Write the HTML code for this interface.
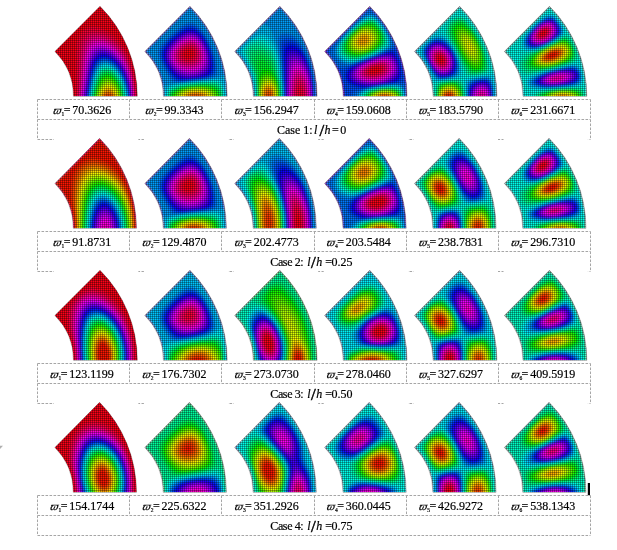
<!DOCTYPE html><html><head><meta charset="utf-8"><title>Mode shapes</title><style>html,body{margin:0;padding:0;background:#fff}svg{display:block}text{font-family:"Liberation Serif","DejaVu Serif",serif;font-size:12px;fill:#000;stroke:#000;stroke-width:0.2px}.w{font-size:11.5px;font-style:italic}.s{font-size:5.5px}.sl{font-size:17px;stroke-width:0.5px}.i{font-style:italic}</style></head><body>
<svg width="617" height="550" viewBox="0 0 617 550">
<defs><filter id="bl" x="-0.05" y="-0.05" width="1.1" height="1.1"><feGaussianBlur stdDeviation="0.9"/></filter><path id="sec" d="M63.5 0H127.3A127.3 127.3 0 0 0 90 -90L44.9 -44.9A63.5 63.5 0 0 1 63.5 0z"/><clipPath id="cl"><use href="#sec"/></clipPath><pattern id="mp" width="2" height="2" patternUnits="userSpaceOnUse"><rect width="2" height="1" fill="#000" fill-opacity="0.31"/><rect width="1" height="2" fill="#000" fill-opacity="0.31"/></pattern></defs>
<rect width="617" height="550" fill="#fff"/>
<path d="M37.5 99.5H590.5M37.5 119.5H590.5M37.5 139.5H590.5M37.5 99.5V139.5M590.5 99.5V139.5M129.5 99.5V119.5M221.5 99.5V119.5M314.5 99.5V119.5M406.5 99.5V119.5M498.5 99.5V119.5M37.5 231.5H590.5M37.5 251.5H590.5M37.5 271.5H590.5M37.5 231.5V271.5M590.5 231.5V271.5M129.5 231.5V251.5M221.5 231.5V251.5M314.5 231.5V251.5M406.5 231.5V251.5M498.5 231.5V251.5M37.5 363.5H590.5M37.5 383.5H590.5M37.5 403.5H590.5M37.5 363.5V403.5M590.5 363.5V403.5M129.5 363.5V383.5M221.5 363.5V383.5M314.5 363.5V383.5M406.5 363.5V383.5M498.5 363.5V383.5M37.5 495.5H590.5M37.5 515.5H590.5M37.5 535.5H590.5M37.5 495.5V535.5M590.5 495.5V535.5M129.5 495.5V515.5M221.5 495.5V515.5M314.5 495.5V515.5M406.5 495.5V515.5M498.5 495.5V515.5" fill="none" stroke="#a6a6a6" stroke-width="1" stroke-dasharray="2.6 1.4"/><path d="M54 5.5h84.4v93h-84.4zM143.9 5.5h84.4v93h-84.4zM233.8 5.5h84.4v93h-84.4zM323.7 5.5h84.4v93h-84.4zM413.6 5.5h84.4v93h-84.4zM503.5 5.5h84.4v93h-84.4zM54 137.5h84.4v93h-84.4zM143.9 137.5h84.4v93h-84.4zM233.8 137.5h84.4v93h-84.4zM323.7 137.5h84.4v93h-84.4zM413.6 137.5h84.4v93h-84.4zM503.5 137.5h84.4v93h-84.4zM54 269.5h84.4v93h-84.4zM143.9 269.5h84.4v93h-84.4zM233.8 269.5h84.4v93h-84.4zM323.7 269.5h84.4v93h-84.4zM413.6 269.5h84.4v93h-84.4zM503.5 269.5h84.4v93h-84.4zM54 401.5h84.4v93h-84.4zM143.9 401.5h84.4v93h-84.4zM233.8 401.5h84.4v93h-84.4zM323.7 401.5h84.4v93h-84.4zM413.6 401.5h84.4v93h-84.4zM503.5 401.5h84.4v93h-84.4z" fill="#fff"/>
<g transform="translate(10.00 96.3)"><g clip-path="url(#cl)"><g filter="url(#bl)"><rect x="40" y="-100" width="100" height="110" fill="#ff0013"/><path fill="#ff0039" d="M65.8 2.1l60.5 1.9 0-7.5-0.5-7.5-1-7.4-2.3-10.1-3.4-9.9-1.2-2.7-2.7-5.3-2.4-3.7-3.6-4.8-2.1-2.2-2.1-2.1-6-4.6-4-2.3-2.9-1.3-4.2-1.3-4-0.6-2.3 0.1-3.1 0.7-3.3 1.8-2.8 2.4-2.4 3-1.6 3.4-1 3.5-0.4 2.5-0.6 8 0 34.1-0.2 7.2z"/><path fill="#ff0060" d="M67.8 2.1l57.3 1.8 0-5.9-0.4-5.9-1.2-8.8-2.3-10-2.4-7-2.4-5.4-1.3-2.6-3.1-5-2.7-3.5-4.1-4.3-6.3-4.8-6.4-3.2-3.5-1-3.2-0.4-2.9 0.2-3.3 0.9-1.6 0.9-2.2 1.8-2.2 3-1.4 2.9-1 3.3-0.6 3-0.8 6.3-0.5 8.8-0.8 25.2z"/><path fill="#ff0086" d="M68.9 2.2l55.5 1.7-0.3-10.3-1.4-10.2-1.3-5.7-2.1-7-3.3-7.8-3-5.3-4-5.4-2-2.2-3.8-3.4-3.4-2.5-1.6-1-4.6-2.2-4.1-1.1-2.4-0.3-2.2 0.1-2.9 0.7-2.5 1.3-2.1 1.9-1.8 2.5-1.3 2.7-1.9 7.3-0.8 6.1-1.9 31.3z"/><path fill="#ff00ac" d="M69.7 2.2l54.2 1.7-0.3-8.8-1.3-10.1-2-8.6-3.5-9.5-4.2-7.7-4.5-5.7-2.9-2.9-3.8-3.1-2.6-1.7-4.2-2.1-3.3-1-3.4-0.4-2.2 0.1-2.8 0.8-1.6 0.9-2.2 1.8-1.2 1.5-1.9 3.6-1.8 6-1.3 8.5-2 25.8z"/><path fill="#ff00d2" d="M70.6 2.2l52.8 1.7-0.3-8.8-1.4-10.1-1.3-5.6-1.7-5.6-2.8-6.7-3.6-6.2-4.6-5.8-3.2-3.1-3.5-2.8-2.4-1.5-3.1-1.5-2.5-0.9-2.4-0.5-2.5-0.1-3.2 0.6-2.2 1-2.2 1.8-1.2 1.4-1.6 2.7-2 5.8-1.1 5.6z"/><path fill="#ff00f9" d="M71.3 2.2l51.7 1.7-0.4-8.8-1.2-8.6-0.9-4.2-1.6-5.6-3.2-8-1.9-3.5-2.6-4-3.7-4.5-3.2-3.1-4.3-3.2-2.9-1.6-2.7-1.1-3-0.7-2.8-0.1-2 0.3-2.6 1.1-2.2 1.7-1.3 1.5-1.7 2.8-1.7 4.6-1.6 7.5-1 7.6-2 19.5z"/><path fill="#df00ff" d="M72.1 2.3l50.4 1.6-0.5-10.2-1.1-7.1-2.2-8.4-2-5.4-3.3-6.4-2.3-3.5-2.8-3.6-4.2-4.1-2.9-2.3-2.1-1.3-4.8-2.1-3.5-0.6-2.1 0.1-1.9 0.4-2.5 1.2-2.1 1.9-1.8 2.5-1 2-1.3 3.6-1 4-0.9 5.1z"/><path fill="#b900ff" d="M72.8 2.3l49.3 1.5-0.4-8.3-1.1-7.5-0.9-4.2-1.2-4.1-0.9-2.7-2.3-5.3-1.3-2.6-3.6-5.5-3.4-4-4.7-4.3-4.8-2.9-3.3-1.2-2-0.3-1.4-0.1-2.9 0.4-1.8 0.7-1.5 1-2.1 2.1-1.7 2.7-1.8 4.6-1.1 4.1-1.8 11z"/><path fill="#9300ff" d="M73.5 2.3l48.2 1.5-0.5-8.6-1.4-8.5-2.4-8.3-2.6-5.9-2.5-4.4-3.3-4.7-4.2-4.4-3-2.5-2.8-1.7-2.6-1.2-2.4-0.7-2.3-0.3-2 0.2-1.8 0.4-2.4 1.4-2.1 2-1.2 1.8-2 4.3-1.6 5.7-1.4 7.7z"/><path fill="#6c00ff" d="M74.1 2.3l47.2 1.5-0.4-7.2-0.8-5.6-1-4.7-1.4-5-2.7-6.7-2-3.8-1.6-2.4-1.6-2.4-2.6-3.1-4.5-4.2-4-2.6-3.3-1.3-2-0.4-2.8 0-0.9 0.2-1.8 0.6-2.3 1.6-1.4 1.4-1.8 2.8-1.9 4.7-1.5 5.7z"/><path fill="#4600ff" d="M74.8 2.4l46.1 1.4-0.2-4.3-1.1-8.5-1.3-5.6-2.3-6.7-3.1-6.4-4.1-6-3.9-4.3-4.9-3.7-1.9-1-3-1-2.2-0.3-2.4 0.2-1.8 0.6-2.4 1.5-2.6 3.2-2.1 4.4-1.7 5.9-1.5 7.7z"/><path fill="#2000ff" d="M75.5 2.4l44.9 1.4-0.3-5.7-0.8-5.7-0.9-4.2-1.6-5.4-2.1-5.3-2.8-5.2-3.1-4.5-4-4.4-2.2-1.9-2.5-1.7-2.5-1.2-2.7-0.8-1.7-0.2-2.9 0.4-3.3 1.8-2.1 2.4-1.1 1.8-2 4.8-1.7 6.4z"/><path fill="#0006ff" d="M76.1 2.4l43.9 1.4-0.4-5.7-1.1-7-1.9-6.9-3.3-7.8-3.7-6.1-2.7-3.4-3.2-3.1-4.1-2.9-3.6-1.4-2.1-0.3-2 0.1-2.9 1.1-1.3 0.9-1.4 1.4-1.3 1.8-2.1 4.4-1.9 6.2-1.7 8.4z"/><path fill="#002dff" d="M76.7 2.4l42.8 1.4-0.4-5.7-1.2-7-1.5-5.4-2-5.3-2.8-5.5-3.8-5.5-3.6-3.8-2.9-2.3-3-1.6-1.8-0.6-2-0.3-2 0.1-1.8 0.4-1.6 0.9-1.6 1.3-1.9 2.4-2.2 4.6-2.2 7.5z"/><path fill="#0053ff" d="M77.3 2.4l41.7 1.3-0.3-4.2-1.1-7-1-4.1-2.4-6.6-3.6-7-2.8-4-4.3-4.5-2.6-1.9-2.4-1.2-2.2-0.7-2.8-0.2-1.3 0.2-2.5 1.1-1.5 1.2-1.4 1.6-2.3 4.1-2.1 6.1-1.4 5.9z"/><path fill="#0079ff" d="M77.9 2.4l40.6 1.3-0.7-7-1.1-5.5-1.2-4-2-5.3-2.4-4.7-2.5-3.9-1.8-2.3-2.7-2.8-2.9-2.2-3.3-1.6-1.8-0.5-2.4-0.1-1.8 0.4-2.4 1.4-1.5 1.4-1.3 1.8-1.2 2.1-1.3 3-2.3 8z"/><path fill="#009fff" d="M78.5 2.5l39.5 1.2-0.9-7.8-0.7-3.3-2-6.7-1.6-3.9-2.6-4.9-2.9-4.1-2.7-3-3.8-2.9-1.2-0.7-2.2-0.8-1.6-0.3-2.4 0.1-1.8 0.6-1.6 1-2.3 2.4-2.3 4.2-2.1 6.2-1.6 6.3z"/><path fill="#00c6ff" d="M79.1 2.5l38.4 1.2-0.6-5.6-0.8-4.1-1.5-5.4-2.6-6.5-2.7-4.9-1.6-2.3-3.9-4.3-2.5-1.9-3.4-1.6-2.1-0.3-1.9 0.1-1.8 0.5-1.6 1-2.2 2.2-1.3 2-1.2 2.5-2.2 6.4-1.8 7.4z"/><path fill="#00ecff" d="M79.7 2.5l37.2 1.2-0.6-5.6-0.8-4-1.1-4.1-2.5-6.5-1.9-3.7-3.2-4.7-2.5-2.7-2.5-2-2.3-1.3-1.8-0.6-1.4-0.3-1.9 0.1-2.6 0.9-1.6 1.2-1.9 2.3-1.5 2.5-1.1 2.7-2.3 7.2z"/><path fill="#00ffec" d="M80.2 2.5l36.2 1.2-0.7-5.5-1.2-5.5-2.2-6.5-2.4-5-2.5-3.9-2.6-3.1-2.3-2-1.3-0.9-2.3-1.1-3.1-0.6-1.9 0.3-1.7 0.7-1.8 1.4-1.2 1.4-2.6 4.6-1.9 5.4-1.6 5.8z"/><path fill="#00ffc6" d="M80.8 2.5l35 1.1-0.5-4.3-1.1-5.2-1.2-4.1-1.4-3.7-2.5-5-1.3-2-2.6-3.3-2.7-2.5-3.2-1.8-2-0.5-2-0.1-1.8 0.5-1.7 0.9-2 2-2.4 4-2.2 5.8-1.5 5.4z"/><path fill="#00ff9f" d="M81.4 2.6l33.8 1-0.7-5.4-0.9-4-2.2-6.6-2.5-5-2.3-3.5-1.9-2.2-2.7-2.4-2.7-1.4-1.7-0.5-2.8 0.1-2.5 1.2-2.3 2.3-1.4 2.1-1.3 2.6-1.6 4.4-2.8 10.4z"/><path fill="#00ff79" d="M82 2.6l32.7 1-1.4-8.1-2.6-7.8-2.2-4.3-1.3-2-1.2-1.7-2.4-2.6-3.5-2.3-3-0.8-1.3 0-1.5 0.4-1.7 0.9-1.5 1.4-1.5 1.9-2 3.8-0.6 1.6-2.4 7.6z"/><path fill="#00ff53" d="M82.6 2.6l31.5 1-0.6-4.1-1.1-4.9-1.4-4.3-3-6.2-1.7-2.5-2.4-2.8-2.3-1.8-2.1-1.1-3-0.5-2.7 0.8-2.4 1.9-1.4 1.9-1.4 2.5-2 4.9-1.3 4.1z"/><path fill="#00ff2d" d="M83.2 2.6l30.3 1-0.6-4.1-0.9-3.9-2.3-6.5-2.6-4.9-3.7-4.5-2.5-1.8-3.1-1-2.8 0.3-1.7 0.9-1.5 1.4-2.1 2.9-2.2 4.8-2.9 9.4z"/><path fill="#00ff06" d="M83.8 2.6l29.1 0.9-0.9-5.3-1.5-5.2-1.2-3.1-1.6-3.2-2.4-3.5-2.1-2.2-2-1.5-3.1-1.1-1.8 0-2.1 0.8-1.4 1-1.7 1.9-0.8 1.3-1.2 2.1-1.9 4.8-2.2 7.3z"/><path fill="#20ff00" d="M84.4 2.7l27.9 0.8-0.7-4.1-1-3.9-1.1-3.2-2.3-4.8-3-4.1-1.6-1.5-2.5-1.5-2.6-0.6-1.8 0.3-2.6 1.5-3 4-2.9 7z"/><path fill="#46ff00" d="M85 2.7l26.7 0.8-1.8-7.9-1.4-3.8-1.9-3.6-1.5-2.2-2.2-2.4-3.2-1.9-1.9-0.4-1.8 0.3-1.8 0.9-1.8 1.6-1.7 2.5-1.1 2.1-1.9 4.7z"/><path fill="#6cff00" d="M85.6 2.7l25.4 0.8-0.7-4-0.7-2.5-1.4-3.9-1.7-3.4-1.8-2.6-2.1-2.2-2.6-1.6-1.9-0.4-1.9 0.2-1.3 0.6-2 1.7-1.6 2.1-2.3 4.6z"/><path fill="#93ff00" d="M86.3 2.7l24.1 0.8-1.6-6.7-0.9-2.4-2.3-4.5-2.1-2.6-2.2-1.9-1-0.5-2-0.5-1.9 0.2-2.5 1.5-2.4 3-1.6 3.1-1.3 3.2z"/><path fill="#b9ff00" d="M87 2.7l22.7 0.7-0.9-3.9-1.2-3.8-1.8-3.7-1.1-1.7-2.1-2.4-2.1-1.3-1.9-0.6-1 0-1.8 0.5-1.7 1.2-1.7 2-2.5 4.6-1.5 3.8z"/><path fill="#dfff00" d="M87.7 2.8l21.3 0.6-1.8-6.4-1.3-2.9-1.2-2-1.9-2.3-1.3-1.1-2.7-1.1-1.9 0.2-1.7 0.8-1.1 0.9-1.4 1.7-1.7 2.8-1.1 2.4z"/><path fill="#fff900" d="M88.4 2.8l19.8 0.6-1.4-5.1-1.8-3.9-2.1-2.8-1-0.9-1-0.7-1.9-0.7-1.9 0.1-0.9 0.3-2.5 2.1-2.6 4.1z"/><path fill="#ffd200" d="M89.2 2.8l18.3 0.6-1.5-4.7-1.9-3.8-2.3-2.6-2.6-1.3-1.9 0.1-0.9 0.3-0.9 0.5-1.7 1.7-2.6 4.3z"/><path fill="#ffac00" d="M90.1 2.8l16.5 0.6-1.2-3.8-2.2-3.9-2-2-1.9-0.9-0.9-0.1-1.9 0.5-2.6 2.2-2 3.1z"/><path fill="#ff8600" d="M91 2.9l14.7 0.4-1.5-3.9-1.9-2.8-1.9-1.5-1.9-0.5-1.9 0.4-1.7 1.3-2.4 3.3z"/><path fill="#ff6000" d="M92 2.9l12.7 0.4-1.4-3.1-1-1.4-1.7-1.6-2-0.7-1.9 0.4-1.8 1.4-1.8 2.5z"/><path fill="#ff3900" d="M93.2 2.9l10.3 0.4-2.1-3.3-1.8-1.2-1-0.2-1.8 0.4-1 0.6-1.1 1.1z"/><path fill="#ff1300" d="M94.8 3l7.1 0.2-1.4-1.6-0.9-0.6-1-0.2-0.9 0-0.9 0.4-1 0.6z"/></g></g></g>
<g transform="translate(99.90 96.3)"><g clip-path="url(#cl)"><g filter="url(#bl)"><rect x="40" y="-100" width="100" height="110" fill="#ff0013"/><path fill="#ff0039" d="M63.5 2l63.7 2 0.1-7.5-0.4-6.1-0.7-7.4-0.7-4.5-2.6-11.8-1.7-5.8-3.1-8.5-3-6.9-2-4-2.9-5.3-4.8-7.7-3.5-4.9-4.7-5.9-4-4.5-3.2-3.2-45.1 45.1 2.6 2.7 2.9 3.5 3.4 4.9 3.3 6 2.1 4.8 1.5 4.2 1.8 7.3 0.8 6zM88.2-37.4l-2.5-0.7-1.8-1.6-0.6-1.8 0.2-1.7 0.9-1.8 2.4-1.9 2.5-0.7 1.4 0.2 1.7 0.9 1.4 2.1 0.3 1.2-0.3 2.3-0.5 1.1-1.4 1.4-1.7 0.8z"/><path fill="#ff0060" d="M63.5 2l63.7 2 0.1-7.5-0.4-6.1-0.7-7.4-0.7-4.5-2.6-11.8-1.7-5.8-3.1-8.5-3-6.9-2-4-2.9-5.3-4.8-7.7-3.5-4.9-4.7-5.9-4-4.5-3.2-3.2-45.1 45.1 2.6 2.7 2.9 3.5 3.4 4.9 3.3 6 2.1 4.8 1.5 4.2 1.8 7.3 0.8 6zM89.4-34.6l-3-0.2-2.5-1-1.3-0.9-1.4-1.7-0.5-1-0.3-1.7 0.1-1.8 0.4-1.2 1.1-1.8 1.3-1.5 3.1-2 2.8-0.8 2.2 0.2 1.3 0.5 1.8 1.3 1.7 2.7 0.6 2.5 0 1.3-0.4 2.1-0.4 0.9-1.4 1.9-0.8 0.7-1.7 0.9z"/><path fill="#ff0086" d="M63.5 2l63.7 2 0.1-7.5-0.4-6.1-0.7-7.4-0.7-4.5-2.6-11.8-1.7-5.8-3.1-8.5-3-6.9-2-4-2.9-5.3-4.8-7.7-3.5-4.9-4.7-5.9-4-4.5-3.2-3.2-45.1 45.1 2.6 2.7 2.9 3.5 3.4 4.9 3.3 6 2.1 4.8 1.5 4.2 1.8 7.3 0.8 6zM90.2-32.4l-3-0.1-2.3-0.5-2.6-1.3-1.8-1.5-1.3-1.7-0.5-0.9-0.5-2.1 0.2-2.5 0.4-1.1 1-1.9 1.9-2.3 1.4-1.2 2.4-1.5 1.8-0.7 1.9-0.4 2.9 0.2 1.5 0.6 2.2 1.7 1.5 2.1 0.5 1.2 0.8 2.5 0.2 2.7-0.7 3.2-0.6 1.2-1.8 2.1-1.9 1.2z"/><path fill="#ff00ac" d="M63.5 2l63.7 2 0.1-7.5-0.4-6.1-0.7-7.4-0.7-4.5-2.6-11.8-1.7-5.8-3.1-8.5-3-6.9-2-4-2.9-5.3-4.8-7.7-3.5-4.9-4.7-5.9-4-4.5-3.2-3.2-45.1 45.1 2.6 2.7 2.9 3.5 3.4 4.9 3.3 6 2.1 4.8 1.5 4.2 1.8 7.3 0.8 6zM91.8-30.7l-2.9 0.3-2-0.2-3.2-0.9-2.6-1.3-1.7-1.4-1.3-1.6-1-1.8-0.6-2-0.1-2.3 0.3-1.3 1.1-2.6 1.2-1.7 2-2.1 2.9-2.2 1.7-0.9 2.7-0.9 2.1-0.2 2.2 0.3 2.6 1.3 1 0.9 2.4 3.2 1.4 3.7 0.4 2.6 0 1.4-0.5 2.9-0.6 1.6-1.2 1.7-2.6 2.2z"/><path fill="#ff00d2" d="M63.5 2l63.7 2 0.1-7.5-0.4-6.1-0.7-7.4-0.7-4.5-2.6-11.8-1.7-5.8-3.1-8.5-3-6.9-2-4-2.9-5.3-4.8-7.7-3.5-4.9-4.7-5.9-4-4.5-3.2-3.2-45.1 45.1 2.6 2.7 2.9 3.5 3.4 4.9 3.3 6 2.1 4.8 1.5 4.2 1.8 7.3 0.8 6zM89.5-28.7l-3-0.2-2.1-0.5-2.8-1.2-2.1-1.4-2.3-2.3-1.6-2.6-0.8-2.9 0-1.2 0.4-2.6 1.3-2.7 1.1-1.6 2-2.2 2.1-1.8 2.3-1.5 3.5-1.5 3-0.4 2 0.2 1.6 0.6 2.4 1.6 1.8 2 1.4 2.3 1.5 3.8 0.5 2.4 0.1 2.8-0.4 2.9-1 2.5-2.1 2.5-3.3 2-3.6 0.9z"/><path fill="#ff00f9" d="M63.5 2l63.7 2 0.1-7.5-0.4-6.1-0.7-7.4-0.7-4.5-2.6-11.8-1.7-5.8-3.1-8.5-3-6.9-2-4-2.9-5.3-4.8-7.7-3.5-4.9-4.7-5.9-4-4.5-3.2-3.2-45.1 45.1 2.6 2.7 2.9 3.5 3.4 4.9 3.3 6 2.1 4.8 1.5 4.2 1.8 7.3 0.8 6zM91.9-27.2l-2.8 0.2-3.7-0.5-3.8-1.4-2.8-1.8-1.2-1-2.3-2.8-1-1.8-0.6-1.8-0.3-2.1 0.1-2.4 1.1-3 1.7-2.7 1.9-2.1 2.9-2.5 3.1-2 2.5-1.1 2.9-0.7 2.2 0.1 2.3 0.6 2.1 1.2 2.3 2.3 2.2 3.4 1 2.4 0.9 2.8 0.4 2.4 0.1 2.8-0.4 2.9-1 2.6-1.6 2.2-2.8 2.2-2.6 1.1z"/><path fill="#df00ff" d="M63.5 2l63.7 2 0.1-7.5-0.4-6.1-0.7-7.4-0.7-4.5-2.6-11.8-1.7-5.8-3.1-8.5-3-6.9-2-4-2.9-5.3-4.8-7.7-3.5-4.9-4.7-5.9-4-4.5-3.2-3.2-45.1 45.1 2.6 2.7 2.9 3.5 3.4 4.9 3.3 6 2.1 4.8 1.5 4.2 1.8 7.3 0.8 6zM90.5-25.4l-3.9-0.3-3.7-1-1.8-0.8-2.9-1.9-2.8-2.7-1.8-2.7-1.4-3.7-0.2-2.1 0.5-3.3 0.9-2.1 1.4-2.2 2.8-3.2 2.1-1.9 3.8-2.6 3.4-1.5 3-0.6 2.3 0.1 2.6 0.9 1.8 1.1 2.9 2.9 2.1 3.4 1.1 2.5 1.1 3.7 0.5 3.8 0 2.5-0.3 2-1 2.9-1.4 2.1-2 1.9-2.7 1.5-3.6 1z"/><path fill="#b900ff" d="M63.5 2l63.7 2 0.1-7.5-0.4-6.1-0.7-7.4-0.7-4.5-2.6-11.8-1.7-5.8-3.1-8.5-3-6.9-2-4-2.9-5.3-4.8-7.7-3.5-4.9-4.7-5.9-4-4.5-3.2-3.2-45.1 45.1 2.6 2.7 2.9 3.5 3.4 4.9 3.3 6 2.1 4.8 1.5 4.2 1.8 7.3 0.8 6zM93.7-24.1l-1.8 0.2-4.9-0.2-4.1-1.1-3.5-1.7-1.7-1.2-2.4-2.2-1.8-2.4-1.8-3.3-0.9-3.4 0.2-3.5 0.7-2.3 2.1-3.6 2.5-2.9 2.8-2.5 4.6-3.1 1.7-0.8 4.2-1.2 2.3 0.1 3.3 1 2.4 1.7 1.9 2 2.3 3.3 1.2 2.4 1.4 3.8 0.9 4 0.2 4.2-0.3 2.4-1 3.1-0.6 1.1-2.3 2.8-2.3 1.5-1.7 0.8z"/><path fill="#9300ff" d="M63.5 2l63.7 2 0.1-7.5-0.4-6.1-0.7-7.4-0.7-4.5-2.6-11.8-1.7-5.8-3.1-8.5-3-6.9-2-4-2.9-5.3-4.8-7.7-3.5-4.9-4.7-5.9-4-4.5-3.2-3.2-45.1 45.1 2.6 2.7 2.9 3.5 3.4 4.9 3.3 6 2.1 4.8 1.5 4.2 1.8 7.3 0.8 6zM91.3-22.3l-4.9-0.4-2-0.5-3.2-1.2-3.7-2.2-3-2.8-2.6-3.6-1.6-3.4-0.7-3.3 0.1-2.9 0.8-2.8 1.5-2.7 2.4-3.1 4.8-4.4 3.9-2.6 1.6-0.9 2.7-1 3-0.5 3 0.4 2.3 1 1.7 1.2 3 3 2.2 3.4 1.8 3.7 1.6 5.2 0.6 4.1-0.2 4.9-0.6 2.3-1.6 3.2-1.4 1.7-2.5 1.9-1.7 0.8-3.6 1.1z"/><path fill="#6c00ff" d="M63.5 2l63.7 2 0.1-7.5-0.4-6.1-0.7-7.4-0.7-4.5-2.6-11.8-1.7-5.8-3.1-8.5-3-6.9-2-4-2.9-5.3-4.8-7.7-3.5-4.9-4.7-5.9-4-4.5-3.2-3.2-45.1 45.1 2.6 2.7 2.9 3.5 3.4 4.9 3.3 6 2.1 4.8 1.5 4.2 1.8 7.3 0.8 6zM89.8-20.9l-3.3-0.3-3.8-1.1-3-1.3-3.9-2.8-1.5-1.5-2.4-3.1-2.2-4-1.1-3.7-0.2-3.1 0.5-2.6 0.6-1.6 2.4-3.9 3.9-4.2 2.8-2.4 4.6-3.1 2.5-1.2 2.9-0.9 3.2-0.1 2.7 0.7 2.8 1.6 2.1 1.9 3.3 4.4 1.9 3.7 1.9 5.1 1.1 5.5 0.1 4.2-0.4 2.9-1 3-0.9 1.7-1.2 1.5-2.1 1.8-2.3 1.2-1.8 0.6-3.6 0.8z"/><path fill="#4600ff" d="M63.5 2l63.7 2 0.1-7.5-0.4-6.1-0.7-7.4-0.7-4.5-2.6-11.8-1.7-5.8-3.1-8.5-3-6.9-2-4-2.9-5.3-4.8-7.7-3.5-4.9-4.7-5.9-4-4.5-3.2-3.2-45.1 45.1 2.6 2.7 2.9 3.5 3.4 4.9 3.3 6 2.1 4.8 1.5 4.2 1.8 7.3 0.8 6zM89.1-19.6l-3.6-0.3-3.7-1.2-2.7-1.3-3-2.1-3.5-3.7-1.7-2.3-1.4-2.4-1.8-4.5-0.5-3.7 0.5-3.4 0.8-2 1.6-2.8 2.4-3 4-3.9 2.9-2.3 3.9-2.5 4.4-1.8 3.2-0.3 1.8 0.2 1.7 0.5 2.2 1.1 2.7 2.2 2.7 3.2 1.5 2.3 1.9 3.7 2.3 6.5 1 5.5 0.1 4.2-0.4 3-1 3-1.5 2.6-2.4 2.3-2.5 1.1-3.6 1-3.7 0.7z"/><path fill="#2000ff" d="M63.5 2l63.7 2 0.1-7.5-0.4-6.1-0.7-7.4-0.7-4.5-2.6-11.8-1.7-5.8-3.1-8.5-3-6.9-2-4-2.9-5.3-4.8-7.7-3.5-4.9-4.7-5.9-4-4.5-3.2-3.2-45.1 45.1 2.6 2.7 2.9 3.5 3.4 4.9 3.3 6 2.1 4.8 1.5 4.2 1.8 7.3 0.8 6zM90.2-18.7l-4.7 0.1-2.9-0.6-4.2-2-2.7-2-1.7-1.6-3.6-4.5-3-5.6-0.9-2.7-0.4-2.6 0-2.4 0.6-2.7 1.6-3.3 2.2-3 3.3-3.6 5-4.2 4.6-3 3.5-1.5 3.4-0.6 3.4 0.5 3.2 1.6 2.2 1.8 2 2.1 3.1 4.5 2.5 5 2.2 6.6 0.8 4.2 0.2 5.6-0.4 3-0.9 2.9-1.5 2.8-1.6 1.4-1.7 1-3.5 1.2-5.4 1.1z"/><path fill="#0006ff" d="M63.5 2l63.7 2 0.1-7.5-0.4-6.1-0.7-7.4-0.7-4.5-2.6-11.8-1.7-5.8-3.1-8.5-3-6.9-2-4-2.9-5.3-4.8-7.7-3.5-4.9-4.7-5.9-4-4.5-3.2-3.2-45.1 45.1 2.6 2.7 2.9 3.5 3.4 4.9 3.3 6 2.1 4.8 1.5 4.2 1.8 7.3 0.8 6zM92.3-18l-4.7 0.4-3.1 0-2.8-0.4-3-1.4-3-2.1-1.6-1.4-3.2-3.7-2.9-4.6-1.9-4-0.8-2.6-0.4-2.6 0.1-3.2 1.2-3.7 1.9-3.1 3.1-3.7 2.6-2.6 3.5-3 4.5-3.2 3.4-1.8 2-0.7 2.8-0.5 2.5 0.2 1.4 0.4 1.5 0.6 2.5 1.6 3.1 3 2.5 3.3 2.8 4.9 2.7 6.5 1.4 5.4 0.7 5.6 0 2.9-0.7 4.4-1.2 3-0.9 1.3-0.8 0.7-3.7 1.8-2.4 0.7z"/><path fill="#002dff" d="M63.5 2l63.7 2 0.1-7.5-0.4-6.1-0.7-7.4-0.7-4.5-2.6-11.8-1.7-5.8-3.1-8.5-3-6.9-2-4-2.9-5.3-4.8-7.7-3.5-4.9-4.7-5.9-4-4.5-3.2-3.2-45.1 45.1 2.6 2.7 2.9 3.5 3.4 4.9 3.3 6 2.1 4.8 1.5 4.2 1.8 7.3 0.8 6zM85.9-16.7l-4.7-0.1-2.1-0.6-3.3-2.2-4.1-4-1.8-2.4-2.5-4-2.3-4.7-1.3-4.3-0.2-4.2 0.6-2.6 0.7-1.7 1.9-3.2 4.3-5 5.5-5 5.2-3.7 4.3-2.2 2.9-0.7 3 0 2 0.6 2.6 1.2 3.4 2.8 3.6 4.3 2.9 4.9 2.8 6.4 1.7 5.4 1.1 5.6 0.2 2.8-0.1 4.3-0.5 3-1.2 3-1.9 1.7-1.7 0.9-3.6 1.2-4.5 1-4.6 0.7z"/><path fill="#0053ff" d="M63.5 2l63.7 2 0.1-7.5-0.4-6.1-0.7-7.4-0.7-4.5-2.6-11.8-1.7-5.8-3.1-8.5-3-6.9-2-4-2.9-5.3-4.8-7.7-3.5-4.9-4.7-5.9-4-4.5-3.2-3.2-45.1 45.1 2.6 2.7 2.9 3.5 3.4 4.9 3.3 6 2.1 4.8 1.5 4.2 1.8 7.3 0.8 6zM87.9-16.1l-3.7 0.3-3.8 0-1.9-0.3-1.8-0.8-3.5-2.9-2-2.2-2.2-3-3.9-6.8-1.4-3.1-1.1-3.4-0.5-3.9 0.6-3.7 0.6-1.6 1.5-2.7 2.9-3.8 5.3-5.3 4.2-3.6 5.3-3.7 4.4-2 2-0.4 2.2-0.1 2.8 0.6 1.3 0.6 3.7 2.5 3.9 4.2 3.8 6 3.1 6.4 2.3 6.7 0.7 2.8 0.9 5.6 0.1 4.3-0.3 3-0.7 2.9-1 1.6-2 1.5-3.5 1.4-5.4 1.2-6.4 1z"/><path fill="#0079ff" d="M63.5 2l63.7 2 0.1-7.5-0.4-6.1-0.7-7.4-0.7-4.5-2.6-11.8-1.7-5.8-3.1-8.5-3-6.9-2-4-2.9-5.3-4.8-7.7-3.5-4.9-4.7-5.9-4-4.5-3.2-3.2-45.1 45.1 2.6 2.7 2.9 3.5 3.4 4.9 3.3 6 2.1 4.8 1.5 4.2 1.8 7.3 0.8 6zM94.5-16.2l-12 1.3-5.7-0.2-2.1-1-4-4-4.4-6.6-3.8-7.6-1.2-3.2-0.8-3.6 0.2-3.8 1.5-4.1 2.2-3.3 4.3-4.9 6.8-6.2 5.2-4 3.1-1.9 2.7-1.2 2-0.5 3.5 0 3.4 1.2 1.3 0.8 2.3 1.8 2.1 2.1 3.5 4.5 4.3 7.5 2.3 5.2 2.6 8.2 1.3 7.1 0.2 4.3-0.2 2.9-0.8 3-1.5 1.7-2.9 1.5-2.6 0.9-7.3 1.4z"/><path fill="#009fff" d="M63.5 2l63.7 2 0.1-7.5-0.4-6.1-0.7-7.4-0.7-4.5-2.6-11.8-1.7-5.8-3.1-8.5-3-6.9-2-4-2.9-5.3-4.8-7.7-3.5-4.9-4.7-5.9-4-4.5-3.2-3.2-45.1 45.1 2.6 2.7 2.9 3.5 3.4 4.9 3.3 6 2.1 4.8 1.5 4.2 1.8 7.3 0.8 6zM82.6-14.2l-3.7 0.3-4.7-0.2-1-0.3-0.9-0.7-2.1-2.2-3.9-5.8-5.6-11.1-1.8-4.7-0.6-2.7 0-3.2 0.6-2.4 0.9-1.9 2.1-3.2 5-5.6 5.4-5.1 5.6-4.8 5.3-3.8 2.5-1.3 2.9-0.9 2.3-0.1 1.3 0.2 2.5 0.9 4.8 3.6 5.5 6.7 4.4 7.5 4 9.3 1.4 4.1 1.1 4.2 1.2 7.2 0.2 2.9-0.2 4.4-0.7 1.5-1.9 1.6-1.7 0.8-4.5 1.4-9.1 1.5z"/><path fill="#00c6ff" d="M63.5 2l63.7 2 0.1-7.5-0.6-9.1-1-7.4-1.1-0.9-4.5 1.1-8 2.4-5.5 1-23.8 3-13 1.2-6.3 1.3-0.8 0.9 0.8 7.5z"/><path fill="#00ecff" d="M65.7 2.1l59.4 1.8 0.1-4.4-0.3-4.4-0.8-4.4-0.9-2.9-1.6-2.8-1.9-1.4-1.9-0.4-1.9 0-7.3 1-11.1 1.1-22 3-2.7 0.6-2.6 1.1-0.9 0.5-1.6 1.6-0.8 1.3-0.6 1.6-0.5 3.2z"/><path fill="#00ffec" d="M66.7 2.1l57.5 1.8 0-5.9-0.3-2.9-1-4.3-1.3-2.9-1-1.3-1.6-1.1-1.9-0.7-4.1-0.1-3.4 0.2-12.9 1.1-7.3 0.9-9.2 1.4-7.2 1.8-1.8 0.8-1.7 1.2-1.5 2-0.7 1.6-0.5 2.4z"/><path fill="#00ffc6" d="M67.5 2.1l55.9 1.8 0.1-4.4-0.5-4.4-0.7-2.9-1.2-2.8-0.8-1.1-1.1-0.9-1.9-1-2.7-0.5-8.6 0-8.3 0.6-9.2 1.1-9.6 1.7-3.1 0.8-2.7 1-2.9 1.9-1.4 1.7-0.8 1.9-0.3 1.5z"/><path fill="#00ff9f" d="M68.2 2.1l54.5 1.8 0.1-4.4-0.3-2.9-1-3.8-1-2.2-2.1-2.1-1.9-1-2.9-0.6-4.7-0.3-4.6 0.1-6.5 0.4-11.9 1.5-6.4 1.3-4.5 1.4-1.8 0.8-1.7 1.2-0.9 0.7-1.2 1.6-0.9 2.5z"/><path fill="#00ff79" d="M69 2.2l53 1.6 0.1-4.3-0.7-4.3-1.1-2.8-0.9-1.4-1.8-1.6-2.9-1.2-3.4-0.6-8.8-0.2-5.6 0.4-11 1.4-6.3 1.4-3.6 1.2-2.6 1.3-2.7 2.2-1.1 1.9-0.5 1.7-0.2 1.6z"/><path fill="#00ff53" d="M69.8 2.2l51.5 1.6 0.1-2.9-0.5-4.3-1-2.8-1.2-1.8-2-1.7-1.9-0.9-3.8-0.9-4.2-0.4-6.1 0-7.4 0.6-6.4 0.9-6.3 1.4-4 1.4-3.6 2.1-1.1 0.9-1.1 1.4-0.6 1.2-0.4 1.7z"/><path fill="#00ff2d" d="M70.7 2.2l49.7 1.6 0.2-2.9-0.3-2.8-0.9-2.8-0.7-1.4-1.1-1.4-1.7-1.3-2.9-1.3-1.9-0.5-3.8-0.5-5.6-0.2-4.6 0.2-10.1 1.3-6.4 1.5-4.1 1.6-3.1 2-1.6 1.8-1.1 2.6z"/><path fill="#00ff06" d="M71.7 2.3l47.8 1.5 0.2-2.9-0.4-2.8-1.1-2.8-1.2-1.7-3-2.2-3.1-1.1-2.6-0.5-4.7-0.4-4.6 0-6.5 0.5-4.5 0.7-6.4 1.5-4.5 1.8-3.2 2.3-1.5 1.8-0.7 1.7z"/><path fill="#20ff00" d="M72.9 2.3l45.5 1.4 0.2-2.8-0.4-2.8-1.3-2.7-1.2-1.4-2.5-1.8-2.9-1.1-2.8-0.6-3.8-0.4-4.6-0.1-4.7 0.3-7.1 1-4.7 1.2-4.5 1.8-2.6 1.8-1.9 2-0.7 1.6-0.2 1.7z"/><path fill="#46ff00" d="M74.2 2.3l43 1.4 0.2-2.8-0.1-1.4-1.1-2.9-0.8-1.2-1.3-1.3-1.8-1.2-3.8-1.4-2.8-0.5-2.9-0.3-5.5 0-6.5 0.6-6.4 1.3-5.4 2.1-3 2.3-1.4 1.8-0.6 1.8z"/><path fill="#6cff00" d="M75.4 1.5l0.2 0.9 37.8 1.2 2.5 0 0.2-1.3-0.2-2.8-0.6-1.8-1-1.6-1.9-1.9-2.3-1.2-2.5-0.8-3.8-0.7-2.8-0.2-5.5 0.1-4.6 0.5-4.6 0.9-3.1 0.9-4.1 2-1.5 1.2-1.6 1.9-0.5 1.2z"/><path fill="#93ff00" d="M77 2.4l37.5 1.2 0.3-2.7-0.7-2.7-0.7-1.2-1.9-2-1.9-1.1-1.9-0.8-2.9-0.7-3.7-0.4-4.6 0-6.5 0.7-3.7 0.8-4.5 1.6-2.7 1.8-1.6 1.9-0.7 1.8z"/><path fill="#b9ff00" d="M78.2 1.5l0.2 1 34.6 1.1 0.3-1.4-0.2-2.7-0.5-1.3-0.9-1.3-1.3-1.3-2-1.2-3.3-1.1-5.8-0.7-6.5 0.3-4.6 0.8-3.6 1.1-2.7 1.3-2.2 1.7-1.2 1.9z"/><path fill="#dfff00" d="M80 2.5l31.5 1 0.3-2.6-0.2-1.4-0.6-1.3-1.3-1.6-1.9-1.3-1.8-0.8-3.9-0.9-5.5-0.3-4.7 0.4-3.6 0.7-3.6 1.2-2.1 1.1-1.6 1.4-0.9 1.3-0.4 1.2 0 1z"/><path fill="#fff900" d="M81.5 2.6l28.4 0.9 0.4-2.6-0.3-1.4-1.2-1.9-1.9-1.5-1.9-0.9-3.7-0.9-1.9-0.2-5.6 0.1-5.5 1-2.7 1-1.8 1-0.9 0.7-1.3 1.8-0.3 0.9z"/><path fill="#ffd200" d="M83.3 2.6l24.9 0.8 0.4-1.3 0-1.3-0.3-1.2-0.8-1.3-1.5-1.3-1.9-1-3.7-0.9-5.6-0.2-2.8 0.3-2.7 0.6-2.1 0.7-2.1 1.1-1.3 1.2-0.9 1.8 0 1z"/><path fill="#ffac00" d="M85.2 2.7l21.1 0.6 0.4-1.2 0.1-1.3-0.4-1.2-1-1.3-1.7-1.2-4.2-1.2-4.7-0.1-4.6 0.7-2.7 1.1-1.5 1-1.2 2.1 0 1z"/><path fill="#ff8600" d="M87.4 2.7l16.7 0.6 0.5-1.3 0-1.2-0.4-1.2-1.3-1.2-1.5-0.8-3.7-0.8-4.7 0.2-3.6 1.1-2 1.5-0.5 1.1 0 1z"/><path fill="#ff6000" d="M89.6 1.8l0.8 1 0.8 0.1 9.9 0.3 0.8-1.2 0-1.2-0.7-1.2-1.6-0.9-1.9-0.5-2.8-0.1-2.4 0.4-2.2 1.1-0.7 1.1z"/></g></g></g>
<g transform="translate(189.80 96.3)"><g clip-path="url(#cl)"><g filter="url(#bl)"><rect x="40" y="-100" width="100" height="110" fill="#ff0013"/><path fill="#ff0039" d="M63.5 2l44.6 1.4 0.1-2.6 0.5-2.5 1-1.5 0.9 0.3 1 2.3 0.1 4.1 15.5 0.5 0.1-7.5-0.4-6.1-0.7-7.4-0.7-4.5-2.6-11.8-1.7-5.8-3.1-8.5-3-6.9-2-4-2.9-5.3-4.8-7.7-3.5-4.9-4.7-5.9-4-4.5-3.2-3.2-45.1 45.1 2.6 2.7 2.9 3.5 3.4 4.9 3.3 6 2.1 4.8 1.5 4.2 1.8 7.3 0.8 6z"/><path fill="#ff0060" d="M63.5 2l41.9 1.3 0.4-6.2 1-5.1 0.6-1.7 0.9-1.2 0.8-0.5 1 0.1 1 0.6 0.8 0.9 1.3 2.6 1.2 5.4 0.1 5.4 12.7 0.4 0.1-7.5-0.4-6.1-0.7-7.4-0.7-4.5-2.6-11.8-1.7-5.8-3.1-8.5-3-6.9-2-4-2.9-5.3-4.8-7.7-3.5-4.9-4.7-5.9-4-4.5-3.2-3.2-45.1 45.1 2.6 2.7 2.9 3.5 3.4 4.9 3.3 6 2.1 4.8 1.5 4.2 1.8 7.3 0.8 6z"/><path fill="#ff0086" d="M63.5 2l40.3 1.3 0.5-7.4 1.1-7 1.4-3.8 0.8-1 1.8-0.5 2.1 1.2 1.1 1.3 1.2 2.2 1.1 3.1 1.1 5.4 0.2 6.9 11 0.3 0.1-7.5-0.4-6.1-0.7-7.4-0.7-4.5-2.6-11.8-1.7-5.8-3.1-8.5-3-6.9-2-4-2.9-5.3-4.8-7.7-3.5-4.9-4.7-5.9-4-4.5-3.2-3.2-45.1 45.1 2.6 2.7 2.9 3.5 3.4 4.9 3.3 6 2.1 4.8 1.5 4.2 1.8 7.3 0.8 6z"/><path fill="#ff00ac" d="M63.5 2l39.1 1.2 0.8-11 1.4-8 0.7-1.9 1.2-1.9 1.1-0.8 0.9 0 1.1 0.2 1 0.6 1.7 1.7 1.6 2.5 1.6 3.9 1.5 6.9 0.3 4.1 0 4.2 9.7 0.3 0.1-7.5-0.4-6.1-0.7-7.4-0.7-4.5-2.6-11.8-1.7-5.8-3.1-8.5-3-6.9-2-4-2.9-5.3-4.8-7.7-3.5-4.9-4.7-5.9-4-4.5-3.2-3.2-45.1 45.1 2.6 2.7 2.9 3.5 3.4 4.9 3.3 6 2.1 4.8 1.5 4.2 1.8 7.3 0.8 6z"/><path fill="#ff00d2" d="M63.5 2l38 1.2 1.1-14.5 1-6.3 1.2-3.8 0.7-1.2 0.8-0.9 0.8-0.4 0.9-0.1 1 0.1 1 0.5 2.3 1.9 1.5 2 1.1 2 1.4 3.4 1.5 5.9 0.5 3.5 0.3 5.6-0.1 2.8 8.7 0.3 0.1-7.5-0.4-6.1-0.7-7.4-0.7-4.5-2.6-11.8-1.7-5.8-3.1-8.5-3-6.9-2-4-2.9-5.3-4.8-7.7-3.5-4.9-4.7-5.9-4-4.5-3.2-3.2-45.1 45.1 2.6 2.7 2.9 3.5 3.4 4.9 3.3 6 2.1 4.8 1.5 4.2 1.8 7.3 0.8 6z"/><path fill="#ff00f9" d="M63.5 2l37 1.2 1.1-15.2 1.3-9.2 1-3 0.8-1.6 1.6-1.3 0.9-0.2 2.1 0.4 2.2 1.6 2.6 3.2 1.9 3.6 1 2.7 1.4 5.5 0.9 7 0.1 7.1 7.8 0.2 0.1-7.5-0.4-6.1-0.7-7.4-0.7-4.5-2.6-11.8-1.7-5.8-3.1-8.5-3-6.9-2-4-2.9-5.3-4.8-7.7-3.5-4.9-4.7-5.9-4-4.5-3.2-3.2-45.1 45.1 2.6 2.7 2.9 3.5 3.4 4.9 3.3 6 2.1 4.8 1.5 4.2 1.8 7.3 0.8 6z"/><path fill="#df00ff" d="M63.5 2l36.1 1.1 1.4-19.4 1.2-8.2 0.5-1.8 1.2-2.6 0.8-0.8 0.8-0.4 1.9-0.2 1 0.2 2.3 1.3 2.4 2.4 3 5.1 1 2.6 1.6 5.5 1 6.1 0.4 5.2 0 5.7 7.1 0.2 0.1-7.5-0.4-6.1-0.7-7.4-0.7-4.5-2.6-11.8-1.7-5.8-3.1-8.5-3-6.9-2-4-2.9-5.3-4.8-7.7-3.5-4.9-4.7-5.9-4-4.5-3.2-3.2-45.1 45.1 2.6 2.7 2.9 3.5 3.4 4.9 3.3 6 2.1 4.8 1.5 4.2 1.8 7.3 0.8 6z"/><path fill="#b900ff" d="M63.5 2l35.3 1.1 1.2-19.7 0.6-6.5 0.8-4.5 0.9-2.7 1.5-2.3 0.8-0.5 1.9-0.2 1 0.2 2.3 1 2.1 1.8 2.7 3.6 2.3 4.6 1.6 4.7 1.2 5.5 1 8.5 0 7.2 6.5 0.2 0.1-7.5-0.4-6.1-0.7-7.4-0.7-4.5-2.6-11.8-1.7-5.8-3.1-8.5-3-6.9-2-4-2.9-5.3-4.8-7.7-3.5-4.9-4.7-5.9-4-4.5-3.2-3.2-45.1 45.1 2.6 2.7 2.9 3.5 3.4 4.9 3.3 6 2.1 4.8 1.5 4.2 1.8 7.3 0.8 6z"/><path fill="#9300ff" d="M63.5 2l34.5 1.1 1.3-23.5 0.8-8 0.9-3.8 0.9-2 1-1.2 0.8-0.5 1.8-0.3 2.1 0.4 1.2 0.6 2.8 2.1 2.8 3.6 1.5 2.6 1.1 2.5 2.2 6.9 1.4 7 0.7 8.6 0 5.7 5.9 0.2 0.1-7.5-0.4-6.1-0.7-7.4-0.7-4.5-2.6-11.8-1.7-5.8-3.1-8.5-3-6.9-2-4-2.9-5.3-4.8-7.7-3.5-4.9-4.7-5.9-4-4.5-3.2-3.2-45.1 45.1 2.6 2.7 2.9 3.5 3.4 4.9 3.3 6 2.1 4.8 1.5 4.2 1.8 7.3 0.8 6z"/><path fill="#6c00ff" d="M63.5 2l33.9 1.1 1.3-29.9 0.6-5.2 0.7-2.9 1.2-2.5 1.5-1.3 1.8-0.4 2.1 0.3 2 0.9 1.7 1.2 2.9 3.1 2.4 3.8 2.3 5.3 1.1 3.3 1.2 5 1.4 9.9 0.2 10.1 5.4 0.2 0.1-7.5-0.4-6.1-0.7-7.4-0.7-4.5-2.6-11.8-1.7-5.8-3.1-8.5-3-6.9-2-4-2.9-5.3-4.8-7.7-3.5-4.9-4.7-5.9-4-4.5-3.2-3.2-45.1 45.1 2.6 2.7 2.9 3.5 3.4 4.9 3.3 6 2.1 4.8 1.5 4.2 1.8 7.3 0.8 6z"/><path fill="#4600ff" d="M63.5 2l33.3 1 0.8-28.2 0.6-9.1 0.8-3.6 1.1-2.3 1.5-1.2 1.8-0.5 1 0 2.2 0.5 2.5 1.4 1.4 1.1 1.5 1.5 1.7 2.2 2.2 3.8 2.7 6.7 1.9 6.9 1.6 11.5 0.2 10.1 4.9 0.2 0.1-7.5-0.4-6.1-0.7-7.4-0.7-4.5-2.6-11.8-1.7-5.8-3.1-8.5-3-6.9-2-4-2.9-5.3-4.8-7.7-3.5-4.9-4.7-5.9-4-4.5-3.2-3.2-45.1 45.1 2.6 2.7 2.9 3.5 3.4 4.9 3.3 6 2.1 4.8 1.5 4.2 1.8 7.3 0.8 6z"/><path fill="#2000ff" d="M63.5 2l32.7 1 0.3-5.7 0.2-27.7 0.5-7.4 0.7-3 1-2.2 0.7-0.7 1.7-0.9 1.9-0.2 3.4 0.8 3.7 2.6 2.1 2.2 1.7 2.4 2.3 4.3 2.7 7 2.2 9.1 1.3 10.1 0.2 4.3-0.1 5.9 4.5 0.1 0.1-7.5-0.4-6.1-0.7-7.4-0.7-4.5-2.6-11.8-1.7-5.8-3.1-8.5-3-6.9-2-4-2.9-5.3-4.8-7.7-3.5-4.9-4.7-5.9-4-4.5-3.2-3.2-45.1 45.1 2.6 2.7 2.9 3.5 3.4 4.9 3.3 6 2.1 4.8 1.5 4.2 1.8 7.3 0.8 6z"/><path fill="#0006ff" d="M63.5 2l32.2 1 0.2-4.2-0.2-36 0.5-5.1 0.7-2.2 0.7-1.4 0.7-0.7 1.6-0.9 3-0.3 2.3 0.6 2 1 2.1 1.5 1.6 1.5 3.5 4.8 2 3.9 1.7 4 1.8 5.5 1.9 8.5 0.7 4.4 0.6 7.2 0.1 8.8 4 0.1 0.1-7.5-0.4-6.1-0.7-7.4-0.7-4.5-2.6-11.8-1.7-5.8-3.1-8.5-3-6.9-2-4-2.9-5.3-4.8-7.7-3.5-4.9-4.7-5.9-4-4.5-3.2-3.2-45.1 45.1 2.6 2.7 2.9 3.5 3.4 4.9 3.3 6 2.1 4.8 1.5 4.2 1.8 7.3 0.8 6z"/><path fill="#002dff" d="M63.5 2l31.6 1 0.3-6.8-1-32.9 0-5.1 0.3-3 0.9-3.3 1.2-1.5 2.5-1.2 2.1-0.2 3.5 0.9 2.7 1.6 1.6 1.3 3.1 3.5 3.7 6.3 3.7 9.5 2.4 9.9 1.2 8.7 0.4 5.9 0 7.3 3.5 0.1 0.1-7.5-0.4-6.1-0.7-7.4-0.7-4.5-2.6-11.8-1.7-5.8-3.1-8.5-3-6.9-2-4-2.9-5.3-4.8-7.7-3.5-4.9-4.7-5.9-4-4.5-3.2-3.2-45.1 45.1 2.6 2.7 2.9 3.5 3.4 4.9 3.3 6 2.1 4.8 1.5 4.2 1.8 7.3 0.8 6z"/><path fill="#0053ff" d="M63.5 2l31.1 1 0.2-9-0.6-10.2-0.2-9.2-1-14.7-0.1-7 0.5-3 1-2.1 0.7-0.7 1.6-0.9 2.8-0.6 2.3 0.3 1.7 0.5 2.3 1.1 2 1.5 1.3 1.2 2.7 3.2 3.8 6.3 3.4 8.1 2.1 7 1.3 5.7 1.3 8.7 0.5 7.4 0 7.3 3 0.1 0.1-7.5-0.4-6.1-0.7-7.4-0.7-4.5-2.6-11.8-1.7-5.8-3.1-8.5-3-6.9-2-4-2.9-5.3-4.8-7.7-3.5-4.9-4.7-5.9-4-4.5-3.2-3.2-45.1 45.1 2.6 2.7 2.9 3.5 3.4 4.9 3.3 6 2.1 4.8 1.5 4.2 1.8 7.3 0.8 6z"/><path fill="#0079ff" d="M63.5 2l30.6 1 0.2-2.3-0.1-8.9-0.7-7.8-0.5-10.9-2-19.8-0.1-4.1 0.4-3 1-2 0.7-0.7 1.6-1 1.7-0.6 2.1-0.1 2.4 0.3 1.3 0.4 1.4 0.6 3.2 2.1 1.9 1.8 2.3 2.8 2.9 4.4 2.1 3.8 1.8 4.1 2.5 6.9 1.2 4.2 1.6 7.2 1.3 8.8 0.5 7.3 0 7.4 2.4 0.1 0.1-7.5-0.4-6.1-0.7-7.4-0.7-4.5-2.6-11.8-1.7-5.8-3.1-8.5-3-6.9-2-4-2.9-5.3-4.8-7.7-3.5-4.9-4.7-5.9-4-4.5-3.2-3.2-45.1 45.1 2.6 2.7 2.9 3.5 3.4 4.9 3.3 6 2.1 4.8 1.5 4.2 1.8 7.3 0.8 6z"/><path fill="#009fff" d="M63.5 2l30.2 0.9 0.1-8.8-1.3-13.4-0.4-7.4-0.8-7.6-2.9-18.3-0.2-4.3 0.7-2.6 2-2 2.5-1.2 3.1-0.3 3 0.5 2.3 0.9 3.4 2.2 2.3 2.1 2.9 3.4 2.5 3.7 4.1 7.8 3.2 8.3 2.4 8.6 1.7 8.7 0.7 5.9 0.5 7.4 0 7.4 1.7 0.1 0.1-7.5-0.4-6.1-0.7-7.4-0.7-4.5-2.6-11.8-1.7-5.8-3.1-8.5-3-6.9-2-4-2.9-5.3-4.8-7.7-3.5-4.9-4.7-5.9-4-4.5-3.2-3.2-45.1 45.1 2.6 2.7 2.9 3.5 3.4 4.9 3.3 6 2.1 4.8 1.5 4.2 1.8 7.3 0.8 6z"/><path fill="#00c6ff" d="M63.5 2l29.7 0.9 0.1-8.8-0.6-6.6-0.8-5.5-1-11.3-1.2-8.1-1.2-5.8-1.8-7-4.3-13.1-1.4-3.6-0.8-1 0.7-0.6-1.5-0.4-0.8-0.9-1.5-0.3-1.7-1.8-3-0.5-26.8 26.8-0.2 1.2 5 5.7 3.4 4.9 3.3 6 2.1 4.8 1.5 4.2 1.8 7.3 0.8 6z"/><path fill="#00ecff" d="M65.2 2l27.5 0.9 0.2-6.6-0.5-6.6-1.8-12-1-9.2-1-5.4-2.1-7.9-2-5.5-2.1-4.2-1.3-1.9-1.6-1.7-3-2.2-3.5-1.5-2.2-0.1-3 0.8-5.6 3.5-4.2 3.6-4 3.9-2.3 3-0.6 1.7 0.3 2.2 4.6 8.1 2.8 5.6 2.4 5.7 1.5 4.4 1.6 6.8 0.6 4.6z"/><path fill="#00ffec" d="M65.9 2.1l26.4 0.8 0-8.7-0.9-7.6-1.8-9.7-1.2-9-1.3-5.8-1.6-5.1-2.8-6.2-2.7-3.7-3.7-2.9-2.1-1.2-2.3-1-1.4-0.3-1.6-0.1-2.2 0.5-2.5 1.2-2.3 1.5-2.2 1.7-3.4 3.2-2.3 2.9-0.6 1.1-0.3 1.3 0.1 1 1.1 2.9 3.1 6 3.6 8 2.6 7.4 1 3.8 0.7 4.7 0.4 4.7z"/><path fill="#00ffc6" d="M66.4 2.1l25.4 0.8 0.2-3.3-0.1-4.3-0.7-6.5-1.8-8.5-2.3-13-1.5-5.4-2-5.2-1.6-2.9-1.3-1.8-3.4-3.1-5.2-3-2.4-0.8-1.4-0.2-1.8 0.1-2.6 0.9-3.8 2.5-2 1.9-1.8 2.2-0.5 0.9-0.5 2 0.8 3.6 5.7 13.5 2.4 6.8 0.8 3.1 1.1 8.7z"/><path fill="#00ff9f" d="M66.9 2.1l24.4 0.8 0.2-2.2-0.1-5.4-0.3-3.2-1.3-7.5-2.2-8.3-1.7-8.5-0.9-3.2-1.6-4.1-1.5-2.9-1.3-1.8-3.9-3.5-2.3-1.5-2.2-1-3.8-1.1-2.1 0-1.5 0.3-1.4 0.5-2.3 1.6-1.8 2.1-0.5 0.9-0.4 1-0.3 2.4 0.2 2.2 0.7 2.7 4.2 11.3 2.2 6.9 1 7.2z"/><path fill="#00ff79" d="M67.3 2.1l23.6 0.8 0.1-1.1 0-5.4-0.4-4.3-0.7-4.2-1.3-5.3-3.1-10.2-1-4.4-1.4-3.8-0.9-1.9-1.8-2.7-3.4-3.2-3.4-2.1-1.6-0.7-2.5-0.6-3.2 0.3-2.5 1.3-1.8 2.3-0.8 2.2-0.2 1.3 0.1 2.2 0.5 2.7 3.8 11.9 0.8 3.2 0.9 10.5z"/><path fill="#00ff53" d="M67.7 2.1l22.7 0.7 0.1-1 0.1-3.2-0.5-6.5-1-5.2-1.5-5.1-3.5-8.9-2-6-1.7-2.7-3.8-3.8-2.5-1.6-1.4-0.6-1.8-0.4-2.6 0.2-1.6 0.9-0.9 0.9-1 1.5-0.4 1.1-0.4 2.5 0.2 3 0.5 2.4 1.9 6.5 0.4 2.5 0.6 13.2z"/><path fill="#00ff2d" d="M68.1 2.1l21.9 0.7 0.1-5.3-0.5-5.3-1.7-7.3-1.9-4.9-3-5.7-3.4-5.3-1.5-1.9-1.7-1.7-1.5-1-1-0.5-1.4-0.3-2 0.2-0.8 0.5-1.3 1.5-0.8 2.7-0.1 2.4 0.7 4.4-0.2 7.1z"/><path fill="#00ff06" d="M68.5 2.2l21 0.6 0.1-5.3-0.5-5.2-1.9-7.3-2.1-4.8-1.8-2.8-2.3-2.4-3.6-2.2-2.2-0.4-1.8 0.4-2.1 2.4-1.4 3.2-0.7 2.5-0.6 4.8-0.2 5.1z"/><path fill="#20ff00" d="M68.9 2.2l20.1 0.6 0.1-5.3-0.4-4.2-0.9-4.3-0.9-2.8-2.3-5-1.2-1.7-1.5-1.5-2.6-1.5-1.9-0.6-1.9 0.1-0.9 0.3-2.3 1.8-1.9 3.4-0.9 3.2-0.5 4-0.2 6z"/><path fill="#46ff00" d="M69.3 2.2l19.2 0.6 0.1-5.3-0.3-3.3-0.3-1.9-1.4-5-1.3-3-1.6-2.5-1.2-1.4-2.3-1.5-2.1-0.7-1.3 0-1.5 0.4-1.6 0.9-1.5 1.6-0.7 1.1-1.2 3.1-0.5 2.3-0.5 5.5z"/><path fill="#6cff00" d="M69.7 2.2l18.3 0.6 0.1-5.2-0.3-3.2-1.2-5.1-2.2-4.8-1.4-1.9-2.3-1.7-2.1-0.7-1-0.1-1.8 0.3-2.3 1.5-1.6 2.1-0.9 2.1-0.7 2.7-0.6 5.6z"/><path fill="#93ff00" d="M70.1 2.2l17.4 0.5 0-6.2-0.7-4.1-0.8-2.7-0.9-2.2-1.1-1.9-1.5-1.8-1.4-1-1-0.5-2-0.5-1.9 0.3-1.7 0.9-2.3 2.8-1.5 4.6-0.5 4.3z"/><path fill="#b9ff00" d="M70.6 2.2l16.3 0.5 0.1-5.1-0.2-2.1-0.9-4-1.7-3.9-1.6-2.1-1.1-0.9-1.1-0.6-2-0.5-1.8 0.2-1.7 0.9-1.8 2-1.2 2.4-0.8 3.1-0.4 3z"/><path fill="#dfff00" d="M71.2 2.2l15.1 0.5 0.2-2-0.1-3.1-0.9-5.1-1.4-3.3-1.2-1.7-1.1-1-2-1.2-2-0.2-1.8 0.5-1.6 1.3-1.6 2.4-1.3 4.3-0.4 4.4z"/><path fill="#fff900" d="M71.7 2.3l14 0.4 0.1-4.1-0.2-2.1-0.9-3.9-1.4-2.9-1.2-1.4-1.1-0.8-2-0.8-1.8 0.1-2 1.2-1.3 1.6-0.8 1.4-1 3.6-0.4 3.4z"/><path fill="#ffd200" d="M72.5 2.3l12.5 0.4 0.2-3-0.3-3.1-0.7-2.9-0.7-1.7-1.1-1.6-2.1-1.7-1.9-0.4-1.8 0.5-1.3 1-1.4 2-1.3 4.2-0.2 2z"/><path fill="#ffac00" d="M73.3 2.3l10.9 0.3 0.2-2.9-0.3-3-0.4-1.5-1.1-2.5-2.1-2.1-1.9-0.6-0.9 0.2-0.9 0.3-1.7 1.7-0.8 1.4-0.8 2.6-0.3 2.6z"/><path fill="#ff8600" d="M74.3 2.3l8.9 0.3 0.2-3.9-0.6-2.7-1-2.1-0.9-1-1.1-0.7-1-0.2-1.5 0.3-1.2 0.9-0.7 1.1-1 2.8-0.3 2.6z"/><path fill="#ff6000" d="M75.4 1.5l0.2 0.9 6.3 0.2 0.3-2-0.2-2.6-1-2.4-1-0.9-1-0.4-0.9 0.1-0.9 0.5-0.9 1-0.9 2.9z"/><path fill="#ff3900" d="M77.8 1.5l0.5 0.8 0.9 0 0.5-0.7 0.3-1.9-0.3-1-0.5-0.6-0.9 0-0.5 0.7-0.3 0.9z"/></g></g></g>
<g transform="translate(279.70 96.3)"><g clip-path="url(#cl)"><g filter="url(#bl)"><rect x="40" y="-100" width="100" height="110" fill="#ff0013"/><path fill="#ff0039" d="M63.5 2l63.7 2 0.1-7.5-0.4-6.1-0.7-7.4-0.7-4.5-2.6-11.8-1.7-5.8-3.1-8.5-3-6.9-2-4-2.9-5.3-4.8-7.7-3.5-4.9-4.7-5.9-4-4.5-3.2-3.2-45.1 45.1 2.6 2.7 2.9 3.5 3.4 4.9 3.3 6 2.1 4.8 1.5 4.2 1.8 7.3 0.8 6zM92.3-22.4l-1.1-0.2-1.1-0.6-0.7-1-0.1-1.1 0.7-1.4 1.6-1.5 1.7-0.9 3.5-0.9 2.8 0.5 1.3 0.9 0.6 1.1-0.1 1.3-0.9 1.5-1 0.8-2.5 1.3-0.9 0.2-1.9 0.2z"/><path fill="#ff0060" d="M63.5 2l63.7 2 0.1-7.5-0.4-6.1-0.7-7.4-0.7-4.5-2.6-11.8-1.7-5.8-3.1-8.5-3-6.9-2-4-2.9-5.3-4.8-7.7-3.5-4.9-4.7-5.9-4-4.5-3.2-3.2-45.1 45.1 2.6 2.7 2.9 3.5 3.4 4.9 3.3 6 2.1 4.8 1.5 4.2 1.8 7.3 0.8 6zM93.6-20.6l-3.9-0.5-2.4-1.4-0.5-1-0.2-1.1 0.4-1.2 0.9-1.4 1.6-1.5 4.2-2 4.4-0.9 2.9 0.3 1.5 0.8 1.1 1.1 0.5 1.2 0.1 1.3-0.5 1.4-1.3 1.7-1.6 1.3-1.7 0.8-3.6 1z"/><path fill="#ff0086" d="M63.5 2l63.7 2 0.1-7.5-0.4-6.1-0.7-7.4-0.7-4.5-2.6-11.8-1.7-5.8-3.1-8.5-3-6.9-2-4-2.9-5.3-4.8-7.7-3.5-4.9-4.7-5.9-4-4.5-3.2-3.2-45.1 45.1 2.6 2.7 2.9 3.5 3.4 4.9 3.3 6 2.1 4.8 1.5 4.2 1.8 7.3 0.8 6zM93-19.3l-2-0.1-3-0.7-2-1-0.8-0.9-0.5-0.9-0.2-1.1 0.2-1.1 1.8-2.8 3.1-2.2 2.9-1.3 5.4-1.4 3.7 0 2 0.8 1.3 0.9 0.8 1.1 0.5 1.2 0.1 1.5-0.3 1.3-0.9 1.7-1.5 1.6-2.5 1.6-2.6 1-2.8 0.6z"/><path fill="#ff00ac" d="M63.5 2l63.7 2 0.1-7.5-0.4-6.1-0.7-7.4-0.7-4.5-2.6-11.8-1.7-5.8-3.1-8.5-3-6.9-2-4-2.9-5.3-4.8-7.7-3.5-4.9-4.7-5.9-4-4.5-3.2-3.2-45.1 45.1 2.6 2.7 2.9 3.5 3.4 4.9 3.3 6 2.1 4.8 1.5 4.2 1.8 7.3 0.8 6zM93.2-18.2l-4.2-0.3-2.7-0.8-2.2-1.3-0.8-0.9-0.6-2 0.1-1.1 1.4-2.6 1.6-1.6 3.1-1.9 3.4-1.5 3.5-1.1 5.6-0.7 2.1 0.3 2.3 1.1 1.4 1.5 0.8 1.8 0.2 1.4-0.2 1.4-0.6 1.5-1.1 1.6-2.4 2.1-2.8 1.5-5.1 1.4z"/><path fill="#ff00d2" d="M63.5 2l63.7 2 0.1-7.5-0.4-6.1-0.7-7.4-0.7-4.5-2.6-11.8-1.7-5.8-3.1-8.5-3-6.9-2-4-2.9-5.3-4.8-7.7-3.5-4.9-4.7-5.9-4-4.5-3.2-3.2-45.1 45.1 2.6 2.7 2.9 3.5 3.4 4.9 3.3 6 2.1 4.8 1.5 4.2 1.8 7.3 0.8 6zM94.3-17.3l-2.8 0.1-3.9-0.5-3-1-2.3-1.5-1.1-1.8-0.1-2 0.6-1.7 1.6-2.3 2-1.6 3.3-1.8 3.4-1.4 4.4-1.4 2.8-0.6 3.8-0.2 1 0.1 2.3 0.8 1.2 0.9 1 1 0.7 1.2 0.7 2.6-0.4 2.4-1 2.1-1.9 2.1-3.3 2.2-3.5 1.4-2.7 0.6z"/><path fill="#ff00f9" d="M63.5 2l63.7 2 0.1-7.5-0.4-6.1-0.7-7.4-0.7-4.5-2.6-11.8-1.7-5.8-3.1-8.5-3-6.9-2-4-2.9-5.3-4.8-7.7-3.5-4.9-4.7-5.9-4-4.5-3.2-3.2-45.1 45.1 2.6 2.7 2.9 3.5 3.4 4.9 3.3 6 2.1 4.8 1.5 4.2 1.8 7.3 0.8 6zM97.2-16.7l-2.7 0.4-5-0.1-3.1-0.5-3.6-1.3-2.4-1.9-0.8-1.5-0.2-0.9 0.1-1.1 1.1-2.7 2.1-2.4 3.2-2.1 2.5-1.3 6-2.3 5.4-1.3 2.9-0.3 3 0.3 2.1 0.9 1.3 1 1 1.2 1.2 2.5 0.2 1.3-0.1 1.4-0.4 1.5-1 2.2-2.3 2.6-3.4 2.2-4.4 1.7z"/><path fill="#df00ff" d="M63.5 2l63.7 2 0.1-7.5-0.4-6.1-0.7-7.4-0.7-4.5-2.6-11.8-1.7-5.8-3.1-8.5-3-6.9-2-4-2.9-5.3-4.8-7.7-3.5-4.9-4.7-5.9-4-4.5-3.2-3.2-45.1 45.1 2.6 2.7 2.9 3.5 3.4 4.9 3.3 6 2.1 4.8 1.5 4.2 1.8 7.3 0.8 6zM90.9-15.4l-3.9-0.4-2.9-0.7-2.1-0.8-2.1-1.3-0.8-0.8-1-1.8-0.2-1.9 0.9-2.6 0.6-1 1.5-1.6 2.3-1.8 4.1-2.2 6.9-2.7 6.3-1.6 5.2-0.3 2.9 1 2.1 1.6 1.6 2.5 0.7 2.6 0 1.5-0.3 1.4-0.9 2.2-1.9 2.6-3.7 2.8-1.7 0.9-3.5 1.3-4.5 0.9z"/><path fill="#b900ff" d="M63.5 2l63.7 2 0.1-7.5-0.4-6.1-0.7-7.4-0.7-4.5-2.6-11.8-1.7-5.8-3.1-8.5-3-6.9-2-4-2.9-5.3-4.8-7.7-3.5-4.9-4.7-5.9-4-4.5-3.2-3.2-45.1 45.1 2.6 2.7 2.9 3.5 3.4 4.9 3.3 6 2.1 4.8 1.5 4.2 1.8 7.3 0.8 6zM92-14.5l-3.8-0.2-4.9-1-4.2-1.9-1.6-1.4-0.9-1.7-0.2-2 0.7-2.3 2-2.9 1.4-1.3 5.2-3 4.8-2.1 6.1-2.1 2.7-0.7 5.3-0.8 3.4 0.3 1.8 0.8 1.3 1 1.1 1.1 1.2 1.9 1 3.3-0.2 2.9-0.4 1.5-1.9 3.2-2.1 2.1-1.8 1.3-4.2 2.1-1.8 0.6-5.4 1.1z"/><path fill="#9300ff" d="M63.5 2l63.7 2 0.1-7.5-0.4-6.1-0.7-7.4-0.7-4.5-2.6-11.8-1.7-5.8-3.1-8.5-3-6.9-2-4-2.9-5.3-4.8-7.7-3.5-4.9-4.7-5.9-4-4.5-3.2-3.2-45.1 45.1 2.6 2.7 2.9 3.5 3.4 4.9 3.3 6 2.1 4.8 1.5 4.2 1.8 7.3 0.8 6zM93-13.6l-3.7-0.1-4.8-0.7-4.3-1.3-2.6-1.4-1.5-1.4-0.7-1-0.5-1.7 0-1 0.5-2.1 1.2-2.2 2.1-2.3 4-2.6 4.2-2 7.8-3 7.1-1.9 3.8-0.5 3 0.2 1.2 0.3 1.6 0.9 1.2 1.1 1.7 2.4 0.6 1.3 0.7 2.8 0.1 2-0.4 2.4-0.6 1.6-0.9 1.5-2.1 2.4-1.7 1.4-4.3 2.4-1.7 0.7-5.4 1.3z"/><path fill="#6c00ff" d="M63.5 2l63.7 2 0.1-7.5-0.4-6.1-0.7-7.4-0.7-4.5-2.6-11.8-1.7-5.8-3.1-8.5-3-6.9-2-4-2.9-5.3-4.8-7.7-3.5-4.9-4.7-5.9-4-4.5-3.2-3.2-45.1 45.1 2.6 2.7 2.9 3.5 3.4 4.9 3.3 6 2.1 4.8 1.5 4.2 1.8 7.3 0.8 6zM95-12.8l-5.6 0-4.8-0.6-3.9-1-3.7-1.6-1.9-1.5-1-1.2-0.6-1.2 0-2.8 0.3-1.1 1.1-2.1 2-2.5 3.1-2.2 3.3-1.8 9.4-3.9 8-2.5 4.6-0.9 3.9 0 2.3 0.8 1.3 1 1.9 2.4 1.2 2.6 0.7 2.8 0.2 1.4-0.1 3-0.4 1.5-1.2 2.4-2.4 2.6-1.9 1.6-3.1 1.8-4.5 1.5-4.5 1z"/><path fill="#4600ff" d="M63.5 2l63.7 2 0.1-7.5-0.4-6.1-0.7-7.4-0.7-4.5-2.6-11.8-1.7-5.8-3.1-8.5-3-6.9-2-4-2.9-5.3-4.8-7.7-3.5-4.9-4.7-5.9-4-4.5-3.2-3.2-45.1 45.1 2.6 2.7 2.9 3.5 3.4 4.9 3.3 6 2.1 4.8 1.5 4.2 1.8 7.3 0.8 6zM89.5-11.9l-5.7-0.7-4.9-1.3-3.1-1.4-2.4-1.8-1.4-2.4-0.2-0.9 0.1-1.8 0.7-2.2 2.5-3.6 3.9-2.8 4.1-2.1 9.4-3.9 7.9-2.6 4.6-1.1 3.8-0.3 2.1 0.3 2.5 1.5 1.7 2.2 1.2 2.3 0.9 2.8 0.5 2.8 0.1 2.9-0.3 2-0.6 1.7-1.5 2.3-2.4 2.3-1.7 1.2-3.5 1.7-1.8 0.6-8.2 1.7-5.5 0.6z"/><path fill="#2000ff" d="M63.5 2l63.7 2 0.1-7.5-0.4-6.1-0.7-7.4-0.7-4.5-2.6-11.8-1.7-5.8-3.1-8.5-3-6.9-2-4-2.9-5.3-4.8-7.7-3.5-4.9-4.7-5.9-4-4.5-3.2-3.2-45.1 45.1 2.6 2.7 2.9 3.5 3.4 4.9 3.3 6 2.1 4.8 1.5 4.2 1.8 7.3 0.8 6zM89.6-11l-4.7-0.4-5.8-1.3-4.6-1.9-1.6-1-1.2-1.1-1.3-2.4-0.3-1.7 0.1-0.9 1.2-3.2 1.8-2.6 2.3-2 2.4-1.5 4.7-2.3 7.1-3 8.7-3.1 4.5-1.4 4.5-1 3.8 0 1.8 0.9 1.2 1.1 1.7 2.4 1.7 4 1 4.3 0.2 2.9-0.3 3-0.5 1.7-1.5 2.3-2.6 2.4-2.4 1.6-3.6 1.2-10 2.1z"/><path fill="#0006ff" d="M63.5 2l63.7 2 0.1-7.5-0.4-6.1-0.7-7.4-0.7-4.5-2.6-11.8-1.7-5.8-3.1-8.5-3-6.9-2-4-2.9-5.3-4.8-7.7-3.5-4.9-4.7-5.9-4-4.5-3.2-3.2-45.1 45.1 2.6 2.7 2.9 3.5 3.4 4.9 3.3 6 2.1 4.8 1.5 4.2 1.8 7.3 0.8 6zM85.1-10.4l-3.9-0.6-6.1-1.9-1.8-0.8-1.9-1.2-1.5-1.5-1.1-2.2-0.3-2.6 1-3.1 1.5-2.4 1.1-1.3 3.1-2.3 5.8-2.9 7.7-3.2 12.1-4.5 3.6-1.1 5.5-1.1 2.1 0.2 1.2 0.5 1.1 1 1.8 2.5 1.3 2.6 1.4 4.1 0.8 4.3 0.2 3-0.4 3-1.1 2.6-1.5 2-2.5 2-0.9 0.4-7.2 2-12.8 2.2-4.6 0.5-2.8 0z"/><path fill="#002dff" d="M63.5 2l63.7 2 0.1-7.5-0.4-6.1-0.7-7.4-0.7-4.5-2.6-11.8-1.7-5.8-3.1-8.5-3-6.9-2-4-2.9-5.3-4.8-7.7-3.5-4.9-4.7-5.9-4-4.5-3.2-3.2-45.1 45.1 2.6 2.7 2.9 3.5 3.4 4.9 3.3 6 2.1 4.8 1.5 4.2 1.8 7.3 0.8 6zM84.3-9.3l-6.2-1.2-5.5-1.9-2.1-1.2-2.3-2.3-0.8-1.5-0.4-1.6-0.1-2.6 1-3 2.3-3.2 1.5-1.3 2.4-1.5 5-2.4 12.8-5.2 11.3-4.2 5.4-1.6 1.8-0.3 2.7 0.3 1.4 1 1.8 2.4 2.5 5.4 1.2 4.2 0.7 4.2 0.1 3.1-0.4 3-0.9 2.6-1.6 2-1.7 1.3-0.9 0.4-4.5 1.2-21 3.6z"/><path fill="#0053ff" d="M63.5 2l63.7 2 0.1-7.5-0.4-6.1-0.7-7.4-0.7-4.5-2.6-11.8-1.7-5.8-3.1-8.5-3-6.9-2-4-2.9-5.3-4.8-7.7-3.5-4.9-4.7-5.9-4-4.5-3.2-3.2-45.1 45.1 2.6 2.7 2.9 3.5 3.4 4.9 3.3 6 2.1 4.8 1.5 4.2 1.8 7.3 0.8 6zM82.5-8.1l-4.7-0.9-3.9-1.1-4-1.7-1.2-0.8-1.4-1.4-1.6-3-0.7-4 0.5-2.7 0.7-1.6 2-2.6 0.9-0.9 1.4-0.9 7.5-3.5 27.8-10.9 4.1-1.4 1.9-0.3 1.6 0.1 1.6 1 1.8 2.4 2.5 5.4 1.3 4.2 1 4.4 0.5 5.9-0.1 1.5-0.6 3-1.5 2.7-0.9 0.7-2.7 1-30.1 5.1z"/><path fill="#0079ff" d="M70.9 1.4l0.9 0.9 55.4 1.7 0.1-7.5-0.6-9.1-1.9-0.5-1.9 0.1-8.3 0.6-8.3 1-15.5 2.7-12.7 2.9-1.9 0.1-4.4 4.6 0 1.7zM83-35.8l12.9-5 11.9-5 7.6-3.5 1.5-1-1.8-4.2-2.7-5.3-2.2-4-4.8-7.7-3.5-4.9-7.7-9.3-3.1-3.2-1.7-0.5-38.6 38.6-0.1 1.3-0.6 0.6-0.7 6.1 0.5 0.6-0.5 2.3 3.2 4.3 3.1 5.1 2.3 0.5 0.4 0.7 4.7 1.2z"/><path fill="#009fff" d="M76.2 2.4l49.2 1.5 0.1-2.9-0.3-4.5-0.7-2.9-1.2-2.5-1-1.2-2-1.1-2.8-0.4-3.7 0-9.2 0.9-13.7 2.5-5.5 1.4-3.6 1.4-2.7 1.9-1.3 1.3-1.6 2.8zM75.8-33.7l11.3-4.1 14.5-6.1 7.4-3.8 2.2-1.9 0.5-1.1 0.1-2.2-0.7-2.9-1.5-4.2-2.7-5.3-4-6.3-2.7-3.5-2-2.3-2.8-2.7-2.7-1.7-2.3-0.5-2.6 0.6-1.7 0.9-3.1 2.1-7.8 6.6-6 5.8-8.1 8.8-4.1 5.6-1.6 3.4-0.6 3.2 0.1 2 0.5 1.7 0.7 1.6 1.7 2.7 1.7 1.9 1.4 1.1 2.7 1.4 3.7 1.1 3.1-0.3z"/><path fill="#00c6ff" d="M78 2.5l46.7 1.4 0.1-2.9-0.5-4.5-0.4-1.4-0.5-1.5-0.8-1.4-1.2-1.4-1-0.7-1.9-0.7-2.8-0.3-3.7 0-9.2 0.9-5.5 0.9-6.4 1.4-6.3 2-3.6 2.3-2 2.1-0.9 1.9zM82.2-36.6l12.4-4.8 9.2-4.4 3.2-1.9 1.5-1.2 1.3-1.5 0.4-1.3-0.2-3.6-1.3-4.3-1.2-2.7-3.6-6.4-4.4-5.9-2-2.2-3.5-2.8-2.8-1.1-2.3 0.2-2.7 1.2-2.4 1.5-7.3 5.7-7.4 7-6.8 7.6-2.8 3.8-1.9 3.5-0.9 3.2-0.1 1.3 0.4 2.9 1.4 3.2 2.2 2.6 3.1 2.1 5.1 1.6 2 0 4.7-1z"/><path fill="#00ecff" d="M79.5 2.5l44.7 1.4 0-2.9-0.3-3-0.7-2.9-0.7-1.4-2-2.4-1.9-0.9-1.9-0.5-6.5-0.2-7.4 0.7-6.4 1.1-7.3 1.8-2.7 1-2.6 1.4-2.5 2-1.4 2-0.5 1.9zM91.4-40.6l9.6-4.5 4.8-3 1.5-1.2 1.2-1.6 0.5-1.3 0.1-1.9-0.7-3.6-2.2-5.6-2.1-3.8-2.4-3.6-2.8-3.4-3.1-3.2-2.6-1.6-2.2-0.6-3.2 0.6-5.7 3.3-7.2 5.9-7.9 7.8-4.2 5-3.1 4.8-1.4 3.9-0.1 3.1 0.4 2 0.7 1.8 0.9 1.5 1.9 2 1.8 1.2 2.6 1.2 3.8 0.9 3-0.1 4.6-1.1 7.9-2.7z"/><path fill="#00ffec" d="M80.8 2.5l42.8 1.4 0.1-2.9-0.3-3-0.9-2.9-0.8-1.4-1.1-1.2-2.3-1.4-1.5-0.4-3.8-0.5-3.7 0-6.4 0.6-5.5 0.9-5.5 1.3-4.2 1.4-3 1.7-1.8 1.4-1.1 1.2-1 1.9zM81.9-37.6l8.9-3.3 5.9-2.7 4.8-2.6 3.9-2.8 1.5-1.6 0.9-1.9 0.1-3.3-1.1-4.4-1.1-2.7-2.1-3.8-1.6-2.5-3.6-4.6-2.1-2-2.4-1.8-1.8-0.7-1.7-0.1-1.8 0.3-3.6 1.6-4.7 3.1-5.7 4.7-7.2 7.2-3.6 4.3-2.6 4.1-1.5 3.9-0.2 2.7 0.2 1.8 0.5 1.7 0.8 1.6 1.7 2.1 2.3 1.7 3.4 1.4 3.4 0.7 4-0.4z"/><path fill="#00ffc6" d="M81.9 2.6l41.3 1.3 0-2.9-0.1-1.5-0.7-2.9-0.6-1.4-1.1-1.6-1-0.9-3.4-1.5-4.2-0.5-3.7 0-5.5 0.5-5.5 0.9-4.6 1.1-3.4 1.1-2.6 1.2-3 2.3-0.8 0.9-1 1.9zM87.3-40.1l4.9-2 5-2.4 5.6-3.5 2.1-1.9 1.3-1.7 0.7-2.7 0-2.1-1.3-4.8-1.1-2.7-3-5-1.7-2.3-4.2-4.3-2.4-1.4-1.8-0.5-2.1 0.1-2 0.6-3.4 1.7-3.9 2.6-5 4.1-4.7 4.5-5.5 6.4-1.6 2.3-1.5 2.8-0.8 3.1 0 3.5 0.5 1.9 0.8 1.6 2.4 2.7 1.7 1.1 2.1 0.9 2.8 0.8 2.2 0.3 3-0.3 6.3-1.7z"/><path fill="#00ff9f" d="M82.9 1.6l0.1 1 1.7 0.1 37.9 1.2 0.2-1.5-0.2-2.9-0.9-3.2-0.6-1.1-1.2-1.4-1.1-0.8-1.9-0.9-4.7-0.9-4.7 0-5.5 0.5-6.4 1.2-4.4 1.3-3.8 1.7-2.3 1.7-1.3 1.5-0.7 1.5zM81.8-38.7l3.4-1.1 6-2.4 8.2-4.3 2.1-1.5 2.3-2.2 1.7-2.8 0.4-3.2-0.3-2.5-1.1-3.5-1.9-3.9-2.4-3.6-2.2-2.6-2.9-2.6-2.4-1.2-2.7-0.3-2.1 0.4-1.8 0.7-3.3 1.7-5.4 3.9-4.8 4.3-5.1 5.4-3.3 4.6-1.8 3.8-0.5 4 0.6 3 1.3 2.4 2 2 1.8 1.1 2.2 0.9 2.7 0.7 1.8 0.2 3.7-0.4z"/><path fill="#00ff79" d="M84 2.6l38.3 1.2 0-2.9-0.5-2.8-0.6-1.5-1.4-2-1-0.8-2.4-1.2-2.3-0.6-3.8-0.4-2.7 0-5.6 0.5-3.6 0.6-4.6 1.1-3.6 1.3-2.5 1.4-2.5 2.1-1.1 2.1-0.2 0.9zM85.9-40.7l4.2-1.6 4.2-2 5.5-3.4 2.2-1.9 1.3-1.6 0.6-0.9 0.8-2.5 0.2-1.6-0.2-2.8-1.3-4.2-2.1-3.8-3.5-4.5-2.2-2-1.7-1.1-2.7-0.8-1.5 0-2.1 0.4-3.6 1.5-5.5 3.6-4.9 4.2-3.3 3.3-3.6 4.3-2.5 4.2-1 3.2-0.1 3.4 0.5 1.9 0.8 1.7 1.8 2.2 2.6 1.7 3.5 1.2 3.7 0.4 3.5-0.5z"/><path fill="#00ff53" d="M84.9 2.7l36.9 1.1 0.1-1.4-0.3-2.9-0.8-2.4-1-1.5-2.1-1.7-3.1-1.2-1.4-0.3-2.8-0.3-4.7 0-4.6 0.5-4.5 0.9-4.6 1.4-1.8 0.8-2.7 1.8-2 2.1-0.7 2.1zM81.9-40l3.7-1.1 4.3-1.7 3.3-1.6 4.8-2.9 2.2-1.8 1.3-1.4 1.7-2.9 0.6-2.8-0.2-3.8-0.9-2.8-1.2-2.6-1.5-2.4-2.8-3.3-3.6-2.6-1.8-0.6-2.5-0.1-1.8 0.3-3.8 1.5-3.3 2-4.4 3.4-4.7 4.5-2.5 2.8-2.7 3.9-1.7 4-0.3 2.4 0.1 1.7 0.8 2.7 1.6 2.4 1.5 1.2 1.9 1.1 1.6 0.6 3.6 0.8 3.1-0.1z"/><path fill="#00ff2d" d="M85.9 2.7l35.4 1.1 0.1-1.4-0.3-2.9-0.5-1.4-0.7-1.4-1.4-1.4-2.1-1.3-2.2-0.8-4.7-0.7-2.8 0-7.4 0.8-2.7 0.6-4.6 1.5-3.6 2.1-1.8 1.9-0.6 1.3zM85.4-41.7l5.9-2.4 2.5-1.3 3.9-2.6 2.1-1.9 1.8-2.6 1.1-3.8 0-3.2-0.7-2.8-1.1-2.7-1.6-2.4-1.8-2.2-2.1-1.9-2.5-1.4-2-0.5-2.1 0-3.9 1-5.7 3.3-4.3 3.5-3.3 3.3-3 3.6-2.3 3.9-1 3.4 0.1 3.6 0.6 1.9 1.6 2.3 2.5 1.9 3.6 1.3 3.2 0.5 3.1-0.3z"/><path fill="#00ff06" d="M86.8 2.7l34 1.1 0.1-1.4-0.1-1.5-0.8-2.8-1-1.4-1.5-1.4-3.3-1.5-4.2-0.8-3.3-0.1-5.5 0.5-3.7 0.7-3.6 1.1-2.7 1.2-1.7 1.1-2.1 2.1-0.7 2.1zM82.4-41.4l6.1-2.1 4.2-2 1.6-1 3.7-2.8 2-2.4 0.9-2 0.7-2.8 0.1-2.4-0.1-1.3-0.9-3-1.3-2.5-2.3-3.1-2.6-2.1-1.3-0.7-3.5-0.8-2.3 0.1-2.9 0.9-4.1 2.2-3 2.2-4.8 4.4-3.6 4.4-1 1.6-1.2 2.7-0.5 2.6 0.3 3.5 0.4 1.2 1 1.6 1.5 1.6 1.8 1.1 3.7 1.2 3.9 0.3z"/><path fill="#20ff00" d="M87.7 2.8l32.6 1 0.1-1.4-0.1-1.5-1-2.8-1.1-1.4-1.9-1.3-3-1.3-1.9-0.4-2.8-0.3-3.7 0-6.4 0.9-6 2-2.2 1.4-2 1.9-0.7 2.1zM85.7-43.1l4.2-1.7 2.5-1.3 3.8-2.7 1.4-1.4 1.2-1.7 1-2.1 0.6-2.6 0.2-1.7-0.4-3-0.7-2.3-0.9-1.6-1.6-2.3-1-1-2.4-1.7-2.9-1-2.5-0.2-2.3 0.4-1.7 0.6-2.6 1.2-4.6 3.2-4.7 4.5-2.3 3-1.9 3.5-0.6 2.2-0.1 3 0.6 2.5 1 1.7 2.3 2 3.2 1.3 3.5 0.6 2.8-0.1z"/><path fill="#46ff00" d="M88.6 2.8l31.1 1 0.1-1.5-0.5-2.8-0.8-1.4-1.3-1.4-2.2-1.3-3.6-1.2-5.5-0.4-4.7 0.4-4.5 1-2.8 1-2.7 1.6-1.9 1.8-0.6 1.1-0.2 1zM83.2-43.1l3.9-1.2 4.2-2 2.3-1.5 2.1-1.7 1.4-1.7 1.5-2.8 0.7-2.8 0.1-2.3-0.5-2.9-0.5-1.4-1.4-2.4-0.9-1-2.2-1.9-2-1-2.6-0.6-2.2 0-2.9 0.7-4.6 2.4-2.9 2.2-4 4-1.7 2.2-1.9 3.6-0.7 3.6 0.3 2.6 0.8 1.9 2 2.2 2 1.2 2.7 0.8 3.8 0.3z"/><path fill="#6cff00" d="M89.5 2.8l29.5 0.9 0.1-1.4-0.1-1.4-0.5-1.4-0.9-1.4-1.4-1.3-2.6-1.3-2.1-0.7-2.8-0.5-4.7 0-3.9 0.5-2.5 0.6-4.8 2-2.6 2.2-0.6 1.1zM87.3-45.2l2.8-1.3 2.4-1.5 3.1-2.9 0.9-1.4 1.2-2.7 0.5-3.4-0.1-1.6-0.8-2.7-1.3-2.4-0.9-1-1.1-1-2.6-1.5-3.4-0.7-2.4 0.2-3.6 1.3-4.9 3.3-2.1 1.9-3 3.6-1.9 3.8-0.5 2.2 0.2 3.3 0.7 1.9 2.1 2.2 1.6 0.9 1.8 0.7 1.6 0.3 3.6 0.1 2.9-0.5z"/><path fill="#93ff00" d="M90.4 2.8l27.8 0.9 0.2-1.4-0.3-1.9-0.4-0.9-1.1-1.4-1.7-1.3-3.4-1.4-3.7-0.6-2.8-0.1-5.5 0.7-2.8 0.8-2.7 1.2-1.7 1.1-1.1 1.1-0.9 2.2zM84.8-45.2l4.1-1.6 3.9-2.6 2.5-3.1 1-2.1 0.6-2.6-0.2-3.5-1.8-3.7-0.9-1-2.3-1.7-3.1-1-2.5 0-2.1 0.4-3.4 1.6-2.4 1.6-2.1 1.8-3.3 3.9-1.2 2.3-0.7 2.1-0.2 2.8 0.5 2.1 1 1.8 1.6 1.4 2.2 1.1 3.2 0.6 2.5 0z"/><path fill="#b9ff00" d="M91.4 2.9l26 0.8 0.2-1.4-0.2-1.4-0.6-1.4-1.5-1.6-1.7-1.1-4-1.3-5.5-0.3-5.5 0.9-2.8 1-1.8 1-1.8 1.5-0.7 1.1-0.3 1.1zM84-46l2.8-0.9 2.5-1.2 1.5-1.1 2.7-2.7 1.7-3.2 0.4-2.4-0.1-2.4-1-2.6-1.6-2.1-1.1-0.9-2.8-1.2-1.8-0.3-2.5 0.2-2.8 1-3.1 1.9-2.2 1.8-2.4 2.9-1.4 2.6-0.8 2.6-0.1 1.4 0.4 2.3 1 1.8 1.7 1.5 1.4 0.7 2.5 0.6 2.1 0.1z"/><path fill="#dfff00" d="M92.3 2.9l24.2 0.8 0.2-1.4-0.2-1.4-0.7-1.4-1.5-1.4-1.8-1.1-3.8-1.1-4.6-0.2-4.6 0.7-2.7 0.9-1.9 1-1.7 1.3-0.7 1.1-0.3 1.1zM83.5-47l2.8-0.8 3.2-1.8 2.3-2.1 1-1.4 1-2.1 0.3-1.3 0.1-2.6-0.9-2.6-0.7-1.1-1.1-1.1-2.3-1.3-1.7-0.4-2-0.1-2 0.4-2.6 1.1-1.6 1-2.1 1.8-1.6 1.8-1.7 3-0.6 2.3 0 2 0.2 1.1 1 1.9 0.8 0.8 2.2 1.2 3 0.5z"/><path fill="#fff900" d="M93.3 2.9l22.3 0.7 0.2-1.3-0.3-1.4-0.8-1.4-2.2-1.7-2.1-0.9-1.6-0.4-4.7-0.3-5.5 1-2.8 1.3-1.5 1.1-0.8 1.1-0.3 1.1zM83.3-48.2l2.4-0.7 3.2-1.8 2-2 1.5-3 0.3-2.5-0.7-2.6-1.7-2-1.2-0.8-1.1-0.4-2.2-0.3-1.4 0.1-1.3 0.3-2.3 1.1-2.9 2.3-1.8 2.2-0.9 1.9-0.5 3.1 0.2 1.2 1 1.9 1.8 1.4 1.4 0.5 1.7 0.2z"/><path fill="#ffd200" d="M94.4 3l20.1 0.6 0.2-1.4-0.3-1.5-0.9-1.2-1.9-1.4-3.6-1.1-3.9-0.2-3.7 0.5-3.6 1.4-1.3 0.9-0.9 1.1-0.4 1.1zM83.6-49.8l1.3-0.3 2.5-1.3 2.1-2 1.1-2 0.3-2.7-0.5-1.7-1.7-1.9-1.3-0.7-1.7-0.3-1.3 0.1-1.2 0.2-1.6 0.7-2.9 2.3-1.2 1.5-0.8 1.8-0.3 1.3 0.1 1.8 0.9 1.8 2.3 1.4 1.3 0.2z"/><path fill="#ffac00" d="M95.6 3l17.8 0.6 0.2-1.4-0.3-1.3-1.1-1.4-2.2-1.3-2.1-0.6-4.7-0.2-3.7 0.8-2.7 1.4-1.1 1.1-0.3 1.2zM82-51.5l2-0.2 1.7-0.7 1.5-1.2 1.1-1.7 0.4-1.9-0.3-1.3-0.6-1-1.2-0.8-1.9-0.4-2 0.5-1.6 0.9-1.9 2.1-0.7 2.2 0.3 1.6 0.6 0.9 1 0.7z"/><path fill="#ff8600" d="M96.6 1.9l0.2 1.1 13.8 0.5 1.5 0 0.3-1.3-0.4-1.3-1.3-1.4-3.1-1.2-2.5-0.3-2.8 0.2-3.7 1.2-1.6 1.4z"/><path fill="#ff6000" d="M98.3 3.1l12.3 0.4 0.4-1.3-0.5-1.3-1.7-1.3-1.8-0.6-2.8-0.2-1.9 0.2-1.8 0.5-1.9 1.2-0.6 1.2z"/><path fill="#ff3900" d="M100.2 3.1l8.6 0.3 0.4-1.3-0.7-1.3-1.5-0.7-1.9-0.4-1.8 0.1-1.9 0.5-0.9 0.5-0.8 1.2z"/><path fill="#ff1300" d="M102.6 2l1.5 1.1 1-0.1 1.3-0.9-1.3-0.7-1.9 0.2z"/></g></g></g>
<g transform="translate(369.60 96.3)"><g clip-path="url(#cl)"><g filter="url(#bl)"><rect x="40" y="-100" width="100" height="110" fill="#ff0013"/><path fill="#ff0039" d="M63.5 2l63.7 2 0.1-7.5-0.4-6.1-0.7-7.4-0.7-4.5-2.6-11.8-1.7-5.8-3.1-8.5-3-6.9-2-4-2.9-5.3-4.8-7.7-3.5-4.9-4.7-5.9-4-4.5-3.2-3.2-45.1 45.1 2.6 2.7 2.9 3.5 3.4 4.9 3.3 6 2.1 4.8 1.5 4.2 1.8 7.3 0.8 6zM72.1-32.9l-1.1 0-1.6-0.9-0.7-0.7-0.9-1.6-0.4-1.8 0.2-1.3 0.6-1 0.8-0.6 1.6-0.1 2 1.1 1.5 2.5 0.1 2.3-0.5 1.2-0.7 0.6z"/><path fill="#ff0060" d="M63.5 2l63.7 2 0.1-7.5-0.4-6.1-0.7-7.4-0.7-4.5-2.6-11.8-1.7-5.8-3.1-8.5-3-6.9-2-4-2.9-5.3-4.8-7.7-3.5-4.9-4.7-5.9-4-4.5-3.2-3.2-45.1 45.1 2.6 2.7 2.9 3.5 3.4 4.9 3.3 6 2.1 4.8 1.5 4.2 1.8 7.3 0.8 6zM72.8-31.2l-2.1-0.1-1.2-0.6-2-2-0.9-1.6-0.6-2.7 0.2-1.8 1.1-1.8 0.7-0.6 0.9-0.3 2.4 0.3 1.6 1 2 2.6 0.7 1.9 0 2.8-1.1 2.1z"/><path fill="#ff0086" d="M63.5 2l63.7 2 0.1-7.5-0.4-6.1-0.7-7.4-0.7-4.5-2.6-11.8-1.7-5.8-3.1-8.5-3-6.9-2-4-2.9-5.3-4.8-7.7-3.5-4.9-4.7-5.9-4-4.5-3.2-3.2-45.1 45.1 2.6 2.7 2.9 3.5 3.4 4.9 3.3 6 2.1 4.8 1.5 4.2 1.8 7.3 0.8 6zM72.4-29.7l-2.2-0.5-2.5-1.8-1.6-2.2-1-2.5-0.2-3 0.5-1.7 1.1-1.6 1.6-1 2.2 0 1.1 0.3 2 1.2 2 2.4 1.2 2.7 0.3 2.1-0.1 1.6-1 2.3-1.5 1.3z"/><path fill="#ff00ac" d="M63.5 2l63.7 2 0.1-7.5-0.4-6.1-0.7-7.4-0.7-4.5-2.6-11.8-1.7-5.8-3.1-8.5-3-6.9-2-4-2.9-5.3-4.8-7.7-3.5-4.9-4.7-5.9-4-4.5-3.2-3.2-45.1 45.1 2.6 2.7 2.9 3.5 3.4 4.9 3.3 6 2.1 4.8 1.5 4.2 1.8 7.3 0.8 6zM73.9-28.6l-1 0.1-2.1-0.3-2.7-1.5-1.3-1.3-1.9-3-1-3.5 0-2.1 0.3-1.3 0.4-1 1.2-1.6 1.6-0.9 2-0.3 1.3 0.2 1.5 0.6 2.8 2.3 1.2 1.6 0.9 1.9 0.6 1.9 0.2 2.2-0.4 2.5-1.2 2-1.6 1.2z"/><path fill="#ff00d2" d="M63.5 2l45.5 1.4-0.7-2.6 0-1.2 0.5-1.8 0.9-1.3 0.9-0.7 1.8-0.2 1.8 1.2 0.7 1.4 0.3 1.3 0 1.4-0.2 1.4-0.6 1.3 12.8 0.4 0.1-7.5-0.4-6.1-0.7-7.4-0.7-4.5-2.6-11.8-1.7-5.8-3.1-8.5-3-6.9-2-4-2.9-5.3-4.8-7.7-3.5-4.9-4.7-5.9-4-4.5-3.2-3.2-45.1 45.1 2.6 2.7 2.9 3.5 3.4 4.9 3.3 6 2.1 4.8 1.5 4.2 1.8 7.3 0.8 6zM73.3-27.4l-3.2-0.6-1.3-0.7-1.5-1.2-2.2-2.8-1.5-3.1-0.6-2.7 0-1.5 0.5-2.5 1-1.9 2.2-1.6 1.7-0.4 1.6 0.1 1.2 0.3 2.2 1.2 2.3 2.1 1.7 2.6 0.8 2 0.5 2 0.1 2.4-0.8 3-0.6 1-1.4 1.4z"/><path fill="#ff00f9" d="M63.5 2l43.7 1.4-0.4-2.6 0.1-2.4 1.1-2.7 1.6-1.4 0.9-0.4 1.8-0.2 1 0.2 0.9 0.5 1.1 1 0.8 1.4 0.6 2.7 0 1.4-0.5 2.8 11 0.3 0.1-7.5-0.4-6.1-0.7-7.4-0.7-4.5-2.6-11.8-1.7-5.8-3.1-8.5-3-6.9-2-4-2.9-5.3-4.8-7.7-3.5-4.9-4.7-5.9-4-4.5-3.2-3.2-45.1 45.1 2.6 2.7 2.9 3.5 3.4 4.9 3.3 6 2.1 4.8 1.5 4.2 1.8 7.3 0.8 6zM73.7-26.4l-1 0-2.1-0.5-1.7-0.8-1.7-1.3-2.3-2.7-2.2-4.6-0.5-2.7 0-2.1 0.3-1.3 0.5-1.5 0.9-1.3 1.4-1.3 0.8-0.4 1.9-0.5 1.2 0 1.9 0.4 2.1 1 1.8 1.4 1.4 1.5 1.7 2.7 0.8 1.9 0.7 3.1 0 2.2-0.5 2.4-0.6 1.3-1.4 1.7-1.6 0.9z"/><path fill="#df00ff" d="M63.5 2l42.4 1.3-0.3-2.5 0.1-2.5 1.1-3.2 1.8-1.9 0.9-0.5 1.8-0.5 0.9 0 1.9 0.4 1 0.6 0.9 0.8 1.1 2 0.7 3.5-0.1 2.8-0.3 1.4 9.8 0.3 0.1-7.5-0.4-6.1-0.7-7.4-0.7-4.5-2.6-11.8-1.7-5.8-3.1-8.5-3-6.9-2-4-2.9-5.3-4.8-7.7-3.5-4.9-4.7-5.9-4-4.5-3.2-3.2-45.1 45.1 2.6 2.7 2.9 3.5 3.4 4.9 3.3 6 2.1 4.8 1.5 4.2 1.8 7.3 0.8 6zM73.1-25.5l-2.1-0.3-1.1-0.4-3.4-2.4-2.6-3.5-1.8-3.9-0.7-3.6 0.1-2.6 0.3-1.1 0.4-1.1 1.1-1.7 1.4-1.2 1.7-0.8 2.1-0.3 2.5 0.4 1.6 0.7 2.3 1.5 2.2 2.4 1.2 1.7 1.5 3.4 0.5 2.6 0.1 3.3-0.4 1.7-0.9 2.1-1.6 1.8-0.8 0.5-1.7 0.7z"/><path fill="#b900ff" d="M63.5 2l41.3 1.3-0.3-2.5 0.1-2.5 0.4-1.8 0.9-2.1 0.8-1.2 1.8-1.4 1.8-0.7 1.8-0.2 1.9 0.3 1 0.4 1.3 1 1 1.4 0.7 1.5 0.6 2.6 0.1 2.8-0.3 2.8 8.8 0.3 0.1-7.5-0.4-6.1-0.7-7.4-0.7-4.5-2.6-11.8-1.7-5.8-3.1-8.5-3-6.9-2-4-2.9-5.3-4.8-7.7-3.5-4.9-4.7-5.9-4-4.5-3.2-3.2-45.1 45.1 2.6 2.7 2.9 3.5 3.4 4.9 3.3 6 2.1 4.8 1.5 4.2 1.8 7.3 0.8 6zM73.4-24.5l-2.1-0.3-1.4-0.5-3.4-2.4-2.2-2.7-1.3-2.2-1.1-2.3-1-3.1-0.3-2.2 0.1-2.1 0.9-2.9 1.1-1.6 1.4-1.3 2.6-1.1 2.4-0.1 1.1 0.2 2.6 1 1.9 1.2 3 3.1 1.7 2.7 1.2 3 0.6 3.1 0 2.3-0.4 2.4-0.9 2.1-1.5 1.9-1.4 1-1.7 0.6z"/><path fill="#9300ff" d="M63.5 2l40.3 1.3-0.3-3.7 0.6-3.5 1.2-2.8 1.3-1.5 2-1.3 2.5-0.7 1.9 0 1.2 0.2 2.3 1.2 1.1 1.3 0.7 1.4 0.6 1.6 0.6 4-0.3 4.2 8 0.3 0.1-7.5-0.4-6.1-0.7-7.4-0.7-4.5-2.6-11.8-1.7-5.8-3.1-8.5-3-6.9-2-4-2.9-5.3-4.8-7.7-3.5-4.9-4.7-5.9-4-4.5-3.2-3.2-45.1 45.1 2.6 2.7 2.9 3.5 3.4 4.9 3.3 6 2.1 4.8 1.5 4.2 1.8 7.3 0.8 6zM73.7-23.6l-2.3-0.3-1.4-0.5-2-1.1-1.5-1.3-2.7-3.4-2-3.7-1.1-2.7-0.8-4 0.1-2.2 0.6-2.2 1-1.8 1.2-1.5 0.9-0.7 2.4-1 2.2-0.3 1.8 0.3 2.4 0.8 2 1.2 2.5 2.2 2 2.5 1.9 3.8 0.9 3.4 0.2 1.9-0.2 3-0.9 3-1.3 2-1.5 1.3-1.6 0.9z"/><path fill="#6c00ff" d="M63.5 2l39.3 1.2-0.2-3.6 0.3-2.5 1.1-3.5 0.8-1.4 1.4-1.5 2.1-1.2 1.8-0.6 2.8-0.2 1.9 0.4 1.9 0.9 1.1 1.1 1 1.6 1.1 3.8 0.2 3-0.2 4.3 7.3 0.2 0.1-7.5-0.4-6.1-0.7-7.4-0.7-4.5-2.6-11.8-1.7-5.8-3.1-8.5-3-6.9-2-4-2.9-5.3-4.8-7.7-3.5-4.9-4.7-5.9-4-4.5-3.2-3.2-45.1 45.1 2.6 2.7 2.9 3.5 3.4 4.9 3.3 6 2.1 4.8 1.5 4.2 1.8 7.3 0.8 6zM74-22.7l-2.5-0.3-1.4-0.5-2-1.1-2.8-2.6-2.4-3.5-1.2-2.2-2.1-5.4-0.4-2.3 0-1.7 0.8-3.5 1-1.8 2-2 1.6-0.9 1.9-0.6 1.1-0.1 2.5 0.3 3.1 1.2 2 1.3 2.5 2.3 1.9 2.5 1.5 2.8 1.1 3.1 0.6 4.4-0.1 1.8-0.8 3.2-1.2 2.3-1.5 1.5-1.6 1-2.7 0.8z"/><path fill="#4600ff" d="M63.5 2l38.4 1.2-0.1-4.8 0.4-2.5 1.4-3.7 1.1-1.4 2.6-1.9 3.6-1.1 1.9-0.1 1.8 0.2 2 0.8 1.3 1 1 1.4 1.4 4.1 0.4 2.9 0 4.3-0.2 1.4 6.7 0.2 0.1-7.5-0.4-6.1-0.7-7.4-0.7-4.5-2.6-11.8-1.7-5.8-3.1-8.5-3-6.9-2-4-2.9-5.3-4.8-7.7-3.5-4.9-4.7-5.9-4-4.5-3.2-3.2-45.1 45.1 2.6 2.7 2.9 3.5 3.4 4.9 3.3 6 2.1 4.8 1.5 4.2 1.8 7.3 0.8 6zM74.2-21.8l-2.6-0.3-1.5-0.5-1.2-0.6-3-2.5-2.1-2.7-1.7-2.8-1.5-3-1.5-3.9-0.4-1.6-0.2-3.5 0.2-1.3 0.8-2.1 1.6-2.4 1.3-1.2 1.6-1 1.9-0.7 2.2-0.2 2.6 0.5 3.2 1.4 2.2 1.6 1.4 1.2 2.7 3.5 1.1 1.8 1.3 3.3 0.7 2.9 0.2 3.9-0.2 1.9-1 3.1-1.2 1.9-1.6 1.6-1.6 0.9-1.8 0.6z"/><path fill="#2000ff" d="M63.5 2l37.6 1.2-0.2-2.4 0.2-3.6 0.9-3.7 0.9-2 1.5-1.9 1.9-1.3 2.7-1.1 3.6-0.5 2.9 0.4 1.9 0.9 1.6 1.6 0.7 1.4 1 3.2 0.4 2.4 0.2 2.9-0.2 4.3 6.1 0.2 0.1-7.5-0.4-6.1-0.7-7.4-0.7-4.5-2.6-11.8-1.7-5.8-3.1-8.5-3-6.9-2-4-2.9-5.3-4.8-7.7-3.5-4.9-4.7-5.9-4-4.5-3.2-3.2-45.1 45.1 2.6 2.7 2.9 3.5 3.4 4.9 3.3 6 2.1 4.8 1.5 4.2 1.8 7.3 0.8 6zM74.5-21l-2.9-0.2-1.2-0.4-3.1-1.9-1.9-1.9-3.7-5.6-1.8-3.7-1.5-3.9-0.5-2.3-0.1-2.4 0.3-2 0.8-2 1.1-1.6 1.9-2 1.6-1 1.7-0.7 3.6-0.3 2.6 0.6 3.5 1.8 1.6 1.2 3 3.2 1.3 1.8 1.1 1.9 1.6 4.1 0.5 2.1 0.3 3.7-0.7 4.5-0.9 2.2-1.1 1.6-1.8 1.6-2.6 1.1z"/><path fill="#0006ff" d="M63.5 2l36.8 1.2-0.1-4.8 0.2-2.1 0.6-2.7 1-2.5 0.9-1.3 1.6-1.5 2.6-1.4 3.6-1 3.7-0.1 2.9 0.9 1 0.7 1.1 1.3 1.1 2.2 1.1 5.7 0.2 2.9-0.2 4.3 5.6 0.2 0.1-7.5-0.4-6.1-0.7-7.4-0.7-4.5-2.6-11.8-1.7-5.8-3.1-8.5-3-6.9-2-4-2.9-5.3-4.8-7.7-3.5-4.9-4.7-5.9-4-4.5-3.2-3.2-45.1 45.1 2.6 2.7 2.9 3.5 3.4 4.9 3.3 6 2.1 4.8 1.5 4.2 1.8 7.3 0.8 6zM75.6-20.4l-1.9 0.2-3-0.4-2.3-1.2-1.8-1.4-1.7-2-2.4-3.5-2.3-4.3-2-4.5-1.1-4.3 0.1-3.1 0.5-1.7 1.1-2 1.3-1.6 2.1-1.8 2.1-1.2 2.4-0.6 3.1 0.2 1.3 0.3 2.7 1.2 2 1.3 2.5 2.2 2.5 3.1 2.1 3.8 1.2 3.1 0.8 3.2 0.2 3.5-0.4 3.2-1 2.9-1.3 2.2-1.6 1.3-2.5 1.3z"/><path fill="#002dff" d="M63.5 2l36.1 1.1-0.1-5 0.3-3.2 0.6-2.5 1.4-2.8 0.8-1 1.7-1.4 2.7-1.3 3.6-0.9 2.7-0.2 2.9 0.4 2 0.8 1 1 1.1 1.7 1.2 3.6 0.5 2.9 0.3 4.3-0.1 4.3 5 0.2 0.1-7.5-0.4-6.1-0.7-7.4-0.7-4.5-2.6-11.8-1.7-5.8-3.1-8.5-3-6.9-2-4-2.9-5.3-4.8-7.7-3.5-4.9-4.7-5.9-4-4.5-3.2-3.2-45.1 45.1 2.6 2.7 2.9 3.5 3.4 4.9 3.3 6 2.1 4.8 1.5 4.2 1.8 7.3 0.8 6zM73-19.5l-2.8-0.4-1.4-0.7-2.2-1.7-2.3-2.7-2.6-4.2-2.6-5.1-1.9-4.5-0.6-2.3-0.3-1.9 0.3-2.7 0.3-1 1.5-2.6 3.3-3.3 1.6-1 2.7-1 3.6 0 1.5 0.4 3 1.3 2.9 2 2.4 2.4 3.1 4.6 1 1.9 1.8 5.3 0.6 4.5-0.3 3.3-0.7 2.6-1.5 2.9-1.5 1.5-2.5 1.3-3.6 0.9z"/><path fill="#0053ff" d="M63.5 2l35.5 1.1-0.1-5.8 0.3-3.6 0.6-2.4 1-2.1 0.8-1.1 3.2-2.3 2-0.8 4.6-1 3.7-0.1 1.7 0.3 2.2 1.2 1.1 1.3 1.2 2.5 0.8 3.1 0.6 4.3 0 7.3 4.5 0.1 0.1-7.5-0.4-6.1-0.7-7.4-0.7-4.5-2.6-11.8-1.7-5.8-3.1-8.5-3-6.9-2-4-2.9-5.3-4.8-7.7-3.5-4.9-4.7-5.9-4-4.5-3.2-3.2-45.1 45.1 2.6 2.7 2.9 3.5 3.4 4.9 3.3 6 2.1 4.8 1.5 4.2 1.8 7.3 0.8 6zM73.1-18.8l-2.8-0.2-2.4-1.2-2-1.9-2.1-2.7-2.9-4.9-2.2-4.3-2.5-6.1-0.5-2.2-0.1-2.6 0.3-1.3 0.8-1.8 1.8-2.6 2.6-2.4 2.5-1.6 1.7-0.7 2-0.4 3 0.3 1.4 0.4 4.2 2.2 2.6 2.3 2.8 3.4 3.2 5.9 1.1 3.1 0.9 3.7 0.2 3.2-0.4 3.4-1.2 3.5-0.9 1.5-1.7 1.5-3 1.4-2.7 0.7z"/><path fill="#0079ff" d="M63.5 2l34.9 1.1 0-9.2 0.7-3.5 0.6-1.5 0.9-1.3 1.7-1.5 3.4-1.7 4.6-1.1 4.6-0.4 2.9 0.5 1.1 0.5 1.3 1.3 1.4 2.8 0.8 2.8 0.5 2.9 0.4 4.3-0.1 5.9 4 0.1 0.1-7.5-0.4-6.1-0.7-7.4-0.7-4.5-2.6-11.8-1.7-5.8-3.1-8.5-3-6.9-2-4-2.9-5.3-4.8-7.7-3.5-4.9-4.7-5.9-4-4.5-3.2-3.2-45.1 45.1 2.6 2.7 2.9 3.5 3.4 4.9 3.3 6 2.1 4.8 1.5 4.2 1.8 7.3 0.8 6zM74.2-18.2l-2.8 0.1-2-0.3-2.3-1.5-1.9-2-1.9-2.7-5-9.2-2.6-5.9-0.7-2.6-0.2-1.2 0.1-1.9 0.5-1.7 1.5-2.6 1.8-2.1 2.8-2.4 1.6-1 2.7-1.1 3.4-0.3 2.1 0.5 3.4 1.5 2.8 2 1.6 1.6 2.1 2.7 1.8 2.8 2 4 2 5.8 0.6 4-0.1 2.6-0.8 3.7-1.2 2.6-1.5 1.6-2.6 1.3-2.6 0.9z"/><path fill="#009fff" d="M63.5 2l34.3 1.1-0.1-9.3 0.2-2.3 0.9-3.4 0.8-1.2 2.3-1.9 2.9-1.3 7.2-1.6 3.7-0.2 1.9 0.2 1.2 0.4 1.5 1.2 0.9 1.4 1.5 4.2 0.7 4.2 0.5 6-0.2 4.4 3.5 0.1 0.1-7.5-0.4-6.1-0.7-7.4-0.7-4.5-2.6-11.8-1.7-5.8-3.1-8.5-3-6.9-2-4-2.9-5.3-4.8-7.7-3.5-4.9-4.7-5.9-4-4.5-3.2-3.2-45.1 45.1 2.6 2.7 2.9 3.5 3.4 4.9 3.3 6 2.1 4.8 1.5 4.2 1.8 7.3 0.8 6zM79-18.4l-2.8 0.6-3.7 0.4-2.8-0.1-1-0.2-1.1-0.6-2-2-2-2.7-6.1-11.2-2.8-6.3-0.6-2.1-0.2-2 0.5-2.3 0.9-1.8 2.3-2.9 2.7-2.6 3.1-2.1 1.7-0.8 3-0.6 3 0.4 3.4 1.4 2 1.3 1.7 1.6 2.9 3.4 3 4.8 2.7 6.2 1 3.3 0.7 4.4-0.2 3.6-1.1 3.7-0.6 1.3-1.4 1.4-2.7 1.4z"/><path fill="#00c6ff" d="M63.5 2l33.7 1.1-0.2-8.1 0.2-5 0.6-2.7 0.8-1.3 0.8-0.8 1.7-1.1 1.7-0.8 2.7-0.8 6.4-1.3 5.5-0.4 2 0.5 1.2 0.9 1 1.4 0.6 1.4 1.2 4.2 0.9 5.9 0.1 8.8 2.8 0.1 0.1-7.5-0.4-6.1-0.7-7.4-0.7-4.5-2.6-11.8-1.7-5.8-3.1-8.5-3-6.9-2-4-2.9-5.3-4.8-7.7-3.5-4.9-4.7-5.9-4-4.5-3.2-3.2-45.1 45.1 2.6 2.7 2.9 3.5 3.4 4.9 3.3 6 2.1 4.8 1.5 4.2 1.8 7.3 0.8 6zM71.8-16.7l-1.9 0.1-2-0.4-1.2-0.8-2-2.2-2.2-3.5-7.3-14-1.3-2.9-0.9-3.4 0.2-2.3 1-2.4 2.9-3.7 2.7-2.6 2.3-1.7 2.3-1.4 2.9-0.9 2.2-0.1 1.7 0.3 3.5 1.5 2.7 2.1 3.6 4.2 2.5 3.8 2.6 5 2 5.3 1.1 4.4 0.3 2.3 0 2.3-0.4 2.4-1.4 3.6-0.8 0.9-0.8 0.6-2.6 1.2-2.6 0.8-5.4 1.1z"/><path fill="#00ecff" d="M63.5 2l33.2 1-0.4-14.9 0.4-2.3 0.7-1.1 1.7-1.3 2.7-1 9.9-2.1 6.4-0.8 2 0.3 1 0.7 1.8 2.9 1.2 4.3 0.9 5.9 0.3 5.9-0.1 4.4 2 0.1 0.1-7.5-0.4-6.1-0.7-7.4-0.7-4.5-2.6-11.8-1.7-5.8-3.1-8.5-3-6.9-2-4-2.9-5.3-4.8-7.7-3.5-4.9-4.7-5.9-4-4.5-3.2-3.2-45.1 45.1 2.6 2.7 2.9 3.5 3.4 4.9 3.3 6 2.1 4.8 1.5 4.2 1.8 7.3 0.8 6zM73.8-16.2l-5.6 0.4-1.7-0.5-0.8-0.7-2-2.7-2-3.5-7.2-13.8-2-4.3-0.7-2.6 0.2-2.3 0.5-1.4 1.5-2.5 3.1-3.5 4.9-4.2 2.4-1.5 2.9-1 2.3-0.1 1.5 0.2 2.5 0.8 1 0.6 3.4 3.1 2.9 3.6 3.7 5.8 2.5 5.1 2.3 6.4 1 4.5 0.3 4.6-1.1 4-0.7 1.1-2.7 1.6-2.5 0.8z"/><path fill="#00ffec" d="M63.5 2l32.6 1-0.2-6.8-0.6-6.9-0.9-6.6 0.7-0.7 8.3-1.1 9.1-1.7 8.9-2.2 2.7-0.9 0.8-0.6-2-8.8-1.7-5.8-2-5.7-4.1-9.7-2.7-5.3-2.2-4-4.8-7.7-3.5-4.9-4.7-5.9-4-4.5-1.7-0.4-1.1-1.1-1.7-0.4-19.6 19.6 0.1 1.5 0.8 0.8 0.1 1.5 4.2 3.9 5.9 7 3.2 4.8 3.2 6 1.5 3.2 1.6 4.3 1.9 6.6 1.3 7.9 0 2.2-11.7 2.5-19.2 3.2 1.3 8.2z"/><path fill="#00ffc6" d="M65.2 2.1l30.4 0.9-0.2-5.6-0.5-4.5-0.9-4.5-1-2.3-1.7-1.8-1.3-0.8-2.2-0.4-1.9 0-11.9 1.8-3.6 0.8-2.5 1-1.1 1-0.9 2.6-0.5 4zM103.4-20.3l6.2-0.8 3.6-0.9 3.5-1.3 2-1.4 0.8-1.7 0.2-1.5-0.6-5.9-0.9-4.3-2.6-8.4-2.2-5.5-4-7.9-4.8-7.5-3.6-4.7-4-4.2-2.3-2-2.6-1.6-1.6-0.5-1.6-0.1-1.1 0.2-1.9 0.7-2.4 1.5-2.8 2.4-2.9 3.6-1 1.7-0.9 3 0.1 3 0.3 1.3 0.8 2.4 4.4 6.8 5.2 9 2.4 5.3 4.7 13 1.2 2.1 2.2 3.1 1.1 0.7 3 0.5z"/><path fill="#00ff9f" d="M65.9 2.1l29.1 0.9-0.1-4.5-0.5-4.5-0.7-3.3-0.8-2.1-0.6-1-2.3-2.3-2-1-1.5-0.2-6 0.3-6.4 1.1-4.4 1.3-1.7 1.3-1.2 2.9-0.6 4zM102.9-21.4l3.7-0.2 4.6-0.9 4.3-1.7 0.9-0.6 1-1.1 0.7-1.6 0.1-1.7-0.3-4.2-1.1-5.8-2.6-8.4-2.9-6.7-2-3.9-2.3-3.8-5-7.2-3.2-3.6-2.9-2.7-2.4-1.8-3-1.2-3.3 0.3-1.7 0.8-2.3 1.6-2.2 2.1-1.6 2.1-0.9 1.7-0.6 2.2-0.1 1.8 0.4 2.8 1.7 4.7 5.2 9.1 3.1 6.2 6 14 3.4 5.1 1.2 1.3 1.1 0.7z"/><path fill="#00ff79" d="M66.4 2.1l28.1 0.9 0-2.3-0.6-5.8-1.3-4.6-1.8-2.6-1.5-1.4-1.1-0.7-1.9-0.6-4.3-0.1-6 0.8-2.7 0.6-3.5 1.4-1.6 1.8-1 3-0.6 4.9zM102.9-22.7l2.6 0.1 4.6-0.7 3.5-1.3 1.6-1.1 1.1-1.4 0.6-1.6 0.1-1.5-0.3-4.4-1.1-5.7-0.8-2.9-1.8-5.4-3-6.7-2.8-5.1-5-7.1-3.9-4.4-4.6-3.7-2.8-1.2-2.3-0.1-1.2 0.3-1.8 0.8-2.2 1.6-1.3 1.3-1.7 2.4-0.7 2-0.3 2.5 0.8 4.4 1.2 3.5 1.5 3.3 4.4 8.3 7 14.9 2.1 3.3 2.9 3.9 1.3 1z"/><path fill="#00ff53" d="M66.9 2.1l27.1 0.9-0.2-4.5-0.9-5.1-1-2.5-1.3-1.8-2.2-2.1-2-1-2.5-0.4-2.2 0-4.6 0.5-3.7 0.9-2.6 1-0.8 0.6-1.6 2.3-0.9 3.2-0.4 3.2zM103.1-24l4 0.2 1.8-0.3 2.7-0.9 1.7-0.9 1.5-1.5 0.7-1.3 0.3-4.1-0.4-4.4-1.2-5.7-2.4-6.8-2.4-5.3-3.6-6.3-3.8-5.2-2.4-2.8-3.2-3-1.6-1.2-2.2-1.2-1.6-0.5-2-0.2-1.5 0.3-2.6 1.3-2 1.9-1.8 3.6-0.2 3 1.4 6.1 2.9 7.1 7.8 15.9 2.4 4.2 4.6 6.2 1.1 1z"/><path fill="#00ff2d" d="M67.3 2.1l26.1 0.8-0.3-5.5-1.1-4.3-1.1-2.1-1.7-2-1.6-1.4-2-0.9-1.9-0.4-4.7 0.1-4.6 0.9-1.7 0.6-1.8 0.9-0.9 0.9-1.1 1.8-1 3.4zM107.5-25.1l2.1-0.4 1.7-0.8 1.6-1.1 0.8-0.9 0.6-1.2 0.4-2.2 0-3.8-1.2-7.1-0.8-2.8-2.6-6.7-2.6-5.1-3.1-4.9-2.6-3.5-3-3.2-3.3-2.8-2.9-1.6-1.5-0.5-1.3-0.1-2.2 0.3-1.7 0.8-1.4 1.2-1.6 2.5-0.5 2.3 0 1.8 0.6 3.5 1.2 4.3 1.3 3.4 7.2 15.1 1.8 3.1 3.6 5.2 2.5 3 2.3 1.8 2 0.5z"/><path fill="#00ff06" d="M67.7 2.1l25.1 0.8-0.2-4.4-0.5-2.9-0.9-2.5-1.3-2-2.1-2.2-2.1-1.3-1.9-0.5-2.9-0.2-1.8 0.1-4.6 0.9-2.6 1.1-1.6 1.5-0.8 1.3-0.6 1.4-0.9 4.1zM107.3-26.3l2-0.5 2.4-1.5 0.8-0.9 0.6-1.3 0.4-2 0.2-2.7-0.4-4.3-1.7-7-2.1-5.3-1.9-3.9-3.8-6.1-4.7-5.4-2.4-2.1-2.2-1.5-1.5-0.7-1.6-0.5-1.5-0.1-2.1 0.3-2.3 1.6-1 1.7-0.6 2.2 0.1 3.3 1.2 5.2 2.6 7.1 3 6.4 2.8 5.3 2.6 4.2 3.1 4.1 2.9 3 1.3 0.8 2.1 0.6z"/><path fill="#20ff00" d="M68.1 2.1l24.2 0.8-0.1-3.1-0.6-3.4-1.3-3.2-2.3-3-2.1-1.6-2.7-0.9-1.2-0.1-2.8 0-3.7 0.7-2.6 1-1.7 1.2-1.2 1.7-0.8 1.8-0.6 2.5zM104.3-28.3l1.8 0.5 2.8-0.5 1.6-1.1 0.6-0.7 0.7-1.5 0.5-1.8 0.2-2.3-0.1-3.5-0.7-4.2-1.3-4.2-1.5-3.9-2.6-5.1-2.3-3.6-3.6-4.5-2.1-2-3.8-2.6-3.1-1-2.3 0.1-1.7 0.9-0.6 0.6-0.6 0.8-0.7 2.1-0.1 1.8 0.3 3.2 1.6 6 1.3 3.5 2.5 5.5 4.8 8.5 1.4 2.1 3 3.7 2.6 2.4z"/><path fill="#46ff00" d="M68.5 2.2l23.2 0.7-0.3-4.4-0.5-2.1-0.7-1.8-1.5-2.3-1.7-1.8-2-1.4-1-0.4-2.9-0.5-3.7 0.3-1.8 0.4-3.5 1.7-1.3 1.5-1.3 2.7-0.6 2.5zM105.4-29.9l2.1 0 1.7-0.9 1.3-2.1 0.5-1.4 0.3-2.1 0.1-2.8-0.6-4.2-1.1-3.8-1.5-4-1.2-2.6-2.9-4.9-2.6-3.3-3-3.1-2.2-1.6-3.3-1.5-1.3-0.2-2.1 0.4-0.8 0.4-1.2 1.5-0.6 2.3 0.1 3.4 0.4 2.2 2 6.3 3 6.8 3 5.3 2.1 3.1 2.5 3.1 2.1 2 2.3 1.4z"/><path fill="#6cff00" d="M68.9 2.2l22.1 0.7-0.1-3.3-0.4-2.1-0.8-2.1-1.5-2.5-2.1-2.1-1.9-1.2-2-0.6-2.8-0.1-1.9 0.2-2.7 0.8-1.7 0.9-0.9 0.7-1.6 2.1-0.8 1.9-0.6 2.6zM104.6-32.4l1.3 0.3 1.8-0.5 1.4-1.7 0.9-3.1-0.1-5.3-1-4.2-1.4-4-1.9-3.8-1.5-2.4-2.5-3.4-2-2-2.2-1.9-1.3-0.8-2.9-1-1.1-0.1-1 0.2-1.5 1.1-0.9 2-0.1 1.4 0.3 3.9 0.7 2.8 1.3 3.7 2.5 5.6 1.8 3.3 2.8 4.2 3.6 4 2.2 1.5z"/><path fill="#93ff00" d="M69.3 2.2l21.1 0.6-0.2-3.2-0.5-2.1-1.4-3.1-1-1.4-2.9-2.4-2.1-0.8-1.9-0.2-2.8 0.2-2.7 0.8-2.6 1.8-1.6 2.4-0.8 2.2zM103.9-34.9l1.2 0.3 1.8-0.6 0.8-0.9 0.5-1 0.4-1.6 0.2-2.2-0.2-2.8-0.6-2.8-1.4-4-1.8-3.7-1.5-2.4-3.7-4.3-3.2-2.3-1.5-0.6-2.3-0.1-0.8 0.4-1.2 1.6-0.3 1.2 0 2.5 0.8 4 1.7 4.8 2.8 5.5 2.8 4.3 2.7 3 1.8 1.3z"/><path fill="#b9ff00" d="M69.7 2.2l20 0.6-0.3-3.6-1-3-1-1.8-1.8-1.9-2.2-1.5-2.9-0.7-2.8 0.2-1.8 0.5-1.5 0.7-2 1.6-1.4 2.2-0.6 1.7-0.4 1.7zM103.7-37.5l1.4-0.1 0.8-0.4 1.1-2.2 0.2-1.5-0.1-2.9-1.5-5.4-2.6-4.9-2.1-2.8-2.4-2.2-1.7-1-1.4-0.5-1.1 0-0.9 0.4-0.6 0.7-0.5 1-0.2 1.4 0.1 1.9 0.6 2.9 1.1 3.1 2.8 5.6 2.2 3.2 1.4 1.6 1.5 1.2z"/><path fill="#dfff00" d="M70.2 2.2l18.7 0.6 0-2.1-0.4-2.2-0.8-2-2.3-3.1-0.9-0.8-2-1-1.9-0.5-1.9 0-0.9 0.1-2.7 1-2.6 2.1-1.2 2-0.6 1.7zM102.1-41.1l0.7 0.3 1-0.1 0.8-0.6 0.5-1.1 0.2-2-1-4.8-1.8-3.6-2.6-3.3-2.4-1.7-1.2-0.2-1 0.2-0.6 0.7-0.4 1.2 0.2 2.8 0.7 2.6 1.6 3.5 1.3 2.2 1.6 2.1z"/><path fill="#fff900" d="M70.7 2.2l17.5 0.6-0.5-4.2-1.2-2.6-1-1.3-1.1-1.1-1.8-1.1-2.9-0.6-0.9 0-2.7 0.7-1.8 1-1.7 1.8-1.3 2.6-0.4 1.7zM100.9-46.3l0.7 0.1 0.5-1-0.5-2.4-1.3-2.3-1-1-1.1-0.1-0.5 1.1 0.7 2.5 1.3 2.2z"/><path fill="#ffd200" d="M71.2 2.2l16.2 0.5-0.5-4.1-1.3-2.5-2-2-1.9-1-1.9-0.3-1.8 0.1-1.4 0.4-2.2 1.3-0.9 0.8-1.7 3.1z"/><path fill="#ffac00" d="M71.9 2.3l14.7 0.4 0-1.1-0.6-3-1.1-2-0.8-0.9-1.2-1-1.1-0.5-1.9-0.5-0.9 0-2.8 0.7-0.9 0.5-1.4 1.3-1.5 2.6z"/><path fill="#ff8600" d="M72.6 2.3l13.1 0.4 0-1.5-0.7-2.6-1.2-1.9-1.1-1-0.8-0.4-1.9-0.6-1 0-1.8 0.3-0.9 0.4-1.8 1.4-0.9 1.2-0.7 1.7z"/><path fill="#ff6000" d="M73.4 2.3l11.4 0.4 0-1.2-0.4-1.8-1.5-2.4-1.9-1.2-1.9-0.4-1.8 0.4-1.5 0.9-0.9 0.9-1 1.8z"/><path fill="#ff3900" d="M74.4 2.3l9.3 0.3 0-1-0.6-1.9-1.1-1.6-1-0.7-1.8-0.4-1.9 0.4-1.8 1.5-0.8 1.7z"/><path fill="#ff1300" d="M75.8 2.4l6.5 0.2-0.3-2-0.9-1.3-1-0.6-0.9-0.2-1.2 0.3-1.3 0.9-0.5 0.9z"/></g></g></g>
<g transform="translate(459.50 96.3)"><g clip-path="url(#cl)"><g filter="url(#bl)"><rect x="40" y="-100" width="100" height="110" fill="#ff0013"/><path fill="#ff0039" d="M63.5 2l63.7 2 0.1-7.5-0.4-6.1-0.7-7.4-0.7-4.5-2.6-11.8-1.7-5.8-3.1-8.5-3-6.9-2-4-2.9-5.3-4.8-7.7-3.5-4.9-4.7-5.9-4-4.5-3.2-3.2-45.1 45.1 2.6 2.7 2.9 3.5 3.4 4.9 3.3 6 2.1 4.8 1.5 4.2 1.8 7.3 0.8 6zM82.8-60.1l-0.8 0.1-1.3-0.5-0.6-1.1 0.5-1.9 1.8-1.8 1.6-0.9 2.1 0 1 0.9 0.1 1.5-0.5 1.1-2 2z"/><path fill="#ff0060" d="M63.5 2l63.7 2 0.1-7.5-0.4-6.1-0.7-7.4-0.7-4.5-2.6-11.8-1.7-5.8-3.1-8.5-3-6.9-2-4-2.9-5.3-4.8-7.7-3.5-4.9-4.7-5.9-4-4.5-3.2-3.2-45.1 45.1 2.6 2.7 2.9 3.5 3.4 4.9 3.3 6 2.1 4.8 1.5 4.2 1.8 7.3 0.8 6zM82.7-58.7l-2.4-0.1-1-0.6-0.7-1.7 0.6-2.2 1.1-1.6 2.8-2.2 3-0.7 1.5 0.5 0.9 1 0.3 1.3-0.2 1.8-0.5 0.9-1.9 2.1-2.5 1.3z"/><path fill="#ff0086" d="M63.5 2l63.7 2 0.1-7.5-0.4-6.1-0.7-7.4-0.7-4.5-2.6-11.8-1.7-5.8-3.1-8.5-3-6.9-2-4-2.9-5.3-4.8-7.7-3.5-4.9-4.7-5.9-4-4.5-3.2-3.2-45.1 45.1 2.6 2.7 2.9 3.5 3.4 4.9 3.3 6 2.1 4.8 1.5 4.2 1.8 7.3 0.8 6zM83.3-57.8l-2.7 0.3-1.4-0.4-1-0.6-0.7-1.1-0.1-1.3 0.5-2 1.9-2.6 2.2-1.8 1.6-0.9 1.6-0.6 2.1 0 0.8 0.3 0.6 0.3 0.9 1 0.5 1.3-0.1 1.7-0.7 2-2.6 2.8z"/><path fill="#ff00ac" d="M63.5 2l63.7 2 0.1-7.5-0.4-6.1-0.7-7.4-0.7-4.5-2.6-11.8-1.7-5.8-3.1-8.5-3-6.9-2-4-2.9-5.3-4.8-7.7-3.5-4.9-4.7-5.9-4-4.5-3.2-3.2-45.1 45.1 2.6 2.7 2.9 3.5 3.4 4.9 3.3 6 2.1 4.8 1.5 4.2 1.8 7.3 0.8 6zM84.7-57.4l-2.8 0.8-2.4-0.1-1.4-0.5-0.9-0.7-0.6-0.9-0.3-1.3 0.3-1.7 1.6-2.9 3.3-3.1 1.6-1 1.8-0.7 1.7-0.3 1.8 0.2 1.3 0.7 0.9 1 0.5 1.3 0.1 1.5-0.4 1.9-1 1.8-1.2 1.5-1.4 1.2z"/><path fill="#ff00d2" d="M63.5 2l63.7 2 0.1-7.5-0.4-6.1-0.7-7.4-0.7-4.5-2.6-11.8-1.7-5.8-3.1-8.5-3-6.9-2-4-2.9-5.3-4.8-7.7-3.5-4.9-4.7-5.9-4-4.5-3.2-3.2-45.1 45.1 2.6 2.7 2.9 3.5 3.4 4.9 3.3 6 2.1 4.8 1.5 4.2 1.8 7.3 0.8 6zM93.6-15.8l-0.7-0.1-1.3-0.9 0.6-1.3 2.6-1.2 1.8-0.5 3.8-0.2 1 0.1 1.3 1-0.7 1.4-2.8 1.2-3.7 0.6zM83.3-56.1l-3.2 0.4-2.9-0.8-0.9-0.7-0.6-1-0.3-1.2 0.1-1.5 0.3-0.8 1.4-2.6 1.2-1.4 2.8-2.5 1.5-1 1.7-0.9 2-0.5 1.2-0.1 1.7 0.4 1.2 0.7 0.9 1.1 0.6 1.2 0.2 1.2-0.1 1.5-0.7 2.2-1.7 2.4-2.1 1.9z"/><path fill="#ff00f9" d="M63.5 2l63.7 2 0.1-7.5-0.4-6.1-0.7-7.4-0.7-4.5-2.6-11.8-1.7-5.8-3.1-8.5-3-6.9-2-4-2.9-5.3-4.8-7.7-3.5-4.9-4.7-5.9-4-4.5-3.2-3.2-45.1 45.1 2.6 2.7 2.9 3.5 3.4 4.9 3.3 6 2.1 4.8 1.5 4.2 1.8 7.3 0.8 6zM92.8-14.8l-2.8-0.6-0.9-1 0.4-1.2 0.8-0.7 2.6-1.4 4.4-1.2 4.3-0.3 2.9 0.7 1 1.1-0.4 1.4-2.2 1.6-2.7 0.9-3.6 0.7zM84.7-55.8l-3.6 0.8-2 0-1.5-0.3-2.1-1.3-0.6-0.9-0.3-1.2 0-1.5 0.7-2.1 1-1.6 2.4-2.9 2.1-1.8 1.6-1.1 2.5-1.2 1.4-0.5 2.3-0.1 1.6 0.5 1.2 0.8 0.8 1 0.6 1.3 0.3 1.5 0 1.7-0.6 2-1.7 2.7-2.1 1.9z"/><path fill="#df00ff" d="M63.5 2l63.7 2 0.1-7.5-0.4-6.1-0.7-7.4-0.7-4.5-2.6-11.8-1.7-5.8-3.1-8.5-3-6.9-2-4-2.9-5.3-4.8-7.7-3.5-4.9-4.7-5.9-4-4.5-3.2-3.2-45.1 45.1 2.6 2.7 2.9 3.5 3.4 4.9 3.3 6 2.1 4.8 1.5 4.2 1.8 7.3 0.8 6zM94.8-13.9l-4.9-0.4-1.8-0.7-0.9-1 0.2-1.1 1.4-1.4 3-1.6 2.7-0.9 3.6-0.8 4.7-0.2 1.9 0.2 2.2 0.8 0.9 1.2-0.2 1.4-1.7 1.5-1.1 0.6-3.6 1.4-2.7 0.6zM83.2-54.7l-3 0.5-2.1-0.1-2.5-1-0.9-0.7-0.6-1-0.4-1.3 0-1.2 0.5-1.8 1.2-2.3 2.4-2.9 3.5-3 3.2-1.9 1.9-0.6 1-0.2 2.7 0.2 2 1.2 0.9 1.1 0.6 1.2 0.4 1.5 0 1.8-0.4 1.7-1.1 2.4-2.8 2.9-2.2 1.6z"/><path fill="#b900ff" d="M63.5 2l63.7 2 0.1-7.5-0.4-6.1-0.7-7.4-0.7-4.5-2.6-11.8-1.7-5.8-3.1-8.5-3-6.9-2-4-2.9-5.3-4.8-7.7-3.5-4.9-4.7-5.9-4-4.5-3.2-3.2-45.1 45.1 2.6 2.7 2.9 3.5 3.4 4.9 3.3 6 2.1 4.8 1.5 4.2 1.8 7.3 0.8 6zM91.2-13.4l-3.9-0.8-1-0.6-0.7-0.9 0.1-1.1 1-1.3 2.5-1.6 2.5-1.1 5.3-1.5 2.8-0.4 3.7-0.1 4 0.6 1.6 0.8 0.8 1.2-0.2 1.4-1.3 1.6-3.5 1.9-3.6 1.1-2.7 0.5-3.7 0.4zM85.3-54.9l-1.8 0.7-4 0.7-2.4-0.2-1.2-0.4-1.1-0.6-1.4-1.7-0.4-1.1-0.1-1.3 0.3-1.6 1.3-2.7 3-3.7 2-1.9 2.3-1.7 3.7-2 2.5-0.6 2.2 0.2 1.5 0.6 1.1 0.9 0.9 1 0.7 1.3 0.4 1.4 0.1 1.6-0.6 2.9-1 1.9-2 2.4-2 1.6z"/><path fill="#9300ff" d="M63.5 2l63.7 2 0.1-7.5-0.4-6.1-0.7-7.4-0.7-4.5-2.6-11.8-1.7-5.8-3.1-8.5-3-6.9-2-4-2.9-5.3-4.8-7.7-3.5-4.9-4.7-5.9-4-4.5-3.2-3.2-45.1 45.1 2.6 2.7 2.9 3.5 3.4 4.9 3.3 6 2.1 4.8 1.5 4.2 1.8 7.3 0.8 6zM94.1-12.7l-5.5-0.3-2.5-0.7-1.4-0.8-0.6-0.9 0.1-1.1 0.8-1.2 1.4-1.2 3.4-1.8 2.6-1 6.3-1.5 4.7-0.4 3.8 0.3 2.1 0.5 1.8 1 0.8 1.2-0.1 1.4-1.1 1.6-2.5 1.7-5 1.9-3.6 0.8zM83.8-53.8l-3.7 0.9-2.4 0-1.3-0.2-1.5-0.6-1.6-1.2-0.7-0.9-0.5-2.4 0.3-1.7 0.9-2.2 2.7-3.7 1.9-2 2.8-2.4 3.2-2 2.8-1.2 1.9-0.3 2.4 0.3 1.4 0.7 1.1 0.9 0.9 1 0.6 1.3 0.6 1.8 0.1 1.1-0.1 1.8-0.6 2-0.7 1.4-1.2 1.6-2.1 1.9-3.8 2.6z"/><path fill="#6c00ff" d="M63.5 2l63.7 2 0.1-7.5-0.4-6.1-0.7-7.4-0.7-4.5-2.6-11.8-1.7-5.8-3.1-8.5-3-6.9-2-4-2.9-5.3-4.8-7.7-3.5-4.9-4.7-5.9-4-4.5-3.2-3.2-45.1 45.1 2.6 2.7 2.9 3.5 3.4 4.9 3.3 6 2.1 4.8 1.5 4.2 1.8 7.3 0.8 6zM90.4-12.2l-3.8-0.5-2-0.7-1.4-0.9-0.5-0.9 0-1 0.7-1.2 2-1.7 5.2-2.5 2.6-0.9 4.5-1.1 4.6-0.6 2.8-0.1 3.6 0.3 2.3 0.6 2 1.3 0.6 1.2 0 1.4-0.8 1.5-2.4 1.9-2.6 1.3-3.6 1.2-3.6 0.8-3.7 0.5zM82.2-52.8l-1.9 0.4-3.3 0.1-1.3-0.2-2.4-1.1-0.8-0.8-1-1.9 0-2.8 0.8-2.1 1.6-2.7 1.8-2.2 2.6-2.6 4.4-3.4 2.5-1.3 2.9-0.9 1.9-0.1 2.2 0.6 1.9 1.5 0.9 1.1 1.3 2.9 0.2 2.9-0.8 2.8-1 1.8-2 2.1-2.2 1.8-3.9 2.4z"/><path fill="#4600ff" d="M63.5 2l63.7 2 0.1-7.5-0.4-6.1-0.7-7.4-0.7-4.5-2.6-11.8-1.7-5.8-3.1-8.5-3-6.9-2-4-2.9-5.3-4.8-7.7-3.5-4.9-4.7-5.9-4-4.5-3.2-3.2-45.1 45.1 2.6 2.7 2.9 3.5 3.4 4.9 3.3 6 2.1 4.8 1.5 4.2 1.8 7.3 0.8 6zM95.1-11.7l-3.7 0.1-3.7-0.3-2.9-0.6-1.8-0.7-1.1-0.8-0.6-0.9 0-1 0.6-1.2 1.3-1.3 2.5-1.6 3.9-1.8 5.2-1.7 4.8-1 3.5-0.4 4-0.1 3.9 0.5 2.3 0.9 1.3 1.1 0.6 1.3 0 1.4-0.6 1.5-1.6 1.7-1.6 1-2.6 1.2-4.5 1.4-4.6 0.9zM85.1-53.4l-2.6 1-2.9 0.7-2.2 0.1-2.4-0.3-2.4-1.2-1.4-1.6-0.5-1.5 0-2.3 0.6-1.9 1.7-2.9 1.8-2.4 2.6-2.7 2.8-2.4 3-2.1 3.5-1.7 2-0.5 2.5 0.2 1.9 0.8 1.6 1.3 1.6 2.4 0.6 1.3 0.4 2.2-0.3 2.9-0.8 2.1-2.9 3.4-2.5 1.9-3.2 2z"/><path fill="#2000ff" d="M63.5 2l63.7 2 0.1-7.5-0.4-6.1-0.7-7.4-0.7-4.5-2.6-11.8-1.7-5.8-3.1-8.5-3-6.9-2-4-2.9-5.3-4.8-7.7-3.5-4.9-4.7-5.9-4-4.5-3.2-3.2-45.1 45.1 2.6 2.7 2.9 3.5 3.4 4.9 3.3 6 2.1 4.8 1.5 4.2 1.8 7.3 0.8 6zM90.6-11.1l-4.8-0.5-2.9-0.8-1.4-0.6-1-0.8-0.5-0.9 0-1 0.5-1.1 1.3-1.4 3.3-2.2 2.3-1.1 7.3-2.5 5.5-1.1 5.5-0.6 4.1 0.1 2.7 0.5 2.4 1.2 1.1 1.2 0.5 1.3 0.1 1.4-0.5 1.5-1.2 1.6-2.4 1.7-1.8 0.9-5.4 1.7-5.5 1-5.5 0.5zM83.6-52.3l-3.7 1.1-2.1 0.2-2.4-0.1-2.6-0.8-1.7-1.4-1-1.9-0.2-2.6 0.5-1.8 1.3-2.6 2.9-3.8 3.2-3.3 3-2.5 2.9-1.9 2.6-1.3 3-0.8 2.7 0.3 2.2 1.3 1 1 0.9 1.1 1.4 2.6 0.6 3-0.2 2.1-0.5 1.7-2.1 2.9-2.8 2.5-3.9 2.6z"/><path fill="#0006ff" d="M63.5 2l63.7 2 0.1-7.5-0.4-6.1-0.7-7.4-0.7-4.5-2.6-11.8-1.7-5.8-3.1-8.5-3-6.9-2-4-2.9-5.3-4.8-7.7-3.5-4.9-4.7-5.9-4-4.5-3.2-3.2-45.1 45.1 2.6 2.7 2.9 3.5 3.4 4.9 3.3 6 2.1 4.8 1.5 4.2 1.8 7.3 0.8 6zM98-10.9l-3.7 0.3-4.6 0-5.7-0.7-2.4-0.7-2.5-1.6-0.5-0.8 0-1.1 0.7-1.3 0.8-0.9 1.7-1.4 4.9-2.6 6.1-2.3 4.5-1.1 7.3-1.1 5.7-0.2 2 0.3 2 0.6 1.1 0.6 1.2 1 0.6 0.9 0.5 1.4 0.1 1.4-0.3 1.5-0.7 1.3-0.8 0.9-1.7 1.3-3.5 1.7-4.5 1.3zM82-51.3l-2.8 0.7-3.2 0.2-2.8-0.5-2.1-1.1-1.3-1.6-0.5-1-0.2-2.5 0.4-1.8 1.9-3.6 2.3-3.1 2.5-2.7 4.2-3.7 3.8-2.6 2.6-1.2 3.1-0.7 2.3 0.3 2.5 1.6 1 1 1.7 2.4 1.2 2.9 0.2 1.3-0.3 3.5-1.5 2.6-2.1 2.2-2.2 1.8-5.5 3.4z"/><path fill="#002dff" d="M63.5 2l63.7 2 0.1-7.5-0.4-6.1-0.7-7.4-0.7-4.5-2.6-11.8-1.7-5.8-3.1-8.5-3-6.9-2-4-2.9-5.3-4.8-7.7-3.5-4.9-4.7-5.9-4-4.5-3.2-3.2-45.1 45.1 2.6 2.7 2.9 3.5 3.4 4.9 3.3 6 2.1 4.8 1.5 4.2 1.8 7.3 0.8 6zM91.6-10.1l-6.6-0.4-2.8-0.6-2-0.6-2.5-1.6-0.5-1.8 0.4-1.1 0.7-0.9 1.7-1.6 4-2.4 5.2-2.2 5.3-1.6 7.2-1.5 6.5-0.8 2.4 0 3.5 0.6 2.1 1 1.2 1.1 0.8 1.3 0.5 2.8-0.2 1.9-0.8 1.4-1.1 1.3-3.1 2-4.5 1.6-4.5 0.9-9.2 1.1zM86.6-52.8l-6.4 2.5-2.8 0.5-3.3-0.1-1.8-0.4-1-0.5-1.7-1.4-1-1.8-0.3-1.1 0-1.4 0.3-1.6 0.9-2.2 1.6-2.6 2.9-3.7 4-3.9 3.6-2.9 3.1-2 3.6-1.5 2.8-0.2 1.7 0.4 1.3 0.8 2.1 2 1.7 2.3 1.6 4.1 0.1 2.4-0.2 1.1-0.5 1.3-1.1 1.7-3.3 3.3-3.9 2.7z"/><path fill="#0053ff" d="M63.5 2l63.7 2 0.1-7.5-0.4-6.1-0.7-7.4-0.7-4.5-2.6-11.8-1.7-5.8-3.1-8.5-3-6.9-2-4-2.9-5.3-4.8-7.7-3.5-4.9-4.7-5.9-4-4.5-3.2-3.2-45.1 45.1 2.6 2.7 2.9 3.5 3.4 4.9 3.3 6 2.1 4.8 1.5 4.2 1.8 7.3 0.8 6zM87.9-9.7l-4.7-0.5-3.8-1-2.1-1-1.1-1-0.3-0.7-0.1-1 0.3-1 0.8-1.1 2.8-2.3 3.3-1.9 4.3-1.9 6.2-2 7.2-1.6 7.3-1.2 5 0.1 2.8 0.8 1.6 1.1 1 1.2 1 2.8 0.2 1.4-0.2 2-0.3 1-1.2 1.8-2.5 1.9-3.6 1.5-5.4 1.2-9.2 1.2-4.6 0.3zM84.2-51.4l-3.5 1.4-3.9 0.8-2.4 0-2.9-0.5-1.9-1.2-0.7-0.7-1.1-1.8-0.3-1.1 0-1.3 0.4-2.3 1.3-2.8 3.3-4.6 3.2-3.4 4.1-3.7 2.2-1.7 4.7-2.7 3.1-0.9 3 0.5 1.8 1.1 2.1 2 2.3 3.6 1.1 2.8 0.3 2.3-0.5 2.7-1.1 1.7-2 2.1-3.7 2.9-5.5 3.3z"/><path fill="#0079ff" d="M63.5 2l63.7 2 0.1-7.5-0.4-6.1-0.7-7.4-0.7-4.5-2.6-11.8-1.7-5.8-3.1-8.5-3-6.9-2-4-2.9-5.3-4.8-7.7-3.5-4.9-4.7-5.9-4-4.5-3.2-3.2-45.1 45.1 2.6 2.7 2.9 3.5 3.4 4.9 3.3 6 2.1 4.8 1.5 4.2 1.8 7.3 0.8 6zM92.6-9.2l-4.6 0.1-5.7-0.6-3.8-0.9-2.9-1.4-1.3-1.7 0.2-1.8 0.7-1.1 1.2-1.2 3.9-2.7 5.2-2.4 4.3-1.6 8.6-2.2 9.5-1.8 3.7-0.3 3.5 0.5 2 1 1.3 1.2 0.8 1.2 0.6 1.4 0.5 2.9-0.2 2.9-0.4 1.1-0.8 1.2-0.8 0.9-1.7 1.1-1.8 0.9-2.7 0.9-2.7 0.6-11 1.4zM81.8-50l-2.7 0.9-3.7 0.6-2.6-0.1-2.8-0.8-2-1.6-1-1.8-0.4-2.5 0.7-3.1 1.5-2.9 2.8-3.8 5.1-5.4 3.5-3 4.6-3.2 2.6-1.3 3.1-0.6 2 0.3 2.6 1.6 2 2.1 1.7 2.3 1.9 4 0.5 3.1-0.3 1.9-1.8 2.8-5.7 4.6-5.6 3.3z"/><path fill="#009fff" d="M63.5 2l63.7 2 0.1-7.5-0.4-6.1-0.7-7.4-0.7-4.5-2.6-11.8-1.7-5.8-3.1-8.5-3-6.9-2-4-2.9-5.3-4.8-7.7-3.5-4.9-4.7-5.9-4-4.5-3.2-3.2-45.1 45.1 2.6 2.7 2.9 3.5 3.4 4.9 3.3 6 2.1 4.8 1.5 4.2 1.8 7.3 0.8 6zM87.1-8.6l-4.7-0.4-4.8-1-2.6-1-1.2-0.8-0.7-0.7-0.4-0.8 0.1-1.9 1.6-2.2 2.4-1.9 4.2-2.3 4.3-1.8 8-2.5 14.4-3.2 2.8-0.4 3.8 0.1 2.4 0.7 1.6 1.1 1.7 2.6 0.9 2.8 0.2 1.4-0.1 3-1.1 2.7-0.8 1-1.7 1.3-4.5 1.7-2.8 0.5-16.5 1.8zM88.8-52.8l-4.2 2.1-5.3 2-2.7 0.7-4.5 0.1-2.4-0.6-1-0.5-1.5-1.3-1.1-1.8-0.3-1-0.1-1.9 0.5-2.4 1.7-3.5 2.2-3.1 4.3-4.9 4.1-3.8 4.3-3.4 5-2.8 1.4-0.4 1.9-0.1 2 0.6 2.5 1.7 2.9 3.3 1.5 2.4 1.3 2.7 0.7 3 0 0.9-0.2 1.4-1 1.9-2 2-3.8 3z"/><path fill="#00c6ff" d="M63.5 2l63.7 2 0.1-7.5-0.4-6.1-0.7-7.4-0.7-4.5-2.6-11.8-1.7-5.8-3.1-8.5-3-6.9-2-4-2.9-5.3-4.8-7.7-3.5-4.9-4.7-5.9-4-4.5-3.2-3.2-45.1 45.1 2.6 2.7 2.9 3.5 3.4 4.9 3.3 6 2.1 4.8 1.5 4.2 1.8 7.3 0.8 6zM83.4-8.2l-2.8-0.3-6.3-1.5-2.5-1.4-1.1-1.6 0-1.7 1.3-2.1 3.4-2.7 3.9-2 7.6-3 6.3-1.8 17.1-3.9 1.9-0.2 3.9 0.3 2.2 1.2 1.3 1.5 1.2 2.2 1 4.3 0.1 1.5-0.3 2.9-0.7 1.8-0.8 1.1-0.9 0.8-2.1 1.2-4.2 1.1-8.2 1-14.8 1.4-3.7 0.1zM85.6-50.8l-7 2.8-3.8 0.8-3.5 0-2.7-0.5-2.4-1.9-1-1.7-0.4-1-0.1-1.1 0.3-3 1.5-3.4 3.2-4.6 2.9-3.3 6.2-6 4.4-3.4 3.2-2 2.8-1 3 0.1 2.8 1.5 1.1 1 3.7 4.5 2.1 3.9 0.5 1.4 0.5 2.6-0.1 1.5-1 2-1.3 1.4-2.2 1.8-5.3 3.7z"/><path fill="#00ecff" d="M63.5 2l63.7 2 0.1-7.5-0.4-6.1-0.7-7.4-0.7-4.5-2.6-11.8-1.7-5.8-3.1-8.5-3-6.9-2-4-2.9-5.3-4.8-7.7-3.5-4.9-4.7-5.9-4-4.5-3.2-3.2-45.1 45.1 2.6 2.7 2.9 3.5 3.4 4.9 3.3 6 2.1 4.8 1.5 4.2 1.8 7.3 0.8 6zM85.4-7.4l-2.8 0-5.7-0.7-4.8-1.2-1.9-1-1.3-1.5-0.5-1.6 0.1-1 0.6-1.6 0.7-1 2.3-2 2.5-1.4 2.6-1.1 8.7-3.2 8-2.2 18-4.3 3.9-0.2 0.9 0.3 1.3 0.6 1 0.8 1.4 1.8 1.6 4 0.7 4.4 0 1.4-0.5 3.1-0.4 0.8-0.7 1.2-1.8 1.5-2.6 1-2.8 0.5-20.2 2zM83.2-49.4l-7.1 2.6-4 0.5-3.5-0.2-2.1-0.9-0.8-0.6-1.2-1.5-0.9-2.2-0.2-1.7 0.2-1.8 0.9-2.6 1.9-3.4 5.3-6.5 4.6-4.6 5.6-4.8 4.7-3.1 1.8-0.8 3-0.2 1.6 0.5 2.6 1.7 2.1 2.1 1.8 2.3 2.4 3.7 1.2 2.7 0.8 2.9-0.1 1.8-0.4 1-1.2 1.6-4.4 3.5-4.6 3-6.6 3.5z"/><path fill="#00ffec" d="M63.5 2l63.7 2 0.1-7.5-0.4-6.1-0.7-7.4-0.7-4.5-2.6-11.8-1.7-5.8-3.1-8.5-3-6.9-2-4-2.9-5.3-4.8-7.7-3.5-4.9-4.7-5.9-4-4.5-3.2-3.2-45.1 45.1 2.6 2.7 2.9 3.5 3.4 4.9 3.3 6 2.1 4.8 1.5 4.2 1.8 7.3 0.8 6zM77.1-6.5l-5.7-1-1.9-0.8-2-1.6-0.8-1.5-0.5-2.4 0.2-1.4 0.6-1.5 0.7-1 1.5-1.4 2.5-1.4 12.3-4.2 19.7-5 6.2-1.8 5.5-1.2 0.9 0 2.1 0.6 1.2 0.9 2 2.9 0.6 1.3 1.1 4.4 0.4 2.9 0.1 3-0.2 1.5-0.7 2.2-1.6 2.1-0.9 0.5-2.8 0.6-3.6 0.4-14.8 1.1-18.4 2zM80.8-48l-5.5 2-1.7 0.3-3.2 0.4-2 0-1.5-0.1-1.1-0.4-0.9-0.5-1.4-1.3-1-1.6-0.7-3.1 0.6-3.7 0.8-1.9 3.1-4.8 6.1-7 6-5.8 7.3-5.7 1.7-0.9 3.2-0.6 1.5 0.3 1.9 0.9 2.4 1.8 4.7 5.7 3 5.2 1 2.8 0.2 1.2-0.2 1.6-0.4 0.9-0.7 0.8-2.9 2.4-3.8 2.6-7.2 4.2z"/><path fill="#00ffc6" d="M72.4 2.3l53.7 1.7 0.1-4.5-0.4-3-0.9-2.9-1.6-1.8-0.9-0.5-2.8-0.3-7.4 0.2-11.1 0.7-9.2 1-5.5 0.8-5 1.1-4 1.2-3.1 1.9-1 0.9-1 1.8zM90.3-26.8l9.7-2.4 9.8-2.9 6.1-2.2 1.6-1 0.7-0.9 0.6-2.1-0.1-3.1-0.6-2.9-1.5-4.3-1.8-4.1-2.1-4-1.6-2.5-2.2-2.2-1.8-0.4-0.9 0.3-13.5 8.2-5.5 2.8-7.9 3.6-5.3 1.9-4.9 0.9-3.7 1.1-1.4 1.2-1.9 2.2-1.9 2.8-1.2 2.6-0.2 1.1 0 1.8 0.5 2.4 0.9 2.1 1.7 2.7 2.1 1.8 1.1 0.5 2.5 0.5 1.9-0.2 9.8-2.7z"/><path fill="#00ff9f" d="M75.8 2.4l48.8 1.5 0.1-2.9-0.8-4.4-0.6-1.5-1.7-2-2-0.9-1.8-0.3-8.4-0.1-12.9 0.9-6.4 0.9-5.5 1.2-4.5 1.7-2.1 1.3-1.9 1.9-0.5 1.8zM83.2-25.7l11.3-2.5 10.7-3 6.9-2.6 2.8-1.7 1.1-1.6 0.5-1.4 0.3-2-0.6-4.7-1.4-4.2-1.9-4-2.5-3.7-1.6-1.6-1.6-1-1.1-0.1-1.9 0.5-2.5 1.2-8.8 5.1-9.1 4.5-9.4 4.1-5.4 1.9-1.4 1.1-2.6 2.9-2.3 3.5-0.6 1.9-0.1 1.9 0.6 2.5 1.3 2.1 1.4 1.2 2.1 1 1.6 0.4 2.7 0.2 2.8-0.3z"/><path fill="#00ff79" d="M77.9 2.4l44.7 1.5 1 0 0.2-1.5-0.5-4.4-1.5-2.8-1.5-1.4-1.5-0.7-1.9-0.5-2.8-0.3-6.5 0-7.4 0.4-7.3 0.9-5.5 1.1-4.6 1.6-3.6 2.3-0.9 1-0.5 1zM87.5-27.1l11.4-2.7 10.5-3.6 2.5-1.3 1.5-1.3 1.4-1.8 0.8-2.5 0.1-1.6-0.2-2.2-0.9-3.6-1.1-2.8-1.4-2.6-1.7-2.4-2.2-2.2-1.4-0.8-1.1-0.1-1 0.1-2.6 0.9-11.5 6.2-18.4 8.8-3 2.2-2.3 2.7-1.9 3.1-0.4 1.1-0.2 2.1 0.3 1.7 0.4 0.7 2 2 2.5 0.9 5.3 0.5 6.2-0.5z"/><path fill="#00ff53" d="M79.6 2.5l43.2 1.4 0.2-2.9-0.2-1.5-1.1-2.8-1.9-2-1.9-1-1.9-0.5-3.1-0.4-5.3-0.1-6.4 0.3-6.5 0.7-5.5 1.1-2.3 0.7-3.1 1.3-2.9 1.9-0.8 0.8-0.6 1.1-0.1 1zM92.3-28.5l7.3-2 7.9-2.8 3.3-1.9 2.2-2 0.7-1 1-2.7 0.1-2.2-0.9-4.4-1.7-4-0.8-1.3-1.7-2.3-2-1.8-1.4-0.6-1.2-0.1-3.6 1-26.5 13.3-2.2 1.6-2.1 2.1-3 4.2-0.8 2.4 0.2 2.2 1 1.5 0.8 0.6 2.3 1 5.3 0.9 3.9 0 6.6-0.7z"/><path fill="#00ff2d" d="M80.9 1.6l0.2 0.9 0.9 0.1 37.8 1.2 2.3 0 0.1-1.4-0.2-2.9-1.2-2.5-1-1.1-0.9-0.7-2.8-1.2-5.7-0.8-6.4 0-5.6 0.4-3.6 0.5-5.7 1.3-4.4 1.8-2.2 1.5-1 1-0.5 0.9zM87.1-28.1l4.3-0.7 4.5-1.1 9.7-3.3 3.3-1.7 2.3-1.9 1.4-1.6 1.1-2.4 0.3-2-0.5-3.9-1.2-3.2-1.2-2.2-1.1-1.6-2.3-2.1-2-0.9-3 0.3-11.8 5.5-11.6 5.8-3.2 1.9-2.2 1.7-3.1 3.9-1.5 3.3-0.1 1.6 0.5 1.7 1.4 1.4 1 0.6 2.8 0.9 4.2 0.5 3.2 0z"/><path fill="#00ff06" d="M82.5 2.6l38.8 1.2 0.2-2.9-0.7-2.2-0.9-1.5-1.9-1.5-1.9-0.9-2.4-0.7-3.2-0.4-6.5-0.1-4.6 0.3-5.5 0.8-1.9 0.4-4.1 1.4-3.2 1.6-1.8 1.7-0.5 0.8-0.2 1zM90.3-29.1l7.2-1.8 7.9-2.9 4-2.6 2.2-2.2 1.2-2.2 0.4-1.6-0.1-3.1-0.8-2.8-1.3-2.7-1.4-2-1.9-1.8-1.4-0.8-1.3-0.3-2 0.2-2.7 0.8-15.9 7.6-4.9 2.6-3.8 2.6-2.6 3-1.8 3.3-0.4 2.6 0.5 1.5 0.5 0.7 1.8 1.3 3.1 1 3.1 0.4 4.9-0.1z"/><path fill="#20ff00" d="M83.6 1.6l0.2 1 0.9 0.1 35.1 1.1 0.7 0 0.2-1.4 0-1.5-0.4-1.4-0.8-1.4-1.5-1.4-2.5-1.3-2.2-0.7-2.8-0.5-3.7-0.2-4.6 0.1-6.5 0.7-6 1.6-4.3 2.2-1.6 1.8zM96.7-31.2l5.9-2.1 5-2.7 2.6-2.4 1.6-2.4 0.5-1.3 0.2-2-0.8-4-2.1-3.8-2.2-2.1-1.6-0.8-1.4-0.2-2 0.1-3.5 1.2-6 2.7-10.7 5.3-4 2.4-1.6 1.3-1.9 2.2-1.9 3.2-0.5 2.1 0.4 2.2 1.4 1.4 1.1 0.7 2.3 0.7 3.1 0.5 6.5-0.2 3.1-0.4z"/><path fill="#46ff00" d="M85.1 2.7l34.5 1.1 0.3-1.6-0.1-1.3-0.8-1.9-1.9-1.9-1.9-1-1.9-0.7-2.8-0.6-2.8-0.3-5.5 0-5.5 0.6-2.8 0.6-5.1 1.8-2.2 1.3-0.9 0.8-0.7 1.1-0.2 1zM89.9-30.1l4.7-1 4.4-1.4 3.4-1.4 2.5-1.3 2.4-1.6 2.2-2.1 0.8-1 1-1.9 0.4-1.6 0-1.6-0.3-1.9-0.9-2.3-1.5-2.4-1.1-1-1.7-1.1-1.5-0.5-2.9 0.1-3.6 1.2-13.4 6.2-5.1 3-3.3 3-1.2 1.6-1.5 3.2 0 2.1 0.8 1.7 1.9 1.3 3.9 1 4.7 0.2z"/><path fill="#6cff00" d="M86.4 2.7l32.2 1 0.3-1.4-0.1-1.4-0.7-1.6-1.1-1.2-2.1-1.3-4.3-1.4-6.5-0.5-7.4 0.7-3.7 0.9-2.7 1-2 1.1-1.7 1.5-0.5 1.6zM94.6-31.7l5-1.7 5.1-2.5 3.8-3.1 1.3-1.8 1-2.6 0-2.8-0.9-2.7-1.7-2.3-1.2-1-1.5-0.8-2.3-0.5-4.7 1-3.5 1.4-7.6 3.5-4.8 2.6-3.1 2.1-1.4 1.3-1.6 2-1.5 3-0.2 2.3 0.3 0.9 0.6 0.8 2.1 1.4 3.2 0.8 3.1 0.2 5.7-0.5z"/><path fill="#93ff00" d="M87.3 1.7l0.4 1.1 28.4 0.9 1.4 0 0.4-1.4-0.2-1.4-0.7-1.4-1.7-1.6-3.8-1.6-2.8-0.6-3.7-0.3-6.5 0.4-2.7 0.5-3.7 1.1-2.4 1.2-1.4 1-0.8 1zM89.6-31.3l4.6-0.9 5.2-1.8 4.2-2.1 2.4-1.7 1.4-1.4 1.4-1.6 0.6-1.2 0.6-2.3 0-1.5-0.3-1.4-1.3-2.5-1-1.1-1.3-1-1.3-0.5-2.2-0.3-1.1 0-3.6 0.9-6.1 2.4-4.2 2-5.6 3.2-2.9 2.4-2.4 3.4-0.8 2.4 0.4 2 0.8 1.1 2.6 1.3 3.2 0.6 3.9 0z"/><path fill="#b9ff00" d="M88.9 2.8l27.4 0.9 0.4-1.4-0.2-1.4-0.8-1.4-2.3-1.7-2.8-1.1-1.9-0.4-5.5-0.4-4.6 0.4-3.7 0.8-2.8 1-2.5 1.5-0.8 1.1-0.2 1zM93.6-32.6l4.8-1.6 4.2-2.1 2.4-1.7 2.3-2.3 1.5-3 0.3-2.1-0.8-2.8-1.9-2.2-2.2-1.1-1.2-0.3-2.1 0-2.8 0.6-2.7 0.9-6.8 2.9-4 2.2-3.1 2.1-2 1.9-2.1 3.4-0.3 1.3 0 1.3 0.3 0.8 0.5 0.8 0.9 0.8 2.7 1 2.5 0.3 5.4-0.3z"/><path fill="#dfff00" d="M89.9 1.8l0.4 1 0.9 0.1 22.2 0.7 1.6 0 0.5-1.3-0.2-1.4-0.9-1.3-1.9-1.4-3.6-1.2-3.9-0.5-4.6 0.1-3.7 0.6-3.6 1.2-2.1 1.2-0.9 1.1zM89.4-32.4l5.3-1.1 3.5-1.3 4.3-2.3 2.9-2.3 1.9-2.7 0.8-2.9-0.2-1.4-0.5-1.3-1-1.4-1-0.8-1.8-0.8-1.2-0.2-3.1 0.1-2.7 0.6-5.3 2-3.3 1.6-4 2.3-2.8 2.3-1.7 2-1.3 2.8 0.2 2.3 0.6 0.9 0.9 0.7 1.4 0.6 1.8 0.4 3.3 0.2z"/><path fill="#fff900" d="M91.2 1.8l0.5 1.1 21.7 0.7 0.2 0 0.5-1.4-0.2-1.3-1.1-1.4-1.2-0.8-1.9-0.8-5.6-0.9-4.6 0.3-4.6 1.1-2.3 1.2-1.1 1.1zM92.9-33.6l4.2-1.4 2.6-1.2 3.9-2.7 2.1-2.3 0.9-1.7 0.3-1.6-0.1-1.5-0.5-1.3-0.9-1.1-1.2-0.9-2.4-0.7-2.1-0.2-3.8 0.8-4.4 1.6-4.9 2.5-3.1 2-2.1 2.1-1.5 2.2-0.6 1.9 0.2 1.7 0.6 0.9 1 0.7 1.4 0.6 2.6 0.4 3 0z"/><path fill="#ffd200" d="M92.7 1.8l0.5 1.1 0.8 0.1 16.6 0.5 1.5 0 0.6-1.3-0.3-1.3-1.3-1.4-2.3-1.1-3.7-0.7-3.7 0-4.6 0.8-2.6 1.1-1.2 1.1zM89.5-33.6l3.9-0.8 4.4-1.6 3.4-2 2.1-1.8 1.3-1.6 1.1-2.6-0.1-1.5-0.5-1.3-0.9-1-1.4-0.9-1.9-0.5-2.9-0.1-1.8 0.4-6 2.2-2.6 1.3-2.4 1.5-1.4 1.2-1.4 1.4-1.2 1.7-0.5 1.1-0.3 1.6 0.2 1 0.6 0.9 1.1 0.7 1.5 0.5 3.1 0.4z"/><path fill="#ffac00" d="M94.3 1.8l0.6 1.2 15.4 0.5 0.8-1.3-0.4-1.4-1.5-1.2-2.3-0.8-2.7-0.5-4.6 0.3-3.4 1-1.6 1.1zM93-34.9l2-0.6 3.4-1.6 2.3-1.5 2.2-2.2 0.7-0.9 0.7-1.7 0-1.5-0.4-1.3-1-1-1.5-0.8-1.9-0.4-4 0.3-3.5 1.2-4.2 2-3.3 2.4-1.1 1.2-1.7 2.9 0.1 2 0.6 0.9 1.1 0.7 1.7 0.5 2.4 0.2z"/><path fill="#ff8600" d="M96.2 1.9l0.9 1.2 9.8 0.3 1.3 0 1-1.3-0.5-1.3-0.8-0.5-1.5-0.7-2.2-0.4-2.8 0-2.8 0.5-2 1zM90-35l3-0.6 2.6-0.9 4.1-2.3 2.1-2.2 0.6-1 0.5-2.3-0.4-1.3-1-1-1.6-0.7-2.4-0.3-1.6 0.2-3.5 0.9-1.8 0.8-2.5 1.3-2.3 1.7-1.5 1.6-1.1 1.7-0.4 1.4 0.2 1.1 0.7 0.9 1.4 0.7 2.2 0.4z"/><path fill="#ff6000" d="M98.7 1.9l1.9 1.3 3.5 0.1 0.6 0 1.9-1.2-0.8-1.3-2.5-0.5-2.8 0.2-0.9 0.3zM88.7-35.7l2.2-0.2 3.6-1 1.7-0.7 2.3-1.5 1.3-1.1 1.3-1.9 0.3-1.6-0.4-1.2-1-1-1.8-0.6-3.8 0.2-4.4 1.7-3.1 2-2.1 2.5-0.5 1.4 0.1 1.2 0.7 0.9 1.3 0.6z"/><path fill="#ff3900" d="M91.8-37l3.2-1.1 2.4-1.4 1.4-1.4 0.6-1.1 0.3-0.9-0.4-1.3-1.1-0.9-1.3-0.3-0.9-0.1-2.1 0.3-3.5 1.3-3 2.2-0.6 0.6-0.9 1.7 0 1.2 0.8 0.9 1.6 0.5 1.2 0.1z"/><path fill="#ff1300" d="M91.2-38l2.5-0.7 2.5-1.4 1.3-1.9-0.3-1.2-1.3-0.8-2.4 0.1-1.8 0.6-2.4 1.5-1.2 1.4-0.2 1.3 0.9 0.9z"/></g></g></g>
<g transform="translate(10.45 228.3) scale(0.99 1)"><g clip-path="url(#cl)"><g filter="url(#bl)"><rect x="40" y="-100" width="100" height="110" fill="#ff00ac"/><path fill="#ff00d2" d="M63.5 2l30.5 1 0.6-2.3 0.3-0.5 1-0.6 0.9 0.7 0.8 2.8 29.6 0.9 0.1-7.5-0.4-6.1-0.7-7.4-0.7-4.5-2.6-11.8-1.7-5.8-3.1-8.5-3-6.9-2-4-2.9-5.3-4.8-7.7-3.5-4.9-4.7-5.9-4-4.5-3.2-3.2-45.1 45.1 2.6 2.7 2.9 3.5 3.4 4.9 3.3 6 2.1 4.8 1.5 4.2 1.8 7.3 0.8 6z"/><path fill="#ff00f9" d="M63.5 2l27.7 0.9 0.7-4.4 0.9-2.2 1.1-1.6 1.8-0.9 0.9 0.2 1 0.6 1.7 2.6 0.9 3.6 0.1 2.4 26.9 0.8 0.1-7.5-0.4-6.1-0.7-7.4-0.7-4.5-2.6-11.8-1.7-5.8-3.1-8.5-3-6.9-2-4-2.9-5.3-4.8-7.7-3.5-4.9-4.7-5.9-4-4.5-3.2-3.2-45.1 45.1 2.6 2.7 2.9 3.5 3.4 4.9 3.3 6 2.1 4.8 1.5 4.2 1.8 7.3 0.8 6z"/><path fill="#df00ff" d="M63.5 2l26.1 0.8 0.7-5.3 0.6-2.2 1-2.2 1.7-2.1 0.9-0.5 1.8-0.2 2 1.1 1 1.2 1.2 2.2 1.1 3.6 0.4 4.8 25.2 0.8 0.1-7.5-0.4-6.1-0.7-7.4-0.7-4.5-2.6-11.8-1.7-5.8-3.1-8.5-3-6.9-2-4-2.9-5.3-4.8-7.7-3.5-4.9-4.7-5.9-4-4.5-3.2-3.2-45.1 45.1 2.6 2.7 2.9 3.5 3.4 4.9 3.3 6 2.1 4.8 1.5 4.2 1.8 7.3 0.8 6z"/><path fill="#b900ff" d="M63.5 2l24.7 0.8 0.6-5.3 1.2-4.5 0.9-2 1.5-2.1 0.9-0.7 0.8-0.5 1.9-0.2 1.5 0.5 1.5 1.1 2.2 3.3 1.3 3.5 0.5 2.5 0.3 2.3 0 2.5 23.9 0.8 0.1-7.5-0.4-6.1-0.7-7.4-0.7-4.5-2.6-11.8-1.7-5.8-3.1-8.5-3-6.9-2-4-2.9-5.3-4.8-7.7-3.5-4.9-4.7-5.9-4-4.5-3.2-3.2-45.1 45.1 2.6 2.7 2.9 3.5 3.4 4.9 3.3 6 2.1 4.8 1.5 4.2 1.8 7.3 0.8 6z"/><path fill="#9300ff" d="M63.5 2l23.6 0.7 0.2-3.1 0.9-5.2 1.5-4.6 1.6-2.6 1.6-1.5 1.8-0.7 0.9 0 2 0.6 1.4 1 1.8 2.1 1.1 1.9 1.2 2.9 0.9 3.6 0.5 6.2 22.7 0.7 0.1-7.5-0.4-6.1-0.7-7.4-0.7-4.5-2.6-11.8-1.7-5.8-3.1-8.5-3-6.9-2-4-2.9-5.3-4.8-7.7-3.5-4.9-4.7-5.9-4-4.5-3.2-3.2-45.1 45.1 2.6 2.7 2.9 3.5 3.4 4.9 3.3 6 2.1 4.8 1.5 4.2 1.8 7.3 0.8 6z"/><path fill="#6c00ff" d="M63.5 2l22.6 0.7 0.4-5.1 0.5-3.1 0.8-3.2 1.6-4.1 1-1.6 1.3-1.5 1.7-1 1.8-0.3 2 0.4 2.1 1.4 1.6 1.8 1.4 2.2 1.6 3.6 0.7 2.4 0.7 3.7 0.2 5 21.7 0.7 0.1-7.5-0.4-6.1-0.7-7.4-0.7-4.5-2.6-11.8-1.7-5.8-3.1-8.5-3-6.9-2-4-2.9-5.3-4.8-7.7-3.5-4.9-4.7-5.9-4-4.5-3.2-3.2-45.1 45.1 2.6 2.7 2.9 3.5 3.4 4.9 3.3 6 2.1 4.8 1.5 4.2 1.8 7.3 0.8 6z"/><path fill="#4600ff" d="M63.5 2l21.6 0.7 0.5-6.1 0.7-3.8 0.9-3.5 1.1-2.9 1.5-2.6 1.6-1.7 1.6-1 1.8-0.4 1.9 0.3 2.2 1.2 2.3 2.3 1.8 2.8 1.6 3.6 1.3 4.9 0.5 3.8 0.1 3.7 20.7 0.7 0.1-7.5-0.4-6.1-0.7-7.4-0.7-4.5-2.6-11.8-1.7-5.8-3.1-8.5-3-6.9-2-4-2.9-5.3-4.8-7.7-3.5-4.9-4.7-5.9-4-4.5-3.2-3.2-45.1 45.1 2.6 2.7 2.9 3.5 3.4 4.9 3.3 6 2.1 4.8 1.5 4.2 1.8 7.3 0.8 6z"/><path fill="#2000ff" d="M63.5 2l20.7 0.6 0.6-7 1-5.1 1.3-4.4 1.6-3.2 2.3-2.7 1.6-1 1.8-0.4 1.2 0.1 2.1 0.7 1.9 1.3 2.3 2.5 2.5 4.3 1.6 4.3 0.6 2.5 0.7 5.1 0.1 3.8 19.8 0.6 0.1-7.5-0.4-6.1-0.7-7.4-0.7-4.5-2.6-11.8-1.7-5.8-3.1-8.5-3-6.9-2-4-2.9-5.3-4.8-7.7-3.5-4.9-4.7-5.9-4-4.5-3.2-3.2-45.1 45.1 2.6 2.7 2.9 3.5 3.4 4.9 3.3 6 2.1 4.8 1.5 4.2 1.8 7.3 0.8 6z"/><path fill="#0006ff" d="M63.5 2l19.9 0.6 0.1-2.9 0.9-7.2 0.6-3 1.9-5.9 1.8-3.2 1.9-2 1.6-1 2.8-0.4 1.8 0.4 1.3 0.6 1.6 1.2 2.1 2.1 2.2 3.2 1.3 2.7 1.3 3.6 0.9 3.7 0.7 6.3 0 2.6 19 0.6 0.1-7.5-0.4-6.1-0.7-7.4-0.7-4.5-2.6-11.8-1.7-5.8-3.1-8.5-3-6.9-2-4-2.9-5.3-4.8-7.7-3.5-4.9-4.7-5.9-4-4.5-3.2-3.2-45.1 45.1 2.6 2.7 2.9 3.5 3.4 4.9 3.3 6 2.1 4.8 1.5 4.2 1.8 7.3 0.8 6z"/><path fill="#002dff" d="M63.5 2l19 0.6 0.8-8.9 0.8-4.3 1-4 1.4-3.7 1.4-2.5 2.3-2.5 2.5-1.2 1.8-0.2 1 0.1 2.1 0.7 2.3 1.5 2.4 2.5 2.8 4.4 2 4.9 1 3.8 0.7 4.4 0.2 5.8 18.2 0.6 0.1-7.5-0.4-6.1-0.7-7.4-0.7-4.5-2.6-11.8-1.7-5.8-3.1-8.5-3-6.9-2-4-2.9-5.3-4.8-7.7-3.5-4.9-4.7-5.9-4-4.5-3.2-3.2-45.1 45.1 2.6 2.7 2.9 3.5 3.4 4.9 3.3 6 2.1 4.8 1.5 4.2 1.8 7.3 0.8 6z"/><path fill="#0053ff" d="M63.5 2l18.3 0.6 0.4-5.9 0.9-6.9 1.2-5.1 1.2-3.4 1.3-2.7 2.1-2.8 2.4-1.7 2.8-0.5 2.1 0.3 1.8 0.8 2.6 1.9 2.8 3.1 2.1 3.5 1.6 3.5 1.8 6.4 0.8 6.2 0.1 4.2 17.4 0.5 0.1-7.5-0.4-6.1-0.7-7.4-0.7-4.5-2.6-11.8-1.7-5.8-3.1-8.5-3-6.9-2-4-2.9-5.3-4.8-7.7-3.5-4.9-4.7-5.9-4-4.5-3.2-3.2-45.1 45.1 2.6 2.7 2.9 3.5 3.4 4.9 3.3 6 2.1 4.8 1.5 4.2 1.8 7.3 0.8 6z"/><path fill="#0079ff" d="M63.5 2l17.5 0.5 0.7-9 0.9-5.7 1.3-5.1 1.4-3.7 1.7-3.1 2.4-2.4 2.4-1.2 2.8-0.3 3.2 1 3 2.2 2.9 3.2 2.7 4.6 1.6 3.7 1.7 6.3 0.6 3.9 0.3 6.6 16.6 0.5 0.1-7.5-0.4-6.1-0.7-7.4-0.7-4.5-2.6-11.8-1.7-5.8-3.1-8.5-3-6.9-2-4-2.9-5.3-4.8-7.7-3.5-4.9-4.7-5.9-4-4.5-3.2-3.2-45.1 45.1 2.6 2.7 2.9 3.5 3.4 4.9 3.3 6 2.1 4.8 1.5 4.2 1.8 7.3 0.8 6z"/><path fill="#009fff" d="M63.5 2l16.7 0.5 0.8-9.6 0.9-6 1-4.2 1.6-4.5 1.4-2.8 2.1-2.7 1.6-1.2 1.7-0.8 2.8-0.3 3 0.8 3.7 2.4 2.6 2.8 2.7 4.1 1.8 3.6 1.1 3 1.5 5.9 0.8 6.5 0 4 15.9 0.5 0.1-7.5-0.4-6.1-0.7-7.4-0.7-4.5-2.6-11.8-1.7-5.8-3.1-8.5-3-6.9-2-4-2.9-5.3-4.8-7.7-3.5-4.9-4.7-5.9-4-4.5-3.2-3.2-45.1 45.1 2.6 2.7 2.9 3.5 3.4 4.9 3.3 6 2.1 4.8 1.5 4.2 1.8 7.3 0.8 6z"/><path fill="#00c6ff" d="M63.5 2l16 0.5 0.4-6.6 1.1-8.5 0.9-4.5 1.7-5.4 1.2-2.6 1.3-2 1.5-1.7 1.5-1.2 1.7-0.8 2.8-0.3 2.1 0.3 2.2 0.9 2.4 1.6 3 2.9 2.3 3.2 1.4 2.5 2.2 4.9 1.8 6.4 0.7 4 0.4 7.9 15.1 0.5 0.1-7.5-0.4-6.1-0.7-7.4-0.7-4.5-2.6-11.8-1.7-5.8-3.1-8.5-3-6.9-2-4-2.9-5.3-4.8-7.7-3.5-4.9-4.7-5.9-4-4.5-3.2-3.2-45.1 45.1 2.6 2.7 2.9 3.5 3.4 4.9 3.3 6 2.1 4.8 1.5 4.2 1.8 7.3 0.8 6z"/><path fill="#00ecff" d="M63.5 2l15.3 0.5 0.3-5.9 1-8.8 1.4-6.8 1.1-3.7 2.2-4.6 1-1.5 2-2.1 1.6-1 1.8-0.6 1.9-0.2 3.1 0.6 3.5 1.9 2.8 2.4 4 5.3 2.5 5.1 2.2 6.4 1.2 6.5 0.4 8 14.4 0.5 0.1-7.5-0.4-6.1-0.7-7.4-0.7-4.5-2.6-11.8-1.7-5.8-3.1-8.5-3-6.9-2-4-2.9-5.3-4.8-7.7-3.5-4.9-4.7-5.9-4-4.5-3.2-3.2-45.1 45.1 2.6 2.7 2.9 3.5 3.4 4.9 3.3 6 2.1 4.8 1.5 4.2 1.8 7.3 0.8 6z"/><path fill="#00ffec" d="M63.5 2l14.6 0.5 0.4-7.5 1.2-9.6 1.4-6.5 1.6-4.6 1.8-3.4 2.8-3.2 2.5-1.4 2.7-0.5 2.1 0.2 2.2 0.7 3.6 2.2 3.2 3 3.8 5.4 2.5 5.2 2.1 6.7 1.3 7.7 0.2 6.7 13.7 0.4 0.1-7.5-0.4-6.1-0.7-7.4-0.7-4.5-2.6-11.8-1.7-5.8-3.1-8.5-3-6.9-2-4-2.9-5.3-4.8-7.7-3.5-4.9-4.7-5.9-4-4.5-3.2-3.2-45.1 45.1 2.6 2.7 2.9 3.5 3.4 4.9 3.3 6 2.1 4.8 1.5 4.2 1.8 7.3 0.8 6z"/><path fill="#00ffc6" d="M63.5 2l13.9 0.4 0.3-6.4 1.2-10.5 1.2-6.2 1.6-5.2 2.2-4.5 2.1-2.6 3.2-2.1 2.8-0.6 3.1 0.4 1.2 0.4 3 1.6 1.2 0.9 3.4 3.2 2.4 3.1 2 3.3 2.4 5.2 2 6.4 1.3 8 0.2 6.8 13 0.4 0.1-7.5-0.4-6.1-0.7-7.4-0.7-4.5-2.6-11.8-1.7-5.8-3.1-8.5-3-6.9-2-4-2.9-5.3-4.8-7.7-3.5-4.9-4.7-5.9-4-4.5-3.2-3.2-45.1 45.1 2.6 2.7 2.9 3.5 3.4 4.9 3.3 6 2.1 4.8 1.5 4.2 1.8 7.3 0.8 6z"/><path fill="#00ff9f" d="M63.5 2l13.2 0.4 0.5-9.1 1-8.6 1.5-7.5 1.9-5.7 2.5-4.4 2.1-2.2 1.6-1 1.7-0.7 1.9-0.3 2 0 3.4 1 1.2 0.6 3.7 2.7 2.1 2 1.8 2.2 3 4.6 2.8 6.2 1.7 5.2 0.9 4 0.6 4.1 0.3 4 0 4.1 12.3 0.4 0.1-7.5-0.4-6.1-0.7-7.4-0.7-4.5-2.6-11.8-1.7-5.8-3.1-8.5-3-6.9-2-4-2.9-5.3-4.8-7.7-3.5-4.9-4.7-5.9-4-4.5-3.2-3.2-45.1 45.1 2.6 2.7 2.9 3.5 3.4 4.9 3.3 6 2.1 4.8 1.5 4.2 1.8 7.3 0.8 6z"/><path fill="#00ff79" d="M63.5 2l12.5 0.4 0.4-8.2 1.3-11.4 1.5-7.2 1.6-4.9 2.1-4 2-2.5 1.5-1.2 2.5-1.2 1.9-0.4 2 0 3.7 1 3.4 1.9 2.7 2.3 2.2 2.3 4 5.7 3.1 6.5 1.6 4.9 1.2 5.4 0.6 4 0.3 8.2 11.6 0.4 0.1-7.5-0.4-6.1-0.7-7.4-0.7-4.5-2.6-11.8-1.7-5.8-3.1-8.5-3-6.9-2-4-2.9-5.3-4.8-7.7-3.5-4.9-4.7-5.9-4-4.5-3.2-3.2-45.1 45.1 2.6 2.7 2.9 3.5 3.4 4.9 3.3 6 2.1 4.8 1.5 4.2 1.8 7.3 0.8 6z"/><path fill="#00ff53" d="M63.5 2l11.8 0.4 0.5-9.9 0.9-8.5 1.5-8.2 1.9-6.2 1.9-3.8 2.3-2.9 1.5-1.3 1.6-0.9 1.8-0.6 2.9-0.2 3.4 0.7 1.2 0.5 3.8 2.3 2.4 2.1 2.9 3.1 3.8 5.8 1.6 3.1 1.7 4.2 2 6.9 1.1 6.8 0.3 4.1 0 4.2 10.9 0.3 0.1-7.5-0.4-6.1-0.7-7.4-0.7-4.5-2.6-11.8-1.7-5.8-3.1-8.5-3-6.9-2-4-2.9-5.3-4.8-7.7-3.5-4.9-4.7-5.9-4-4.5-3.2-3.2-45.1 45.1 2.6 2.7 2.9 3.5 3.4 4.9 3.3 6 2.1 4.8 1.5 4.2 1.8 7.3 0.8 6z"/><path fill="#00ff2d" d="M63.5 2l11.1 0.3 0.4-8.8 1.3-12.2 1.4-7.4 2-6 1.3-2.8 1.4-2.1 2.1-2.2 2.3-1.5 2.7-0.8 2-0.1 2.1 0.3 2.4 0.7 2.5 1.3 2.7 1.9 2.8 2.5 1.6 1.9 2 2.5 2.9 4.7 1.8 3.8 1.5 3.9 1.9 6.9 1 6.6 0.3 4.1 0 4.2 10.2 0.3 0.1-7.5-0.4-6.1-0.7-7.4-0.7-4.5-2.6-11.8-1.7-5.8-3.1-8.5-3-6.9-2-4-2.9-5.3-4.8-7.7-3.5-4.9-4.7-5.9-4-4.5-3.2-3.2-45.1 45.1 2.6 2.7 2.9 3.5 3.4 4.9 3.3 6 2.1 4.8 1.5 4.2 1.8 7.3 0.8 6z"/><path fill="#00ff06" d="M63.5 2l10.4 0.3 0.5-10.6 0.8-8.3 1.5-9.1 1.6-5.9 1.7-3.9 1.2-2 1.9-2.4 3-2.2 2.7-0.8 2.2-0.2 3.1 0.5 2.4 0.9 3 1.6 2.4 1.8 3 2.9 2.8 3.5 2.3 3.5 3.1 6.2 1.9 5.3 0.7 2.7 1.1 5.1 0.6 4.4 0.3 5.6-0.1 2.8 9.6 0.3 0.1-7.5-0.4-6.1-0.7-7.4-0.7-4.5-2.6-11.8-1.7-5.8-3.1-8.5-3-6.9-2-4-2.9-5.3-4.8-7.7-3.5-4.9-4.7-5.9-4-4.5-3.2-3.2-45.1 45.1 2.6 2.7 2.9 3.5 3.4 4.9 3.3 6 2.1 4.8 1.5 4.2 1.8 7.3 0.8 6z"/><path fill="#20ff00" d="M63.5 2l9.7 0.3 0.8-15 1-8.6 1.7-8.6 1.7-5 1.5-3 1.2-1.8 2-2.2 2.3-1.6 2.7-0.9 3-0.2 3.4 0.7 2.5 1 3.7 2.3 2.3 1.9 3.9 4.2 2.5 3.5 2.1 3.6 2.9 6.4 1.7 5.3 0.6 2.7 1.2 6.9 0.4 5.6 0 4.2 8.9 0.3 0.1-7.5-0.4-6.1-0.7-7.4-0.7-4.5-2.6-11.8-1.7-5.8-3.1-8.5-3-6.9-2-4-2.9-5.3-4.8-7.7-3.5-4.9-4.7-5.9-4-4.5-3.2-3.2-45.1 45.1 2.6 2.7 2.9 3.5 3.4 4.9 3.3 6 2.1 4.8 1.5 4.2 1.8 7.3 0.8 6z"/><path fill="#46ff00" d="M63.5 2l9 0.3 0.6-13.1 1.1-11 1.4-7.6 1.6-5.5 2.5-5.2 2-2.5 1.4-1.3 1.6-1 1.7-0.7 2.6-0.5 1.3 0 3.4 0.5 1.5 0.5 4.3 2.3 4.6 3.7 4 4.6 3.5 5.4 2 4 1.7 4.3 1.5 5 0.7 2.8 0.9 5.5 0.5 5.6 0 5.6 8.3 0.3 0.1-7.5-0.4-6.1-0.7-7.4-0.7-4.5-2.6-11.8-1.7-5.8-3.1-8.5-3-6.9-2-4-2.9-5.3-4.8-7.7-3.5-4.9-4.7-5.9-4-4.5-3.2-3.2-45.1 45.1 2.6 2.7 2.9 3.5 3.4 4.9 3.3 6 2.1 4.8 1.5 4.2 1.8 7.3 0.8 6z"/><path fill="#6cff00" d="M63.5 2l8.3 0.3 0.7-15.6 0.7-7.5 1-6.8 1.4-6 0.9-2.8 2-4.3 1.8-2.6 1.4-1.4 2.2-1.6 2.2-0.9 3.4-0.5 2.2 0.2 2.4 0.6 4.1 1.8 3.7 2.6 2 1.8 3.3 3.5 1.7 2.2 2.3 3.5 2 3.7 3.2 7.8 0.8 2.8 1.2 5.4 0.8 5.7 0.4 7-0.1 2.9 7.7 0.2 0.1-7.5-0.4-6.1-0.7-7.4-0.7-4.5-2.6-11.8-1.7-5.8-3.1-8.5-3-6.9-2-4-2.9-5.3-4.8-7.7-3.5-4.9-4.7-5.9-4-4.5-3.2-3.2-45.1 45.1 2.6 2.7 2.9 3.5 3.4 4.9 3.3 6 2.1 4.8 1.5 4.2 1.8 7.3 0.8 6z"/><path fill="#93ff00" d="M63.5 2l7.7 0.2 0.7-18.1 1-9.5 1.3-7.2 1.2-4.2 1.8-4.3 2.3-3.6 2.8-2.6 1.6-0.9 1.8-0.6 1.9-0.4 2.1-0.1 2.3 0.3 2.4 0.7 5.1 2.6 4.7 3.7 2 2.1 3.6 4.5 3.6 6.1 1.8 3.9 1.5 4 1.2 4.1 1.4 6.9 0.5 4.2 0.3 4.3 0 5.7 7.1 0.2 0.1-7.5-0.4-6.1-0.7-7.4-0.7-4.5-2.6-11.8-1.7-5.8-3.1-8.5-3-6.9-2-4-2.9-5.3-4.8-7.7-3.5-4.9-4.7-5.9-4-4.5-3.2-3.2-45.1 45.1 2.6 2.7 2.9 3.5 3.4 4.9 3.3 6 2.1 4.8 1.5 4.2 1.8 7.3 0.8 6z"/><path fill="#b9ff00" d="M63.5 2l7.1 0.2 0.4-16.1 0.9-11.2 1.2-7.4 1.1-4.4 0.8-2.5 1.8-3.9 2.6-3.6 1.3-1.3 2.4-1.5 1.7-0.7 1.9-0.4 3.2-0.1 2.3 0.4 2.5 0.8 2.2 1 3.5 2.1 4.9 4.2 2.9 3.2 1.7 2.3 2.5 3.9 2.5 4.8 1.6 3.9 1.7 5.5 1.9 9.8 0.5 5.7 0.1 7.1 6.5 0.2 0.1-7.5-0.4-6.1-0.7-7.4-0.7-4.5-2.6-11.8-1.7-5.8-3.1-8.5-3-6.9-2-4-2.9-5.3-4.8-7.7-3.5-4.9-4.7-5.9-4-4.5-3.2-3.2-45.1 45.1 2.6 2.7 2.9 3.5 3.4 4.9 3.3 6 2.1 4.8 1.5 4.2 1.8 7.3 0.8 6z"/><path fill="#dfff00" d="M63.5 2l6.5 0.2 0.4-21.3 0.7-7.6 0.6-4.2 1.2-5.8 0.9-3.1 1.3-3.3 1-2 1.7-2.5 2-2.1 1.5-1.1 2.5-1.2 2.9-0.6 2.2 0 3.5 0.6 3.1 1.1 1.5 0.7 3.8 2.4 5 4.3 2.5 2.8 2.6 3.5 2.9 4.9 1.6 3.2 3.1 8.8 1 4.2 1.3 8.4 0.4 5.8 0 5.7 6 0.2 0.1-7.5-0.4-6.1-0.7-7.4-0.7-4.5-2.6-11.8-1.7-5.8-3.1-8.5-3-6.9-2-4-2.9-5.3-4.8-7.7-3.5-4.9-4.7-5.9-4-4.5-3.2-3.2-45.1 45.1 2.6 2.7 2.9 3.5 3.4 4.9 3.3 6 2.1 4.8 1.5 4.2 1.8 7.3 0.8 6z"/><path fill="#fff900" d="M63.5 2l6 0.2 0-20.2 0.5-7.8 1.5-10.3 1-4.1 1.2-3.4 2.6-4.8 1.8-2.2 1.4-1.2 0.8-0.6 3.3-1.5 4.2-0.5 2.3 0.2 4.1 1.1 2.5 1.1 3 1.8 2.5 1.8 4.3 4 4.6 5.7 2.2 3.6 2.6 5.2 2 5.3 1.2 4 1 4.4 1.1 7.1 0.4 4.3 0.1 8.6 5.5 0.2 0.1-7.5-0.4-6.1-0.7-7.4-0.7-4.5-2.6-11.8-1.7-5.8-3.1-8.5-3-6.9-2-4-2.9-5.3-4.8-7.7-3.5-4.9-4.7-5.9-4-4.5-3.2-3.2-45.1 45.1 2.6 2.7 2.9 3.5 3.4 4.9 3.3 6 2.1 4.8 1.5 4.2 1.8 7.3 0.8 6z"/><path fill="#ffd200" d="M63.5 2l5.4 0.2 0.1-9-0.3-14.5 0.3-5.6 1.5-10.7 1.8-6.6 2.9-5.8 2.5-2.9 3.6-2.3 3.2-0.9 3.2-0.2 2.4 0.3 4.3 1.3 4 2 1.5 1 3.6 2.7 2.2 2 3 3.3 3.4 4.6 3 5.4 2.1 4.9 1.4 4.1 1.5 5.6 1.3 7.1 0.5 4.3 0.3 4.3 0 7.2 5 0.2 0.1-7.5-0.4-6.1-0.7-7.4-0.7-4.5-2.6-11.8-1.7-5.8-3.1-8.5-3-6.9-2-4-2.9-5.3-4.8-7.7-3.5-4.9-4.7-5.9-4-4.5-3.2-3.2-45.1 45.1 2.6 2.7 2.9 3.5 3.4 4.9 3.3 6 2.1 4.8 1.5 4.2 1.8 7.3 0.8 6z"/><path fill="#ffac00" d="M63.5 2l4.8 0.1 0.1-8.1-0.6-12.4 0.1-9 0.6-6 0.9-5.7 0.9-3.9 1.4-4 0.8-2 2.1-3.5 2.6-2.7 1.5-1.1 2.6-1.2 2.9-0.7 2.2-0.1 3.5 0.4 3.3 0.9 4.3 2 2.6 1.6 2.5 1.8 4.6 4.3 3.5 4.2 1.6 2.4 2.2 3.8 2.4 5.2 2.2 6.4 1.6 6.1 1.6 10 0.5 8.7-0.1 4.4 4.5 0.1 0.1-7.5-0.4-6.1-0.7-7.4-0.7-4.5-2.6-11.8-1.7-5.8-3.1-8.5-3-6.9-2-4-2.9-5.3-4.8-7.7-3.5-4.9-4.7-5.9-4-4.5-3.2-3.2-45.1 45.1 2.6 2.7 2.9 3.5 3.4 4.9 3.3 6 2.1 4.8 1.5 4.2 1.8 7.3 0.8 6z"/><path fill="#ff8600" d="M63.5 2l4.2 0.1 0.1-7.2-1-15.6-0.1-6.2 0.9-10.1 0.5-3.4 1.5-6.3 1.2-3.2 1.4-2.8 1.7-2.4 2-2 2.2-1.6 1.7-0.8 2.9-0.8 3.3-0.2 3.7 0.5 3.9 1.2 3.2 1.5 3.7 2.2 2.4 1.8 3.3 3 3 3.3 2.6 3.5 2.5 4.2 2.3 4.7 1.6 4.1 2.1 6.9 1.3 5.7 1.1 7.2 0.5 5.8 0.1 8.8 3.9 0.1 0.1-7.5-0.4-6.1-0.7-7.4-0.7-4.5-2.6-11.8-1.7-5.8-3.1-8.5-3-6.9-2-4-2.9-5.3-4.8-7.7-3.5-4.9-4.7-5.9-4-4.5-3.2-3.2-45.1 45.1 2.6 2.7 2.9 3.5 3.4 4.9 3.3 6 2.1 4.8 1.5 4.2 1.8 7.3 0.8 6z"/><path fill="#ff6000" d="M63.5 2l3.6 0.1 0.1-5.6-0.2-4.7-1.3-13.9-0.2-9.5 1.1-10.2 0.8-3.9 1.5-5.2 2.3-4.6 2.4-3 1.4-1.2 3.3-2 2.7-0.9 2.1-0.3 2.9 0 1.8 0.2 4.1 1 4.6 2 3.2 1.9 3.7 2.7 2.2 2 4 4.5 2.5 3.4 2.8 4.9 2.5 5.5 2 5.5 2.3 8.4 0.9 4.8 1 8.3 0.3 5.8 0 5.9 3.3 0.1 0.1-7.5-0.4-6.1-0.7-7.4-0.7-4.5-2.6-11.8-1.7-5.8-3.1-8.5-3-6.9-2-4-2.9-5.3-4.8-7.7-3.5-4.9-4.7-5.9-4-4.5-3.2-3.2-45.1 45.1 2.6 2.7 2.9 3.5 3.4 4.9 3.3 6 2.1 4.8 1.5 4.2 1.8 7.3 0.8 6z"/><path fill="#ff3900" d="M63.5 2l2.9 0.1 0-6.3-0.3-4.7-0.5-5.6-1.4-10.5-0.3-4.3 0-4.8 0.4-5.5 1-7 1.1-4.6 1.4-3.5 1.7-3 1.8-2.2 2.7-2.5 2.3-1.5 3.6-1.5 1.5-0.3 4.2-0.1 3.5 0.6 3.4 1.1 6.6 3.3 3.7 2.7 4.5 4.2 1.9 2.2 3.4 4.8 3.5 6.4 1.2 2.7 3 8.3 1.2 4.2 2.2 11.6 0.8 8.8 0.1 8.8 2.6 0.1 0.1-7.5-0.4-6.1-0.7-7.4-0.7-4.5-2.6-11.8-1.7-5.8-3.1-8.5-3-6.9-2-4-2.9-5.3-4.8-7.7-3.5-4.9-4.7-5.9-4-4.5-3.2-3.2-45.1 45.1 2.6 2.7 2.9 3.5 3.4 4.9 3.3 6 2.1 4.8 1.5 4.2 1.8 7.3 0.8 6z"/><path fill="#ff1300" d="M63.5 2l1.8 0.1 0.1-4.7-0.5-7-1.2-8.7-1.4-7.7-0.7-6.8 0-5.9 0.3-4.5 0.8-6.2 0.6-2.7 1.1-3 1.9-3.4 3-3.7 4.1-3.7 4.9-2.8 3-0.8 3-0.2 3.2 0.4 4.5 1.4 3.4 1.5 5.3 3.2 3.5 2.8 3.2 3.2 2.8 3.4 4 6.2 3.3 6.6 3.6 9.7 0.8 2.9 1.9 8.7 0.9 5.8 0.8 8.9 0 8.9 1.7 0.1 0.1-7.5-0.4-6.1-0.7-7.4-0.7-4.5-2.6-11.8-1.7-5.8-3.1-8.5-3-6.9-2-4-2.9-5.3-4.8-7.7-3.5-4.9-4.7-5.9-4-4.5-3.2-3.2-45.1 45.1 2.6 2.7 2.9 3.5 3.4 4.9 3.3 6 2.1 4.8 1.5 4.2 1.8 7.3 0.8 6z"/></g></g></g>
<g transform="translate(100.35 228.3) scale(0.99 1)"><g clip-path="url(#cl)"><g filter="url(#bl)"><rect x="40" y="-100" width="100" height="110" fill="#ff0013"/><path fill="#ff0039" d="M63.5 2l63.7 2 0.1-7.5-0.4-6.1-0.7-7.4-0.7-4.5-2.6-11.8-1.7-5.8-3.1-8.5-3-6.9-2-4-2.9-5.3-4.8-7.7-3.5-4.9-4.7-5.9-4-4.5-3.2-3.2-45.1 45.1 2.6 2.7 2.9 3.5 3.4 4.9 3.3 6 2.1 4.8 1.5 4.2 1.8 7.3 0.8 6zM89.4-37.2l-2.2-0.2-1.5-0.7-1.6-1.7-0.4-1-0.1-1.2 0.5-2 0.6-1 1.3-1.3 2.5-1.2 2-0.2 1.2 0.3 1.2 0.7 0.9 1 0.9 2.2 0 1.4-0.5 2-0.9 1.2-1.3 1z"/><path fill="#ff0060" d="M63.5 2l63.7 2 0.1-7.5-0.4-6.1-0.7-7.4-0.7-4.5-2.6-11.8-1.7-5.8-3.1-8.5-3-6.9-2-4-2.9-5.3-4.8-7.7-3.5-4.9-4.7-5.9-4-4.5-3.2-3.2-45.1 45.1 2.6 2.7 2.9 3.5 3.4 4.9 3.3 6 2.1 4.8 1.5 4.2 1.8 7.3 0.8 6zM88.5-34.3l-2.2-0.4-1.5-0.6-1.2-0.7-1.7-1.6-1-1.9-0.2-1 0.1-2.6 1.3-2.6 2-2.2 3.2-1.9 1.8-0.5 2.1 0 1.3 0.3 1.9 1.1 1.7 2 1 2.4 0.3 2.6-0.1 1.4-0.4 1.5-1 1.7-1.9 1.7-1.7 0.8-1.8 0.4z"/><path fill="#ff0086" d="M63.5 2l63.7 2 0.1-7.5-0.4-6.1-0.7-7.4-0.7-4.5-2.6-11.8-1.7-5.8-3.1-8.5-3-6.9-2-4-2.9-5.3-4.8-7.7-3.5-4.9-4.7-5.9-4-4.5-3.2-3.2-45.1 45.1 2.6 2.7 2.9 3.5 3.4 4.9 3.3 6 2.1 4.8 1.5 4.2 1.8 7.3 0.8 6zM89.4-32.1l-3-0.3-1.3-0.4-1.2-0.5-2.6-1.7-2-2.5-0.7-2-0.2-1.4 0.3-2.2 0.7-1.8 1.1-1.8 2-2.1 1.4-1.2 2.5-1.4 2.7-0.8 2.1-0.1 2.5 0.7 1.4 0.9 1 0.9 1.6 2.1 1 2.4 0.6 2.6 0 2.9-0.9 2.9-2 2.5-3.3 1.8-1.8 0.4z"/><path fill="#ff00ac" d="M63.5 2l63.7 2 0.1-7.5-0.4-6.1-0.7-7.4-0.7-4.5-2.6-11.8-1.7-5.8-3.1-8.5-3-6.9-2-4-2.9-5.3-4.8-7.7-3.5-4.9-4.7-5.9-4-4.5-3.2-3.2-45.1 45.1 2.6 2.7 2.9 3.5 3.4 4.9 3.3 6 2.1 4.8 1.5 4.2 1.8 7.3 0.8 6zM90-30.1l-2-0.1-2.8-0.6-2.9-1.2-1-0.7-1.8-1.5-1.9-2.5-0.7-1.9-0.3-2.2 0.4-2.7 0.6-1.4 1.1-2 2.5-2.8 4.4-3 2.6-1 3.1-0.3 2.5 0.6 1.7 1 1.1 0.9 1.7 2.1 1.2 2.3 0.9 2.5 0.6 4-0.6 3.7-0.5 1.3-1.3 1.9-2.3 1.9-1.7 0.8-2.7 0.7z"/><path fill="#ff00d2" d="M63.5 2l63.7 2 0.1-7.5-0.4-6.1-0.7-7.4-0.7-4.5-2.6-11.8-1.7-5.8-3.1-8.5-3-6.9-2-4-2.9-5.3-4.8-7.7-3.5-4.9-4.7-5.9-4-4.5-3.2-3.2-45.1 45.1 2.6 2.7 2.9 3.5 3.4 4.9 3.3 6 2.1 4.8 1.5 4.2 1.8 7.3 0.8 6zM92.5-28.5l-4.3 0.1-2.3-0.4-2.6-0.9-1.8-0.9-2-1.4-2.3-2.3-1.5-2.6-0.6-2-0.1-2.5 0.6-2.7 1.5-2.9 1.2-1.5 1.3-1.5 3.7-2.9 3.2-1.7 2.8-0.8 2.1-0.1 2.6 0.6 2.8 1.8 2.6 3.1 1.7 3.6 1.1 3.8 0.2 2.8-0.2 2.4-0.5 1.9-1.7 3-1.5 1.5-1.6 1-1.7 0.8z"/><path fill="#ff00f9" d="M63.5 2l63.7 2 0.1-7.5-0.4-6.1-0.7-7.4-0.7-4.5-2.6-11.8-1.7-5.8-3.1-8.5-3-6.9-2-4-2.9-5.3-4.8-7.7-3.5-4.9-4.7-5.9-4-4.5-3.2-3.2-45.1 45.1 2.6 2.7 2.9 3.5 3.4 4.9 3.3 6 2.1 4.8 1.5 4.2 1.8 7.3 0.8 6zM90.2-26.7l-3.1-0.2-3.1-0.8-3.2-1.5-2.9-2.2-2-2.3-1.5-2.6-0.8-2.9-0.1-2.2 0.6-2.7 0.8-1.7 1.2-2 2.5-2.9 3.2-2.7 4-2.3 1.8-0.7 1.9-0.4 2.2-0.1 2.7 0.7 2.5 1.6 1 0.9 2.5 3.3 2.2 4.8 0.9 3.8 0.2 3.1-0.2 2.2-0.9 3.1-1.3 2.1-1.8 1.8-2.9 1.7-1.8 0.6-2.7 0.5z"/><path fill="#df00ff" d="M63.5 2l63.7 2 0.1-7.5-0.4-6.1-0.7-7.4-0.7-4.5-2.6-11.8-1.7-5.8-3.1-8.5-3-6.9-2-4-2.9-5.3-4.8-7.7-3.5-4.9-4.7-5.9-4-4.5-3.2-3.2-45.1 45.1 2.6 2.7 2.9 3.5 3.4 4.9 3.3 6 2.1 4.8 1.5 4.2 1.8 7.3 0.8 6zM93.4-25.2l-2.8 0.2-4.4-0.5-3.5-1.1-2.6-1.3-2.8-2.2-1.9-2-2.2-3.6-0.9-2.8-0.2-2.4 0.5-2.8 1.1-2.6 2-2.9 2.6-2.8 4.4-3.4 4.2-2.1 2.9-0.7 2.2 0 2.2 0.6 2 1 2.7 2.4 2.4 3.3 1.2 2.4 1.4 3.8 0.8 4 0.2 2.7-0.3 2.9-0.8 2.6-1.2 2.3-1.3 1.5-3.3 2.2-1.8 0.7z"/><path fill="#b900ff" d="M63.5 2l63.7 2 0.1-7.5-0.4-6.1-0.7-7.4-0.7-4.5-2.6-11.8-1.7-5.8-3.1-8.5-3-6.9-2-4-2.9-5.3-4.8-7.7-3.5-4.9-4.7-5.9-4-4.5-3.2-3.2-45.1 45.1 2.6 2.7 2.9 3.5 3.4 4.9 3.3 6 2.1 4.8 1.5 4.2 1.8 7.3 0.8 6zM91-23.4l-2.9-0.2-4.1-1-2.2-0.8-3.6-2.2-3.6-3.5-2.1-3.2-1.1-2.7-0.5-2.9 0.1-2.3 0.8-2.9 2.1-3.6 1.8-2.2 3.4-3.2 4.6-3.2 2.5-1.2 3.7-1 2.4 0.1 2.7 0.8 1.7 1 3.1 2.9 1.6 2.2 2.5 4.8 0.9 2.6 0.9 3.9 0.3 2.8-0.4 5.2-1.1 2.9-1.7 2.5-2.8 2.2-2.5 1.1-3.6 0.9z"/><path fill="#9300ff" d="M63.5 2l63.7 2 0.1-7.5-0.4-6.1-0.7-7.4-0.7-4.5-2.6-11.8-1.7-5.8-3.1-8.5-3-6.9-2-4-2.9-5.3-4.8-7.7-3.5-4.9-4.7-5.9-4-4.5-3.2-3.2-45.1 45.1 2.6 2.7 2.9 3.5 3.4 4.9 3.3 6 2.1 4.8 1.5 4.2 1.8 7.3 0.8 6zM89.5-22l-4-0.6-3.1-1-2.3-1.1-3.9-2.9-2.7-3-1.6-2.4-1.2-2.5-1-3.8 0-2.2 0.4-2.5 1.4-3.2 2.3-3.2 3.3-3.4 3.6-2.9 4.8-2.8 3.9-1.2 2-0.1 2.3 0.4 1.7 0.7 1.7 1.1 2.3 2 2.8 3.7 2.5 4.9 1.3 3.8 0.7 3 0.4 5.3-0.4 3.4-1 3.1-0.4 0.9-1.6 2.2-1.4 1.2-2.7 1.5-1.8 0.6-2.7 0.6z"/><path fill="#6c00ff" d="M63.5 2l63.7 2 0.1-7.5-0.4-6.1-0.7-7.4-0.7-4.5-2.6-11.8-1.7-5.8-3.1-8.5-3-6.9-2-4-2.9-5.3-4.8-7.7-3.5-4.9-4.7-5.9-4-4.5-3.2-3.2-45.1 45.1 2.6 2.7 2.9 3.5 3.4 4.9 3.3 6 2.1 4.8 1.5 4.2 1.8 7.3 0.8 6zM89.8-20.8l-4.1-0.2-2.9-0.9-3.3-1.6-2.5-1.7-1.3-1.2-2.1-2.2-1.7-2.3-2.2-4.1-1.1-3.7-0.1-3.2 0.5-2.4 1.7-3.7 3.1-4 3.4-3.3 3.6-2.8 4-2.4 3.6-1.3 3.2-0.2 3.3 0.8 2.6 1.6 3.1 2.9 2.4 3.4 2.4 4.9 1.8 5.2 0.8 4.1 0.2 5-0.7 4.1-1 2.5-1.6 2.3-1.1 1-2.2 1.2-2.6 0.9-4.6 0.9z"/><path fill="#4600ff" d="M63.5 2l63.7 2 0.1-7.5-0.4-6.1-0.7-7.4-0.7-4.5-2.6-11.8-1.7-5.8-3.1-8.5-3-6.9-2-4-2.9-5.3-4.8-7.7-3.5-4.9-4.7-5.9-4-4.5-3.2-3.2-45.1 45.1 2.6 2.7 2.9 3.5 3.4 4.9 3.3 6 2.1 4.8 1.5 4.2 1.8 7.3 0.8 6zM90-19.8l-4.9 0-2.9-0.8-3.3-1.7-3.7-2.9-3.3-3.8-2.8-4.7-1.5-4.4-0.3-3.7 0.5-2.6 0.8-2.1 1.1-2 2.2-3 3.9-4 3.6-3 5.6-3.4 3.6-1.2 3.3-0.2 2.7 0.7 1.5 0.7 2.4 1.7 2 2 2.5 3.3 3.2 6.2 2.2 6.5 0.7 4.2 0.2 4.4-0.2 2.5-1 3.6-1.3 2.5-2 1.9-2.9 1.3-1.8 0.5-4.6 0.9z"/><path fill="#2000ff" d="M63.5 2l63.7 2 0.1-7.5-0.4-6.1-0.7-7.4-0.7-4.5-2.6-11.8-1.7-5.8-3.1-8.5-3-6.9-2-4-2.9-5.3-4.8-7.7-3.5-4.9-4.7-5.9-4-4.5-3.2-3.2-45.1 45.1 2.6 2.7 2.9 3.5 3.4 4.9 3.3 6 2.1 4.8 1.5 4.2 1.8 7.3 0.8 6zM92-19.1l-3.7 0.3-3.8 0-2.4-0.3-2.9-1.4-3.4-2.4-3.8-4.1-2.6-3.9-2-4-0.6-1.7-0.7-3.5 0.3-3.8 1.1-3.1 2-3.2 3.7-4.3 4.1-3.7 5.3-3.8 4.3-2 3.7-0.7 2.9 0.4 3.6 1.7 2.3 1.9 1.9 2 1.7 2.3 2.8 4.8 2.2 5.1 1.3 4.3 1.1 6.6-0.2 5.8-0.3 1.4-1 3-1.6 2.2-2.1 1.3-3.1 1.1-3.6 0.8z"/><path fill="#0006ff" d="M63.5 2l63.7 2 0.1-7.5-0.4-6.1-0.7-7.4-0.7-4.5-2.6-11.8-1.7-5.8-3.1-8.5-3-6.9-2-4-2.9-5.3-4.8-7.7-3.5-4.9-4.7-5.9-4-4.5-3.2-3.2-45.1 45.1 2.6 2.7 2.9 3.5 3.4 4.9 3.3 6 2.1 4.8 1.5 4.2 1.8 7.3 0.8 6zM96.8-19l-10.2 1.1-4.9-0.1-2.9-1-4.1-3.1-2.7-3-2.2-3-3-5.5-1-2.5-0.7-2.7-0.2-3.3 0.7-3.6 2-3.9 2-2.6 4.9-5.1 5.8-4.6 4.8-2.8 3.8-1.2 1.4-0.2 2.1 0.2 1.7 0.4 1.5 0.7 1.3 0.7 2.3 1.8 2.9 3.2 3.1 4.6 2.5 5.1 2.4 6.8 0.9 3.9 0.6 5.6-0.1 2.9-0.8 4.4-0.6 1.5-0.9 1.3-1.6 1.2-2.7 1.2-3.5 0.9z"/><path fill="#002dff" d="M63.5 2l63.7 2 0.1-7.5-0.4-6.1-0.7-7.4-0.7-4.5-2.6-11.8-1.7-5.8-3.1-8.5-3-6.9-2-4-2.9-5.3-4.8-7.7-3.5-4.9-4.7-5.9-4-4.5-3.2-3.2-45.1 45.1 2.6 2.7 2.9 3.5 3.4 4.9 3.3 6 2.1 4.8 1.5 4.2 1.8 7.3 0.8 6zM88.6-17.3l-3.7 0.3-3.2 0-2.5-0.3-2.1-1-1.6-1.2-3-2.9-3.3-4.5-3.5-6.3-1.7-4.9-0.4-2.6 0-1.7 0.7-3.5 1.8-3.7 3.7-4.7 4.7-4.6 5.8-4.6 4-2.4 3.6-1.4 3.2-0.3 2.7 0.5 1.6 0.7 2.6 1.6 2.1 1.9 2.8 3.3 3.1 4.7 2.5 5.1 2.8 8 1.2 5.9 0.3 3.9-0.1 3.6-0.7 3.7-0.6 1.5-1.1 1.2-1.6 1.1-2.7 1-4.5 1z"/><path fill="#0053ff" d="M63.5 2l63.7 2 0.1-7.5-0.4-6.1-0.7-7.4-0.7-4.5-2.6-11.8-1.7-5.8-3.1-8.5-3-6.9-2-4-2.9-5.3-4.8-7.7-3.5-4.9-4.7-5.9-4-4.5-3.2-3.2-45.1 45.1 2.6 2.7 2.9 3.5 3.4 4.9 3.3 6 2.1 4.8 1.5 4.2 1.8 7.3 0.8 6zM93.4-17.1l-6.5 0.7-6.5 0.3-2.9-0.4-1-0.3-1.2-0.8-1.6-1.4-3.2-3.7-3.3-5.1-3.2-6.3-1.4-4.2-0.4-2.8 0.2-3.4 1.4-4 2.6-3.8 3.9-4.4 6.9-6.2 3.7-2.7 4.1-2.4 2.7-1 2.1-0.3 1.2 0 2.7 0.5 1.7 0.7 1.8 1.1 1.9 1.5 2 2 2.7 3.4 3 4.8 3.1 6.4 1.5 4 1.2 4.1 1.3 7 0.2 2.9-0.1 4.3-0.6 3-1.1 1.9-2.2 1.5-2.1 0.8-4.5 1z"/><path fill="#0079ff" d="M63.5 2l63.7 2 0.1-7.5-0.4-6.1-0.7-7.4-0.7-4.5-2.6-11.8-1.7-5.8-3.1-8.5-3-6.9-2-4-2.9-5.3-4.8-7.7-3.5-4.9-4.7-5.9-4-4.5-3.2-3.2-45.1 45.1 2.6 2.7 2.9 3.5 3.4 4.9 3.3 6 2.1 4.8 1.5 4.2 1.8 7.3 0.8 6zM101.8-17.4l-18.4 2-3.8 0.2-3.8-0.3-1.8-0.8-3.4-3.7-3.5-5.2-3.9-7.5-1.6-3.9-0.8-2.6-0.3-1.9 0-2.5 0.5-2.5 1.7-3.8 2.3-3.1 5.7-6.1 7-6.1 2.2-1.7 3.9-2.5 2.6-1.2 1.7-0.5 2.5-0.2 1.9 0.2 1.7 0.5 3.9 2.4 3.1 3 2.7 3.4 2.4 3.6 2.1 3.7 2.4 5.2 2 5.4 1.2 4.1 1.2 5.7 0.5 5.7-0.2 3.9-0.5 2.2-1.6 1.8-2.5 1.3-3.6 1z"/><path fill="#009fff" d="M63.5 2l63.7 2 0.1-7.5-0.4-6.1-0.7-7.4-0.7-4.5-2.6-11.8-1.7-5.8-3.1-8.5-3-6.9-2-4-2.9-5.3-4.8-7.7-3.5-4.9-4.7-5.9-4-4.5-3.2-3.2-45.1 45.1 2.6 2.7 2.9 3.5 3.4 4.9 3.3 6 2.1 4.8 1.5 4.2 1.8 7.3 0.8 6zM90.8-15.6l-11.9 1.3-5.3-0.1-1.5-0.5-1.2-1.2-2.5-3.3-4.5-8.1-3.9-8.2-0.9-2.4-0.9-4.5 0.4-3.6 1.2-2.9 2.1-3.2 3.7-4.2 4.6-4.6 8.4-7.3 6.2-4.2 2.7-1.1 2-0.4 2.5 0.1 1.4 0.4 2.8 1.5 2.3 1.8 4.9 5.4 4 6.1 2.1 3.8 2.4 5.2 2.6 6.8 2.2 8.4 0.7 4.3 0.3 4.3-0.1 3-0.3 1.5-1.6 1.7-2 1-1.7 0.6-4.6 0.9z"/><path fill="#00c6ff" d="M63.5 2l63.7 2 0.1-7.5-0.6-9.1-0.8-5.9-1.9-0.5-3.7 0.3-8.2 1.7-16.6 1.5-12.8 1.6-11.1 1.1-6.3 1.2-0.9 0.6-0.9 0.1-0.8 0.9 0.8 7.5z"/><path fill="#00ecff" d="M65.8 2.1l58.8 1.8 0-5.9-0.5-4.4-1.1-4.3-1.5-2.8-1.6-1.5-2-0.8-1.9-0.2-13.9 0.6-11.1 1-9.1 1.2-9.1 1.7-2.7 1-1.6 1.2-0.9 1.1-1.1 2.4-0.6 3.2z"/><path fill="#00ffec" d="M66.7 2.1l56.8 1.8 0-5.9-0.4-2.9-1.1-4.3-1.8-3-2-1.5-2-0.7-3.7-0.4-8.4 0-7.5 0.4-9.2 1-6.3 1-6.4 1.4-2.6 1-1.8 1-2 2.2-1.2 3.3z"/><path fill="#00ffc6" d="M67.5 2.1l55.1 1.8 0.1-3.2-0.3-4.1-1.1-4.3-0.8-1.7-2.1-2.3-2-1.1-3.8-0.9-8.6-0.4-7.3 0.3-6.4 0.6-8.2 1.3-7.3 1.8-2.6 1.2-1.5 1-1.1 1.1-0.8 1.3-0.8 2.1-0.3 1.5z"/><path fill="#00ff9f" d="M68.3 2.1l53.4 1.7 0.1-4.3-0.4-2.9-0.7-2.8-1.5-2.8-1.2-1.3-1.4-0.9-3.9-1.4-2.8-0.4-5.6-0.4-6.6 0.1-9.2 0.9-6.4 1.1-5.4 1.4-3.5 1.5-1.9 1.3-2 2.7-0.8 2.5-0.3 2.4z"/><path fill="#00ff79" d="M69 2.2l51.8 1.6 0.1-4.3-0.5-2.8-0.9-2.9-1.9-2.7-1.6-1.2-4.1-1.6-3.8-0.7-3.8-0.3-6.5 0-7.4 0.6-4.5 0.7-6.4 1.4-2.7 0.9-2.6 1.2-2.6 1.9-0.9 1-0.8 1.4-0.8 2.5z"/><path fill="#00ff53" d="M69.8 2.2l50.1 1.6 0.1-2.9-0.6-4.2-1.2-2.8-1.3-1.7-1-0.9-2-1.2-3-1.1-3.7-0.7-4.7-0.4-5.5 0-8.3 0.8-5.4 1-5.5 1.6-2.6 1.2-2.7 1.9-1.6 1.9-1 2.6-0.2 1.6z"/><path fill="#00ff2d" d="M70.6 2.2l48.2 1.5 0.2-2.8-0.4-2.8-1-2.8-1.6-2.3-2-1.6-2.3-1.1-4.4-1.2-3.7-0.5-6.6-0.1-3.7 0.2-5.5 0.7-6.3 1.4-5.4 2.1-2.3 1.5-2.1 2.4-0.9 2.1z"/><path fill="#00ff06" d="M71.6 2.2l46 1.5 0.2-2.8-0.4-2.8-1.1-2.7-1.2-1.6-2.9-2.2-2.9-1.2-4.7-1-3.8-0.3-4.6 0-6.5 0.6-3.6 0.6-5.5 1.5-3.5 1.5-2.7 1.8-1.7 2-0.9 1.7-0.2 0.9z"/><path fill="#20ff00" d="M72.6 2.3l43.8 1.4 0.2-2.8-0.4-2.8-1.3-2.7-1.7-1.8-2.8-1.8-3.9-1.3-2.8-0.5-3.7-0.3-4.7 0-8.3 1-5.4 1.4-2.7 1.1-3.2 2-2.1 2.3-1 2.2z"/><path fill="#46ff00" d="M73.6 1.4l0.2 0.9 1.7 0.1 37.9 1.2 1.8 0 0.2-1.3-0.1-2.8-0.9-2.7-0.9-1.3-2.1-2-1.9-1.1-3.8-1.3-6.6-0.8-3.7 0-4.6 0.4-5.5 1-3.6 1.1-3.6 1.7-2.9 2.5-1.1 1.8-0.5 1.8z"/><path fill="#6cff00" d="M75 2.4l38.9 1.2 0.3-2.7-0.6-2.7-1.2-2.2-1.7-1.7-1.9-1.2-2.9-1.1-3-0.7-2.8-0.3-4.7-0.1-5.5 0.5-3.6 0.7-3.7 1.1-2.7 1.2-2.3 1.6-2.1 2.5-0.7 2.1z"/><path fill="#93ff00" d="M76.2 2.4l36.5 1.1 0.2-2.6-0.4-2.1-0.9-1.9-1-1.3-2.9-2-3.8-1.3-1.9-0.4-6.5-0.4-5.5 0.5-4.6 1-2.7 0.9-2 1-2.5 1.8-1.6 2.1-0.5 1.8z"/><path fill="#b9ff00" d="M77.3 1.5l0.2 0.9 0.8 0.1 28.6 0.9 4.5 0.1 0.2-1 0-2-0.6-2.3-0.8-1.3-1.5-1.5-1.9-1.2-2.8-1.1-5.7-0.9-7.4 0.3-4.5 0.9-2.8 0.9-2.9 1.5-2.1 2-1 1.9z"/><path fill="#dfff00" d="M78.9 2.5l31.1 1 0.3-2.6-0.2-1.4-0.5-1.2-0.8-1.2-1.9-1.7-1.9-1-2.8-0.9-3.8-0.6-3.3-0.1-3.8 0.3-4 0.8-2.3 0.7-3.1 1.5-2.6 2.6-0.6 1.9z"/><path fill="#fff900" d="M80 1.6l0.3 0.9 28.4 0.9 0.3-2.6-1.1-2.9-2.3-2.1-3.4-1.4-3.3-0.7-3.3-0.2-5.5 0.5-2.7 0.6-2.8 1-1.8 1-1.8 1.7-0.9 1.9z"/><path fill="#ffd200" d="M81.7 2.6l25.5 0.8 0.3-2.6-0.5-1.8-1-1.3-0.9-0.9-1.9-1.1-3.8-1.1-5.6-0.3-2.7 0.3-3.7 0.8-2.8 1.2-1.7 1.4-1.2 1.7-0.2 0.9z"/><path fill="#ffac00" d="M83.3 2.6l22.3 0.7 0.4-2.5-0.4-1.2-0.8-1.3-1.4-1.2-1.1-0.6-1.9-0.7-2.8-0.6-3.7-0.1-4.6 0.7-2.3 0.8-1.9 1-1.8 2.1-0.3 0.9z"/><path fill="#ff8600" d="M84.7 1.7l0.4 1 18.7 0.6 0.4-1.1 0-1.6-0.9-1.7-2.3-1.7-3.8-1.1-3.3-0.1-3.7 0.5-2.7 1-1.6 1.1-0.8 1.1z"/><path fill="#ff6000" d="M87.2 2.7l14.5 0.5 0.5-1.2 0-1.2-0.8-1.5-0.9-0.8-2.8-1.1-1.9-0.3-4.6 0.3-2.9 1.2-1.1 1-0.4 1.1 0 1z"/><path fill="#ff3900" d="M90.2 2.8l8.5 0.3 0.8-1.2 0-1.1-0.9-1.2-0.9-0.5-1.8-0.5-2.4-0.1-2.3 0.6-1 0.5-0.8 1.1 0 1.1z"/></g></g></g>
<g transform="translate(190.25 228.3) scale(0.99 1)"><g clip-path="url(#cl)"><g filter="url(#bl)"><rect x="40" y="-100" width="100" height="110" fill="#ff0013"/><path fill="#ff0039" d="M63.5 2l44.2 1.4-0.8-2.6-0.3-2.5-0.3-7.6 0.7-4.5 0.8-1.2 0.9 0 1.1 1.3 0.6 1.4 0.8 2.6 0.4 2.6 0.2 2.7-0.2 3.9-1.1 4 16.7 0.5 0.1-7.5-0.4-6.1-0.7-7.4-0.7-4.5-2.6-11.8-1.7-5.8-3.1-8.5-3-6.9-2-4-2.9-5.3-4.8-7.7-3.5-4.9-4.7-5.9-4-4.5-3.2-3.2-45.1 45.1 2.6 2.7 2.9 3.5 3.4 4.9 3.3 6 2.1 4.8 1.5 4.2 1.8 7.3 0.8 6z"/><path fill="#ff0060" d="M63.5 2l41.8 1.3-0.4-3.7-0.4-8.7 0.2-7.4 0.5-2.6 0.7-1.6 0.8-0.8 0.9 0 1.1 0.6 0.7 0.8 1.4 2.4 1.4 3.9 0.9 3.9 0.5 6.7-0.2 4.1-0.5 2.6 14.3 0.5 0.1-7.5-0.4-6.1-0.7-7.4-0.7-4.5-2.6-11.8-1.7-5.8-3.1-8.5-3-6.9-2-4-2.9-5.3-4.8-7.7-3.5-4.9-4.7-5.9-4-4.5-3.2-3.2-45.1 45.1 2.6 2.7 2.9 3.5 3.4 4.9 3.3 6 2.1 4.8 1.5 4.2 1.8 7.3 0.8 6z"/><path fill="#ff0086" d="M63.5 2l40.5 1.3-0.7-16 0-6.8 0.9-4.8 1.1-1.6 1.2-0.4 1.1 0.4 1.2 1 1.4 1.9 1.3 2.5 1.8 5.2 0.9 4 0.6 5.4 0 5.4-0.4 4.1 12.8 0.4 0.1-7.5-0.4-6.1-0.7-7.4-0.7-4.5-2.6-11.8-1.7-5.8-3.1-8.5-3-6.9-2-4-2.9-5.3-4.8-7.7-3.5-4.9-4.7-5.9-4-4.5-3.2-3.2-45.1 45.1 2.6 2.7 2.9 3.5 3.4 4.9 3.3 6 2.1 4.8 1.5 4.2 1.8 7.3 0.8 6z"/><path fill="#ff00ac" d="M63.5 2l39.6 1.2-1-22 0.1-5.7 0.9-3.8 0.8-1.2 0.7-0.5 0.9-0.2 1 0.2 1.2 0.8 1.3 1.3 1.5 2.1 1.9 3.8 1.4 3.9 1.5 6.7 0.5 4.1 0.1 6.8-0.3 4.1 11.6 0.4 0.1-7.5-0.4-6.1-0.7-7.4-0.7-4.5-2.6-11.8-1.7-5.8-3.1-8.5-3-6.9-2-4-2.9-5.3-4.8-7.7-3.5-4.9-4.7-5.9-4-4.5-3.2-3.2-45.1 45.1 2.6 2.7 2.9 3.5 3.4 4.9 3.3 6 2.1 4.8 1.5 4.2 1.8 7.3 0.8 6z"/><path fill="#ff00d2" d="M63.5 2l38.9 1.2-0.4-10.9-1.1-18.4 0.2-2.5 1-3.3 1.4-1.6 1.1-0.2 0.8 0.1 1.2 0.6 2.7 2.7 1.6 2.4 1.8 3.4 2 5.6 1.1 4.6 0.8 5.5 0.3 4.2-0.3 8.3 10.6 0.3 0.1-7.5-0.4-6.1-0.7-7.4-0.7-4.5-2.6-11.8-1.7-5.8-3.1-8.5-3-6.9-2-4-2.9-5.3-4.8-7.7-3.5-4.9-4.7-5.9-4-4.5-3.2-3.2-45.1 45.1 2.6 2.7 2.9 3.5 3.4 4.9 3.3 6 2.1 4.8 1.5 4.2 1.8 7.3 0.8 6z"/><path fill="#ff00f9" d="M63.5 2l38.2 1.2-0.4-12-1.5-17.6 0-3.5 0.3-2.4 1-3 1.3-1.4 1.9-0.2 2.4 1.3 2.9 3.1 2.2 3.6 2.8 6.5 2.1 8 0.6 4.2 0.4 4.1 0.1 4.2-0.3 5.6 9.7 0.3 0.1-7.5-0.4-6.1-0.7-7.4-0.7-4.5-2.6-11.8-1.7-5.8-3.1-8.5-3-6.9-2-4-2.9-5.3-4.8-7.7-3.5-4.9-4.7-5.9-4-4.5-3.2-3.2-45.1 45.1 2.6 2.7 2.9 3.5 3.4 4.9 3.3 6 2.1 4.8 1.5 4.2 1.8 7.3 0.8 6z"/><path fill="#df00ff" d="M63.5 2l37.6 1.2-0.4-12-1.8-17.3-0.3-7 0.5-2.8 0.8-2.3 1.4-1.5 0.9-0.3 1 0 2.4 1.1 2.9 2.7 1.7 2.2 1.4 2.3 3 6.4 1.7 5.4 1.2 5.4 0.6 4.2 0.4 5.6-0.2 8.4 8.9 0.3 0.1-7.5-0.4-6.1-0.7-7.4-0.7-4.5-2.6-11.8-1.7-5.8-3.1-8.5-3-6.9-2-4-2.9-5.3-4.8-7.7-3.5-4.9-4.7-5.9-4-4.5-3.2-3.2-45.1 45.1 2.6 2.7 2.9 3.5 3.4 4.9 3.3 6 2.1 4.8 1.5 4.2 1.8 7.3 0.8 6z"/><path fill="#b900ff" d="M63.5 2l37 1.2-0.3-10.7-1.1-11.9-1.6-12-0.1-3.9 0.4-3.1 1-2.8 1.3-1.3 0.9-0.4 1 0 1.1 0.2 2.6 1.6 3.2 3.2 1.8 2.5 2 3.4 2.3 5.4 2.4 7.9 1.4 8.3 0.4 5.7-0.2 8.4 8.2 0.3 0.1-7.5-0.4-6.1-0.7-7.4-0.7-4.5-2.6-11.8-1.7-5.8-3.1-8.5-3-6.9-2-4-2.9-5.3-4.8-7.7-3.5-4.9-4.7-5.9-4-4.5-3.2-3.2-45.1 45.1 2.6 2.7 2.9 3.5 3.4 4.9 3.3 6 2.1 4.8 1.5 4.2 1.8 7.3 0.8 6z"/><path fill="#9300ff" d="M63.5 2l36.4 1.1 0-5.9-0.7-10.6-2.7-19-0.4-5.3 0.5-3.7 1-2.5 1.3-1.4 1.8-0.5 1.5 0.3 2.2 1.2 1.5 1.1 2.4 2.5 3 4.2 1.7 3 2.7 6.5 2.4 8.2 1.2 7 0.6 8.5-0.2 7.1 7.5 0.2 0.1-7.5-0.4-6.1-0.7-7.4-0.7-4.5-2.6-11.8-1.7-5.8-3.1-8.5-3-6.9-2-4-2.9-5.3-4.8-7.7-3.5-4.9-4.7-5.9-4-4.5-3.2-3.2-45.1 45.1 2.6 2.7 2.9 3.5 3.4 4.9 3.3 6 2.1 4.8 1.5 4.2 1.8 7.3 0.8 6z"/><path fill="#6c00ff" d="M63.5 2l35.9 1.1 0-5.9-0.6-9.4-1.2-9.3-2.4-14.3-0.3-2.4 0-2.7 0.5-3.3 0.9-2.4 1.3-1.4 1.9-0.6 2.2 0.5 1.5 0.8 2.4 1.8 2.3 2.3 4 5.7 3.1 6.4 1.5 4 1.6 5.4 1.4 7 0.9 9.9-0.1 8.6 6.9 0.2 0.1-7.5-0.4-6.1-0.7-7.4-0.7-4.5-2.6-11.8-1.7-5.8-3.1-8.5-3-6.9-2-4-2.9-5.3-4.8-7.7-3.5-4.9-4.7-5.9-4-4.5-3.2-3.2-45.1 45.1 2.6 2.7 2.9 3.5 3.4 4.9 3.3 6 2.1 4.8 1.5 4.2 1.8 7.3 0.8 6z"/><path fill="#4600ff" d="M63.5 2l35.4 1.1 0-5.8-0.6-9.4-0.9-7-3.5-19.2-0.3-6 0.4-2.7 0.8-2.1 0.7-1 1.6-1 2-0.2 1.2 0.3 2.1 1 4 3.2 3.4 4.1 3.1 5 2.3 5 1.5 4 1.3 4.1 1.5 6.4 1.1 7.7 0.4 5.7-0.1 8.6 6.3 0.2 0.1-7.5-0.4-6.1-0.7-7.4-0.7-4.5-2.6-11.8-1.7-5.8-3.1-8.5-3-6.9-2-4-2.9-5.3-4.8-7.7-3.5-4.9-4.7-5.9-4-4.5-3.2-3.2-45.1 45.1 2.6 2.7 2.9 3.5 3.4 4.9 3.3 6 2.1 4.8 1.5 4.2 1.8 7.3 0.8 6z"/><path fill="#2000ff" d="M63.5 2l34.9 1.1-0.2-10.5-0.8-8.1-1.5-9.3-3.2-15.1-0.5-3.8 0.1-4.6 0.3-1.5 0.9-2.2 0.6-0.8 1.5-1.1 2-0.2 2.6 0.7 2.8 1.6 1.8 1.5 2.5 2.6 2.7 3.4 3.6 6.2 1.8 3.9 1.5 4 1.7 5.5 1 4.2 1.5 9.9 0.5 8.7-0.2 5.7 5.8 0.2 0.1-7.5-0.4-6.1-0.7-7.4-0.7-4.5-2.6-11.8-1.7-5.8-3.1-8.5-3-6.9-2-4-2.9-5.3-4.8-7.7-3.5-4.9-4.7-5.9-4-4.5-3.2-3.2-45.1 45.1 2.6 2.7 2.9 3.5 3.4 4.9 3.3 6 2.1 4.8 1.5 4.2 1.8 7.3 0.8 6z"/><path fill="#0006ff" d="M63.5 2l34.4 1.1-0.1-9.3-1.2-11.5-1.7-9.2-3.4-14.6-0.8-5.5 0.3-5.5 0.9-2.2 1.3-1.5 1.7-0.7 1-0.1 2.5 0.5 1.4 0.6 2.4 1.5 2.7 2.2 4.4 5.1 3.8 6.2 2.4 5.2 2 5.4 1.3 4.1 1.6 7 1.1 7.2 0.4 4.3 0.2 4.3-0.2 7.2 5.3 0.2 0.1-7.5-0.4-6.1-0.7-7.4-0.7-4.5-2.6-11.8-1.7-5.8-3.1-8.5-3-6.9-2-4-2.9-5.3-4.8-7.7-3.5-4.9-4.7-5.9-4-4.5-3.2-3.2-45.1 45.1 2.6 2.7 2.9 3.5 3.4 4.9 3.3 6 2.1 4.8 1.5 4.2 1.8 7.3 0.8 6z"/><path fill="#002dff" d="M63.5 2l34 1.1-0.2-10.4-1-9.2-2.7-13.7-3.8-14.9-0.8-6.5 0.3-3.8 1.4-3 1.5-1.1 0.9-0.3 2.2-0.1 2.6 0.8 2.2 1.1 2.8 2 1.9 1.8 2.4 2.5 2.3 3 3.7 6.2 3 6.6 1.5 4 2.7 9.8 0.8 4.3 1.1 8.6 0.3 5.8-0.1 7.2 4.7 0.2 0.1-7.5-0.4-6.1-0.7-7.4-0.7-4.5-2.6-11.8-1.7-5.8-3.1-8.5-3-6.9-2-4-2.9-5.3-4.8-7.7-3.5-4.9-4.7-5.9-4-4.5-3.2-3.2-45.1 45.1 2.6 2.7 2.9 3.5 3.4 4.9 3.3 6 2.1 4.8 1.5 4.2 1.8 7.3 0.8 6z"/><path fill="#0053ff" d="M63.5 2l33.5 1-0.1-9.1-0.9-9.2-2.4-12.4-2-7.9-3.3-11.5-1.1-6.4 0-3.6 0.2-1.3 0.8-2.1 1.2-1.5 0.8-0.5 1.9-0.5 1.1 0 1.7 0.3 3.1 1.2 4.7 3.2 2.4 2.3 3.7 4.5 2.4 3.6 2.1 3.8 1.9 3.9 3.1 8.2 2 7 1.2 5.6 0.9 5.8 0.7 8.7-0.1 8.8 4.2 0.1 0.1-7.5-0.4-6.1-0.7-7.4-0.7-4.5-2.6-11.8-1.7-5.8-3.1-8.5-3-6.9-2-4-2.9-5.3-4.8-7.7-3.5-4.9-4.7-5.9-4-4.5-3.2-3.2-45.1 45.1 2.6 2.7 2.9 3.5 3.4 4.9 3.3 6 2.1 4.8 1.5 4.2 1.8 7.3 0.8 6z"/><path fill="#0079ff" d="M63.5 2l33 1 0.1-5.7-0.2-4.6-0.4-4.5-1.2-7.9-1.4-6.8-2.6-9.7-4.4-13.9-0.8-3.6-0.7-5.1 0-1.5 0.5-2.2 1.1-2 0.6-0.7 1.7-0.9 2-0.3 2 0.2 2 0.6 2.6 1.2 2.7 1.8 4.3 3.8 5.4 6.8 4.3 7.6 2.4 5.3 2.9 8.3 1.5 5.6 1.2 5.8 1.2 8.7 0.3 4.3 0 10.3 3.6 0.1 0.1-7.5-0.4-6.1-0.7-7.4-0.7-4.5-2.6-11.8-1.7-5.8-3.1-8.5-3-6.9-2-4-2.9-5.3-4.8-7.7-3.5-4.9-4.7-5.9-4-4.5-3.2-3.2-45.1 45.1 2.6 2.7 2.9 3.5 3.4 4.9 3.3 6 2.1 4.8 1.5 4.2 1.8 7.3 0.8 6z"/><path fill="#009fff" d="M63.5 2l32.6 1 0.1-4.5-0.3-6.9-0.8-6.7-1.2-6.8-3.4-13.3-5.4-15.4-1.6-5.2-0.8-3.2-0.5-3.5 0.2-2.4 0.4-1.3 1-1.7 2.2-1.7 3.1-0.6 2.7 0.5 3.8 1.5 2.6 1.6 3.2 2.5 4.3 4.5 2.7 3.5 4.6 7.5 4.8 10.6 1.9 5.6 1.9 7.1 1.2 5.7 1 7.3 0.6 10.3-0.1 5.9 2.9 0.1 0.1-7.5-0.4-6.1-0.7-7.4-0.7-4.5-2.6-11.8-1.7-5.8-3.1-8.5-3-6.9-2-4-2.9-5.3-4.8-7.7-3.5-4.9-4.7-5.9-4-4.5-3.2-3.2-45.1 45.1 2.6 2.7 2.9 3.5 3.4 4.9 3.3 6 2.1 4.8 1.5 4.2 1.8 7.3 0.8 6z"/><path fill="#00c6ff" d="M63.5 2l32.1 1 0.1-6.8-0.6-7.9-1-6.7-1.4-6.7-3.1-11-8.5-21.8-1.7-4.7-0.6-2.5 0-1.7 0.6-2 1.6-2.4 2.1-1.8 1.7-0.9 2.1-0.5 1.2 0 2.8 0.5 3.7 1.7 4.6 3.2 2.2 2 4 4.3 2.7 3.5 3.2 4.9 3.5 6.5 3.5 8.1 1.5 4.2 2.4 8.5 1.5 7.3 1 7.3 0.6 10.4-0.1 5.9 2 0.1 0.1-7.5-0.4-6.1-0.7-7.4-0.7-4.5-2.6-11.8-1.7-5.8-3.1-8.5-3-6.9-2-4-2.9-5.3-4.8-7.7-3.5-4.9-4.7-5.9-4-4.5-3.2-3.2-45.1 45.1 2.6 2.7 2.9 3.5 3.4 4.9 3.3 6 2.1 4.8 1.5 4.2 1.8 7.3 0.8 6z"/><path fill="#00ecff" d="M64.1 2l31.1 1 0.1-5.6-0.2-4.6-0.9-7.8-1.7-8.9-2.7-9.8-3.6-9.6-7.5-15.7-2.4-4.1-2.2-2.7-1.1-0.6-1.4-0.1-2 0.6-4 2.5-3.5 3-4.7 4.5-4.4 4.8-2.1 3.1-0.5 2.1 0.1 1 0.8 2.5 3.6 7 2.6 5.7 3.4 8.6 2.2 9.5 0.7 5.3z"/><path fill="#00ffec" d="M65.2 2l29.6 1 0.1-4.5-0.3-6.7-1-7.8-2.1-9.9-2.6-8.7-2-5.3-2.8-6.2-5.1-8.9-1.9-2.8-2.2-2.7-1.4-1.1-1.7-0.5-2.4 0.1-3.6 1.5-4.4 3.3-3.4 3.2-1.8 2.1-1.6 2.2-1.2 3.1 0 1.4 0.9 3.5 4.9 12 2.3 6.6 1.5 5.2 1.1 5.3 0.8 6.2z"/><path fill="#00ffc6" d="M65.8 2.1l28.5 0.9 0.1-1.2-0.1-7.8-0.8-7.8-1.9-9.8-1.8-6.5-2.2-6.4-2.2-5.2-2-4-4.2-6.7-2.1-2.6-2.4-2.4-2-1.3-2.3-0.8-1.8 0-2.5 0.7-2.4 1.4-2.9 2.3-1.4 1.3-2.8 3.5-1 2-0.5 2.3 0.1 1.6 1.1 4.2 5.7 16.1 1.8 6.8 0.9 4.6 0.8 6.2z"/><path fill="#00ff9f" d="M66.3 2.1l27.6 0.8 0.1-2.2-0.2-7.8-0.3-3.3-1.4-8.8-1.8-7.6-1.3-4.2-3.7-9.4-1.5-3-3.5-5.7-2.8-3.4-1.8-1.7-2.7-1.9-2.2-1-2.4-0.4-1.1 0.1-2.8 1-3.7 2.8-2.6 3.1-0.8 1.5-0.6 2-0.1 1.2 0.1 2.1 1.2 5.3 4.8 14.8 1.7 7 1.5 10.1z"/><path fill="#00ff79" d="M66.7 2.1l26.7 0.8 0.1-1.1 0-6.6-0.6-6.6-1.5-8.8-1.9-7.5-3.4-9.4-1.9-4-2.2-3.8-3.3-4.5-2.4-2.4-2.3-1.6-2.6-1.4-2.5-0.8-2.4 0.1-1.6 0.5-1.9 1.1-1.4 1.2-1.6 1.9-1.2 2.2-0.6 3.4 0.2 3.5 0.9 4.5 4 13.4 2.1 9.4 1.2 10.2z"/><path fill="#00ff53" d="M67.2 1.3l0 0.8 25.7 0.8 0.2-3.3-0.1-5.5-0.4-4.4-1.4-8.7-2.5-9.6-2.7-7.2-1.4-3-4-6.6-2.9-3.4-2.7-2.1-2.6-1.6-1.7-0.7-2.8-0.6-1.4 0.1-2.5 1-2.1 1.8-1.1 1.6-0.4 1-0.6 2.2-0.2 2.5 0.4 4.9 0.7 3.5 3.3 12 1.7 7.9 1.2 9.5z"/><path fill="#00ff2d" d="M67.6 2.1l24.9 0.8 0.1-2.2 0-5.5-0.6-6.5-1.5-8.7-2.3-8.4-2.8-7.2-2.9-5.5-2-3-3-3.3-1.8-1.4-3-1.8-2.4-0.9-2-0.3-0.9 0-2.2 0.6-2.1 1.8-1.1 1.7-0.8 2.9-0.2 1.9 0 3.6 0.5 3.7 3.7 15.4 0.9 4.8 1.1 8.7z"/><path fill="#00ff06" d="M67.9 2.1l24.1 0.8 0.2-3.9-0.4-8.1-1.8-10.8-2-7.3-2.7-7.1-2.5-4.9-1.6-2.5-2.9-3.4-4-3-3.2-1.4-2.5-0.3-1.1 0.1-1.8 0.7-1.4 1.2-1.4 2.8-0.7 3.8 0 3.2 0.4 3.7 3.2 14.8 1 6 0.9 8.4z"/><path fill="#20ff00" d="M68.3 2.1l23.2 0.8 0.2-3.3-0.3-7.6-1.2-8.6-1.2-5.3-1.5-5.2-1.9-5-3.5-6.7-1.9-2.7-1.5-1.6-2.6-2.2-1.9-1.2-2.4-1-1.4-0.3-2.5 0.2-1.7 0.9-0.6 0.6-0.7 0.9-0.8 1.9-0.7 4 0 3.7 0.4 3.5 2.6 13.3 1.2 8.8 0.7 8.9z"/><path fill="#46ff00" d="M68.7 2.2l22.3 0.7 0.2-3.3-0.1-5.4-0.4-4.5-1-6.2-2.4-9.4-2.3-6-2.5-4.8-1.8-2.7-3.1-3.2-3.9-2.5-3.5-0.8-2 0.4-0.8 0.5-1 1.1-1.2 2.3-0.7 4.2 0.3 6.7 2.2 12.6 1.2 9.7z"/><path fill="#6cff00" d="M69.2 2.2l21.3 0.6 0.2-3.2-0.4-8.6-1.1-7.4-1.8-7.3-2.6-7-1.4-2.9-1.8-3-2.4-2.9-3.7-3-1.1-0.6-2.6-0.8-1.4 0-1 0.3-1.4 0.9-0.7 0.9-1 2-0.7 4.3 0 3.5 0.4 4.5 2.3 15.8z"/><path fill="#93ff00" d="M69.6 2.2l20.3 0.6 0.2-2.1 0-6.4-0.7-6.4-2-9.4-2.8-8-2.5-4.7-2.7-3.4-3.4-2.9-2.3-1.1-1.4-0.3-1.7 0.2-1.6 0.9-1.2 1.7-1 3.9-0.1 6.5 2.2 18.6z"/><path fill="#b9ff00" d="M70.1 2.2l18.3 0.6 0.9 0 0.1-0.3 0.2-6.1-0.5-6.3-1-6.3-1-4.1-1.6-5-2.8-6.2-2.9-4-3.1-2.8-2.5-1.2-1.5-0.3-1.8 0.4-0.8 0.6-1.2 1.6-0.8 2.5-0.4 3.4 0.2 6.7 1.2 11.1z"/><path fill="#dfff00" d="M70.7 2.2l18 0.6 0.2-2.1 0.1-5.3-0.6-6.3-1.4-7.2-1.8-6.1-2.2-4.8-1-1.8-1.9-2.6-3.6-3.2-2.6-1-1.7 0.2-1.7 1.3-1 2.1-0.6 3.1-0.1 6.9z"/><path fill="#fff900" d="M71.3 2.2l16.7 0.6 0.3-3.2 0-5.2-0.7-6.2-1.3-6.2-1.9-5.9-1.8-3.8-1.7-2.7-1.4-1.7-1.7-1.6-1.4-0.9-2-0.6-1.3 0.1-0.8 0.5-1.3 1.7-0.8 2.7-0.4 4 0.1 6.4z"/><path fill="#ffd200" d="M72.1 2.3l15.1 0.4 0.4-3.1 0-5.1-0.9-7.3-0.9-4-1.9-5.9-2.9-5.4-1.8-2.2-1.5-1.3-1.4-0.8-1.1-0.3-1 0.1-0.8 0.4-0.9 1-0.9 2-0.6 3.5-0.1 8.3 0.4 11.2z"/><path fill="#ffac00" d="M73 2.3l13.2 0.4 0.6-4.1 0-4.1-0.6-5.1-1-5-2-5.9-2.5-4.5-1.4-1.7-1.7-1.5-1.2-0.5-1-0.1-0.9 0.3-1.3 1.7-0.5 1.4-0.6 4-0.1 13.5 0.4 6.9z"/><path fill="#ff8600" d="M74.1 2.3l10.9 0.4 0.8-4.1 0-4-0.6-5.1-0.6-3-1.5-4.8-0.7-1.8-2.2-3.7-1.4-1.6-1-0.7-1.2-0.3-0.9 0.2-0.7 0.6-0.6 1.1-0.6 1.7-0.6 4.8-0.1 12.5 0.5 5.2z"/><path fill="#ff6000" d="M75.4 1.5l0.3 0.9 7.7 0.2 1-3.9 0-5.1-0.5-3.9-0.7-3-0.9-2.9-1.8-3.6-1.4-1.7-1.1-0.7-1 0-0.8 0.6-0.6 1.1-0.6 2.1-0.3 2.2-0.4 10.6 0.3 3.5z"/><path fill="#ff3900" d="M77.9 1.5l1.2 1 1 0 0.9-0.7 1.2-2.1 0.6-3-0.1-3.3-0.9-4.5-1.5-3.7-0.8-1.1-0.9-0.5-1 0.5-0.7 1.3-0.5 2.4-0.4 4.4 0.1 3.9 0.3 1.8 0.9 2.7z"/></g></g></g>
<g transform="translate(280.15 228.3) scale(0.99 1)"><g clip-path="url(#cl)"><g filter="url(#bl)"><rect x="40" y="-100" width="100" height="110" fill="#ff0013"/><path fill="#ff0039" d="M63.5 2l63.7 2 0.1-7.5-0.4-6.1-0.7-7.4-0.7-4.5-2.6-11.8-1.7-5.8-3.1-8.5-3-6.9-2-4-2.9-5.3-4.8-7.7-3.5-4.9-4.7-5.9-4-4.5-3.2-3.2-45.1 45.1 2.6 2.7 2.9 3.5 3.4 4.9 3.3 6 2.1 4.8 1.5 4.2 1.8 7.3 0.8 6zM96.4-21l-3.3-0.7-1.3-0.9-0.7-0.9-0.3-1.1 0.1-1.2 0.9-1.7 1.5-1.4 1.7-1 1.7-0.7 1.8-0.4 2.9-0.1 1.7 0.5 1.3 1 0.8 1.1 0.3 1.3-0.1 1.3-0.8 1.5-1.1 1.2-1.7 1.1-2.6 0.9z"/><path fill="#ff0060" d="M63.5 2l63.7 2 0.1-7.5-0.4-6.1-0.7-7.4-0.7-4.5-2.6-11.8-1.7-5.8-3.1-8.5-3-6.9-2-4-2.9-5.3-4.8-7.7-3.5-4.9-4.7-5.9-4-4.5-3.2-3.2-45.1 45.1 2.6 2.7 2.9 3.5 3.4 4.9 3.3 6 2.1 4.8 1.5 4.2 1.8 7.3 0.8 6zM95.7-19.7l-2-0.3-2-0.7-1.1-0.6-1.5-1.7-0.2-2.2 0.4-1.3 1.3-1.8 2.4-1.8 2.5-1.2 2.6-0.8 2.7-0.4 2.1 0.2 2.3 1 1.3 1.2 0.6 1.1 0.3 1.3 0 1.3-0.5 1.5-0.7 1.1-2.4 2.2-1.7 0.8-3.6 1z"/><path fill="#ff0086" d="M63.5 2l63.7 2 0.1-7.5-0.4-6.1-0.7-7.4-0.7-4.5-2.6-11.8-1.7-5.8-3.1-8.5-3-6.9-2-4-2.9-5.3-4.8-7.7-3.5-4.9-4.7-5.9-4-4.5-3.2-3.2-45.1 45.1 2.6 2.7 2.9 3.5 3.4 4.9 3.3 6 2.1 4.8 1.5 4.2 1.8 7.3 0.8 6zM95.9-18.6l-3.9-0.6-2.1-0.9-1.8-1.5-0.9-2 0-1.1 0.3-1.3 0.7-1.3 1.3-1.6 2.3-1.6 2.5-1.3 1.8-0.7 3.6-0.9 3.8-0.1 2.2 0.8 1.4 0.9 1 1.1 1 2.5-0.3 2.8-0.8 1.6-1.5 1.7-1.6 1.2-2.6 1.3-2.7 0.7z"/><path fill="#ff00ac" d="M63.5 2l63.7 2 0.1-7.5-0.4-6.1-0.7-7.4-0.7-4.5-2.6-11.8-1.7-5.8-3.1-8.5-3-6.9-2-4-2.9-5.3-4.8-7.7-3.5-4.9-4.7-5.9-4-4.5-3.2-3.2-45.1 45.1 2.6 2.7 2.9 3.5 3.4 4.9 3.3 6 2.1 4.8 1.5 4.2 1.8 7.3 0.8 6zM96.1-17.6l-1.9-0.1-4.2-1-1.5-0.8-1.6-1.3-0.9-1.4-0.3-1 0-1.1 0.2-1.2 1.5-2.7 1.8-1.6 2.4-1.5 3.4-1.6 3.5-1.1 4.7-0.6 2 0.3 2.3 1 2.1 2.2 1 2.6-0.2 2.8-0.6 1.5-1.1 1.6-2.7 2.4-2.6 1.3-3.6 1z"/><path fill="#ff00d2" d="M63.5 2l63.7 2 0.1-7.5-0.4-6.1-0.7-7.4-0.7-4.5-2.6-11.8-1.7-5.8-3.1-8.5-3-6.9-2-4-2.9-5.3-4.8-7.7-3.5-4.9-4.7-5.9-4-4.5-3.2-3.2-45.1 45.1 2.6 2.7 2.9 3.5 3.4 4.9 3.3 6 2.1 4.8 1.5 4.2 1.8 7.3 0.8 6zM98.1-16.8l-2.8 0.1-3.8-0.5-3.1-1.1-2.2-1.4-1.1-1.2-0.8-1.9 0.2-2.2 0.7-1.9 1.4-1.8 1.5-1.3 2.4-1.6 4.2-1.9 4.5-1.4 2.7-0.5 3.5 0 2.2 0.7 2.6 2 1.4 2.5 0.4 2.9-0.1 1.2-0.5 1.5-1.9 2.9-1.6 1.5-1.7 1.1-3.5 1.5z"/><path fill="#ff00f9" d="M63.5 2l63.7 2 0.1-7.5-0.4-6.1-0.7-7.4-0.7-4.5-2.6-11.8-1.7-5.8-3.1-8.5-3-6.9-2-4-2.9-5.3-4.8-7.7-3.5-4.9-4.7-5.9-4-4.5-3.2-3.2-45.1 45.1 2.6 2.7 2.9 3.5 3.4 4.9 3.3 6 2.1 4.8 1.5 4.2 1.8 7.3 0.8 6zM93.6-16l-3.9-0.7-3.1-1.3-2.2-1.7-0.6-0.9-0.8-1.9 0.1-2.1 1-2.5 1.1-1.5 2.3-1.9 3.6-2.1 6-2.4 3.6-0.9 2.8-0.4 2 0 1.8 0.3 1.8 0.8 1.4 1 1 1.1 1.4 2.5 0.4 2.8-0.1 1.6-0.5 1.8-1.4 2.4-0.8 0.9-3.3 2.6-4.4 1.8-5.4 0.9z"/><path fill="#df00ff" d="M63.5 2l63.7 2 0.1-7.5-0.4-6.1-0.7-7.4-0.7-4.5-2.6-11.8-1.7-5.8-3.1-8.5-3-6.9-2-4-2.9-5.3-4.8-7.7-3.5-4.9-4.7-5.9-4-4.5-3.2-3.2-45.1 45.1 2.6 2.7 2.9 3.5 3.4 4.9 3.3 6 2.1 4.8 1.5 4.2 1.8 7.3 0.8 6zM94.7-15l-2.9-0.3-2.9-0.7-2.4-0.9-2.6-1.6-1.5-1.7-0.7-1.9-0.1-1.1 0.5-2.2 1-2.1 2.2-2.3 3.1-2.1 5.9-2.8 3.5-1.2 4-1 4.4-0.3 2.8 0.6 1.6 0.9 2.2 2.3 0.7 1.2 0.9 2.7 0.2 1.4-0.3 2.6-0.6 1.8-0.9 1.6-2.9 3-2.5 1.6-1.8 0.8-4.4 1.3-3.7 0.4z"/><path fill="#b900ff" d="M63.5 2l63.7 2 0.1-7.5-0.4-6.1-0.7-7.4-0.7-4.5-2.6-11.8-1.7-5.8-3.1-8.5-3-6.9-2-4-2.9-5.3-4.8-7.7-3.5-4.9-4.7-5.9-4-4.5-3.2-3.2-45.1 45.1 2.6 2.7 2.9 3.5 3.4 4.9 3.3 6 2.1 4.8 1.5 4.2 1.8 7.3 0.8 6zM96.7-14.2l-3.8-0.1-3.8-0.7-4.2-1.6-2.1-1.4-1.7-1.9-0.4-0.9-0.3-2 0.3-2.2 1.2-2.5 2.3-2.4 3.2-2.1 5-2.5 7-2.5 3.6-0.8 3.9-0.2 2 0.3 2.4 1.1 1.7 1.6 0.9 1.2 1.2 2.6 0.3 1.4 0.3 2.8-0.2 1.5-0.4 1.5-1 2-1.5 1.9-1.6 1.5-4.3 2.5-1.9 0.7-3.5 0.8z"/><path fill="#9300ff" d="M63.5 2l63.7 2 0.1-7.5-0.4-6.1-0.7-7.4-0.7-4.5-2.6-11.8-1.7-5.8-3.1-8.5-3-6.9-2-4-2.9-5.3-4.8-7.7-3.5-4.9-4.7-5.9-4-4.5-3.2-3.2-45.1 45.1 2.6 2.7 2.9 3.5 3.4 4.9 3.3 6 2.1 4.8 1.5 4.2 1.8 7.3 0.8 6zM93-13.5l-3.8-0.6-4-1.3-3.1-1.7-1.7-1.6-1-1.8-0.3-3 0.7-2.2 1.2-2.2 2.2-2.1 4-2.6 5-2.4 6.1-2.3 5.4-1.3 2.9-0.3 3 0.3 2.3 1.1 1.2 1 1.8 2.5 0.6 1.2 0.8 2.8 0.3 2.1-0.2 3.3-0.6 1.9-1.4 2.2-2.8 2.7-3 1.9-1.8 0.7-4.5 1.1-2.8 0.4z"/><path fill="#6c00ff" d="M63.5 2l63.7 2 0.1-7.5-0.4-6.1-0.7-7.4-0.7-4.5-2.6-11.8-1.7-5.8-3.1-8.5-3-6.9-2-4-2.9-5.3-4.8-7.7-3.5-4.9-4.7-5.9-4-4.5-3.2-3.2-45.1 45.1 2.6 2.7 2.9 3.5 3.4 4.9 3.3 6 2.1 4.8 1.5 4.2 1.8 7.3 0.8 6zM95-12.8l-4.7-0.2-3.5-0.8-3.4-1.3-3.3-2.2-1.6-2-0.4-0.9-0.3-1.9 0.2-2 1.3-3 2.1-2.4 3.3-2.3 7.3-3.7 4.3-1.7 6.2-1.9 2.8-0.5 4.2-0.1 2.2 0.7 2.4 2.1 0.9 1.3 1.3 2.6 0.8 2.8 0.4 2.8-0.1 3-1.2 3.3-1.6 2.1-1.6 1.5-1.7 1.2-2.6 1.3-1.8 0.6-4.5 0.9z"/><path fill="#4600ff" d="M63.5 2l63.7 2 0.1-7.5-0.4-6.1-0.7-7.4-0.7-4.5-2.6-11.8-1.7-5.8-3.1-8.5-3-6.9-2-4-2.9-5.3-4.8-7.7-3.5-4.9-4.7-5.9-4-4.5-3.2-3.2-45.1 45.1 2.6 2.7 2.9 3.5 3.4 4.9 3.3 6 2.1 4.8 1.5 4.2 1.8 7.3 0.8 6zM90.4-12.2l-4.8-1-2.6-1-3.8-2.3-1.5-1.6-0.9-1.7-0.3-2.9 0.6-2.4 1.1-2.2 0.7-0.9 3-2.6 4.1-2.4 5.8-2.8 8.7-3.2 4.5-1.1 3.3-0.4 3 0.4 1.7 0.9 2 2.3 2 3.9 1.3 5.6-0.2 4.5-1.2 3.1-1.2 1.5-1.9 1.8-2.3 1.5-3.6 1.2-4.5 0.9-7.4 0.8z"/><path fill="#2000ff" d="M63.5 2l63.7 2 0.1-7.5-0.4-6.1-0.7-7.4-0.7-4.5-2.6-11.8-1.7-5.8-3.1-8.5-3-6.9-2-4-2.9-5.3-4.8-7.7-3.5-4.9-4.7-5.9-4-4.5-3.2-3.2-45.1 45.1 2.6 2.7 2.9 3.5 3.4 4.9 3.3 6 2.1 4.8 1.5 4.2 1.8 7.3 0.8 6zM96.1-11.8l-6.5 0.2-2.9-0.3-3.9-1.3-4.1-2.2-2.5-2.5-1-2.5 0-2.9 1.4-3.4 0.9-1.4 1.8-1.7 4-2.6 5.8-2.9 5.1-2.2 7-2.5 4.5-1.2 2.8-0.4 2 0 2.2 0.7 1.4 1.1 2.4 3.7 1.6 4.1 0.7 2.8 0.3 2.9-0.1 3-0.7 3-0.9 1.6-1.5 1.7-1.7 1.4-3.5 1.6-6.4 1.3z"/><path fill="#0006ff" d="M63.5 2l63.7 2 0.1-7.5-0.4-6.1-0.7-7.4-0.7-4.5-2.6-11.8-1.7-5.8-3.1-8.5-3-6.9-2-4-2.9-5.3-4.8-7.7-3.5-4.9-4.7-5.9-4-4.5-3.2-3.2-45.1 45.1 2.6 2.7 2.9 3.5 3.4 4.9 3.3 6 2.1 4.8 1.5 4.2 1.8 7.3 0.8 6zM89.6-11l-3.7-0.2-2.9-0.8-4.9-2.3-2.7-2.3-1.5-2.5-0.3-2.7 0.2-1.4 1-2.8 1.3-2 2.2-2 4-2.5 6.6-3.3 9.3-3.8 5.4-1.8 5.5-1.1 1-0.1 2.1 0.3 1.8 1 1.9 2.4 1.9 4 1.3 4.1 0.6 2.9 0.2 2.9-0.1 3-0.9 3.1-1.2 1.8-1.6 1.6-1.7 1.1-4.5 1.3-11.9 1.6z"/><path fill="#002dff" d="M63.5 2l63.7 2 0.1-7.5-0.4-6.1-0.7-7.4-0.7-4.5-2.6-11.8-1.7-5.8-3.1-8.5-3-6.9-2-4-2.9-5.3-4.8-7.7-3.5-4.9-4.7-5.9-4-4.5-3.2-3.2-45.1 45.1 2.6 2.7 2.9 3.5 3.4 4.9 3.3 6 2.1 4.8 1.5 4.2 1.8 7.3 0.8 6zM85.1-10.4l-2.9-0.7-5.1-2.3-1.9-1.3-2.6-3.1-0.5-1.7-0.2-1.8 0.2-1.2 1-3 1.6-2.5 2.5-2.2 6.5-3.7 6.8-3.1 11.1-4.4 4.5-1.4 4.6-0.8 2.1 0.3 1.3 0.7 1.7 2 2.1 4.1 1.1 2.8 1.1 4.2 0.6 4.4 0 3.1-0.5 2.9-0.6 1.5-1.6 2.2-1.7 1.3-1.8 0.7-6.4 1.2-16.5 1.7z"/><path fill="#0053ff" d="M63.5 2l63.7 2 0.1-7.5-0.4-6.1-0.7-7.4-0.7-4.5-2.6-11.8-1.7-5.8-3.1-8.5-3-6.9-2-4-2.9-5.3-4.8-7.7-3.5-4.9-4.7-5.9-4-4.5-3.2-3.2-45.1 45.1 2.6 2.7 2.9 3.5 3.4 4.9 3.3 6 2.1 4.8 1.5 4.2 1.8 7.3 0.8 6zM87.9-9.8l-2.8 0.2-2.8-0.2-2.8-0.9-5.4-2.9-2.4-2.2-1.3-2.4-0.3-1.7 0-1.8 1.1-3.4 1.9-3 2.2-1.9 5.7-3.2 10.1-4.6 12-4.8 6.3-1.9 1.7-0.3 2.2 0.3 1.3 0.8 2.2 3 1.9 4 1.8 5.6 0.6 2.9 0.4 2.9 0.1 4.4-0.5 3.1-1.2 2.6-1.7 1.5-0.9 0.5-1.8 0.5-11.9 1.5z"/><path fill="#0079ff" d="M63.5 2l63.7 2 0.1-7.5-0.4-6.1-0.7-7.4-0.7-4.5-2.6-11.8-1.7-5.8-3.1-8.5-3-6.9-2-4-2.9-5.3-4.8-7.7-3.5-4.9-4.7-5.9-4-4.5-3.2-3.2-45.1 45.1 2.6 2.7 2.9 3.5 3.4 4.9 3.3 6 2.1 4.8 1.5 4.2 1.8 7.3 0.8 6zM80.6-8.8l-1-0.1-3.9-1.6-3.4-1.9-1.8-1.5-1.2-1.4-0.9-1.5-0.5-1.6-0.2-1.7 0.4-2.8 0.8-2.1 2.1-3.3 2.3-1.7 10-4.9 11-4.8 12.1-4.8 3.5-1.2 2.8-0.5 1.4 0.2 1.4 1 1.8 2.5 1.9 4.1 1 2.8 1.9 7.1 0.8 5.9 0 3-0.4 2.8-0.6 1.8-0.9 1.6-0.9 0.6-2.7 0.7-30.3 3z"/><path fill="#009fff" d="M69.4 2.2l56.8 1.8-0.2-7.5-1.1-4.4-0.7-1.2-1-1.1-0.9-0.5-2.9-0.4-4.7 0-12.9 0.8-15.6 1.8-6.4 1-2.7 0.8-3.6 2.2-2.7 2.5-1.3 2.5zM69-29.7l7.3-2.7 33.2-14.2 3.3-1.7 0.8-0.6 0.5-0.9 0.3-1.1-0.3-1.5-1.4-4.2-1.9-4.1-4.5-7.8-1.6-2.5-6.4-8.3-3.2-3.2-2.6-1.6-1-0.4-1.5-0.2-2.9 0.9-2.4 1.6-4.2 3.6-6.8 6.3-11 11.2-4.3 4.9-2.2 3-1.9 3.4-0.8 2.3-0.4 2 0.1 2.6 0.7 2.5 1.8 3.6 3.2 3.6 3.2 2 4.2 1.3z"/><path fill="#00c6ff" d="M72.3 2.3l52.4 1.6 0.1-2.9-0.3-3-1-3.9-1.1-1.9-1-1.1-0.9-0.6-2.9-0.7-7.4-0.2-8.3 0.5-10.2 1.1-6.4 1-5.4 1.5-3.6 2.1-2.4 2.1-1.2 1.8-0.3 0.9zM72.1-32.1l2.1-0.5 7-2.5 20.4-8.8 5.8-2.8 2.4-1.4 0.8-0.6 1.2-1.9 0.1-2-0.8-3.2-2.2-5.6-2.8-5.2-2.4-3.7-4.6-5.9-3.1-3.1-2.9-2-1.1-0.4-1.9-0.2-2 0.5-3.4 1.9-3 2.2-5.6 4.8-10.5 10.4-4.8 5.7-3.4 5.4-0.8 1.9-0.6 2.7 0.1 3.3 0.8 2.5 1.2 2.2 1 1.3 1.9 1.8 3.7 2 4.7 1.3z"/><path fill="#00ecff" d="M74.1 2.3l49.8 1.6 0-2.9-0.3-2.7-1-3.5-1-1.7-0.7-0.8-2.3-1.3-2.8-0.6-2.8-0.2-6.5 0-8.3 0.6-6.4 0.8-7.3 1.4-2.5 0.8-2.3 1.1-2.9 2.1-1 0.9-1.2 1.7-0.4 1zM77.5-34.5l5.2-1.8 7.7-3.2 12.6-5.8 4.8-2.8 1.5-1.2 0.9-1.3 0.3-2.7-0.4-2.1-0.8-2.8-1.1-2.7-2-4-4-6.2-3.7-4.6-3.3-3-2.7-1.5-2.3-0.2-2 0.5-1.8 0.8-3.2 2-5.8 4.6-7.4 7-6.8 7.6-3.2 4.7-1.7 3.8-0.5 2.3 0 2.7 0.4 1.8 1 2.4 1.8 2.4 1 0.9 1.6 1.1 2.4 1.1 4.7 1.2 3.1 0z"/><path fill="#00ffec" d="M75.6 2.4l47.6 1.5 0-2.9-0.4-3-1.1-3-1-1.4-1.3-1.2-3.1-1.2-6-0.6-7.4 0.2-8.3 0.8-5.5 0.9-5.5 1.4-2.7 1.3-3.5 2.6-1.4 1.9-0.5 1.8zM85.4-38l9-3.8 8.3-4.1 4.7-3.1 1.3-1.6 0.5-1.1 0.2-1.7-0.2-1.5-1.1-4.3-1.8-4.1-2.9-5-2.6-3.6-2.9-3.3-3.4-2.9-1.8-0.9-1.3-0.3-3.4 0.6-4.2 2.3-3.8 2.7-7.6 6.7-6.8 7.3-3 3.9-2.4 4.4-0.9 3.5 0.1 3.3 1.2 3.5 2.2 2.7 1.9 1.4 2.6 1.2 2.7 0.8 2.9 0.5 2.4-0.2 3.6-0.9z"/><path fill="#00ffc6" d="M76.9 2.4l42.9 1.4 2.7 0 0.1-1.4-0.3-2.9-0.6-2.4-0.9-1.9-1.2-1.4-1.9-1.3-1.8-0.6-2.3-0.5-3.3-0.3-9.3 0.2-6.4 0.7-7.5 1.4-2.5 0.8-3.6 1.9-2.2 1.7-1.4 1.9-0.4 0.9zM79.5-36.5l9.6-3.5 11.7-5.6 4-2.5 1.4-1.2 1.4-1.5 0.5-1.1 0.2-0.9-0.1-3.2-0.8-2.9-1.6-4-2.1-3.9-3.4-4.8-2.9-3.2-3.4-2.6-1.8-0.7-2-0.1-1.5 0.3-3.5 1.6-5 3.3-4.7 3.9-6.6 6.5-3.6 4.3-2.7 4-1.6 3.8-0.4 2.4 0 1.5 0.6 3 0.7 1.6 1 1.5 2 1.9 4.3 2.1 3.9 0.9 3.7-0.2z"/><path fill="#00ff9f" d="M78 2.5l43.9 1.3 0-2.9-0.2-1.4-1-2.9-0.9-1.3-1.9-1.7-1.9-0.9-3.8-0.9-3.7-0.3-4.7 0-10.1 1-5.5 1.1-3 1-4.2 2.4-1.8 1.7-1 1.9zM84.2-38.6l3.9-1.5 8.4-3.9 5.6-3.2 2.3-1.7 1.4-1.4 1.2-1.8 0.3-1.4 0-2-0.5-3-1.5-4.1-2.1-3.9-2.5-3.6-2.8-3.3-2.3-2.1-2.3-1.3-1.6-0.4-2.3 0.1-4.5 1.8-4.7 3.1-4.3 3.5-4.1 3.8-5.5 6.3-3.1 4.9-1.1 3.1-0.3 3.1 0.3 2.1 0.6 1.8 0.9 1.6 1.2 1.5 3.2 2.2 2.3 0.9 3 0.7 2.2 0.2 3.8-0.6z"/><path fill="#00ff79" d="M79.2 2.5l42 1.3 0.1-1.4-0.3-2.9-1.1-2.8-1.2-1.4-1.7-1.4-2.9-1.1-2.8-0.6-7.4-0.3-5.6 0.4-6.4 0.9-3.6 0.9-2.8 1-2.7 1.5-2.4 2.1-1.2 2.2zM80.4-38.1l4.9-1.5 4.3-1.7 8.3-4.1 5.4-3.7 2-2.2 0.5-1 0.6-2.8-0.2-2.6-0.9-3.3-2.6-5.2-2.4-3.6-2.9-3.2-2.3-1.9-2.4-1.1-2.7-0.2-2.9 0.7-3.4 1.7-2.4 1.5-3.7 2.8-4.1 3.7-4.5 4.7-3.9 5.4-1.4 3.1-0.7 3 0.2 3.3 1 2.8 1.7 2.2 2.9 2 4.3 1.5 1.9 0.3 2.1 0z"/><path fill="#00ff53" d="M80.2 2.5l40.4 1.3 0.1-1.4-0.4-2.9-1.4-2.8-1.3-1.4-2-1.3-3.3-1.1-1.9-0.3-7.4-0.3-8.3 0.8-2.8 0.5-2.7 0.7-3.4 1.3-2.9 1.8-1.4 1.3-1.2 1.9zM83.9-39.7l8-3.2 7.3-4 3.7-3 1.8-2.6 0.4-1.3 0.3-1.5 0-1.9-0.7-3.4-1.1-2.7-1.4-2.6-1.5-2.4-2.8-3.3-2.2-1.9-2.8-1.5-2-0.3-2.2 0.2-1.9 0.6-3.5 1.7-4.6 3.1-4.9 4.3-2.6 2.6-3 3.6-2.6 4.1-1.1 3-0.4 2.8 0.5 3.5 1.7 3.1 2.2 1.9 2 1.1 1.5 0.5 4.6 0.9 2-0.1z"/><path fill="#00ff2d" d="M81.2 2.6l38.7 1.2 0.1-1.5-0.1-1.4-1-2.8-1.8-2.2-1.9-1.3-2.9-1.1-2.5-0.5-6.8-0.3-8.3 0.8-4.6 1-2.8 1-2.6 1.4-2.1 1.8-1.3 1.9zM81.2-39.6l2.7-0.7 4.4-1.6 5-2.3 4-2.3 4.5-3.6 1.3-1.7 0.9-2.1 0.3-1.4 0-3.5-0.3-1.4-1.6-4.1-3.1-4.8-3.1-3-2.6-1.6-1.7-0.5-2.5 0-3 0.7-4.3 2.1-3.8 2.7-4.8 4.3-4.9 5.7-1 1.4-1.3 2.5-1 3.3 0 3.5 1 3 1.7 2.3 2.7 1.8 3.7 1.3 2.8 0.4z"/><path fill="#00ff06" d="M82.2 2.6l36.9 1.1 0.1-1.4-0.2-1.8-1-2.4-1.9-1.9-1.9-1.3-1.8-0.8-2.9-0.6-3.7-0.4-3.7 0-8.1 0.9-2.9 0.7-3.7 1.3-2.6 1.6-2 2.1-0.5 0.9zM84.2-41.1l3.8-1.3 3.4-1.5 4.1-2.2 2.5-1.7 3.3-3.1 1.2-2.1 0.6-1.9 0.3-1.7-0.2-3.2-0.8-2.8-2-3.8-3.2-3.8-1.7-1.4-2.8-1.4-1.9-0.3-2.3 0.1-3.2 0.9-2.7 1.4-3.9 2.6-4.9 4.3-3.7 4.2-2.4 3.8-0.9 2.3-0.5 2.4 0.3 3.8 1.2 2.7 2.1 2.1 1.8 1.1 1.3 0.5 3.7 0.9 3.2 0.1z"/><path fill="#20ff00" d="M83.2 2.6l35.1 1.1 0.1-1.4-0.3-2.1-1.1-2.1-2.7-2.4-1.9-0.9-2.8-0.8-2.8-0.4-4.7-0.1-6.4 0.6-5.2 1.2-2.8 1.2-2 1.3-1.9 1.8-0.7 2zM82-41.2l3.1-0.8 3.5-1.3 6.6-3.4 3.9-3.1 1.7-2.2 0.9-2.2 0.5-1.8 0.1-3.2-0.5-2.4-0.7-1.8-2.2-3.7-1.9-2.1-2.4-1.8-2.1-0.9-2.9-0.4-3 0.5-3.6 1.4-3.2 2-4.3 3.5-4.4 4.8-1.9 2.9-1.4 3.3-0.4 2.1 0.2 3.5 0.7 2 1.8 2.3 2.1 1.4 3.4 1.2 2.8 0.4z"/><path fill="#46ff00" d="M84.1 2.6l33.3 1.1 0.2-1.4-0.7-2.8-0.9-1.3-1.4-1.4-2.1-1.3-3.8-1.2-6.5-0.4-7.4 0.8-2.3 0.5-4.1 1.6-2.6 1.8-1 1.1-0.8 1.9zM84.8-42.6l5.2-2 2.5-1.3 3.8-2.5 2.8-2.9 1.5-3.1 0.6-2.6-0.1-3.2-0.3-1.4-1.1-2.6-1.5-2.4-2.3-2.3-2.2-1.4-1.5-0.5-1.8-0.4-2.2 0-2 0.4-2.7 1-3.3 1.9-3.6 2.8-3.3 3.3-2.3 3-1.5 2.7-0.7 2-0.4 2.8 0.5 3.3 0.4 1 1.2 1.7 1.5 1.3 2.1 1.1 4.6 1 3.3-0.1z"/><path fill="#6cff00" d="M85.1 2.7l31.4 1 0.2-1.4-0.2-1.4-0.6-1.4-1-1.3-1.5-1.3-1.9-1.1-3.7-1.1-5.6-0.4-7.4 0.8-4.6 1.4-1.9 1-2.5 2.1-0.8 2.1zM83.1-43l1.4-0.3 5.2-1.9 4.1-2.3 2.9-2.4 1.9-2.6 0.8-2 0.7-3.5-0.3-3-0.4-1.4-2.1-3.6-2-2-2.7-1.5-3.5-0.7-2.3 0.2-3.5 1.1-3.4 2-3.6 2.9-2.6 2.7-2.7 4-0.8 2-0.7 3.2 0.2 2.4 0.7 2 1.9 2.4 1.9 1.2 2.5 0.9 3.7 0.4z"/><path fill="#93ff00" d="M86.1 2.7l29.5 0.9 0.1-1.3-0.2-1.4-0.6-1.4-2.4-2.4-3.8-1.7-2.8-0.5-3.7-0.2-5.5 0.5-4.6 1.1-1.8 0.8-1.9 1.1-1.8 1.8-0.6 1.7zM86.2-44.6l4.8-2.1 2.4-1.5 2.1-1.9 1.3-1.6 1-1.9 0.7-1.9 0.3-1.7 0.1-1.6-0.6-2.9-0.5-1.3-1.5-2.3-0.9-1-2.2-1.6-3.4-1.1-2.2-0.1-2.6 0.5-3.9 1.8-3 2.1-2.7 2.6-2.9 3.8-0.9 1.8-0.9 3.4 0.1 2.6 0.6 2.1 1.9 2.4 2 1.2 2.8 0.8 1.9 0.2 3.1-0.1z"/><path fill="#b9ff00" d="M87.1 2.7l27.5 0.9 0.2-1.4-0.4-1.7-0.6-1-1.1-1.3-1.9-1.3-3.2-1.2-2.6-0.4-3.7-0.1-5.5 0.6-4.6 1.5-3.3 2.3-0.7 1.1zM84.8-45.2l4.2-1.4 3.2-1.9 2.8-2.6 1.2-1.8 0.9-2.1 0.5-2.8-0.1-2-1.4-3.7-1.8-2.1-1.3-0.9-2.8-1.2-1.7-0.2-2.4 0.1-3.4 1.1-2.6 1.5-2.9 2.3-2.1 2.3-2 3-0.8 2-0.5 3.1 0.3 2.3 0.9 1.9 1.5 1.5 2.1 1.2 2.8 0.7 2.4 0.1z"/><path fill="#dfff00" d="M88.1 2.8l25.5 0.8 0.2-1.4-0.3-1.3-0.7-1.4-1.3-1.3-1.8-1.1-1.9-0.7-2.7-0.6-4.7-0.1-4.6 0.6-3.5 1.1-2 1.1-1.3 1.1-0.7 1.1-0.3 1zM84.1-46.1l3.6-1 1.7-0.8 2.3-1.5 2.1-2 1.4-2.2 0.7-1.7 0.4-3.5-0.7-2.8-0.7-1.2-1.8-2-2-1.2-1.5-0.5-2.8-0.2-2.8 0.5-3.4 1.7-2.9 2.3-2.5 3-1.3 2.4-0.6 1.8-0.2 1.5 0.2 2.5 0.9 2 1.5 1.5 1.6 0.9 2.2 0.6 2.5 0.1z"/><path fill="#fff900" d="M89.1 2.8l23.4 0.7 0.2-1.3-0.3-1.3-0.8-1.4-1.5-1.3-1.3-0.7-1.1-0.5-2.7-0.6-4.6-0.2-2.8 0.3-2.7 0.6-2.8 1.1-2 1.4-0.8 1.1-0.3 1zM83.7-47.2l3.5-0.9 3.2-1.8 2.1-1.9 1.7-2.7 0.7-3.5-0.6-2.8-1.4-2.2-1-0.9-2.4-1.2-1.4-0.3-3.3 0.2-3.5 1.5-2.3 1.6-2.5 2.8-1.6 3.1-0.4 1.7-0.1 1.8 0.5 1.9 1.2 1.8 0.9 0.7 2 0.9 2.3 0.3z"/><path fill="#ffd200" d="M90.2 2.8l21.2 0.7 0.2-1.5-0.3-1.1-0.9-1.4-1.6-1.2-3.7-1.3-4.7-0.3-4.2 0.6-3.2 1.2-1.6 1.1-0.9 1.1-0.4 1.1zM83.6-48.4l3-0.8 3.2-1.8 2-2.1 1-1.9 0.5-2-0.4-2.9-1.4-2.2-2.4-1.5-1.7-0.4-2.2 0.1-2.3 0.7-1.7 0.9-1.5 1.2-1.9 2-1.4 2.7-0.5 2.2 0.1 1.3 0.3 1.2 1 1.6 2.4 1.4 1.6 0.3z"/><path fill="#ffac00" d="M91.4 2.9l18.8 0.6 0.2-1.3-0.3-1.3-0.4-0.5-0.9-1-1.8-1.1-2.8-0.8-3.8-0.2-2.7 0.3-1.9 0.5-3.1 1.5-1 1.1-0.4 1.1zM84-50l2.7-0.8 1.6-1 1.4-1.2 1.1-1.7 0.7-2.5-0.2-1.6-1.4-2.2-1.5-0.9-1.4-0.4-1.9 0-3 1.2-2.2 1.7-1.4 2-0.6 1.5-0.2 1.3 0.2 1.8 0.5 1 0.8 0.8 1 0.6 1.5 0.4z"/><path fill="#ff8600" d="M92.8 2.9l16.1 0.5 0.2-1.3-0.4-1.3-1.7-1.5-2.8-1.1-2.8-0.3-2.8 0.2-1.8 0.4-2.5 1.1-1.3 1.1-0.4 1.1zM86.4-52.8l0.9-0.6 1.2-1.6 0.4-0.8 0.2-1.6-0.5-1.2-0.8-0.9-1.4-0.6-2.5 0.2-1.5 0.8-1.3 1.2-1.1 2.2 0 1.4 0.5 1.1 0.9 0.8 1.3 0.4 2.1-0.2z"/><path fill="#ff6000" d="M94.3 3l13.1 0.4 0.3-1.3-0.6-1.3-2-1.4-1.8-0.5-2.8-0.2-1.9 0.2-1.8 0.5-2.2 1.3-0.6 1.1z"/><path fill="#ff3900" d="M96.2 3l9.2 0.3 0.4-1.2-0.7-1.3-0.9-0.5-2.8-0.7-0.9 0-0.9 0.1-2.9 1-0.8 1.2z"/><path fill="#ff1300" d="M98.9 1.9l0.6 0.8 0.8 0.5 1.1 0 1.4-1.2-1.4-0.6-0.9-0.1z"/></g></g></g>
<g transform="translate(370.05 228.3) scale(0.99 1)"><g clip-path="url(#cl)"><g filter="url(#bl)"><rect x="40" y="-100" width="100" height="110" fill="#ff0013"/><path fill="#ff0039" d="M63.5 2l63.7 2 0.1-7.5-0.4-6.1-0.7-7.4-0.7-4.5-2.6-11.8-1.7-5.8-3.1-8.5-3-6.9-2-4-2.9-5.3-4.8-7.7-3.5-4.9-4.7-5.9-4-4.5-3.2-3.2-45.1 45.1 2.6 2.7 2.9 3.5 3.4 4.9 3.3 6 2.1 4.8 1.5 4.2 1.8 7.3 0.8 6zM79.2 1.8l-0.5-1.2 0.1-0.9 0.4-0.7 1.1-0.3 0.8 0.8 0 1.7-1 0.8z"/><path fill="#ff0060" d="M63.5 2l13.6 0.4-0.3-0.9-0.1-1.8 0.6-1.9 0.9-1.1 0.9-0.5 0.9-0.1 1 0.2 0.9 0.6 1.1 1.8 0.2 1.9-0.5 2 44.5 1.4 0.1-7.5-0.4-6.1-0.7-7.4-0.7-4.5-2.6-11.8-1.7-5.8-3.1-8.5-3-6.9-2-4-2.9-5.3-4.8-7.7-3.5-4.9-4.7-5.9-4-4.5-3.2-3.2-45.1 45.1 2.6 2.7 2.9 3.5 3.4 4.9 3.3 6 2.1 4.8 1.5 4.2 1.8 7.3 0.8 6z"/><path fill="#ff0086" d="M63.5 2l12.3 0.4-0.3-0.9 0-2 0.9-2.7 0.8-1.1 0.9-0.7 0.9-0.4 1-0.1 1.8 0.5 1.7 1.7 0.9 3-0.3 2.9 43.1 1.4 0.1-7.5-0.4-6.1-0.7-7.4-0.7-4.5-2.6-11.8-1.7-5.8-3.1-8.5-3-6.9-2-4-2.9-5.3-4.8-7.7-3.5-4.9-4.7-5.9-4-4.5-3.2-3.2-45.1 45.1 2.6 2.7 2.9 3.5 3.4 4.9 3.3 6 2.1 4.8 1.5 4.2 1.8 7.3 0.8 6z"/><path fill="#ff00ac" d="M63.5 2l11.2 0.3-0.2-1.7 0.1-1.8 0.8-2.4 0.8-1.2 1.8-1.5 1.9-0.5 2.3 0.6 1.5 1.3 0.9 1.5 0.7 2 0.1 1.1-0.3 3 42.1 1.3 0.1-7.5-0.4-6.1-0.7-7.4-0.7-4.5-2.6-11.8-1.7-5.8-3.1-8.5-3-6.9-2-4-2.9-5.3-4.8-7.7-3.5-4.9-4.7-5.9-4-4.5-3.2-3.2-45.1 45.1 2.6 2.7 2.9 3.5 3.4 4.9 3.3 6 2.1 4.8 1.5 4.2 1.8 7.3 0.8 6z"/><path fill="#ff00d2" d="M63.5 2l10.4 0.3-0.2-0.9 0.1-2.6 0.7-2.5 0.8-1.5 1.4-1.5 1.2-0.7 0.9-0.4 1.9-0.1 1.9 0.7 1 0.8 1 1 1 2 0.5 2 0.2 2.1-0.3 2 41.2 1.3 0.1-7.5-0.4-6.1-0.7-7.4-0.7-4.5-2.6-11.8-1.7-5.8-3.1-8.5-3-6.9-2-4-2.9-5.3-4.8-7.7-3.5-4.9-4.7-5.9-4-4.5-3.2-3.2-45.1 45.1 2.6 2.7 2.9 3.5 3.4 4.9 3.3 6 2.1 4.8 1.5 4.2 1.8 7.3 0.8 6z"/><path fill="#ff00f9" d="M63.5 2l9.6 0.3-0.1-2.6 0.4-2.6 0.7-1.8 1.1-1.8 1.1-1.1 1.5-0.9 0.9-0.3 1.9-0.1 1.9 0.5 1 0.6 2.1 2.4 1 2.3 0.3 1.7 0.1 2.1-0.2 2 40.4 1.3 0.1-7.5-0.4-6.1-0.7-7.4-0.7-4.5-2.6-11.8-1.7-5.8-3.1-8.5-3-6.9-2-4-2.9-5.3-4.8-7.7-3.5-4.9-4.7-5.9-4-4.5-3.2-3.2-45.1 45.1 2.6 2.7 2.9 3.5 3.4 4.9 3.3 6 2.1 4.8 1.5 4.2 1.8 7.3 0.8 6zM98.8-47.7l-1.7-1.4-1.2-2-0.4-1.2-0.1-1.4 0-0.5 0.5-0.9 1-0.2 1.5 0.7 1.9 2.7 0.5 2-0.2 1.7-0.7 0.7z"/><path fill="#df00ff" d="M63.5 2l8.9 0.3-0.1-2.6 0.4-2.7 0.5-1.6 1-1.9 0.9-1.1 1.7-1.4 1.8-0.7 1.9-0.2 0.9 0.1 2 0.9 1 0.7 1.5 1.7 1 2 0.7 3.1-0.1 4.2 39.7 1.2 0.1-7.5-0.4-6.1-0.7-7.4-0.7-4.5-2.6-11.8-1.7-5.8-3.1-8.5-3-6.9-2-4-2.9-5.3-4.8-7.7-3.5-4.9-4.7-5.9-4-4.5-3.2-3.2-45.1 45.1 2.6 2.7 2.9 3.5 3.4 4.9 3.3 6 2.1 4.8 1.5 4.2 1.8 7.3 0.8 6zM99.4-44.2l-1.3-0.8-1.9-1.9-0.8-1.1-1.7-3.3-0.9-3.9 0.1-1.6 0.4-1 0.6-0.7 0.9-0.3 1.3 0 1.2 0.5 2 1.5 2.1 2.8 1.6 3.8 0.3 3.3-0.4 1.5-0.6 0.9-0.8 0.5-0.9 0.1z"/><path fill="#b900ff" d="M63.5 2l8.3 0.3-0.1-2.6 0.3-2.6 0.8-2.6 0.6-1.1 1.6-2.1 1.7-1.2 1.6-0.7 2-0.2 2 0.3 2 1.1 2 2.2 1.1 2.1 0.5 1.6 0.4 3.1-0.2 3.2 39.1 1.2 0.1-7.5-0.4-6.1-0.7-7.4-0.7-4.5-2.6-11.8-1.7-5.8-3.1-8.5-3-6.9-2-4-2.9-5.3-4.8-7.7-3.5-4.9-4.7-5.9-4-4.5-3.2-3.2-45.1 45.1 2.6 2.7 2.9 3.5 3.4 4.9 3.3 6 2.1 4.8 1.5 4.2 1.8 7.3 0.8 6zM100.6-41.5l-2.7-1.5-1.4-1.3-1.6-2-1.3-2.1-1.6-3.5-0.7-2.4-0.3-2.8 0.8-3 1.5-1 1-0.2 1.3 0.2 1.5 0.6 1.9 1.4 2.8 3.3 1.9 3.6 1.2 4.1 0 2.9-0.3 1.3-0.5 1.1-1.5 1.3z"/><path fill="#9300ff" d="M63.5 2l7.7 0.2 0-3.3 0.5-3.1 0.8-2.1 1.1-1.9 0.8-1 2.2-1.6 1.8-0.7 1.8-0.2 2.6 0.5 1.5 0.8 2 1.8 1 1.5 1.2 3.6 0.3 3.1-0.1 3.2 38.5 1.2 0.1-7.5-0.4-6.1-0.7-7.4-0.7-4.5-2.6-11.8-1.7-5.8-3.1-8.5-3-6.9-2-4-2.9-5.3-4.8-7.7-3.5-4.9-4.7-5.9-4-4.5-3.2-3.2-45.1 45.1 2.6 2.7 2.9 3.5 3.4 4.9 3.3 6 2.1 4.8 1.5 4.2 1.8 7.3 0.8 6zM101.4-39.4l-2.4-1-2.8-2.4-3-4.1-2.2-4.4-1.1-3.6-0.4-3.6 0.6-2.6 1.2-1.5 0.8-0.4 0.9-0.3 2.2 0.3 1.9 0.9 2 1.4 2.9 3.2 1.5 2.4 1.6 3.3 1.2 4.8 0 2.7-0.3 1.6-0.4 1.2-1.4 1.6-1.7 0.6z"/><path fill="#6c00ff" d="M63.5 2l7.2 0.2 0.1-4.9 0.9-3.6 0.9-1.8 2.2-2.5 1.7-1.1 2.7-0.8 1.8 0 1 0.1 2 0.8 2 1.6 1.2 1.4 1 2 1 4.1 0 5.3 38 1.2 0.1-7.5-0.4-6.1-0.7-7.4-0.7-4.5-2.6-11.8-1.7-5.8-3.1-8.5-3-6.9-2-4-2.9-5.3-4.8-7.7-3.5-4.9-4.7-5.9-4-4.5-3.2-3.2-45.1 45.1 2.6 2.7 2.9 3.5 3.4 4.9 3.3 6 2.1 4.8 1.5 4.2 1.8 7.3 0.8 6zM104.1-37.6l-1.9 0.2-1.4-0.4-2.2-1.2-1.5-1.3-1.1-1-2.4-3-3-5.4-1.7-4.6-0.6-2.6-0.1-3.5 0.3-1.3 0.9-1.9 1.5-1.1 2-0.4 2.3 0.5 2.1 1.1 1.8 1.3 2 2 1.9 2.5 2.6 4.6 1.3 4 0.6 2.8 0.1 2.3-0.3 2.3-0.9 2.3-1.4 1.4z"/><path fill="#4600ff" d="M63.5 2l6.7 0.2 0-3.3 0.4-3.4 1.2-3.5 1.2-1.9 1.6-1.6 1.8-1 1.7-0.6 2.8-0.2 1.9 0.3 1.4 0.6 1.7 1.2 1.1 1.1 1.1 1.6 1 2.9 0.6 3.1 0 5.3 37.5 1.2 0.1-7.5-0.4-6.1-0.7-7.4-0.7-4.5-2.6-11.8-1.7-5.8-3.1-8.5-3-6.9-2-4-2.9-5.3-4.8-7.7-3.5-4.9-4.7-5.9-4-4.5-3.2-3.2-45.1 45.1 2.6 2.7 2.9 3.5 3.4 4.9 3.3 6 2.1 4.8 1.5 4.2 1.8 7.3 0.8 6zM102.8-35.7l-2.2-0.6-1.6-0.9-2.2-1.8-1.8-1.9-2.2-3-3.9-7.6-1.6-4.8-0.4-2.7 0-1.7 0.8-3.5 1.3-1.5 1.7-0.9 2.6 0 1.7 0.5 3.9 2.4 3 3.1 1.7 2.3 2.7 4.9 1 2.6 1.1 4 0.3 3-0.3 3.1-0.7 2.2-1.4 1.8-1.6 0.9-0.9 0.2z"/><path fill="#2000ff" d="M63.5 2l6.2 0.2 0-3.3 0.4-3.3 0.6-2.6 1.4-2.8 1.7-2 1.9-1.2 2.3-0.8 3.7-0.2 3 0.9 1.8 1.4 1.6 1.9 1 2 0.8 3.2 0.4 4.2-0.1 3.2 37 1.2 0.1-7.5-0.4-6.1-0.7-7.4-0.7-4.5-2.6-11.8-1.7-5.8-3.1-8.5-3-6.9-2-4-2.9-5.3-4.8-7.7-3.5-4.9-4.7-5.9-4-4.5-3.2-3.2-45.1 45.1 2.6 2.7 2.9 3.5 3.4 4.9 3.3 6 2.1 4.8 1.5 4.2 1.8 7.3 0.8 6zM102.3-34.1l-2.2-0.9-1.3-0.8-3-2.7-1.7-2-3.2-5.2-3.6-7.7-1.2-3.5-0.4-2.7 0-2.8 0.5-2.3 0.5-1 1.2-1.5 0.8-0.5 2.3-0.6 2.1 0.2 3 1.2 2.5 1.7 2.4 2.3 2.4 3 2.3 3.6 1.8 3.9 1 2.6 1 4.2 0.2 4.5-0.3 1.9-1.1 2.6-1.4 1.6-1.6 0.9-0.9 0.2z"/><path fill="#0006ff" d="M63.5 2l5.8 0.2 0-4.1 0.4-3.3 0.7-2.8 1.5-2.8 1.6-1.7 3-1.6 4.2-0.7 3 0.4 0.8 0.3 2.1 1.4 1.7 1.8 1 2 1.1 4.2 0.3 3.3 0 4.2 36.5 1.2 0.1-7.5-0.4-6.1-0.7-7.4-0.7-4.5-2.6-11.8-1.7-5.8-3.1-8.5-3-6.9-2-4-2.9-5.3-4.8-7.7-3.5-4.9-4.7-5.9-4-4.5-3.2-3.2-45.1 45.1 2.6 2.7 2.9 3.5 3.4 4.9 3.3 6 2.1 4.8 1.5 4.2 1.8 7.3 0.8 6zM104.9-32.3l-2-0.1-2.2-0.8-2-1.2-3.1-2.8-3-4.1-5.3-10.3-2-4.8-0.6-2.5-0.2-4.5 0.3-1.7 0.9-2 1.2-1.4 1.6-0.9 2.1-0.4 2.6 0.4 2.6 1.1 3.2 2.2 4.2 4.7 3 4.8 1.9 3.9 1.5 4 0.7 2.8 0.4 2.8-0.2 4.6-0.9 2.7-1.4 1.9-0.7 0.7-0.8 0.4z"/><path fill="#002dff" d="M63.5 2l5.3 0.2 0.1-4.9 0.6-4.2 0.5-1.7 1-2.1 1.6-2 1.6-1.1 2.7-1.1 2.7-0.5 2.8 0 3 0.8 2.1 1.6 1.5 2 0.9 2 0.8 3.3 0.5 5.3-0.1 3.3 36.1 1.1 0.1-7.5-0.4-6.1-0.7-7.4-0.7-4.5-2.6-11.8-1.7-5.8-3.1-8.5-3-6.9-2-4-2.9-5.3-4.8-7.7-3.5-4.9-4.7-5.9-4-4.5-3.2-3.2-45.1 45.1 2.6 2.7 2.9 3.5 3.4 4.9 3.3 6 2.1 4.8 1.5 4.2 1.8 7.3 0.8 6zM104.3-30.8l-2-0.3-2.2-0.9-3.7-2.9-2.1-2.4-2.3-3.6-1.7-3.2-5.2-10.7-1.4-4.1-0.4-5.2 0.5-2.4 0.9-1.8 1.3-1.4 1.5-1 2-0.5 2.9 0.2 3 1.2 2.5 1.7 4.1 4.1 2.6 3.4 2.2 3.7 1.9 3.9 1.5 4 1.1 4.2 0.4 2.9-0.1 3.4-0.3 1.9-1.1 2.7-1.4 1.7-2.6 1.1z"/><path fill="#0053ff" d="M63.5 2l4.9 0.1 0.1-5.6 0.6-4.2 0.9-2.6 1.6-2.5 2.4-1.7 2.7-1 3.7-0.6 1.9 0 2.7 0.5 1.2 0.5 2.2 1.8 1.2 1.9 0.9 2.4 0.7 3.2 0.4 4.3 0 4.4 35.6 1.1 0.1-7.5-0.4-6.1-0.7-7.4-0.7-4.5-2.6-11.8-1.7-5.8-3.1-8.5-3-6.9-2-4-2.9-5.3-4.8-7.7-3.5-4.9-4.7-5.9-4-4.5-3.2-3.2-45.1 45.1 2.6 2.7 2.9 3.5 3.4 4.9 3.3 6 2.1 4.8 1.5 4.2 1.8 7.3 0.8 6zM104.7-29.6l-3-0.3-2.1-0.9-2.3-1.8-2.8-2.9-2.5-4.1-2.2-4.2-6.7-14-0.9-3.1-0.1-3.7 0.3-1.9 0.4-1.2 1.6-2.4 1.4-1.2 1.7-0.9 0.9-0.3 2.3-0.1 3 0.7 1.9 1 3 2.3 3.1 3.1 2.6 3.4 3 4.9 2.5 5.2 1 2.7 1.5 5.6 0.4 4.4-0.3 3.2-1 3-1.4 1.7-1.7 1z"/><path fill="#0079ff" d="M63.5 2l4.4 0.1 0.1-5.6 0.5-4.1 0.7-2.6 1.5-2.8 1.2-1.1 2.9-1.5 3.6-0.9 3.7-0.3 2.4 0.2 2 0.7 1.7 1.1 1.3 1.6 1.3 3.1 0.7 3.2 0.4 3.3 0.1 6.5 35.2 1.1 0.1-7.5-0.4-6.1-0.7-7.4-0.7-4.5-2.6-11.8-1.7-5.8-3.1-8.5-3-6.9-2-4-2.9-5.3-4.8-7.7-3.5-4.9-4.7-5.9-4-4.5-3.2-3.2-45.1 45.1 2.6 2.7 2.9 3.5 3.4 4.9 3.3 6 2.1 4.8 1.5 4.2 1.8 7.3 0.8 6zM105.9-28.6l-3.8 0-2.1-0.6-3-2.1-2.4-2.5-2.7-4.5-9.9-20.2-1.1-3.7-0.1-2.1 0.3-2.5 0.8-2 1-1.6 1.3-1.4 2.4-1.5 1.9-0.6 1.1-0.1 2.6 0.3 2.4 1 3.6 2.6 3.1 3.1 2.7 3.4 3.1 4.9 2.7 5.1 1.6 4.1 1.6 5.5 0.7 5.8-0.2 2.5-0.9 3.4-0.7 1-2.4 1.7z"/><path fill="#009fff" d="M63.5 2l3.9 0.1 0.1-5.6 0.4-4 1.2-4.4 1.2-1.9 1.6-1.2 3.7-1.5 4.5-0.9 2.8-0.1 3 0.4 2.1 0.9 1.8 1.9 0.5 1 0.8 2.1 0.9 4.3 0.4 4.3 0.1 5.5 34.7 1.1 0.1-7.5-0.4-6.1-0.7-7.4-0.7-4.5-2.6-11.8-1.7-5.8-3.1-8.5-3-6.9-2-4-2.9-5.3-4.8-7.7-3.5-4.9-4.7-5.9-4-4.5-3.2-3.2-45.1 45.1 2.6 2.7 2.9 3.5 3.4 4.9 3.3 6 2.1 4.8 1.5 4.2 1.8 7.3 0.8 6zM102.4-27.4l-3.2-0.7-1-0.6-2.6-2.3-1.5-1.8-13.8-27.6-0.7-2.3 0-3.1 0.5-2 0.9-2 1.1-1.6 2-1.9 1.5-1 1.9-0.7 1.5-0.4 2.1 0.1 3.1 1.1 2.5 1.7 3.3 3 3.7 4.4 3.9 6.1 3.3 6.5 2 5.5 1.4 5.6 0.3 2.9 0 3.2-0.3 2.2-0.5 1.6-1.5 1.7-1.6 1-2.7 0.9-3.7 0.5z"/><path fill="#00c6ff" d="M63.5 2l3.4 0.1 0.1-6.3 0.5-4.9 1-3.5 1-1.6 2.4-1.7 3.6-1.2 4.5-0.9 3.7-0.2 3 0.4 1.4 0.5 1.3 0.9 1.3 2 1 3.1 0.9 5.4 0.3 8.8 34.3 1.1 0.1-7.5-0.4-6.1-0.7-7.4-0.7-4.5-2.6-11.8-1.7-5.8-3.1-8.5-3-6.9-2-4-2.9-5.3-4.8-7.7-3.5-4.9-4.7-5.9-4-4.5-3.2-3.2-45.1 45.1 2.6 2.7 2.9 3.5 3.4 4.9 3.3 6 2.1 4.8 1.5 4.2 1.8 7.3 0.8 6zM102.7-26.4l-3.6-0.4-1.5-0.6-1.4-1.1-2.4-3-6.9-14.8-7.8-14.5-0.8-2.4-0.1-1.4 0.3-2.5 0.7-2 1.5-2.5 1.9-2 1.5-1.2 3.4-1.7 3.2-0.3 3.1 1.1 3.7 2.6 4.1 4.2 2.7 3.5 3.2 4.8 4 7.8 2.5 6.9 1.3 5.7 0.4 2.9-0.2 5-0.5 1.7-0.7 1-1.6 1.2-2.6 1-4.6 0.9z"/><path fill="#00ecff" d="M63.5 2l2.8 0.1 0.1-7.9 0.4-4 0.6-2.6 0.8-1.8 1-1.1 2.6-1.3 2.6-0.9 5.5-1.1 4.6-0.4 3.9 0.6 1.1 0.5 1.2 1.3 1.4 4.2 0.6 3.2 0.5 5.5 0.1 6.6 33.9 1.1 0.1-7.5-0.4-6.1-0.7-7.4-0.7-4.5-2.6-11.8-1.7-5.8-3.1-8.5-3-6.9-2-4-2.9-5.3-4.8-7.7-3.5-4.9-4.7-5.9-4-4.5-3.2-3.2-45.1 45.1 2.6 2.7 2.9 3.5 3.4 4.9 3.3 6 2.1 4.8 1.5 4.2 1.8 7.3 0.8 6zM103.9-25.4l-3.8 0-2-0.3-1.4-0.5-2.2-2-2.1-4-3.5-8.6-3.5-7.3-7.6-13.2-0.8-1.8-0.3-1.8 0.3-2.5 1.7-3.6 2.4-2.9 1.4-1.3 3-2.1 1.8-0.7 2.2-0.4 1.3 0.1 1.3 0.3 1.4 0.7 3.7 2.6 4.1 4.2 2.8 3.5 3.3 4.8 3.5 6.5 2.4 5.3 1 2.8 1.3 4.2 1.1 5.8 0.2 4.4-0.1 2.1-0.3 1-1 1.5-2.5 1.4-4.5 1.2z"/><path fill="#00ffec" d="M63.5 2l2 0.1 0-9.4 0.2-2.4 0.6-3.3 1-2.2 0.8-0.7 1.7-0.8 4.5-1.4 3.6-0.8 6.4-0.9 3.8 0 2 0.5 1.2 1.1 1.1 3.5 1.1 8.8 0.2 8.8 33.5 1.1 0.1-7.5-0.4-6.1-0.7-7.4-0.7-4.5-2.6-11.8-1.7-5.8-3.1-8.5-3-6.9-2-4-2.9-5.3-4.8-7.7-3.5-4.9-4.7-5.9-4-4.5-3.2-3.2-45.1 45.1 2.6 2.7 2.9 3.5 3.4 4.9 3.3 6 2.1 4.8 1.5 4.2 1.8 7.3 0.8 6zM106.9-24.8l-8.2 0.6-3.1-0.5-1.3-0.9-1.1-2-3.5-9.8-3.7-8.4-5.1-9.1-5.7-8.9-0.4-1.9 0.1-1.2 1.1-3 1-1.6 1.7-2.3 1.9-2 2.9-2.3 3.3-1.9 2.1-0.4 1.3 0 1.9 0.5 2.8 1.5 4.4 3.9 3.9 4.5 5 7.3 3.6 6.5 2.4 5.4 2 5.6 1.8 7.2 0.5 4.4-0.2 4.6-0.7 1.1-0.8 0.7-0.9 0.4-1.7 0.6z"/><path fill="#00ffc6" d="M94.2 3l31.9 1 0-7.5-0.6-7.4-0.5-3-1.5-5.8-2-4.1-1.5-1.2-1.8-0.3-21.3 2.6-1.8 0.4-1.6 0.9-0.6 2 1 12.3zM83.1-20.4l7.4-1.2 0.9-0.4 0.4-0.5 0.3-1.3-0.1-2.3-0.6-3.4-1.2-4.4-2.7-7.5-1.9-4.2-4.5-8-2.6-3.8-3.6-4.5-2.4-2.2-1.9-0.8-2.2 0.4-1.8 0.8-2.4 1.5-3.5 3-6.6 6.5-1.8 2.1-2.1 3.2-0.3 0.9-0.2 2.3 0.4 1.8 1.8 3.5 4 6.5 6.2 11.6 2 2.6 0.8 0.7 1 0.4 1.9-0.1 9.9-2.3z"/><path fill="#00ff9f" d="M94.6 3l29.9 0.9 0.2-5.9-0.6-7.3-0.5-2.9-1.7-5.7-0.8-1.9-1.3-2.1-2.2-1.4-1.9-0.4-3.8 0.1-7.4 0.8-5.4 1.1-1.8 0.6-1.6 1.2-0.8 1-0.7 2.7zM78-20.1l7.7-1.7 1.8-0.6 1.6-1.1 0.7-1.1 0.6-2.2-0.2-3.5-0.4-2.2-1.2-4.4-2.5-6.4-2.5-5.1-4.3-6.8-2.1-2.7-3.4-3.3-2.1-1-2.4 0-2.9 1-2.4 1.4-1.6 1.1-4.8 4.3-3.1 3.5-2.1 3.2-0.6 1.7 0 2.1 1.8 4.7 5.7 10.3 3.2 5.4 1.5 2 1.9 2 0.8 0.6 1.8 0.4 4.6-0.6z"/><path fill="#00ff79" d="M95 3l28.7 0.9 0.2-5.9-0.7-7.3-0.6-2.9-1.3-4.2-1.3-2.7-0.9-1.3-1.4-1.2-1.8-0.7-1.9-0.3-3.8 0-4.6 0.5-3.6 0.7-2.7 0.9-2.3 1.5-1.6 2.6-0.5 2.9zM73.5-19.9l9.3-2 1.8-0.6 2.5-1.3 0.8-0.8 1.1-2.6 0.3-1.6-0.1-2.3-0.6-3.4-0.9-3.3-2-5.3-3.1-6-1.8-2.9-4.2-5.4-2.6-2.3-2.2-1-2.5-0.1-2 0.5-1.8 0.8-2.4 1.5-3.6 2.9-2 2-3.5 4.4-1.1 2.8-0.1 1.2 0.6 2.6 2 4.5 5.8 10.4 2.8 4 1.8 2 2.3 1.5 2 0.2z"/><path fill="#00ff53" d="M95.5 3l27.6 0.9 0.1-7.3-1-7.3-1.8-5.6-1.6-2.6-1.2-1.3-2.4-1.1-1-0.2-1.9-0.2-3.8 0.1-5.4 0.9-2.7 0.9-2.6 1.8-1.4 2.1-0.8 3-0.3 5.7zM72-20.4l2.5-0.3 6.4-1.4 2.6-0.9 1.7-0.9 1.5-1.4 1.2-2.5 0.4-1.8 0-2.4-0.8-4.4-1-3.3-1.7-4.2-3.2-5.9-1.9-2.9-3.7-4.3-2.8-2-1.3-0.5-1.7-0.2-3.2 0.5-1.8 0.8-2.4 1.5-4.2 3.6-2.4 2.8-1.6 2.4-0.7 2-0.1 1.7 0.8 3.4 1.7 3.8 5.1 9 2.9 4.1 2.1 2.1 1.5 1 1.9 0.6z"/><path fill="#00ff2d" d="M95.9 3l26.6 0.8 0.2-4.3-0.2-4.4-1-5.7-1.6-4.7-1.3-2.2-1.1-1.3-1.7-1.1-3.3-0.8-4.7 0-5.5 1.2-2.2 1.1-1.7 1.5-1.6 2.6-0.7 3-0.3 5.2zM77.4-21.9l3.3-0.9 2.5-1.1 1.7-1.1 1.2-1.6 1-2.6 0.4-2.7-0.6-4.3-0.9-3.3-2.1-5.2-1.6-3-3.1-4.7-3-3.3-1.3-1.2-2.7-1.4-2.9-0.4-2.6 0.5-1.8 0.8-2.4 1.5-4.1 3.7-1.8 2.2-1.5 2.6-0.5 2.2 0 1.1 0.6 2.7 2.3 5.3 2.3 4.2 4.1 6.2 2 2.1 2.5 1.8 2.2 0.6 1.9 0z"/><path fill="#00ff06" d="M96.4 3l25.5 0.8 0.2-5.7-0.6-5.8-1.3-4.9-0.9-2.1-1.5-2.3-1.1-1.1-2.1-1.1-3.9-0.7-2.8 0.1-3.6 0.6-1.8 0.7-2.3 1.3-1.8 2.1-1 1.9-0.4 1.3-0.6 3.7-0.1 2.1zM74.6-22.1l3.2-0.6 3.5-1.2 1.7-0.9 1.5-1.4 1.4-2.6 0.7-2.8 0-2.7-0.5-2.8-1.8-5.3-1.9-4-1.7-2.9-3.8-4.8-2.2-1.9-2.1-1.1-2.8-0.6-2.6 0.2-2.7 1.1-2.3 1.5-1.5 1.2-3.1 3.4-1.1 1.6-1.1 3 0.2 3.3 1.3 3.8 2.2 4.4 3.8 6.2 2.2 2.7 1.6 1.4 2.5 1.5 3.1 0.5z"/><path fill="#20ff00" d="M96.9 3l24.5 0.8 0.2-5.7-0.7-5.8-1.2-4.2-1.3-2.7-0.9-1.3-1.2-1.2-1.5-0.9-2-0.7-1.9-0.3-2.8 0-3.7 0.7-2.6 1.2-1.4 1.1-1.8 2.4-0.7 1.5-0.7 2.4-0.5 6.9zM73.4-22.7l4.2-0.7 2.6-0.9 1.7-0.9 1.5-1.3 1.3-2.1 0.8-2.4 0.4-2.5-0.2-2.2-0.7-3.3-2-5.2-2.9-5.1-2.6-3.3-2.5-2.2-2.1-1.2-2.6-0.8-2.4 0-2.9 0.9-0.9 0.5-2.3 1.6-2 1.8-1.8 2.2-1 1.7-0.7 2-0.2 1.3 0.1 1.6 0.9 3.5 1.7 3.8 3.3 5.8 1.9 2.5 1.8 2 2.5 1.8 2.7 1z"/><path fill="#46ff00" d="M97.4 3.1l23.4 0.7 0.2-5.7-0.2-2.9-0.5-2.8-0.8-2.8-1.2-2.7-1.9-2.6-1.4-1.1-2-0.9-3.8-0.5-2.8 0.3-1.8 0.5-1.8 0.8-1.6 1.2-2.4 3.3-0.9 2.4-0.4 2.4-0.3 4.6zM72.8-23.5l2.8-0.2 3.6-1 1.6-0.8 1.6-1.3 1.3-2 1-2.6 0.4-2.9-0.2-2.2-0.8-3.5-1.1-2.9-3.2-5.9-2.1-2.6-3.1-2.8-2.5-1.2-2.4-0.5-2.1 0-3 1-2.4 1.5-1.4 1.2-1.8 2.1-1.5 2.6-0.4 1.4-0.2 1.3 0.2 2.8 0.5 1.9 1.6 3.9 2.8 5 2 2.7 1.9 2 2.5 1.8 2.3 0.9z"/><path fill="#6cff00" d="M97.9 3.1l22.3 0.7 0.3-4.3-0.3-4.3-0.5-2.7-1.2-3.5-1.2-2.1-2.1-2.4-3-1.4-3.9-0.4-3.6 0.8-1.7 0.9-1.7 1.4-2.3 3.7-0.7 2.3-0.6 6.6zM76.4-24.6l2.1-0.7 2-1.1 1.5-1.5 1.3-2.2 0.8-2.6 0.2-2.2-0.3-3.1-0.7-2.6-0.8-2.1-2-3.9-1.2-1.9-2.9-3.3-2.9-2-2.9-1.1-2.6-0.2-2 0.4-1.8 0.8-2.3 1.6-1.9 2-1.1 1.6-0.8 1.8-0.4 2.5 0.2 3.1 0.5 1.7 1.6 3.9 1.6 2.9 2.4 3.4 2.6 2.6 2.6 1.5 2.2 0.8 3 0.2z"/><path fill="#93ff00" d="M98.4 3.1l21.2 0.7 0.3-5.7-0.9-5.6-1.5-3.6-2.3-3.1-1.9-1.3-1-0.4-1.7-0.4-2.1-0.1-2.7 0.5-1.2 0.5-2.3 1.6-1.6 2-0.8 1.4-0.7 1.7-0.6 2.5-0.3 3.5zM75.2-25.2l2.6-0.7 1.6-0.9 1.6-1.4 1.2-1.9 0.9-2.2 0.4-2.2 0-2.4-1.1-4.5-1.3-3-2.3-3.7-0.9-1.2-2.9-2.7-1.9-1.1-3.1-1-2.4-0.1-2 0.5-1.7 0.8-1.5 1.1-1.4 1.3-1.6 2.4-0.7 2.1-0.3 2.2 0.3 2.9 0.5 1.8 2 4.6 1.3 2.1 2.1 2.8 2 1.9 3.4 1.9 3.2 0.7z"/><path fill="#b9ff00" d="M99.1 3.1l19.8 0.6 0.4-4.2-0.7-5.6-1.5-4.1-2.6-3.3-1-0.8-1.9-0.8-3-0.3-1.8 0.2-1.8 0.7-0.8 0.4-1.7 1.5-1.8 2.6-1.4 3.5-0.5 4.9zM74.8-26.1l2.7-0.7 1.6-1 1.3-1.3 1-1.5 1-2.6 0.3-2.4-0.1-2.3-0.8-3.2-0.8-2-2.1-3.8-2.1-2.6-2.7-2.1-3.2-1.4-1.6-0.3-1.7 0-2.4 0.6-2.3 1.5-1.3 1.3-1.6 2.5-0.4 1.1-0.4 2.5 0 1.6 0.5 2.7 0.6 1.7 1 2.3 1.7 2.9 2.2 2.7 1.4 1.2 1.7 1.2 2.3 1 3.2 0.5z"/><path fill="#dfff00" d="M99.7 3.1l18.5 0.6 0.4-4.2-0.7-5.6-1-2.7-2.2-3.2-2.1-1.6-1.9-0.7-1-0.1-2.8 0.2-1.7 0.7-1.7 1.3-1.7 2.1-0.8 1.4-1.2 3.6-0.4 4.7zM74.8-27.1l1.5-0.3 1.7-0.8 1.5-1.3 1.3-1.9 0.5-1.2 0.4-1.4 0.2-3.6-1-4.2-1.4-3-1.2-1.8-3-3.2-3-1.8-2-0.6-2.2-0.2-2.1 0.4-1.9 0.9-1.4 1.2-1.2 1.4-0.9 1.9-0.6 2.7 0 2.1 0.8 3.6 1 2.4 1.3 2.2 1.5 2.1 2 1.9 1.2 0.9 2.5 1.2 2.2 0.5z"/><path fill="#fff900" d="M100.3 2l0.2 1.2 16.9 0.5 0.5-4.2-0.2-2.8-0.6-2.7-1.2-2.8-2-2.5-2.1-1.5-2.9-0.6-2.7 0.6-2.6 1.9-1.4 2-1.2 2.5-0.8 3.6zM74.8-28.1l2-0.6 1.6-1.1 1.9-2.8 0.7-3 0-2.7-0.7-3.1-2-4-2-2.5-1.7-1.4-2-1.2-2.5-0.8-2.6 0-1.9 0.5-2.3 1.6-1.2 1.5-0.8 1.7-0.5 2.6 0 2.1 1.2 4.4 1.2 2.3 1.5 2.1 2.7 2.5 1.2 0.8 1.9 0.8 2.6 0.5z"/><path fill="#ffd200" d="M101.1 2l0.3 1.2 15.2 0.5 0.5-4.2-0.2-2.7-0.7-2.8-1.2-2.4-1.1-1.4-2-1.6-2.3-0.8-1.5 0-1 0.3-0.8 0.3-1.7 1.2-2 2.7-1.3 3.5-0.4 3.8zM75.1-29.2l1.3-0.5 1.5-1.2 1.3-1.8 0.5-1.2 0.4-1.5 0.1-2.5-0.7-3.3-1.3-2.9-1.2-1.7-0.8-1-2.4-2-2.1-1.1-1.1-0.3-1.3-0.2-2.4 0.2-1.6 0.7-1.4 1.1-1.2 1.6-0.6 1.3-0.5 3.7 0.7 3.7 1.1 2.4 1.4 2.2 1.7 1.8 1.6 1.2 2.5 1.2 1.4 0.3z"/><path fill="#ffac00" d="M102.1 2l0.2 1.2 13.3 0.4 0.6-3.8-0.2-3-0.8-2.7-0.7-1.4-1.4-1.8-2-1.4-1.5-0.4-1.3 0-1.8 0.6-1.8 1.4-1.6 2.4-0.9 2.4-0.4 3.7zM72.1-30l2.2-0.1 0.9-0.3 1.6-0.9 1-1.1 0.9-1.6 0.4-1.3 0.2-2.2-0.3-2.3-0.6-2-0.9-1.9-2.2-2.8-1.4-1.1-2.4-1.3-2.3-0.5-1.4 0.1-2.6 1.2-1.3 1.3-0.5 0.9-0.8 2.3-0.1 1.2 0.1 2.1 0.4 1.8 1.5 3.2 1.6 2.1 1.2 1.1 2 1.3z"/><path fill="#ff8600" d="M103.1 2l0.3 1.3 11.1 0.3 0.7-2.7-0.2-4.1-1-2.7-0.8-1.3-1-1-1.9-1.1-1.9-0.2-1.8 0.7-1.1 0.9-1.5 2.1-1 2.9-0.2 2.5zM72.3-31.1l2.4-0.4 0.8-0.4 1.5-1.3 0.6-1 0.5-1.7 0.2-1.1-0.1-2.3-1-3-1.1-1.8-1.5-1.8-2.6-1.7-1-0.4-1.3-0.2-2.1 0.2-0.9 0.3-1.5 1.1-1.1 1.7-0.6 2.3 0.3 3.6 1.4 3.2 1.7 2.1 2.6 1.9z"/><path fill="#ff6000" d="M104.7 3.3l8.6 0.3 0.7-2.7 0.1-1.4-0.3-2.7-1.2-2.6-1.2-1.3-2-0.8-0.9 0-1.8 0.8-1.5 1.7-1.1 2.7-0.2 2.3 0.1 1.2zM72.7-32.3l2.3-0.8 0.8-0.6 0.6-0.9 0.5-1.1 0.3-1.5-0.2-2.7-0.7-1.9-1-1.8-1.4-1.5-1.9-1.3-1.4-0.5-2.2 0-0.9 0.3-1.5 1.1-1.1 1.7-0.4 2.2 0.4 3 1.2 2.4 1.8 2.1 2.2 1.3 1.2 0.4z"/><path fill="#ff3900" d="M105.8 2.1l0.7 1.2 0.4 0.1 4.6 0.1 1-2.1 0.3-1.9-0.1-1.3-1.2-2.8-1.4-1.1-1.5-0.2-0.9 0.3-1.4 1.4-0.9 2.5-0.1 1.3zM71.4-33.8l2.2-0.2 1.5-1.2 0.9-2.4-0.2-2.4-0.9-2.2-2.1-2.3-2.2-1-1.3-0.1-1 0.2-1.7 1.3-0.7 1.6-0.2 1.7 0.5 2.4 0.9 1.7 1.2 1.4 0.9 0.7z"/><path fill="#ff1300" d="M107.9 0.8l0.9 0.7 0.9-0.2 0.4-0.4 0.4-1.4-0.3-1.3-0.5-0.6-0.9-0.2-0.9 0.7-0.3 1.5zM70.8-35.6l1.1 0.1 0.9-0.2 0.8-0.5 0.6-0.9 0.3-1.4-0.4-2.1-1.1-1.7-1.2-1-1.4-0.5-0.7 0-1.2 0.5-0.7 0.6-0.5 1.6 0 1.1 1 2.6 1 1z"/></g></g></g>
<g transform="translate(459.95 228.3) scale(0.99 1)"><g clip-path="url(#cl)"><g filter="url(#bl)"><rect x="40" y="-100" width="100" height="110" fill="#ff0013"/><path fill="#ff0039" d="M63.5 2l63.7 2 0.1-7.5-0.4-6.1-0.7-7.4-0.7-4.5-2.6-11.8-1.7-5.8-3.1-8.5-3-6.9-2-4-2.9-5.3-4.8-7.7-3.5-4.9-4.7-5.9-4-4.5-3.2-3.2-45.1 45.1 2.6 2.7 2.9 3.5 3.4 4.9 3.3 6 2.1 4.8 1.5 4.2 1.8 7.3 0.8 6zM84.9-60.4l-0.7 0.4-2.6 0.3-1.1-0.6-0.4-1.2 0.5-1.6 1.2-1.5 1.6-1.1 2-0.3 1.5 0.8 0.3 1.7-0.9 1.9z"/><path fill="#ff0060" d="M63.5 2l63.7 2 0.1-7.5-0.4-6.1-0.7-7.4-0.7-4.5-2.6-11.8-1.7-5.8-3.1-8.5-3-6.9-2-4-2.9-5.3-4.8-7.7-3.5-4.9-4.7-5.9-4-4.5-3.2-3.2-45.1 45.1 2.6 2.7 2.9 3.5 3.4 4.9 3.3 6 2.1 4.8 1.5 4.2 1.8 7.3 0.8 6zM85.6-59.4l-1.7 0.8-1 0.2-1 0.2-1.3-0.2-1.5-0.9-0.5-1.1 0-0.7 0.2-1.2 1.6-2.5 2.2-1.7 3.1-1 1.6 0.4 1 0.9 0.5 1.2 0 0.6-0.1 1.1-0.5 1.2-1.2 1.5z"/><path fill="#ff0086" d="M63.5 2l63.7 2 0.1-7.5-0.4-6.1-0.7-7.4-0.7-4.5-2.6-11.8-1.7-5.8-3.1-8.5-3-6.9-2-4-2.9-5.3-4.8-7.7-3.5-4.9-4.7-5.9-4-4.5-3.2-3.2-45.1 45.1 2.6 2.7 2.9 3.5 3.4 4.9 3.3 6 2.1 4.8 1.5 4.2 1.8 7.3 0.8 6zM82.6-57.3l-2.4 0.1-1.3-0.5-0.9-0.8-0.6-1 0-1.6 0.7-1.9 1.2-1.7 1.3-1.3 2.3-1.6 1.8-0.8 1-0.1 1.3 0 1.5 0.5 0.9 0.9 0.6 1.3 0.1 1.6-0.7 2.2-2.5 2.8-2.5 1.4z"/><path fill="#ff00ac" d="M63.5 2l63.7 2 0.1-7.5-0.4-6.1-0.7-7.4-0.7-4.5-2.6-11.8-1.7-5.8-3.1-8.5-3-6.9-2-4-2.9-5.3-4.8-7.7-3.5-4.9-4.7-5.9-4-4.5-3.2-3.2-45.1 45.1 2.6 2.7 2.9 3.5 3.4 4.9 3.3 6 2.1 4.8 1.5 4.2 1.8 7.3 0.8 6zM95.4-16.3l-1.9-0.1-1.7-0.5 0.5-1 0.8-0.5 1.8-0.6 2.8-0.3 1 0.5 0.6 0.6-1.2 1zM84-56.8l-3.2 0.6-1.7-0.2-1.2-0.6-0.9-0.7-0.7-1.8 0.4-2.5 1-1.7 1.8-2.2 3-2.3 2.6-1.1 1-0.2 2 0.1 1.3 0.7 1 0.9 0.6 1.2 0.2 1.5-0.2 1.8-1 2.1-1.3 1.5-2.1 1.7z"/><path fill="#ff00d2" d="M63.5 2l63.7 2 0.1-7.5-0.4-6.1-0.7-7.4-0.7-4.5-2.6-11.8-1.7-5.8-3.1-8.5-3-6.9-2-4-2.9-5.3-4.8-7.7-3.5-4.9-4.7-5.9-4-4.5-3.2-3.2-45.1 45.1 2.6 2.7 2.9 3.5 3.4 4.9 3.3 6 2.1 4.8 1.5 4.2 1.8 7.3 0.8 6zM95.6-15.2l-2.8 0.1-1.9-0.2-0.8-0.2-1.2-0.8 0.2-1.2 2-1.5 5.4-1.5 2.8-0.1 2.5 0.7 0.8 1.1-0.9 1.4-1.6 0.9-1.8 0.7zM86.2-56.9l-1.7 0.8-2.9 0.7-2 0-1.5-0.3-2-1.4-0.8-2.2 0.5-2.3 0.9-1.8 2.5-2.9 2.1-1.8 1.6-1 1.6-0.8 2.8-0.5 2 0.4 1 0.6 1 1 0.6 1.2 0.3 2.7-0.8 2.5-1.6 2.3-1.3 1.3z"/><path fill="#ff00f9" d="M63.5 2l63.7 2 0.1-7.5-0.4-6.1-0.7-7.4-0.7-4.5-2.6-11.8-1.7-5.8-3.1-8.5-3-6.9-2-4-2.9-5.3-4.8-7.7-3.5-4.9-4.7-5.9-4-4.5-3.2-3.2-45.1 45.1 2.6 2.7 2.9 3.5 3.4 4.9 3.3 6 2.1 4.8 1.5 4.2 1.8 7.3 0.8 6zM91-14.3l-1.9-0.3-1.3-0.5-0.8-0.7-0.1-0.7 0.1-0.5 1.2-1.4 3.6-1.8 5.1-1.2 3.2-0.1 2.1 0.2 1.8 0.7 0.9 1.3-0.5 1.4-1.6 1.2-1.7 0.9-4.5 1.2-2.7 0.3zM83.9-55.3l-2.9 0.7-1.1 0-2.7-0.5-1.1-0.6-1.3-1.7-0.3-1.2 0.1-1.6 0.8-2.1 3.4-4.4 3.7-2.8 3.4-1.5 2.4-0.2 1.6 0.4 2.2 1.8 0.6 1.2 0.4 1.4 0 1.6-0.4 2-1.8 3-2.1 1.9-1.5 1.1z"/><path fill="#df00ff" d="M63.5 2l63.7 2 0.1-7.5-0.4-6.1-0.7-7.4-0.7-4.5-2.6-11.8-1.7-5.8-3.1-8.5-3-6.9-2-4-2.9-5.3-4.8-7.7-3.5-4.9-4.7-5.9-4-4.5-3.2-3.2-45.1 45.1 2.6 2.7 2.9 3.5 3.4 4.9 3.3 6 2.1 4.8 1.5 4.2 1.8 7.3 0.8 6zM92.1-13.5l-4.2-0.5-1.9-0.7-0.8-1 0-1 1-1.2 3.7-2.3 5.4-1.6 3.6-0.5 2.9 0 2.9 0.5 1.7 1 0.6 1.1-0.6 1.6-1.5 1.4-1.9 1-2.3 0.9-4 0.9zM86.8-55.9l-2.5 1.2-2.9 0.7-2.1 0.1-1.6-0.2-2.4-1-0.8-0.8-0.8-2.1 0-1.5 0.6-1.9 1.7-2.9 3.9-4 3.1-2.1 1.7-0.8 2.3-0.7 2.1 0 1.6 0.5 1.2 0.8 1.6 2.2 0.4 1.4 0.1 1.9-0.2 1.5-0.9 2.2-1.6 2.1-1.7 1.6z"/><path fill="#b900ff" d="M63.5 2l63.7 2 0.1-7.5-0.4-6.1-0.7-7.4-0.7-4.5-2.6-11.8-1.7-5.8-3.1-8.5-3-6.9-2-4-2.9-5.3-4.8-7.7-3.5-4.9-4.7-5.9-4-4.5-3.2-3.2-45.1 45.1 2.6 2.7 2.9 3.5 3.4 4.9 3.3 6 2.1 4.8 1.5 4.2 1.8 7.3 0.8 6zM89.4-13.1l-3.4-0.6-1.6-0.8-0.7-0.9 0-1 1.1-1.5 1.6-1.2 4.4-2.1 3.4-1 3.9-0.7 5.4-0.1 3.2 0.8 1.6 1 0.6 1.2-0.4 1.4-1.1 1.3-2.5 1.6-1.8 0.8-6.3 1.6-2.8 0.3zM84.6-54.3l-0.9 0.4-4 0.7-1.2 0-2.9-0.7-1.8-1.4-0.6-1-0.3-1.1 0-1.4 0.4-1.8 1.4-2.7 1-1.3 3.2-3.4 1.5-1.2 3.1-2 1.7-0.8 2.7-0.7 2 0.1 1.2 0.4 1.5 1 1 1.1 0.6 1.2 0.6 1.6 0.1 1.3-0.5 3.1-1.5 2.7-1.3 1.5-2.9 2.3z"/><path fill="#9300ff" d="M63.5 2l63.7 2 0.1-7.5-0.4-6.1-0.7-7.4-0.7-4.5-2.6-11.8-1.7-5.8-3.1-8.5-3-6.9-2-4-2.9-5.3-4.8-7.7-3.5-4.9-4.7-5.9-4-4.5-3.2-3.2-45.1 45.1 2.6 2.7 2.9 3.5 3.4 4.9 3.3 6 2.1 4.8 1.5 4.2 1.8 7.3 0.8 6zM92.3-12.4l-3.8-0.1-1.9-0.3-2-0.5-1.6-0.9-0.7-0.9 0-1 0.6-1.2 3.3-2.5 2.6-1.2 4.4-1.5 3.6-0.8 3.7-0.4 1.9-0.1 3.9 0.4 2 0.6 1.9 1.2 0.5 1.3-0.2 1.4-1.2 1.5-2.5 1.7-5.2 2-3.8 0.8zM83-53.2l-2.9 0.6-2.5 0-1.6-0.3-2.2-1.1-1.3-1.7-0.4-1.7 0.3-2.5 0.4-1 1.5-2.6 2.4-2.9 4.1-3.7 2.4-1.5 3-1.4 1.6-0.3 2.4 0 2 0.7 2 2 1.3 2.8 0.2 2.9-0.8 2.7-0.9 1.7-1.4 1.6-2.9 2.4-4 2.2z"/><path fill="#6c00ff" d="M63.5 2l63.7 2 0.1-7.5-0.4-6.1-0.7-7.4-0.7-4.5-2.6-11.8-1.7-5.8-3.1-8.5-3-6.9-2-4-2.9-5.3-4.8-7.7-3.5-4.9-4.7-5.9-4-4.5-3.2-3.2-45.1 45.1 2.6 2.7 2.9 3.5 3.4 4.9 3.3 6 2.1 4.8 1.5 4.2 1.8 7.3 0.8 6zM88.6-12l-2.9-0.3-2.9-0.9-1.2-0.8-0.6-0.9 0-1 0.5-1.1 2.1-1.9 3.3-1.9 3.5-1.4 7.2-1.8 3.7-0.4 3.8 0 2.9 0.4 2.7 0.9 1.3 1.1 0.6 1.3-0.3 1.4-1 1.6-1.8 1.4-4.3 2.1-2.8 0.9-6.4 1.2-2.7 0.2zM85.9-53.9l-3.5 1.4-1.9 0.4-2.1 0.2-3.2-0.4-2.1-1.2-1.3-1.7-0.4-1-0.1-1.3 0.3-1.9 0.8-2 2.4-3.5 2.9-3.1 2.8-2.4 2.3-1.6 3.5-1.6 2-0.5 3.2 0.3 2.4 1.6 1 1.1 0.7 1.2 0.9 2.8-0.3 3.6-1.4 2.9-2.6 2.8-4.6 3.1z"/><path fill="#4600ff" d="M63.5 2l63.7 2 0.1-7.5-0.4-6.1-0.7-7.4-0.7-4.5-2.6-11.8-1.7-5.8-3.1-8.5-3-6.9-2-4-2.9-5.3-4.8-7.7-3.5-4.9-4.7-5.9-4-4.5-3.2-3.2-45.1 45.1 2.6 2.7 2.9 3.5 3.4 4.9 3.3 6 2.1 4.8 1.5 4.2 1.8 7.3 0.8 6zM93.3-11.4l-4.6 0-2.9-0.3-2.9-0.7-1.5-0.6-1.1-0.8-0.6-0.8 0-1 0.5-1.1 1.6-1.7 3.3-2.1 3.4-1.5 5.3-1.7 4.6-0.9 4.6-0.5 4.2 0.1 3.3 0.6 1.4 0.6 1.8 1.5 0.5 1.3-0.1 1.4-0.9 1.6-1.9 1.7-1.7 1-3.5 1.5-4.5 1.3-4.6 0.8zM83.5-52.4l-3.6 1-2.2 0.1-1.9-0.1-2.5-0.9-1.7-1.4-0.9-2-0.1-2.1 0.6-2.2 1.9-3.4 2.4-2.9 2.6-2.6 3.7-2.9 3.2-1.9 1.9-0.7 2-0.4 1.6 0 1.1 0.3 1.9 0.9 1.9 2 1.3 2.2 0.6 2.5 0 1.7-0.6 2.5-0.4 1-1.8 2.4-2.1 1.9-5.4 3.5z"/><path fill="#2000ff" d="M63.5 2l63.7 2 0.1-7.5-0.4-6.1-0.7-7.4-0.7-4.5-2.6-11.8-1.7-5.8-3.1-8.5-3-6.9-2-4-2.9-5.3-4.8-7.7-3.5-4.9-4.7-5.9-4-4.5-3.2-3.2-45.1 45.1 2.6 2.7 2.9 3.5 3.4 4.9 3.3 6 2.1 4.8 1.5 4.2 1.8 7.3 0.8 6zM88.7-10.9l-4.7-0.5-2.3-0.6-2.7-1.6-0.5-0.8-0.1-1 0.4-1 1.2-1.4 1.6-1.3 2.5-1.5 2.6-1.2 5.2-1.9 2.7-0.7 7.4-1.2 2.8-0.2 4.8 0.2 2 0.5 2.6 1.3 1 1.2 0.5 1.4-0.1 1.4-0.8 1.7-1.6 1.6-2.4 1.5-2 0.9-4.5 1.5-5.4 1.1-5.5 0.6zM82-51.5l-2.9 0.7-2.4 0.1-3.1-0.5-1.9-1.2-1.3-1.7-0.6-2.2 0.1-1.5 0.9-2.6 2.6-4.1 1.2-1.4 2.9-3 4-3.2 4.1-2.4 2.8-0.9 2.4-0.1 2 0.7 2.2 1.6 1 1.2 0.8 1.2 1.1 2.7 0.2 1.6-0.1 1.7-0.8 2.8-1.1 1.7-1.3 1.4-4.4 3.5-4.9 2.6z"/><path fill="#0006ff" d="M63.5 2l63.7 2 0.1-7.5-0.4-6.1-0.7-7.4-0.7-4.5-2.6-11.8-1.7-5.8-3.1-8.5-3-6.9-2-4-2.9-5.3-4.8-7.7-3.5-4.9-4.7-5.9-4-4.5-3.2-3.2-45.1 45.1 2.6 2.7 2.9 3.5 3.4 4.9 3.3 6 2.1 4.8 1.5 4.2 1.8 7.3 0.8 6zM96.2-10.7l-3.7 0.3-4.7 0-5.3-0.7-3.8-1.4-0.9-0.8-0.5-0.9-0.1-0.9 0.3-1.1 2.3-2.4 4.2-2.5 5.2-2.2 5.3-1.5 4.6-0.9 5.5-0.7 3.8-0.1 3.4 0.4 2.4 0.9 1.5 1.1 1.3 2.6 0 1.4-0.5 1.5-1.2 1.6-1.1 1-4.4 2.3-3.6 1.2-5.4 1.2zM86.5-52.9l-3.4 1.5-2.7 0.9-3.1 0.4-3.1-0.2-1.9-0.6-2.1-1.7-1-1.9-0.2-1.2 0.1-1.4 0.4-1.8 1.4-2.8 1.1-1.6 3.6-4.3 4.1-3.7 3.8-2.7 2.6-1.3 2.9-0.8 2.5 0 1.9 0.8 1.2 0.8 2.7 3.3 0.7 1.3 0.8 2.9 0.1 1.6-0.3 1.9-1 2.2-0.6 0.8-2.7 2.7-2.9 2.2z"/><path fill="#002dff" d="M63.5 2l63.7 2 0.1-7.5-0.4-6.1-0.7-7.4-0.7-4.5-2.6-11.8-1.7-5.8-3.1-8.5-3-6.9-2-4-2.9-5.3-4.8-7.7-3.5-4.9-4.7-5.9-4-4.5-3.2-3.2-45.1 45.1 2.6 2.7 2.9 3.5 3.4 4.9 3.3 6 2.1 4.8 1.5 4.2 1.8 7.3 0.8 6zM89.8-9.9l-6-0.4-3-0.6-3.4-1.4-0.9-0.8-0.5-0.9-0.1-0.9 0.3-1 1.9-2.2 2.2-1.6 3.7-2 5.9-2.3 4.5-1.2 8.2-1.5 4.7-0.5 3.3 0 3.1 0.7 2.6 1.5 1.4 1.9 0.4 2.8-0.5 2-0.7 1.1-1.7 1.7-2.6 1.5-3.6 1.4-5.4 1.3-10.1 1.3zM84.2-51.4l-4.8 1.6-2.5 0.3-2 0-2.9-0.6-1.8-1.2-1.3-1.6-0.6-1.8 0.3-3.4 1.5-3.2 2.2-3.1 3.7-4.1 4.2-3.7 3.8-2.6 2.6-1.3 3-0.8 1.2 0 1.8 0.4 2.5 1.6 1.9 2.2 1.5 2.4 1.1 3.5-0.2 3.2-0.6 1.6-0.8 1.2-2.7 2.8-5.3 3.7z"/><path fill="#0053ff" d="M63.5 2l63.7 2 0.1-7.5-0.4-6.1-0.7-7.4-0.7-4.5-2.6-11.8-1.7-5.8-3.1-8.5-3-6.9-2-4-2.9-5.3-4.8-7.7-3.5-4.9-4.7-5.9-4-4.5-3.2-3.2-45.1 45.1 2.6 2.7 2.9 3.5 3.4 4.9 3.3 6 2.1 4.8 1.5 4.2 1.8 7.3 0.8 6zM86.1-9.5l-4.7-0.6-2.9-0.8-2.5-1.2-0.9-0.8-0.4-0.8 0.1-1.9 0.7-1.1 1.2-1.2 1.8-1.4 2.7-1.6 3.4-1.6 5.2-1.9 4.5-1.2 9.1-1.7 5.6-0.7 2.9 0.1 2 0.4 1.5 0.6 1.7 1.2 0.9 1.1 0.5 1.1 0.5 1.6 0.1 1.5-0.5 2.5-1.5 2.1-2.4 1.7-2 1-3.6 1.2-8.2 1.5-7.4 0.8zM82.6-50.4l-4.3 1.3-2.4 0.2-3.4-0.2-1.3-0.4-1-0.6-1.5-1.4-1-1.8-0.3-2.5 0.9-3.3 2.5-4.1 3-3.6 3.3-3.3 5-4.1 2.4-1.5 3.5-1.6 1.5-0.3 1.9 0 1.7 0.6 1.3 0.8 2.2 2 2.4 3.6 1.1 2.7 0.3 1.5 0 1.7-0.4 2-1.7 2.5-4.2 3.7-4.7 3z"/><path fill="#0079ff" d="M63.5 2l63.7 2 0.1-7.5-0.4-6.1-0.7-7.4-0.7-4.5-2.6-11.8-1.7-5.8-3.1-8.5-3-6.9-2-4-2.9-5.3-4.8-7.7-3.5-4.9-4.7-5.9-4-4.5-3.2-3.2-45.1 45.1 2.6 2.7 2.9 3.5 3.4 4.9 3.3 6 2.1 4.8 1.5 4.2 1.8 7.3 0.8 6zM91.7-9.1l-4.6 0.2-3.9-0.3-5.6-1.2-1.9-0.7-1.1-0.7-0.9-0.8-0.3-0.6-0.2-1.1 0.2-1 0.6-1 1.3-1.4 3.2-2.4 5.5-2.7 5.7-2 9.9-2.3 7.4-1.3 4.6-0.4 3 0.5 2.3 1.1 1.2 1.1 0.8 1.3 0.9 2.8 0.1 2.9-0.4 1.5-0.9 1.6-2.3 2-2.6 1.4-2.7 0.9-2.8 0.6-8.1 1.2zM88.7-52.8l-5 2.4-3.6 1.3-2.8 0.7-4.3 0.1-2.7-0.6-1.8-1.2-1.2-1.6-0.7-2-0.1-1.3 0.9-3.4 2.5-4.4 2.5-3.1 3.7-3.9 4.9-4.2 3.9-2.6 3.6-1.5 2.2-0.3 1.6 0.3 1.4 0.6 2.3 1.9 1.9 2.2 1.6 2.4 1.2 2.7 0.5 4-0.1 0.9-1.2 2.3-2.7 2.7-5.2 3.8z"/><path fill="#009fff" d="M63.5 2l63.7 2 0.1-7.5-0.4-6.1-0.7-7.4-0.7-4.5-2.6-11.8-1.7-5.8-3.1-8.5-3-6.9-2-4-2.9-5.3-4.8-7.7-3.5-4.9-4.7-5.9-4-4.5-3.2-3.2-45.1 45.1 2.6 2.7 2.9 3.5 3.4 4.9 3.3 6 2.1 4.8 1.5 4.2 1.8 7.3 0.8 6zM86.2-8.4l-4.7-0.4-4.8-1-2.7-1.1-1.1-0.7-0.7-0.8-0.5-1.6 0.7-2 2.3-2.4 2.8-1.9 6-2.8 5.2-1.8 11.7-2.8 8.2-1.6 3.8-0.3 3 0.5 2.1 1.1 1.6 1.7 1.5 4.2 0.1 2.9-0.2 1.6-0.7 1.7-0.8 1-2.6 2-4.5 1.7-4.5 0.8-12.9 1.5zM85.6-50.9l-4.3 1.8-4.7 1.3-4.5 0.2-1.5-0.3-2.2-0.9-2-2.2-0.7-2 0-2.7 1.3-3.5 2-3.2 4.2-5.1 4.6-4.5 4.4-3.5 3.2-2 3.5-1.5 2.4-0.1 1.6 0.4 1.4 0.8 1.4 1.1 2.7 3 2.1 3.4 1.2 3.2 0.4 2.5-0.2 1.5-1 1.9-3.4 3.3-6.2 4.2z"/><path fill="#00c6ff" d="M63.5 2l63.7 2 0.1-7.5-0.4-6.1-0.7-7.4-0.7-4.5-2.6-11.8-1.7-5.8-3.1-8.5-3-6.9-2-4-2.9-5.3-4.8-7.7-3.5-4.9-4.7-5.9-4-4.5-3.2-3.2-45.1 45.1 2.6 2.7 2.9 3.5 3.4 4.9 3.3 6 2.1 4.8 1.5 4.2 1.8 7.3 0.8 6zM82.5-8l-4.7-0.7-4.2-1.2-2.4-1.4-1-1.6 0-1.7 0.4-1 1.1-1.4 2.3-2 4.2-2.4 5.1-2.2 5.3-1.7 6.3-1.6 15.4-3.3 3.8-0.2 2.1 0.4 1.8 1 2 2.5 0.6 1.4 0.7 2.8 0.3 2.9-0.2 1.8-0.6 2-0.8 1.3-1.7 1.5-1.8 1-5.4 1.4-20.2 2.2-4.7 0.3zM83.2-49.5l-5.3 2-2 0.4-4.9 0.2-2.7-0.6-1.7-1.2-1.6-2.5-0.4-2.2 0.4-3 1-2.5 2.6-4 3.6-4.3 5.3-5.2 5-4.1 3.2-2 2.7-1.2 1.7-0.3 1.8 0.1 1.9 0.8 2.2 1.7 2 2.1 1.7 2.4 2.2 3.8 0.5 1.4 0.6 3.1-0.1 1.2-0.4 1.1-1.2 1.6-4.3 3.7-7.1 4.4z"/><path fill="#00ecff" d="M63.5 2l63.7 2 0.1-7.5-0.4-6.1-0.7-7.4-0.7-4.5-2.6-11.8-1.7-5.8-3.1-8.5-3-6.9-2-4-2.9-5.3-4.8-7.7-3.5-4.9-4.7-5.9-4-4.5-3.2-3.2-45.1 45.1 2.6 2.7 2.9 3.5 3.4 4.9 3.3 6 2.1 4.8 1.5 4.2 1.8 7.3 0.8 6zM84.4-7.3l-5.6-0.3-3.7-0.7-2-0.5-1.9-0.8-1.9-1.4-0.8-1.6-0.1-1.6 0.2-0.9 0.5-1 1.4-1.7 3.2-2.2 3.5-1.7 6.9-2.7 8-2.2 18.9-4.4 2.8-0.4 2 0 1 0.3 1.2 0.6 1.1 1 1.1 1.5 1.2 2.7 0.8 2.9 0.3 2.9-0.1 2-0.6 2.5-1 1.6-1.5 1.4-2.7 1.2-5.5 1zM81.6-48.4l-5.3 1.8-2.7 0.4-3.9 0.1-2.6-0.6-2.2-1.8-0.6-0.9-0.7-1.9-0.2-1.1 0.1-2.3 1-3.1 2.5-4.1 4.1-5.1 5.9-5.9 3.5-3 2.2-1.7 4.9-2.9 3.3-0.6 2 0.5 1.7 1 2 1.7 3.7 4.5 1.6 2.5 1.2 2.7 0.8 3 0.1 1.8-1 2-1.3 1.4-4.5 3.4-5.5 3.4-4.9 2.5z"/><path fill="#00ffec" d="M63.5 2l63.7 2 0.1-7.5-0.4-6.1-0.7-7.4-0.7-4.5-2.6-11.8-1.7-5.8-3.1-8.5-3-6.9-2-4-2.9-5.3-4.8-7.7-3.5-4.9-4.7-5.9-4-4.5-3.2-3.2-45.1 45.1 2.6 2.7 2.9 3.5 3.4 4.9 3.3 6 2.1 4.8 1.5 4.2 1.8 7.3 0.8 6zM77.1-6.5l-3.8-0.6-2.7-0.7-1.5-0.7-0.9-0.7-1.2-1.5-0.6-1.5-0.2-1.6 0.3-1.7 1.2-2.2 1.5-1.4 1.7-1 6-2.4 7.9-2.6 29.7-7.4 2.8-0.1 1.1 0.5 2.4 2.4 1.3 2.8 0.8 2.8 0.7 4.4 0 1.5-0.1 2-0.7 2.6-1 1.5-1.5 1.3-2.7 0.9-4.6 0.5-13.8 1-17.5 1.9zM87.8-50.8l-10.3 4.4-5.8 1.2-3.6 0.2-2.6-0.6-2.2-1.9-1.3-2.6-0.2-1 0.1-2.7 0.5-2.2 0.8-1.8 2.5-4.1 8-9.1 5.4-5 5.9-4.6 3.1-1.5 1.5-0.4 1.2 0 1.7 0.4 2.7 1.5 3.2 3.1 2.7 3.6 3 5.1 1.3 4.2-0.1 1.6-1.1 1.8-3.7 2.9-7 4.5z"/><path fill="#00ffc6" d="M70.6 2.2l55.3 1.8 0.1-3-0.3-3-0.7-3-1.6-2.4-1-0.8-1-0.4-2.8-0.3-3.7 0-12.9 0.6-12.9 1.4-6.4 1-5.5 1.3-2.7 1.2-2.7 2-1.2 1.9zM92.2-27.3l9.6-2.4 8-2.3 6.1-2.2 1.6-0.9 0.8-0.8 0.7-2.5-0.2-3-0.7-2.9-1.5-4.3-1.8-4.1-2.9-5.2-0.9-1.2-2.3-2.2-1.5-0.2-0.9 0.3-12.6 7.7-4.9 2.6-7.6 3.5-6.2 2.3-7.7 1.6-1.8 0.6-1.5 1.1-1.9 2.2-1.9 2.8-0.8 1.6-0.4 1-0.3 2 0.6 3.3 0.9 2.1 2.3 3.3 1.5 1.2 2.5 0.9 1.1 0.1 2.8-0.4 11.6-3.2z"/><path fill="#00ff9f" d="M73.9 2.3l50.2 1.6 0.1-2.9-0.4-3-1.3-2.9-0.9-1-1.9-1.4-3.8-0.8-7.4-0.1-9.2 0.5-6.5 0.7-6.4 1-4.6 1.1-4.2 1.8-2.6 1.9-1.1 1.8zM102.2-30.3l8.3-2.7 2.5-1.1 2.4-1.7 1-1.7 0.4-1.7 0-3.1-0.6-2.9-2-5.6-2.2-3.9-1.8-2.4-2.3-2-1.7-0.4-1.8 0.5-2.5 1.2-7.2 4.2-8.3 4.2-11.9 5.2-4.6 1.4-1.6 0.8-2.1 2-3 4-0.8 1.8-0.4 1.8 0.1 2.1 0.5 1.6 0.8 1.4 1.1 1.3 2.9 1.6 3.3 0.6 3.8-0.3 8.3-1.5 9.9-2.2z"/><path fill="#00ff79" d="M76 2.4l47.1 1.5 0.1-2.9-0.6-3-0.9-1.7-1.9-2-1.9-1-4.7-0.9-7.4-0.1-5.6 0.3-10.1 1.2-3.7 0.7-3.6 1.1-2.8 1.2-2.8 2-0.8 0.9-0.4 0.9-0.2 0.9zM87.3-27l9.8-2.3 10.6-3.3 4.5-2.1 1.3-1 1-1.2 0.9-1.9 0.4-3.1-0.8-4.4-2.2-5.5-1.6-2.5-2.6-2.8-1.6-0.9-1.2-0.3-1.9 0.4-1.7 0.7-10.6 5.6-20.1 9.5-2.3 1.7-2.3 2.7-1.9 3.1-0.4 1.1-0.2 2.1 0.3 1.7 0.4 0.7 2 2 2.5 0.9 3.9 0.5 4.4-0.1 5.6-0.6z"/><path fill="#00ff53" d="M77.7 2.4l42.1 1.4 2.3 0 0.2-1.4-0.3-2.9-0.5-1.4-0.9-1.5-1.7-1.6-1.9-1-2.8-0.8-6.6-0.5-6.4 0.2-6.5 0.6-4.6 0.7-5.3 1.4-2.9 1.2-2.9 1.9-1.3 1.9-0.2 0.9zM92-28.5l9.4-2.5 6.6-2.4 3.6-2.1 2.2-2.4 0.8-2.1 0.3-1.6-0.3-3-1.2-4.2-2-3.9-1.6-2.1-1.4-1.3-1.5-0.9-1.6-0.3-1 0.1-2.6 0.9-25.8 12.7-3.8 2.6-2.6 2.9-1.8 2.7-0.8 2.4 0 1.3 0.6 1.7 1.4 1.3 3.5 1.4 5.1 0.7 3.9-0.1 5.6-0.7z"/><path fill="#00ff2d" d="M79 1.5l0.3 1 40.5 1.3 1.4 0 0.2-1.4-0.4-2.9-0.6-1.4-0.5-0.8-1.9-1.7-3.4-1.5-2.3-0.5-3.7-0.4-9.3 0.2-7.3 0.9-4.6 1.1-3.4 1.3-2 1-1.4 1-0.9 1zM86.2-27.8l8.8-1.8 9.7-3.1 1.8-0.7 3.3-1.8 2.6-2.5 1.1-1.9 0.3-1 0.3-2.2-0.4-3-0.9-2.8-1.4-2.8-2.6-3.3-1.6-1.1-1.3-0.5-1.1-0.1-3.7 1-21.7 10.5-4.7 2.9-2.3 2.3-2.3 3.4-0.9 2.5 0.1 2 0.9 1.6 2.7 1.6 3.3 0.9 6 0.3z"/><path fill="#00ff06" d="M80.7 2.5l39.6 1.3 0.2-1.4-0.1-1.5-0.4-1.4-1-1.7-1.1-1.1-2.2-1.3-3.3-1.2-1.9-0.3-3.7-0.3-4.7 0-9.2 1-3.6 0.8-2.8 0.9-2.7 1.3-1.8 1.2-0.9 0.9-0.5 0.9-0.2 1zM89.1-28.7l7.6-1.8 8.7-3.1 3.3-1.9 3-2.8 1.3-2.6 0.3-1.6-0.2-3-0.9-2.8-1.3-2.6-1-1.5-1.9-1.9-2.7-1.2-2.1 0.1-1.8 0.5-4.3 1.8-13.4 6.4-4 2.2-3.2 2-2.1 1.9-1.3 1.7-1.8 3-0.4 2.4 0.4 1.8 1.3 1.5 2.2 1.1 4.1 0.9 4 0.1z"/><path fill="#20ff00" d="M81.7 1.6l0.3 1 34.1 1.1 3.2 0 0.2-1.4-0.5-2.8-1-1.4-1.8-1.5-2.3-1.1-2.4-0.8-2.8-0.5-3.8-0.2-4.6 0.1-5.5 0.6-2.8 0.5-4.3 1.3-3.9 2-1.3 1.2-0.6 0.9zM93.2-30.1l4.2-1.1 7-2.6 3.3-1.9 2.2-2 1.4-1.7 0.6-1.1 0.5-1.7 0.1-1.8-0.4-2.7-1-2.7-1.6-2.4-2.4-2-2.5-0.9-2.4 0.2-3.2 1.1-8.9 4-5.4 2.6-6.4 3.7-2.2 1.8-2.5 3.2-1.2 2.8 0 2.1 0.8 1.7 1.8 1.3 1.2 0.5 3.5 0.8 4.9 0.1 5.7-0.6z"/><path fill="#46ff00" d="M83.3 2.6l34.9 1.1 0.3-1.4-0.1-1.4-0.6-1.4-1.1-1.4-2.4-1.6-2.8-1.1-2.8-0.6-2.6-0.3-4.8 0-6.5 0.6-5.1 1.3-2.9 1.2-1.8 1-1.2 1.1-0.6 0.9-0.2 1zM88.5-29.7l6.1-1.2 7-2.4 4.2-2.1 1.6-1.1 2.2-2.1 1.3-1.9 0.9-3-0.5-3.6-1.1-2.4-1.4-2-2.7-1.9-2-0.5-2.1 0.2-2.5 0.7-7.9 3.3-5.9 2.8-6.4 3.7-2.1 1.8-2.5 3.3-1 2.3-0.1 2 0.8 1.7 1.8 1.4 3.2 1 3 0.3z"/><path fill="#6cff00" d="M84.5 2.7l32.5 1 0.4-1.4-0.2-1.4-0.6-1.4-1.3-1.3-2.8-1.7-2.7-0.9-3-0.5-4.6-0.2-3.7 0.2-4.6 0.7-5.4 1.7-2.1 1.1-1.3 1.1-0.7 1-0.2 0.9zM91.7-30.8l4.5-1.1 6.4-2.5 2.2-1.2 2.3-1.7 2.1-2.2 1.1-1.9 0.6-1.8-0.1-2.9-0.4-1.4-1.4-2.5-2.3-2.1-1.7-0.7-2.7-0.3-6.3 1.9-6.8 3-6.5 3.4-3.9 2.7-2.1 2.4-1.1 1.7-0.8 2.3 0 1.4 0.3 0.9 0.5 0.9 0.8 0.7 2.6 1.2 4 0.6 4.1-0.1z"/><path fill="#93ff00" d="M85.5 1.7l0.3 1 27.6 0.9 2.4 0 0.4-1.3-0.2-1.4-0.7-1.4-2.8-2.1-2.8-1.1-2.8-0.6-3.7-0.3-6.5 0.4-5.5 1.3-2.8 1.2-1.8 1.2-0.9 1.2zM88.4-30.8l5.9-1.1 3.5-1.1 4.3-1.9 4-2.6 2.8-3.1 1-2.5 0.2-1.2-0.1-1.5-1-2.7-0.8-1.2-2.5-1.9-1.9-0.6-2.1 0-1.9 0.3-5.3 1.8-6.8 3.1-4 2.1-3.9 2.7-1.6 1.7-2 3.4-0.3 2.3 0.8 1.8 1.9 1.3 3.3 0.9 2.7 0.2z"/><path fill="#b9ff00" d="M87.1 2.7l27.4 0.9 0.4-1.3-0.1-1.4-0.9-1.4-2.3-1.7-2.8-1.1-1.9-0.4-5.6-0.4-3.7 0.3-3.6 0.7-1.9 0.5-2.7 1.2-1.6 1-0.8 1.1-0.3 1zM91.2-31.8l3.8-0.9 3.5-1.2 5-2.6 3-2.5 1.2-1.4 1-1.9 0.4-1.6 0-1.5-0.3-1.4-0.6-1.3-0.9-1.2-1.6-1.2-3.3-1-4.1 0.6-7 2.6-5 2.4-4 2.4-2.5 2.2-1.5 1.9-1.2 2.9-0.1 1.2 0.3 0.9 0.5 0.9 0.8 0.7 1.2 0.7 3.6 0.8 4.3 0z"/><path fill="#dfff00" d="M88.4 2.8l24.8 0.8 0.5-1.4-0.3-1.4-0.9-1.3-1.8-1.3-3.8-1.3-3.7-0.4-2.8 0-3.7 0.4-2.7 0.6-3 1-1.8 1.1-0.9 1.1-0.3 1zM88.3-32l2-0.2 6.3-1.6 3.4-1.5 4-2.5 2.2-2.1 1.2-1.9 0.6-1.7 0.1-1.5-0.3-1.4-0.6-1.3-0.9-1.1-1.3-0.9-2.4-0.8-3.1 0-2.8 0.6-4.4 1.6-5.8 2.8-2.4 1.4-2.3 1.7-2.1 2.3-1 1.7-0.5 1.3-0.1 1.3 0.2 1 1.4 1.6 1.6 0.7 3.2 0.6z"/><path fill="#fff900" d="M89.8 2.8l22 0.7 0.5-1.3-0.2-1.3-1.1-1.4-2.2-1.3-2.8-0.8-4.6-0.4-3.7 0.3-3.7 0.8-2.8 1.2-1.5 1.4-0.3 1.1zM90.9-32.9l5.5-1.5 3.4-1.5 2.4-1.5 2.2-1.9 1.4-1.7 1-2.4-0.1-2.6-0.6-1.2-0.9-1.1-1.4-0.8-2.9-0.7-1.9 0-2.9 0.7-3.6 1.2-4.2 1.9-3.2 1.8-3 2.4-1.9 2.4-0.8 1.8-0.2 1.2 0.2 1.1 0.6 0.9 2.2 1.3 2 0.5 3 0.1z"/><path fill="#ffd200" d="M90.8 1.8l0.5 1.1 19 0.6 0.6-1.3-0.3-1.3-1.8-1.6-2.2-1-3.4-0.6-3.7 0-4.4 0.8-2.7 1.1-1.2 1zM88.5-33.2l5-0.9 2.7-0.9 2.5-1.1 3.2-2.1 2.2-2.1 1.2-2 0.4-1.7-0.1-1.4-0.6-1.3-1.1-1-1.5-0.8-2.1-0.4-3 0.1-7.1 2.4-3.3 1.7-3.1 2.2-0.9 0.8-1.7 2.2-0.6 1.4-0.2 1.1 0.1 1.2 0.6 0.9 0.9 0.7 1.4 0.6 2 0.4z"/><path fill="#ffac00" d="M92.4 1.8l0.6 1.1 13.9 0.5 1.7 0 0.7-1.3-0.4-1.3-1.5-1.2-2.3-0.8-2.8-0.5-4.6 0.3-2.8 0.8-2.1 1.3zM91.1-34.2l2.2-0.5 3.5-1.3 2.6-1.3 2.2-1.7 1.4-1.5 1.1-2.1 0.2-2.3-0.6-1.2-1.1-1-1.6-0.7-2.4-0.3-2.9 0.3-2.7 0.8-2.6 1.1-2.5 1.2-2.8 1.9-2.3 2.4-0.9 1.6-0.4 1.4 0.2 1.1 0.5 0.9 1 0.7 1.6 0.6 3.9 0.2z"/><path fill="#ff8600" d="M94.3 1.8l0.9 1.2 8.9 0.3 2.4 0 0.9-1.2-0.5-1.3-2.3-1.2-2.3-0.4-2.7 0-2.5 0.4-2.3 1.1zM89-34.6l3.2-0.5 2.6-0.8 2.6-1.1 3-2 1.8-2.2 0.7-1.7 0-1.4-0.6-1.2-1.1-0.9-1.8-0.7-3.4 0-4.5 1.3-2.5 1.2-3.1 2.1-1.4 1.3-1.2 1.8-0.5 1.4 0.1 1.1 0.6 1 1.1 0.7 1.7 0.5z"/><path fill="#ff6000" d="M96.9 1.9l1.7 1.2 1.8 0.1 2.8 0 1.6-1.1-0.9-1.3-2.5-0.5-2.8 0.2-0.9 0.3zM92.2-35.9l4.1-1.4 2.4-1.6 1.6-1.5 1-1.8 0.1-1.4-0.6-1.2-1.2-0.9-2-0.5-4 0.4-4.3 1.8-2.2 1.5-1.5 1.5-0.7 0.8-0.7 1.5 0.1 1.2 0.5 1 1.2 0.7 2 0.3 2 0z"/><path fill="#ff3900" d="M90.5-36.5l2-0.3 1.8-0.6 3.4-1.9 1.7-2.1 0.3-1.5-0.6-1.2-1.3-0.8-1.8-0.2-1.1 0-1.8 0.4-2.6 1-3.1 2.2-1.5 2.1-0.1 1.2 0.4 0.7 0.2 0.3 1.4 0.6z"/><path fill="#ff1300" d="M90.3-37.6l2.7-0.5 2.5-1.2 1.2-1 0.8-1.4 0.1-0.3-0.5-1.2-1.5-0.6-2 0.2-1.8 0.5-2.4 1.5-1.2 1.1-0.4 1.5 0.6 0.9z"/></g></g></g>
<g transform="translate(10.00 360.3)"><g clip-path="url(#cl)"><g filter="url(#bl)"><rect x="40" y="-100" width="100" height="110" fill="#ff0013"/><path fill="#ff0039" d="M64.5 2l60.8 1.9 0-10.4-0.8-8.8-0.7-4.4-2.7-11.6-3.1-8.3-1.8-4-3.6-6.5-2.5-3.6-3.7-4.6-3.1-3.2-4.5-3.8-3.7-2.6-3.9-2.2-4.3-1.8-3.5-0.8-2.5-0.1-3.2 0.7-3.4 1.7-6.5 5.3-3.2 3.3-3.6 4.3-1.5 2.4-1.2 2.9-0.5 2-0.3 2.7 0 6.4 0.3 3.4 1 6.4 2.5 9.1 2.3 10.5 0.9 8.4z"/><path fill="#ff0060" d="M65.9 2.1l57.6 1.8 0.2-4.4-0.2-7.3-0.6-5.9-1.2-7.2-0.9-4.3-2.1-6.9-2.1-5.5-2.5-5.2-2.9-5.1-3.4-4.7-2.6-3-3.4-3.4-2.2-1.9-5.1-3.6-5-2.6-3.7-1.3-4.1-0.6-3.3 0.4-3.6 1.5-1.6 1-5 4.1-1.9 2-2.5 3.3-1.3 2.2-0.8 1.9-1 4.7-0.3 4.2 0 5.8 0.7 6.3 3 14.2 1 6.2 0.8 9.4z"/><path fill="#ff0086" d="M66.7 2.1l55.8 1.8 0.2-3-0.1-7.2-1.3-11.6-1.9-8.4-1.3-4.2-1.5-4.1-3.7-7.8-4.7-7.2-2.8-3.4-4.1-4.1-4.6-3.6-3.3-2.1-4.6-2.2-3-1-3.3-0.6-2.4 0-1.8 0.3-3 1.1-2.5 1.5-3.5 2.9-3.1 3.6-1.5 2.5-1.3 3.6-0.8 4.1-0.4 4.2 0 8.7 0.6 5.3 2.4 12.8 1.1 8.6z"/><path fill="#ff00ac" d="M67.3 2.1l54.4 1.7 0.2-8.6-0.4-5.8-1-7.1-1.2-5.7-1.6-5.5-1.5-4.1-2.9-6.4-2.8-4.8-3.5-4.9-4.9-5.3-4.4-3.7-2.3-1.6-4-2.3-4.3-1.7-2.8-0.7-4.2-0.2-2.5 0.4-2.9 1.2-3.1 2.1-2.2 2.1-2.1 2.8-1 1.7-0.8 2-1.5 6.6-0.5 5.8-0.1 5.1 0.8 8.9 2.4 15.3 0.6 7.1z"/><path fill="#ff00d2" d="M67.8 2.1l53.2 1.7 0.2-8.6-0.4-5.7-1-7.1-0.9-4.2-2-6.9-1.5-4-2.9-6.2-4.8-7.5-2.5-3.1-4.3-4.3-4.5-3.6-2.5-1.6-4-2-3-1-3.7-0.8-4.6 0.2-2.8 0.9-1.7 0.9-2.9 2.3-2.3 2.9-1.5 2.7-1.1 3.2-0.8 3.6-0.6 4.3-0.4 8.4 0.4 6.4 1.9 13.4 0.7 6.9z"/><path fill="#ff00f9" d="M68.3 2.1l52 1.7 0.2-8.6-0.7-8.5-0.7-4.2-0.9-4.2-1.6-5.5-2-5.3-1.8-3.9-4.4-7.3-2.6-3.4-3.8-4.2-3.2-2.8-3.9-2.8-2.2-1.3-4.1-1.8-2.8-0.8-4.9-0.4-2.1 0.3-3.6 1.4-2.3 1.6-2.5 2.8-1.5 2.6-1.2 3.1-0.8 2.8-0.8 4.7-0.5 5.9-0.1 5 0.3 5.4 2.2 18.9z"/><path fill="#df00ff" d="M68.8 2.2l50.9 1.6 0.2-4.3-0.1-5.7-0.3-4.2-0.8-5.6-1.2-5.6-1.6-5.4-1.5-4-2.4-5.1-2.1-3.7-3.9-5.6-2.1-2.5-2.9-2.9-2.1-1.9-4.8-3.3-2.8-1.5-2.7-1.1-3.3-0.8-4.4-0.2-2 0.4-2.7 1-1.6 1-2.7 2.6-2.1 3.5-1.3 3.4-1.5 7.3-0.5 6-0.1 5.8 0.4 6.2 1.6 14.8z"/><path fill="#b900ff" d="M69.3 2.2l49.7 1.5 0.2-2.8-0.1-8.4-0.4-4.3-0.9-5.5-2.6-9.5-3.3-7.8-2.3-4.1-2.9-4.3-1.7-2.2-4.9-5.1-2.7-2.2-3.1-2.1-2.7-1.4-3.5-1.4-2.6-0.6-4.1-0.1-2.5 0.5-2.6 1.2-2.2 1.6-2.4 3-1.4 2.8-0.8 2.2-1 3.8-0.6 3.7-0.6 7.2 0 7.1 1.5 16.5z"/><path fill="#9300ff" d="M69.8 2.2l48.6 1.5 0.2-8.4-0.4-5.6-0.8-5.6-2-8.1-3-7.9-1.9-3.7-3-4.8-1.6-2.3-3.6-4.2-4.2-3.9-2.4-1.7-3.8-2.2-2.8-1.1-3.9-0.9-2.3-0.1-3 0.5-2.2 0.8-2.7 1.9-1.9 2.2-1.7 2.9-1.1 2.9-1.5 6.8-0.8 9.5 0.1 6.5 1.1 13.5z"/><path fill="#6c00ff" d="M70.3 2.2l47.4 1.5 0.3-4.2-0.1-5.6-0.9-8.3-1.9-8.2-0.8-2.6-2.6-6.5-4.2-7.4-2.1-2.9-3-3.5-2.8-2.8-3.6-2.8-4.5-2.6-2.8-1-2.6-0.6-4.4 0-1.9 0.5-3.3 1.8-2.6 2.7-1.1 1.7-2.1 5.3-0.9 3.9-0.5 3.5-0.6 9.4 0.2 7z"/><path fill="#4600ff" d="M70.7 2.2l46.4 1.5 0.3-5.6-0.1-4.1-0.9-8.3-2.3-9.5-3.1-7.7-2-3.7-2.6-4.1-2-2.7-2.8-3.2-4.5-4-3.2-2.1-4.4-2-3.7-0.8-2.2 0-2.3 0.3-2.4 0.9-1.6 1-2.3 2.3-1.9 3.1-1.3 3.2-1.4 5.8-0.7 6.1-0.3 6.3 0.1 6.3z"/><path fill="#2000ff" d="M71.2 2.2l45.3 1.5 0.2-9.7-0.7-6.9-1.4-6.7-1.6-5.3-1.5-3.9-1.9-3.9-2.7-4.6-2.4-3.4-2.7-3.1-2.1-2.1-3.2-2.6-2.5-1.6-3.6-1.7-3.8-1-2.4-0.1-2.9 0.5-1.7 0.7-2.3 1.5-1.9 2.1-0.9 1.3-1.6 3.4-0.9 2.8-1.1 5.3-0.8 9.9 0.1 9z"/><path fill="#0006ff" d="M71.7 2.3l44.1 1.3 0.3-4.1 0-5.5-0.7-6.8-1.8-8.1-1.7-5.2-1.3-3-3.6-6.8-3.2-4.5-1.8-2.1-4.8-4.4-3.2-2.1-4.1-1.9-2.5-0.6-2.3-0.2-3 0.4-2.6 1.1-2.2 1.7-1.3 1.5-1.1 1.7-1.4 3.1-1.1 3.6-0.9 4.7-0.7 8.3 0 10z"/><path fill="#002dff" d="M72.3 2.3l42.9 1.3 0.3-4.1 0-5.4-0.9-8.2-1.6-6.7-2.8-7.7-3.9-7.2-5.1-6.5-3.2-3-1.6-1.2-3-1.9-3-1.3-4.6-0.9-3 0.4-1.9 0.6-1.5 0.9-2.1 1.9-2.1 3.1-1.1 2.5-1 3.2-0.9 4.8-0.8 9.1 0 10z"/><path fill="#0053ff" d="M72.8 2.3l41.8 1.3 0.4-6.8-0.4-6.8-0.6-4-1.6-6.6-2.8-7.7-3.6-6.5-2.8-4-1.8-2-4.1-3.9-3.7-2.4-2.8-1.3-3.2-0.8-2.2-0.1-2.9 0.5-1.7 0.8-1.5 1-2 2.1-1.3 2.1-1.4 3-1.1 3.9-0.8 4.5-0.7 8.7 0 9.5z"/><path fill="#0079ff" d="M73.4 2.3l40.7 1.3 0.3-8.1-0.4-5.4-0.6-4.1-2.2-8.6-2.8-6.8-4.2-6.9-1.7-2.2-2.8-3-2.1-1.9-2.4-1.7-1.8-1.1-2.3-1-3.9-0.9-2.1 0-1.9 0.4-1.8 0.7-2.9 2.4-1.8 2.6-1.4 3-1.8 7.2-0.9 10.3 0 9.9z"/><path fill="#009fff" d="M73.9 2.3l39.6 1.3 0.3-8.1-0.1-2.7-0.7-5.4-0.4-2.6-1-3.9-1.2-3.9-1.5-3.7-2.4-4.9-2.2-3.4-2.3-3-3.4-3.5-1.6-1.3-2.7-1.8-2.8-1.4-2.5-0.7-2.3-0.3-2.9 0.4-1.8 0.7-2.2 1.6-1.9 2.3-1.1 1.9-1.4 3.5-1.3 5.7-0.9 10.1 0 10.9z"/><path fill="#00c6ff" d="M74.5 2.3l38.4 1.2 0.3-4 0-5.3-0.5-5.4-0.7-3.9-1.3-5.2-2.2-5.9-2-4-2.1-3.5-4.3-5.3-3.9-3.4-2.9-1.8-2.5-1-2.4-0.5-2.5-0.1-2.4 0.6-1.7 0.8-2.8 2.6-1.7 2.8-0.7 1.6-1.7 6.2-1 8.4-0.2 11.1z"/><path fill="#00ecff" d="M75 2.4l37.3 1.1 0.3-2.6 0.1-5.4-0.4-5.3-0.6-3.9-2-7.8-2.5-6-2-3.7-1.8-2.7-4-4.8-4-3.2-1.8-1.1-3-1.2-2.7-0.5-2 0.1-1.9 0.4-2.4 1.4-1.4 1.3-1.8 2.5-1.5 3.4-0.9 2.9-0.7 3.4-0.9 9.1-0.1 10.2z"/><path fill="#00ffec" d="M75.6 2.4l36.2 1.1 0.3-4 0-5.3-0.7-6.6-0.8-3.9-1.5-5.1-2-4.9-3-5.4-2.7-3.7-1.8-2-3.2-2.8-2.5-1.6-1.9-0.9-2.4-0.7-2.1-0.2-2.9 0.5-1.7 0.8-1.5 1.1-1.9 2.3-1 1.7-1.1 2.7-0.8 2.6-0.9 4.5-0.7 7.1-0.1 11.1z"/><path fill="#00ffc6" d="M76.2 2.4l35 1.1 0.4-7.9-0.4-5.3-0.6-3.9-0.9-3.9-1.2-3.8-2-4.9-3.5-6-3.2-3.9-4.3-3.7-1.6-1-2.7-1.1-2.1-0.5-2.2 0-0.9 0.1-2.6 1-1.8 1.5-1.6 1.9-0.9 1.6-1.6 4-1.5 7.8-0.5 6.9 0 10.1z"/><path fill="#00ff9f" d="M76.7 2.4l33.9 1.1 0.4-5.3-0.2-6.5-0.8-5.2-0.9-3.9-2.1-6.2-1.7-3.6-1.7-2.8-3.3-4.5-2.3-2.3-2.3-1.8-2.5-1.5-1.3-0.5-2.2-0.6-2.2-0.1-0.9 0.1-2.6 1-2.3 1.8-1.2 1.6-1.7 3.2-0.9 2.7-0.7 3.3-0.5 2.9-0.6 6.5-0.1 8.8z"/><path fill="#00ff79" d="M77.3 2.4l32.7 1.1 0.5-6.6-0.4-6.5-1.2-6.4-2-6.3-2.9-5.9-3-4.4-1.8-2-2.8-2.5-1.6-1.1-2.3-1.1-2.3-0.7-2.1-0.2-1.9 0.3-1.7 0.8-2.3 1.7-1.3 1.7-2.1 4.6-1.4 6.1-0.8 9 0 8.4z"/><path fill="#00ff53" d="M77.9 2.4l31.6 1 0.4-5.2-0.1-5.2-0.3-2.5-0.5-3.4-1-4.3-1.7-4.9-3.1-6.2-3.3-4.4-1.5-1.6-2.8-2.3-3.5-1.8-1.8-0.5-1.7-0.1-1.9 0.2-1.8 0.7-1.5 1.1-1.4 1.5-1.2 1.9-1.5 3.7-1.5 6.8-0.6 7 0 9.4z"/><path fill="#00ff2d" d="M78.5 2.5l30.4 0.9 0.4-3.8 0-5.2-0.5-5.2-1.2-5.6-1.9-5.6-3-5.8-3.2-4.3-3.4-3.1-3.7-2-3.3-0.7-1.9 0.2-1.8 0.7-1.5 1.1-1.4 1.5-1.8 3-0.5 1.3-0.9 2.9-0.8 3.9-0.6 6.1-0.2 8.6 0.3 6.4z"/><path fill="#00ff06" d="M79 2.5l29.3 0.9 0.5-6.4-0.4-6.4-1.6-7.6-2.3-6.1-2.5-4.5-3.3-4.2-3.3-2.8-3.7-1.8-2.1-0.3-2 0.2-1.7 0.6-1.6 1.1-1.2 1.3-1.4 2.2-1.7 4.4-1.2 6.5-0.5 7 0.1 8.4z"/><path fill="#20ff00" d="M79.6 2.5l28.1 0.9 0.5-5.1-0.4-7.7-0.9-5-1.5-5-2.1-4.7-2-3.3-2.5-3.2-3-2.6-3-1.7-1.7-0.5-2.1-0.1-2.6 0.7-1.6 1.1-1.4 1.5-1.5 2.5-0.8 2.1-1.3 5-0.9 9.1 0 6.6z"/><path fill="#46ff00" d="M80.2 2.5l26.9 0.9 0.5-5.1-0.1-5.1-1.2-7.6-2-6-2.1-4.3-2.5-3.6-3.4-3.4-3.3-2-1.9-0.5-1.6-0.1-1.8 0.3-1.7 0.9-1.6 1.4-1.2 1.6-1.7 3.8-1.3 5.6-0.6 5.6-0.1 8.2z"/><path fill="#6cff00" d="M80.9 2.5l25.6 0.8 0.5-5-0.2-6.3-0.6-3.8-1.7-6.3-2.6-5.7-2.2-3.2-2.7-3-3.9-2.5-3.1-0.6-1.9 0.3-1.7 0.8-2.5 2.7-1.8 3.9-0.7 2.3-0.6 3.3-0.7 7.6 0.1 8.1z"/><path fill="#93ff00" d="M81.5 2.6l24.3 0.7 0.5-3.7 0-6.3-0.7-5-1.7-6.1-2.7-5.8-2.3-3.2-3-2.9-2.3-1.4-1.1-0.4-1.4-0.3-1.6 0-1.8 0.6-1.6 1-2 2.6-1.8 4.2-1.1 5.5-0.5 7 0.2 7.7z"/><path fill="#b9ff00" d="M82.2 2.6l23 0.7 0.6-6.2-0.4-6.3-1-4.9-1.2-3.6-1.5-3.5-2.5-3.9-2.2-2.4-1.7-1.4-2.3-1.2-1.1-0.3-2-0.1-1.8 0.5-0.8 0.5-2.2 2.2-1.8 3.6-1.4 5.9-0.5 5.8 0.1 8.8z"/><path fill="#dfff00" d="M82.8 2.6l21.7 0.7 0.6-5 0-3.7-0.8-6.2-1.3-4.8-1.5-3.5-2.7-4.4-2.9-2.9-2.5-1.5-2.1-0.5-1 0-2.6 1-2.2 2.2-1.1 2-0.7 1.9-1.1 4.9-0.6 6.1 0.1 6.9z"/><path fill="#fff900" d="M83.6 2.6l20.2 0.7 0.6-5-0.2-6.1-0.7-4.3-1.7-5.4-1.7-3.3-2.6-3.6-2.5-2.1-2.2-1.1-1.1-0.2-1.9 0.1-1.7 0.8-2.2 2.3-1.7 3.9-1 4.4-0.5 5.1 0 6 0.4 4.9z"/><path fill="#ffd200" d="M84.3 2.6l18.7 0.6 0.5-2.4 0.2-2.5-0.1-4.9-0.7-4.8-1.4-4.8-2.3-4.5-1.2-1.7-2.5-2.4-3.3-1.5-1-0.1-1.8 0.4-1.6 1.1-1.2 1.4-1.7 3.7-1 4.4-0.5 5.1 0.2 8z"/><path fill="#ffac00" d="M85.1 2.7l17.2 0.5 0.6-4.8 0.1-3.7-0.6-4.8-1-4-1.8-4.2-1.1-1.8-1.3-1.7-1.3-1.2-2.2-1.4-2.1-0.4-1.8 0.3-0.8 0.5-1.5 1.4-1.4 2.4-0.6 1.6-1 4.6-0.4 5.7 0.1 4z"/><path fill="#ff8600" d="M86 2.7l15.4 0.5 0.5-2.4 0.3-6.1-0.6-4.8-1.2-4.2-1.4-3.1-1.1-1.8-2.7-2.8-2.1-1-2-0.1-0.9 0.2-0.8 0.5-0.8 0.6-1 1.4-1.2 2.4-1.2 5.5-0.3 4.1 0.5 8.1z"/><path fill="#ff6000" d="M86.9 2.7l13.5 0.5 0.8-3.6 0.2-4.8-0.4-3.6-0.9-3.5-0.8-2.3-2.4-4-1.2-1.3-2.2-1.3-2-0.2-1.7 0.7-1.5 1.7-1.4 3-0.5 2-0.6 4.5 0 5.1 0.3 3z"/><path fill="#ff3900" d="M88 2.8l11.4 0.3 0.6-2.3 0.5-4.8-0.3-3.7-0.4-2.2-1.1-3.5-1.1-2.1-1.5-2-1.2-1.1-2-0.9-1.8 0.3-1.7 1.2-1.4 2.5-0.6 2-0.6 3.9-0.1 4.1 0.4 4.1z"/><path fill="#ff1300" d="M89.3 2.8l8.7 0.3 0.8-2.3 0.4-2.4 0.2-3.5-0.7-4.7-0.8-2.3-1.3-2.4-1.1-1.4-1.1-0.9-0.9-0.4-1.1-0.1-0.9 0.2-1.6 1.4-1.4 3.1-0.4 1.8-0.3 3.1 0 3.2 0.8 5.2z"/></g></g></g>
<g transform="translate(99.90 360.3)"><g clip-path="url(#cl)"><g filter="url(#bl)"><rect x="40" y="-100" width="100" height="110" fill="#ff0039"/><path fill="#ff0060" d="M63.5 2l63.7 2 0.1-7.5-0.4-6.1-0.7-7.4-0.7-4.5-2.6-11.8-1.7-5.8-3.1-8.5-3-6.9-2-4-2.9-5.3-4.8-7.7-3.5-4.9-4.7-5.9-4-4.5-3.2-3.2-45.1 45.1 2.6 2.7 2.9 3.5 3.4 4.9 3.3 6 2.1 4.8 1.5 4.2 1.8 7.3 0.8 6zM89-40.4l-2.2-0.3-1.4-0.8-0.8-1-0.4-1.1 0.1-1.3 0.9-1.8 1.1-1.1 1.6-0.9 1.9-0.5 1.8 0.4 1.1 0.8 0.7 1 0.5 1.8-0.6 2.4-0.9 1-1.6 1z"/><path fill="#ff0086" d="M63.5 2l63.7 2 0.1-7.5-0.4-6.1-0.7-7.4-0.7-4.5-2.6-11.8-1.7-5.8-3.1-8.5-3-6.9-2-4-2.9-5.3-4.8-7.7-3.5-4.9-4.7-5.9-4-4.5-3.2-3.2-45.1 45.1 2.6 2.7 2.9 3.5 3.4 4.9 3.3 6 2.1 4.8 1.5 4.2 1.8 7.3 0.8 6zM91.9-38.3l-2.8 0.6-1.5 0-1.9-0.4-2.5-1.3-1.4-1.7-0.4-1 0.1-2.9 0.4-1.1 1.2-1.8 2-1.9 1.6-1 2.7-0.9 2.2 0.1 1.5 0.6 1.1 0.8 0.9 1 0.6 1.1 0.8 2.4-0.2 2.9-0.8 1.7-1.9 2z"/><path fill="#ff00ac" d="M63.5 2l63.7 2 0.1-7.5-0.4-6.1-0.7-7.4-0.7-4.5-2.6-11.8-1.7-5.8-3.1-8.5-3-6.9-2-4-2.9-5.3-4.8-7.7-3.5-4.9-4.7-5.9-4-4.5-3.2-3.2-45.1 45.1 2.6 2.7 2.9 3.5 3.4 4.9 3.3 6 2.1 4.8 1.5 4.2 1.8 7.3 0.8 6zM89-35.6l-2-0.1-2.3-0.5-2.7-1.4-2.2-2.5-0.7-2.1 0-1.4 0.7-2.5 1.1-1.8 1.2-1.5 2.2-1.9 1.5-1 2.6-1 1.6-0.3 2.2 0.2 1.5 0.6 1.2 0.8 1.7 1.8 1.2 2.5 0.3 1.2 0.3 2.3-0.2 1.9-1 2.4-2 2.3-2.5 1.3-1.8 0.5z"/><path fill="#ff00d2" d="M63.5 2l63.7 2 0.1-7.5-0.4-6.1-0.7-7.4-0.7-4.5-2.6-11.8-1.7-5.8-3.1-8.5-3-6.9-2-4-2.9-5.3-4.8-7.7-3.5-4.9-4.7-5.9-4-4.5-3.2-3.2-45.1 45.1 2.6 2.7 2.9 3.5 3.4 4.9 3.3 6 2.1 4.8 1.5 4.2 1.8 7.3 0.8 6zM90.6-34l-4 0-3.1-0.8-1.5-0.7-1.9-1.3-1.5-1.6-1.1-2.2-0.2-1.7 0-1.3 0.6-2.1 1-1.9 1.8-2.4 2.8-2.5 2.5-1.5 2.5-0.9 1.7-0.3 2.2 0.2 1.6 0.6 2.3 1.6 1.6 2.1 0.6 1.2 1 2.4 0.4 2.7-0.2 3.1-0.4 1.3-0.6 1.2-1.3 1.7-1.6 1.3-1.6 0.8-2.6 0.9z"/><path fill="#ff00f9" d="M63.5 2l63.7 2 0.1-7.5-0.4-6.1-0.7-7.4-0.7-4.5-2.6-11.8-1.7-5.8-3.1-8.5-3-6.9-2-4-2.9-5.3-4.8-7.7-3.5-4.9-4.7-5.9-4-4.5-3.2-3.2-45.1 45.1 2.6 2.7 2.9 3.5 3.4 4.9 3.3 6 2.1 4.8 1.5 4.2 1.8 7.3 0.8 6zM89.3-32.3l-3-0.2-3.4-0.8-3.5-2-1.6-1.5-1.2-1.7-0.7-1.9-0.3-2.2 0.5-2.5 0.9-2.1 1.7-2.5 2.7-2.7 2.2-1.7 2.4-1.3 2.7-1 2.1-0.2 3.2 0.7 2.4 1.5 1 1 1.6 2.2 1.6 3.6 0.6 2.6 0.1 2.8-0.7 3.2-1.2 2.1-1.4 1.6-3.2 1.9-2.7 0.8z"/><path fill="#df00ff" d="M63.5 2l63.7 2 0.1-7.5-0.4-6.1-0.7-7.4-0.7-4.5-2.6-11.8-1.7-5.8-3.1-8.5-3-6.9-2-4-2.9-5.3-4.8-7.7-3.5-4.9-4.7-5.9-4-4.5-3.2-3.2-45.1 45.1 2.6 2.7 2.9 3.5 3.4 4.9 3.3 6 2.1 4.8 1.5 4.2 1.8 7.3 0.8 6zM88.8-30.9l-2 0-4.3-1-2.7-1.3-1.9-1.4-1.5-1.6-1.6-2.5-0.6-2.2 0-2.1 0.6-2.5 0.9-2 1.7-2.5 3.6-3.6 3.5-2.4 2.6-1.2 2.7-0.7 2.4 0.1 1.6 0.4 3 1.8 1.6 1.7 1.5 2.2 1.2 2.4 0.8 2.5 0.5 2.5 0.1 3-0.6 3.1-1.2 2.2-1.4 1.6-1.6 1.1-3.4 1.4-2.7 0.7z"/><path fill="#b900ff" d="M63.5 2l63.7 2 0.1-7.5-0.4-6.1-0.7-7.4-0.7-4.5-2.6-11.8-1.7-5.8-3.1-8.5-3-6.9-2-4-2.9-5.3-4.8-7.7-3.5-4.9-4.7-5.9-4-4.5-3.2-3.2-45.1 45.1 2.6 2.7 2.9 3.5 3.4 4.9 3.3 6 2.1 4.8 1.5 4.2 1.8 7.3 0.8 6zM89.2-29.7l-3.9 0-2.2-0.5-2.3-0.9-2.6-1.5-1.7-1.4-2.5-3.2-1-2.8-0.2-2.2 0.4-2.5 1.3-3 2-2.9 2.3-2.4 2.2-2 3.7-2.4 3.5-1.4 3.1-0.4 2.5 0.5 2.5 1.4 2.1 1.9 1.7 2.1 1.9 3.6 1.2 3.8 0.5 4.6-0.2 2.1-0.5 1.9-1 2.1-1.3 1.4-2.6 1.7-2.5 1.1-4.5 1.1z"/><path fill="#9300ff" d="M63.5 2l63.7 2 0.1-7.5-0.4-6.1-0.7-7.4-0.7-4.5-2.6-11.8-1.7-5.8-3.1-8.5-3-6.9-2-4-2.9-5.3-4.8-7.7-3.5-4.9-4.7-5.9-4-4.5-3.2-3.2-45.1 45.1 2.6 2.7 2.9 3.5 3.4 4.9 3.3 6 2.1 4.8 1.5 4.2 1.8 7.3 0.8 6zM88.6-28.6l-3.5 0.1-2.2-0.4-2.9-1.1-3.2-2-2.9-3-1-1.6-1.2-3.1-0.2-2.9 0.8-3.3 1.5-2.9 2.4-3.1 2-2 2.8-2.4 3.9-2.4 3.6-1.4 3.1-0.3 1.3 0.2 1.9 0.7 2.5 1.6 2 2 2.3 3.3 1.7 3.7 0.8 2.6 0.5 2.7 0.1 4.3-0.2 1.5-0.7 2.1-1.3 2-1.5 1.3-2.5 1.4-2.6 1-4.5 1.1z"/><path fill="#6c00ff" d="M63.5 2l63.7 2 0.1-7.5-0.4-6.1-0.7-7.4-0.7-4.5-2.6-11.8-1.7-5.8-3.1-8.5-3-6.9-2-4-2.9-5.3-4.8-7.7-3.5-4.9-4.7-5.9-4-4.5-3.2-3.2-45.1 45.1 2.6 2.7 2.9 3.5 3.4 4.9 3.3 6 2.1 4.8 1.5 4.2 1.8 7.3 0.8 6zM89.8-27.7l-3.8 0.3-3.4-0.3-1.7-0.5-2.5-1.2-2.9-2.1-2.1-2.2-2-3.2-0.7-1.8-0.4-2 0-2.3 0.8-3.1 1.5-2.8 1.7-2.4 2.6-2.8 4.3-3.6 3.9-2.4 2.8-1.1 2.9-0.4 2.4 0.3 2.7 1.1 2.3 1.8 2.7 3.1 2.1 3.5 1.1 2.5 0.8 2.6 0.8 4.1 0.1 4.2-0.8 3.2-1 1.7-1.9 1.7-1.6 1-3.4 1.4-1.8 0.6z"/><path fill="#4600ff" d="M63.5 2l63.7 2 0.1-7.5-0.4-6.1-0.7-7.4-0.7-4.5-2.6-11.8-1.7-5.8-3.1-8.5-3-6.9-2-4-2.9-5.3-4.8-7.7-3.5-4.9-4.7-5.9-4-4.5-3.2-3.2-45.1 45.1 2.6 2.7 2.9 3.5 3.4 4.9 3.3 6 2.1 4.8 1.5 4.2 1.8 7.3 0.8 6zM91-27l-5.6 0.6-3-0.2-1.9-0.4-3.8-2-3.8-3.4-1.7-2.4-1.6-3.4-0.5-2.3 0.1-2.9 0.7-2.8 2.6-4.5 2.3-2.7 4.3-4 3.8-2.7 3.3-1.7 3.8-1 2.4 0.1 3.2 1.1 3.6 2.8 2.5 3.1 1.4 2.3 2.2 5.1 1.1 3.9 0.5 3.7 0 2.6-0.3 2.1-0.7 1.9-1.4 1.8-2 1.6-2.6 1.3-5.2 1.7z"/><path fill="#2000ff" d="M63.5 2l63.7 2 0.1-7.5-0.4-6.1-0.7-7.4-0.7-4.5-2.6-11.8-1.7-5.8-3.1-8.5-3-6.9-2-4-2.9-5.3-4.8-7.7-3.5-4.9-4.7-5.9-4-4.5-3.2-3.2-45.1 45.1 2.6 2.7 2.9 3.5 3.4 4.9 3.3 6 2.1 4.8 1.5 4.2 1.8 7.3 0.8 6zM94.9-26.9l-2.7 0.6-6.1 0.8-3.6 0-3.9-0.9-3.9-2.6-2.9-2.9-2.9-4.8-1-3.7 0.1-3.4 0.9-3 2.5-4.2 2.9-3.4 4.9-4.4 2.2-1.6 3.2-1.9 1.8-0.8 2.8-0.8 2.2-0.1 2.3 0.4 1.5 0.6 2.6 1.6 2.9 3 1.7 2.3 2.1 3.6 1.6 3.8 1.4 5.4 0.5 4.2-0.2 2.9-0.4 1.6-0.8 1.6-1.4 1.7-2.4 1.6-4 1.7z"/><path fill="#0006ff" d="M63.5 2l63.7 2 0.1-7.5-0.4-6.1-0.7-7.4-0.7-4.5-2.6-11.8-1.7-5.8-3.1-8.5-3-6.9-2-4-2.9-5.3-4.8-7.7-3.5-4.9-4.7-5.9-4-4.5-3.2-3.2-45.1 45.1 2.6 2.7 2.9 3.5 3.4 4.9 3.3 6 2.1 4.8 1.5 4.2 1.8 7.3 0.8 6zM87.8-24.8l-3.8 0.3-3.9-0.2-3.1-1.1-2.9-2.1-3.9-4.3-2.3-4-1.1-3.6-0.1-3.2 0.8-3.5 2-3.6 2.3-3.1 5.3-5.3 2.9-2.3 5.3-3.2 2.1-0.8 2-0.4 2.1-0.1 3.4 0.9 1.4 0.7 1.7 1.3 2.8 2.7 1.6 2 1.5 2.4 1.9 3.7 2.3 6.6 0.8 4.1 0.1 4.3-0.7 3.1-0.6 1-1.4 1.7-2.4 1.7-1.7 0.8-6.2 2z"/><path fill="#002dff" d="M63.5 2l63.7 2 0.1-7.5-0.4-6.1-0.7-7.4-0.7-4.5-2.6-11.8-1.7-5.8-3.1-8.5-3-6.9-2-4-2.9-5.3-4.8-7.7-3.5-4.9-4.7-5.9-4-4.5-3.2-3.2-45.1 45.1 2.6 2.7 2.9 3.5 3.4 4.9 3.3 6 2.1 4.8 1.5 4.2 1.8 7.3 0.8 6zM89.9-24.3l-5.6 0.7-3.9 0-2-0.3-2-0.7-1-0.7-1.8-1.4-2.8-2.8-1.7-2.2-1.4-2.3-0.8-1.6-1.2-3.5-0.3-3 0.5-3.5 1.8-3.9 2.8-3.9 3.9-4.1 4.9-4.2 4.7-3 3.5-1.5 2-0.4 1.6 0 2.1 0.3 1.5 0.5 3.8 2.4 3.1 3.2 2.3 3.3 3.2 6.2 1.7 4.8 0.8 3.3 0.6 5.7-0.2 2.3-0.9 2.3-1.4 1.8-2.7 1.9-5.2 2.1z"/><path fill="#0053ff" d="M63.5 2l63.7 2 0.1-7.5-0.4-6.1-0.7-7.4-0.7-4.5-2.6-11.8-1.7-5.8-3.1-8.5-3-6.9-2-4-2.9-5.3-4.8-7.7-3.5-4.9-4.7-5.9-4-4.5-3.2-3.2-45.1 45.1 2.6 2.7 2.9 3.5 3.4 4.9 3.3 6 2.1 4.8 1.5 4.2 1.8 7.3 0.8 6zM94.6-24.4l-7.3 1.3-5.6 0.5-3.9-0.3-2.2-0.7-1.2-0.7-2.8-2.5-2-2.2-1.6-2.2-2.5-4.7-1.3-4.4 0.1-4.3 1.1-3.3 2.6-4.2 2.4-2.9 3.3-3.4 5.6-4.8 4.8-3.1 2.5-1.1 2-0.5 3.4-0.1 3.8 1.3 3.6 2.7 3.7 4.3 2.9 4.8 1.9 3.8 2.3 6.7 1 5.6 0.2 2.9-0.6 3.1-1 1.7-1.3 1.4-1.6 1.2-2.5 1.3-4.4 1.5z"/><path fill="#0079ff" d="M63.5 2l63.7 2 0.1-7.5-0.4-6.1-0.7-7.4-0.7-4.5-2.6-11.8-1.7-5.8-3.1-8.5-3-6.9-2-4-2.9-5.3-4.8-7.7-3.5-4.9-4.7-5.9-4-4.5-3.2-3.2-45.1 45.1 2.6 2.7 2.9 3.5 3.4 4.9 3.3 6 2.1 4.8 1.5 4.2 1.8 7.3 0.8 6zM86.6-22.2l-4.7 0.5-4.9-0.1-2-0.5-2.8-1.9-2.1-2.1-2.3-2.9-3.1-5.3-1-2.4-0.7-2.6-0.3-2 0-2.2 0.5-2.5 0.8-2 2-3.5 4.9-5.7 2.7-2.6 4.9-4.2 5.4-3.6 2.6-1.2 1.7-0.5 1.3-0.2 2.4 0.1 2.4 0.6 2.4 1.3 1.5 1.1 3.1 3 3.4 4.6 2.8 5 3.2 7.9 1.4 5.5 0.6 5.7-0.9 3.2-1.3 1.8-2.5 2-1.7 0.9-6.1 2.1-7.2 1.6z"/><path fill="#009fff" d="M63.5 2l63.7 2 0.1-7.5-0.4-6.1-0.7-7.4-0.7-4.5-2.6-11.8-1.7-5.8-3.1-8.5-3-6.9-2-4-2.9-5.3-4.8-7.7-3.5-4.9-4.7-5.9-4-4.5-3.2-3.2-45.1 45.1 2.6 2.7 2.9 3.5 3.4 4.9 3.3 6 2.1 4.8 1.5 4.2 1.8 7.3 0.8 6zM89.5-22l-9.2 1.3-3.8 0-2-0.3-1.7-0.6-0.9-0.6-2.8-2.8-2.2-2.9-3.4-5.9-1.1-2.3-1.1-3.4-0.3-1.9 0-2.1 0.6-3.3 0.8-2 1.5-2.5 2.3-3.1 5.8-6 6.3-5.5 5.3-3.7 3.5-1.6 3.9-0.5 1.9 0.3 1.6 0.6 1.9 1 1.9 1.4 4 4.2 3.3 4.7 4 7.6 2.6 6.9 1.6 6.8 0.3 4.4-0.4 1.6-1.4 2.3-2.3 2.1-2.5 1.4-5.3 1.8-9 2z"/><path fill="#00c6ff" d="M63.5 2l63.7 2 0.1-7.5-0.4-6.1-0.7-7.4-0.7-4.5-2.6-11.8-1.7-5.8-3.1-8.5-3-6.9-2-4-2.9-5.3-4.8-7.7-3.5-4.9-4.7-5.9-4-4.5-3.2-3.2-45.1 45.1 2.6 2.7 2.9 3.5 3.4 4.9 3.3 6 2.1 4.8 1.5 4.2 1.8 7.3 0.8 6zM98.8-23l-10.9 2.1-8.3 1.2-4.7 0.2-2.1-0.2-1.6-0.5-1-0.6-2-2.1-3.5-5-3.9-7.3-1.5-4-0.4-1.8-0.2-3 0.2-1.7 0.7-2.2 1.9-3.5 3.5-4.4 7.2-7.2 6.3-5.5 5.3-3.7 2.6-1.3 1.9-0.6 1.1-0.2 2.6 0.1 3.1 1.2 3.6 2.6 4.8 5.5 3.9 6 3.9 7.8 2.1 5.4 2.2 8.4 0.4 2.9-0.4 2.5-1.3 2.2-1.6 1.5-2.4 1.6-2.6 1.2-5.3 1.6z"/><path fill="#00ecff" d="M63.5 2l63.7 2 0.1-7.5-0.6-9.1-1.2-8.9-2.2-10.3-1.3-1-7.2 5.2-2.5 1.4-6.2 2.3-9 2-11.8 2.2-17.5 2.4-3.5 1.1-0.8 0.6-1.5 1.9 1.3 8.2z"/><path fill="#00ffec" d="M65.8 2.1l59.7 1.8-0.1-8.9-0.8-7.3-1.3-5.8-1.8-4.8-1.4-2-1.1-0.9-1-0.4-1 0-10.7 3.2-27.2 5.2-5.4 1.2-2.1 0.8-2.1 1.3-0.9 0.9-1.6 2.9-0.9 4.9z"/><path fill="#00ffc6" d="M66.8 2.1l58 1.8 0-5.9-0.3-4.4-0.6-4.4-1.3-5.8-1.7-4.1-1.2-1.8-1-0.8-1.2-0.5-1.9-0.2-29.1 5.5-10.8 2.6-2.6 1.1-1.7 1.1-1.7 1.7-1.3 2.3-1.1 3.8z"/><path fill="#00ff9f" d="M67.6 2.1l56.6 1.8-0.2-8.8-0.8-5.8-1.1-4.3-1.8-4.2-1-1.3-1.4-1.2-2-0.6-4.6 0.3-16.5 2.6-12.6 2.7-3.6 1-1.8 0.6-3.1 1.6-1.5 1.1-2 2.3-1.3 2.4-0.7 2.6-0.5 4z"/><path fill="#00ff79" d="M68.4 2.1l55.2 1.8 0.1-2.9-0.3-5.9-0.6-4.3-0.7-3.1-1.4-3.9-1.3-2.1-1.1-1.2-1-0.7-2-0.6-4.7 0-9.2 1.1-9.2 1.5-8.1 1.8-6.2 2-1.7 0.8-2.6 1.7-1.6 1.6-1.6 2.2-1.4 3.7-0.4 2.5z"/><path fill="#00ff53" d="M69.2 2.2l53.9 1.7 0-4.4-0.6-6.8-1.4-5.6-1.3-2.8-1.1-1.6-1.1-0.9-2.1-1-3.8-0.5-4.7 0.2-8.2 0.9-5.5 0.9-7.2 1.6-4.5 1.3-4.4 1.9-2.7 1.9-2.3 2.4-1.6 2.6-0.8 2.4-0.3 1.7z"/><path fill="#00ff2d" d="M70.1 2.2l52.5 1.7-0.2-7.3-1-5.8-1.3-3.7-1.1-2.1-2.4-2.2-2.6-1-3-0.4-3.8 0-5.6 0.4-8.2 1.2-6.3 1.4-5.4 1.7-3.4 1.6-3.4 2.6-1.7 1.8-1.1 1.6-1.5 3.5-0.5 3.3z"/><path fill="#00ff06" d="M71 2.2l51 1.6 0.1-2.9-0.4-5.2-1-4.8-1.4-3.4-1.5-2-1.8-1.4-2.9-1.2-3.9-0.5-4.6 0-7.4 0.7-9.1 1.8-6.1 2-2.8 1.4-2.9 2.3-2.1 2.2-1.2 1.7-1.5 3.5z"/><path fill="#20ff00" d="M72.1 2.3l49.3 1.5 0.1-2.9-0.8-6.9-1.5-4.4-1.9-2.8-2-1.6-3-1.2-4.8-0.7-4.7 0-7.3 0.8-5.5 1.1-5.3 1.6-2.7 1.1-2.3 1.3-2.8 2.4-2.5 3-1.7 3.4-0.4 1.7z"/><path fill="#46ff00" d="M73.4 2.3l47.4 1.5 0-4.3-0.7-4.3-0.8-2.8-1.3-2.7-2.5-2.8-2-1.2-3-1-3.5-0.5-6.8 0.1-5.5 0.7-7.2 1.7-4.5 1.7-2.8 1.7-3.3 3.2-2 2.8-1.1 2.7-0.4 1.8z"/><path fill="#6cff00" d="M74.7 2.3l45.3 1.5 0.1-2.9-0.5-4.2-0.8-2.8-1-2.2-1.3-1.9-1.8-1.8-2-1.3-3-1-3.8-0.6-3.7-0.1-6.5 0.6-5.4 1.1-4.5 1.5-3.5 1.7-3.7 3.2-2.3 3.1-1.4 3.5z"/><path fill="#93ff00" d="M76.1 2.4l43.1 1.3 0-2.8-0.6-4.2-1-2.8-1.6-2.6-2.2-2.3-2.2-1.4-2.7-1-4.7-0.7-2.8 0-5.6 0.5-4.5 0.9-4.5 1.4-3.5 1.8-3 2.5-2.4 3-1.5 3.3z"/><path fill="#b9ff00" d="M77.5 2.4l40.6 1.3 0.1-1.4-0.2-2.8-0.9-3.6-0.9-1.9-3.1-3.9-3.1-1.9-2.9-0.9-3.8-0.5-2.8 0-4.6 0.4-5.4 1.2-4.5 1.7-2.6 1.6-2.5 2.4-1.8 2.3-1.4 3.3z"/><path fill="#dfff00" d="M78.9 2.5l38 1.2 0-2.8-0.5-2.8-1-2.7-1.7-2.6-2.5-2.5-2-1.1-3.1-1-2.6-0.4-4-0.1-4.4 0.5-3.6 0.8-3.4 1.2-2.8 1.5-2.6 2.2-2.3 2.9-1.2 2.7z"/><path fill="#fff900" d="M80.4 2.5l35.1 1.1 0-2.7-0.6-2.7-1.1-2.7-1.9-2.6-1.6-1.5-1.9-1.2-2.9-1-3.8-0.5-2.8 0-3.7 0.4-2.8 0.6-3.5 1.2-2.6 1.5-2.7 2.3-2.2 3-1 2.9z"/><path fill="#ffd200" d="M81.9 2.6l32.1 1 0-2.7-0.6-2.7-1.3-2.6-1.6-2.1-2-1.7-1.9-1-1.9-0.6-2.2-0.4-3.5-0.1-1.8 0.1-4.6 0.9-3.6 1.4-2.1 1.4-2.4 2.1-1.6 2.4-0.9 2.5z"/><path fill="#ffac00" d="M83.5 2.6l28.9 0.9 0-2.6-0.7-2.7-0.6-1.3-1.9-2.5-1.5-1.3-1.8-1.1-2.1-0.7-3.7-0.5-1.9 0-3.7 0.5-2.7 0.8-4 2.3-1.3 1.1-1.8 2.2-0.9 1.9z"/><path fill="#ff8600" d="M85.2 2.7l25.4 0.8 0.1-1.3-0.4-2.7-0.5-1.3-1.6-2.5-1.3-1.2-1.8-1.2-2.1-0.8-3.8-0.5-2.7 0.2-2.8 0.6-1.8 0.7-3.1 1.9-2.1 2.2-1.1 2-0.3 1.1z"/><path fill="#ff6000" d="M87.1 2.7l21.6 0.7 0.1-1.5-0.1-1.1-0.9-2.5-2.1-2.5-1.6-1.1-2.9-1-3.7-0.2-3.7 0.8-1.8 0.8-1.8 1.2-1.8 1.9-0.9 1.6-0.3 0.9z"/><path fill="#ff3900" d="M89.3 1.7l0.1 1.1 14.7 0.5 2.4 0 0.1-1.2-0.6-2.5-0.8-1.3-1.2-1.2-2.7-1.4-1.9-0.4-2.7 0.1-2.8 0.8-0.9 0.5-1.8 1.3-0.9 1.1-0.8 1.6z"/><path fill="#ff1300" d="M92.3 2.9l11.2 0.4 0.1-1.3-0.3-1.5-0.6-0.9-1.3-1.1-1.9-0.7-1.8-0.1-1.9 0.3-1.1 0.5-1.4 1.1-0.7 1.1z"/></g></g></g>
<g transform="translate(189.80 360.3)"><g clip-path="url(#cl)"><g filter="url(#bl)"><rect x="40" y="-100" width="100" height="110" fill="#ff0013"/><path fill="#ff0039" d="M63.5 2l63.7 2 0.1-7.5-0.4-6.1-0.7-7.4-0.7-4.5-2.6-11.8-1.7-5.8-3.1-8.5-3-6.9-2-4-2.9-5.3-4.8-7.7-3.5-4.9-4.7-5.9-4-4.5-3.2-3.2-45.1 45.1 2.6 2.7 2.9 3.5 3.4 4.9 3.3 6 2.1 4.8 1.5 4.2 1.8 7.3 0.8 6zM80.5-9.9l-1 0-1-0.4-1.3-1.1-1.2-1.6-1.1-2.6-0.6-3.6 0-2.2 0.4-1.7 0.6-1.2 0.8-0.9 0.8-0.4 1 0 1.1 0.5 1.4 1.4 1.5 2.6 0.9 2.8 0.3 3-0.2 2.1-0.7 2.1-0.8 0.9z"/><path fill="#ff0060" d="M63.5 2l63.7 2 0.1-7.5-0.4-6.1-0.7-7.4-0.7-4.5-2.6-11.8-1.7-5.8-3.1-8.5-3-6.9-2-4-2.9-5.3-4.8-7.7-3.5-4.9-4.7-5.9-4-4.5-3.2-3.2-45.1 45.1 2.6 2.7 2.9 3.5 3.4 4.9 3.3 6 2.1 4.8 1.5 4.2 1.8 7.3 0.8 6zM79.8-7.8l-2-0.9-2.2-2.5-1.4-3-1-3.8-0.2-2.7 0.1-1.9 0.4-1.6 0.5-1.3 0.7-1 1.5-1.1 1-0.1 1.1 0.3 1.9 1.5 0.9 1.1 0.9 1.5 1.2 2.9 0.7 2.9 0.2 2.1-0.2 3.2-0.7 2.2-0.7 1.2-0.9 0.7z"/><path fill="#ff0086" d="M63.5 2l63.7 2 0.1-7.5-0.4-6.1-0.7-7.4-0.7-4.5-2.6-11.8-1.7-5.8-3.1-8.5-3-6.9-2-4-2.9-5.3-4.8-7.7-3.5-4.9-4.7-5.9-4-4.5-3.2-3.2-45.1 45.1 2.6 2.7 2.9 3.5 3.4 4.9 3.3 6 2.1 4.8 1.5 4.2 1.8 7.3 0.8 6zM80.8-6l-1.8-0.3-1-0.5-2.1-1.9-2.2-3.9-1.3-4.3-0.4-2.6 0-3.2 0.3-2 0.5-1.5 1.2-2 1.6-1 0.9-0.2 1.2 0.2 1.2 0.6 1.7 1.6 1.3 1.8 1.4 2.6 1.4 5 0.2 5.1-0.7 3.1-0.7 1.6-0.5 0.6-1.2 1z"/><path fill="#ff00ac" d="M63.5 2l63.7 2 0.1-7.5-0.4-6.1-0.7-7.4-0.7-4.5-2.6-11.8-1.7-5.8-3.1-8.5-3-6.9-2-4-2.9-5.3-4.8-7.7-3.5-4.9-4.7-5.9-4-4.5-3.2-3.2-45.1 45.1 2.6 2.7 2.9 3.5 3.4 4.9 3.3 6 2.1 4.8 1.5 4.2 1.8 7.3 0.8 6zM79.1-4.7l-2-1.1-1-1-2.2-3.1-1.7-4.3-0.8-3.3-0.4-5.2 0.8-4.3 1-1.9 0.7-0.8 1.5-1 0.9-0.2 0.8 0 1.4 0.5 1.4 0.9 2.6 3 1.9 3.8 0.7 1.9 0.7 3 0.3 5.2-0.5 3.3-0.7 2-0.9 1.4-1.7 1.3-1.9 0.1z"/><path fill="#ff00d2" d="M63.5 2l63.7 2 0.1-7.5-0.4-6.1-0.7-7.4-0.7-4.5-2.6-11.8-1.7-5.8-3.1-8.5-3-6.9-2-4-2.9-5.3-4.8-7.7-3.5-4.9-4.7-5.9-4-4.5-3.2-3.2-45.1 45.1 2.6 2.7 2.9 3.5 3.4 4.9 3.3 6 2.1 4.8 1.5 4.2 1.8 7.3 0.8 6zM80.1-3l-2.5-1-1.1-0.8-2.3-2.8-1.2-2.2-1-2.6-1.6-6.7-0.2-2.6 0.1-3.2 0.3-1.8 0.7-2 0.9-1.6 0.7-0.7 1.4-1 1-0.3 2.2 0.3 1.3 0.7 1.5 1.3 1.7 2 2.2 4 0.8 2.1 1.2 5 0.2 4.2-0.3 3.2-0.7 2.5-1.6 2.7-1 0.8-0.9 0.4z"/><path fill="#ff00f9" d="M63.5 2l63.7 2 0.1-7.5-0.4-6.1-0.7-7.4-0.7-4.5-2.6-11.8-1.7-5.8-3.1-8.5-3-6.9-2-4-2.9-5.3-4.8-7.7-3.5-4.9-4.7-5.9-4-4.5-3.2-3.2-45.1 45.1 2.6 2.7 2.9 3.5 3.4 4.9 3.3 6 2.1 4.8 1.5 4.2 1.8 7.3 0.8 6zM79.2-1.9l-0.9-0.3-1.9-1.3-1.9-2.1-1.1-1.7-1.4-2.9-1.2-3.7-1.3-6.7-0.1-4.1 0.3-2.4 0.8-2.5 0.5-1.1 1.3-1.6 0.8-0.6 1.7-0.7 1-0.1 1.5 0.4 1.1 0.6 1 0.7 2.3 2.4 1.8 2.7 1.3 2.8 1.4 4 0.6 3.1 0.3 3.1-0.1 3.2-0.6 3.2-0.7 2.1-1.3 2.1-1.5 1.3-1.8 0.4-1 0z"/><path fill="#df00ff" d="M63.5 2l63.7 2 0.1-7.5-0.4-6.1-0.7-7.4-0.7-4.5-2.6-11.8-1.7-5.8-3.1-8.5-3-6.9-2-4-2.9-5.3-4.8-7.7-3.5-4.9-4.7-5.9-4-4.5-3.2-3.2-45.1 45.1 2.6 2.7 2.9 3.5 3.4 4.9 3.3 6 2.1 4.8 1.5 4.2 1.8 7.3 0.8 6zM80.1-0.3l-1.8-0.6-1.9-1.2-1.7-1.7-1.2-1.7-1.7-3.3-0.9-2.5-1.1-4.1-0.8-4.2-0.4-4.5 0.1-2.4 0.7-3.2 1.5-2.9 1.6-1.5 1.7-0.8 2.1 0.1 2.6 1.3 2.1 2 1.4 1.7 2.2 3.6 1.2 3 0.7 2 0.9 4.1 0.3 5.3-0.5 4.2-1 3.2-1.2 2-1 1.1-2 1z"/><path fill="#b900ff" d="M63.5 2l63.7 2 0.1-7.5-0.4-6.1-0.7-7.4-0.7-4.5-2.6-11.8-1.7-5.8-3.1-8.5-3-6.9-2-4-2.9-5.3-4.8-7.7-3.5-4.9-4.7-5.9-4-4.5-3.2-3.2-45.1 45.1 2.6 2.7 2.9 3.5 3.4 4.9 3.3 6 2.1 4.8 1.5 4.2 1.8 7.3 0.8 6zM79.2 0.8l-2.8-1.5-1.9-1.9-1.9-2.9-1.3-2.8-1.4-4.5-1.7-8.3-0.3-4.9 0.2-2.1 0.6-2.5 1.8-3.4 1.5-1.3 1.6-0.8 2.1 0 2.7 1.2 1.8 1.5 2.2 2.5 1.2 1.7 2 3.8 1.4 4 0.9 4.2 0.4 4.2-0.1 3.2-0.5 3.2-1.1 3.3-1.8 2.8-1.7 1.1-1.1 0.4z"/><path fill="#9300ff" d="M63.5 2l63.7 2 0.1-7.5-0.4-6.1-0.7-7.4-0.7-4.5-2.6-11.8-1.7-5.8-3.1-8.5-3-6.9-2-4-2.9-5.3-4.8-7.7-3.5-4.9-4.7-5.9-4-4.5-3.2-3.2-45.1 45.1 2.6 2.7 2.9 3.5 3.4 4.9 3.3 6 2.1 4.8 1.5 4.2 1.8 7.3 0.8 6zM78.3 1.7l-1.9-1.1-1.9-1.8-1.8-2.5-1.2-2.5-1.2-3.3-1.5-5.7-1-4.9-0.6-5.1 0.4-4.9 1.4-3.6 1-1.4 1.4-1.3 0.8-0.5 1.8-0.5 2 0.3 1.6 0.7 3.1 2.4 2.3 2.8 2.2 3.7 1.7 4 0.9 3 0.8 4.2 0.2 2.2-0.1 5.3-0.9 4.3-1.2 3-1.8 2.4-1.9 1.2-1.9 0.2z"/><path fill="#6c00ff" d="M63.5 2l13.8 0.4-2.4-1.8-1.5-1.8-1.9-3.3-1-2.6-2.5-9.6-1.2-6.6-0.3-3.7 0.4-3.8 0.8-2.6 1.1-2 1.3-1.5 1.5-1.1 1.8-0.6 1.1 0 2.7 0.9 2.7 2 1.9 1.9 2.1 2.8 2.3 4.3 1.2 3 1.4 5.2 0.6 5.3-0.1 4.4-0.5 3.2-0.9 3.2-1 2-1.2 1.8-1.4 1.2 42.9 1.4 0.1-7.5-0.4-6.1-0.7-7.4-0.7-4.5-2.6-11.8-1.7-5.8-3.1-8.5-3-6.9-2-4-2.9-5.3-4.8-7.7-3.5-4.9-4.7-5.9-4-4.5-3.2-3.2-45.1 45.1 2.6 2.7 2.9 3.5 3.4 4.9 3.3 6 2.1 4.8 1.5 4.2 1.8 7.3 0.8 6z"/><path fill="#4600ff" d="M63.5 2l11.9 0.4-2.7-3.1-1.5-3-1.2-3.2-3.1-12.9-1-6.8 0-2.7 0.4-2.8 0.8-2.5 1.1-1.9 1.3-1.5 1.5-1.1 1.8-0.6 1.6 0 1.5 0.4 3.3 2 2.3 2.2 1.5 1.8 2.8 4.5 2.1 5 0.9 3.1 0.8 4.2 0.3 3.3 0 4.1-0.3 2.4-0.3 1.9-1.5 4.4-2 3.1 41.4 1.3 0.1-7.5-0.4-6.1-0.7-7.4-0.7-4.5-2.6-11.8-1.7-5.8-3.1-8.5-3-6.9-2-4-2.9-5.3-4.8-7.7-3.5-4.9-4.7-5.9-4-4.5-3.2-3.2-45.1 45.1 2.6 2.7 2.9 3.5 3.4 4.9 3.3 6 2.1 4.8 1.5 4.2 1.8 7.3 0.8 6z"/><path fill="#2000ff" d="M63.5 2l10.5 0.3-1.4-1.7-1-1.7-2.1-5.8-3-12.8-1.3-8 0-2.4 0.4-2.9 0.9-2.7 0.6-1.1 1.1-1.6 1.4-1.3 1.7-0.9 1.9-0.3 2.6 0.5 1.1 0.6 2 1.3 2.5 2.3 2.7 3.5 1.7 2.8 1.4 2.9 1.5 4.1 1.4 6.4 0.4 4.3-0.1 3.2-0.3 2.9-0.7 3.5-0.9 2.5-1.5 2.8 40.2 1.3 0.1-7.5-0.4-6.1-0.7-7.4-0.7-4.5-2.6-11.8-1.7-5.8-3.1-8.5-3-6.9-2-4-2.9-5.3-4.8-7.7-3.5-4.9-4.7-5.9-4-4.5-3.2-3.2-45.1 45.1 2.6 2.7 2.9 3.5 3.4 4.9 3.3 6 2.1 4.8 1.5 4.2 1.8 7.3 0.8 6z"/><path fill="#0006ff" d="M63.5 2l9.3 0.3-1.9-3.4-1.2-3.3-3.8-16.1-1.1-5.8-0.3-3.1 0.2-3.8 0.8-2.7 0.9-1.9 1.2-1.6 1.4-1.3 1.6-1 2.1-0.4 1.6 0.2 1.9 0.7 1.6 0.9 3.5 3.1 2.1 2.5 1.8 2.7 1.6 2.9 1.7 4 1 3.1 1.1 5.4 0.4 6.5-0.2 3.3-0.8 4.3-0.6 2-1.5 3.3 39.3 1.2 0.1-7.5-0.4-6.1-0.7-7.4-0.7-4.5-2.6-11.8-1.7-5.8-3.1-8.5-3-6.9-2-4-2.9-5.3-4.8-7.7-3.5-4.9-4.7-5.9-4-4.5-3.2-3.2-45.1 45.1 2.6 2.7 2.9 3.5 3.4 4.9 3.3 6 2.1 4.8 1.5 4.2 1.8 7.3 0.8 6z"/><path fill="#002dff" d="M63.5 2l8.3 0.3-1.9-4.2-1.5-5.7-3.9-17.5-0.7-5.1 0-1.9 0.2-2 0.8-2.8 1.6-2.9 1.2-1.4 2.3-1.6 1.9-0.5 1.1 0 3.7 1.3 1.9 1.3 2.6 2.3 2.8 3.4 1.8 2.8 2.9 5.9 1.9 6.3 0.6 3.3 0.4 4.3 0 3.3-0.6 5.5-0.5 2.2-1.6 4.2 38.4 1.2 0.1-7.5-0.4-6.1-0.7-7.4-0.7-4.5-2.6-11.8-1.7-5.8-3.1-8.5-3-6.9-2-4-2.9-5.3-4.8-7.7-3.5-4.9-4.7-5.9-4-4.5-3.2-3.2-45.1 45.1 2.6 2.7 2.9 3.5 3.4 4.9 3.3 6 2.1 4.8 1.5 4.2 1.8 7.3 0.8 6z"/><path fill="#0053ff" d="M63.5 2l7.4 0.2-2-5.7-5-22.2-0.8-5.1 0-2.8 0.3-2.1 0.7-2.4 1.6-2.8 2.7-2.6 2.4-1 1.3 0 1.2 0.1 3.1 1.3 3.2 2.3 2.1 2.1 2.1 2.6 2.7 4.2 2.9 6.5 1.8 6.4 0.8 6.6 0 4.4-0.5 4.4-1.1 4.3-0.8 2.1 37.6 1.2 0.1-7.5-0.4-6.1-0.7-7.4-0.7-4.5-2.6-11.8-1.7-5.8-3.1-8.5-3-6.9-2-4-2.9-5.3-4.8-7.7-3.5-4.9-4.7-5.9-4-4.5-3.2-3.2-45.1 45.1 2.6 2.7 2.9 3.5 3.4 4.9 3.3 6 2.1 4.8 1.5 4.2 1.8 7.3 0.8 6z"/><path fill="#0079ff" d="M63.5 2l6.6 0.2-1.7-5.7-2.1-10.3-3.4-14.2-0.6-4.3 0.2-3.9 0.5-2 0.9-2.1 2.3-3.2 3.1-2 2-0.3 2.5 0.5 2.5 1.1 2.8 2.1 2.4 2.3 4.1 5.3 3.5 6.9 1.5 4.2 0.8 3.2 0.8 4.4 0.3 3.3 0 4.4-0.4 4.2-0.7 3.5-1 3.2 36.8 1.2 0.1-7.5-0.4-6.1-0.7-7.4-0.7-4.5-2.6-11.8-1.7-5.8-3.1-8.5-3-6.9-2-4-2.9-5.3-4.8-7.7-3.5-4.9-4.7-5.9-4-4.5-3.2-3.2-45.1 45.1 2.6 2.7 2.9 3.5 3.4 4.9 3.3 6 2.1 4.8 1.5 4.2 1.8 7.3 0.8 6z"/><path fill="#009fff" d="M63.5 2l5.8 0.2-1.4-5.7-2.5-12.6-3.6-14.6-0.3-2.7 0.1-3.5 0.6-2.5 0.9-2.1 1.6-2.4 1.4-1.4 1.6-1 1.6-0.7 1.1-0.2 2.5 0.4 2.2 0.9 2.9 1.9 3.4 3.1 4.7 6.2 3.5 7 2.3 7.4 1.1 7.7-0.1 6.7-0.7 4.8-1.1 4 36.1 1.1 0.1-7.5-0.4-6.1-0.7-7.4-0.7-4.5-2.6-11.8-1.7-5.8-3.1-8.5-3-6.9-2-4-2.9-5.3-4.8-7.7-3.5-4.9-4.7-5.9-4-4.5-3.2-3.2-45.1 45.1 2.6 2.7 2.9 3.5 3.4 4.9 3.3 6 2.1 4.8 1.5 4.2 1.8 7.3 0.8 6z"/><path fill="#00c6ff" d="M63.5 2l5.1 0.2-3.1-15.8-4.5-18-0.4-2.6 0.1-3.9 0.6-2.4 1.5-3.2 2.4-2.9 2.4-1.5 1.9-0.5 1.1 0 2.1 0.5 3.3 1.7 2.6 1.9 3.4 3.3 2.1 2.6 2.5 3.7 3 6 2.5 7.4 0.9 4.4 0.5 4.5-0.2 7.8-0.9 5.5-0.6 2.2 35.4 1.1 0.1-7.5-0.4-6.1-0.7-7.4-0.7-4.5-2.6-11.8-1.7-5.8-3.1-8.5-3-6.9-2-4-2.9-5.3-4.8-7.7-3.5-4.9-4.7-5.9-4-4.5-3.2-3.2-45.1 45.1 2.6 2.7 2.9 3.5 3.4 4.9 3.3 6 2.1 4.8 1.5 4.2 1.8 7.3 0.8 6z"/><path fill="#00ecff" d="M63.5 2l4.4 0.1-3-16.4-1.3-5.4-2.9-9.9-0.9-4.1-0.3-2.7 0.2-3.1 1.1-3.7 2.1-3.4 2-1.9 1.6-1 0.9-0.4 2.1-0.3 2.7 0.6 3.3 1.7 4.8 3.9 3 3.4 2 2.7 1.8 2.8 2.1 4 2.1 5.2 1 3.2 1.6 8.9 0 7.9-0.7 5.5-0.7 3.3 34.7 1.1 0.1-7.5-0.4-6.1-0.7-7.4-0.7-4.5-2.6-11.8-1.7-5.8-3.1-8.5-3-6.9-2-4-2.9-5.3-4.8-7.7-3.5-4.9-4.7-5.9-4-4.5-3.2-3.2-45.1 45.1 2.6 2.7 2.9 3.5 3.4 4.9 3.3 6 2.1 4.8 1.5 4.2 1.8 7.3 0.8 6z"/><path fill="#00ffec" d="M63.5 2l3.6 0.1-0.1-0.8-0.9-6.3-1.9-10-5.5-19.5-0.4-3.1 0-2 1-4.2 0.8-1.9 1.1-1.7 1.8-2.1 1.5-1.1 1.6-0.9 2-0.5 2.7 0.5 3.4 1.6 4.3 3.2 3.2 3.2 3.5 4.4 4 6.8 2.2 5.2 1 3.2 0.9 3.3 1.1 6.7 0.1 5.7-0.2 3.3-1.2 7.8 34.1 1.1 0.1-7.5-0.4-6.1-0.7-7.4-0.7-4.5-2.6-11.8-1.7-5.8-3.1-8.5-3-6.9-2-4-2.9-5.3-4.8-7.7-3.5-4.9-4.7-5.9-4-4.5-3.2-3.2-45.1 45.1 2.6 2.7 2.9 3.5 3.4 4.9 3.3 6 2.1 4.8 1.5 4.2 1.8 7.3 0.8 6z"/><path fill="#00ffc6" d="M63.5 2l2.6 0.1-1.3-10.8-1.4-6.9-1.2-4.5-4.8-14.8-0.7-3.6 0-2.5 0.5-3 1-2.7 1.5-2.5 1.2-1.5 2.1-1.8 1.6-1 1.8-0.6 1.2 0 2.1 0.5 2.2 1 2.9 1.8 3.6 2.9 3.4 3.5 3.3 4.1 2.9 4.6 1.7 3.2 2.9 7.4 1.2 4.4 1.1 6.9 0.1 5.5-0.2 2.9-0.4 3.9-0.8 4.4 33.6 1.1 0.1-7.5-0.4-6.1-0.7-7.4-0.7-4.5-2.6-11.8-1.7-5.8-3.1-8.5-3-6.9-2-4-2.9-5.3-4.8-7.7-3.5-4.9-4.7-5.9-4-4.5-3.2-3.2-45.1 45.1 2.6 2.7 2.9 3.5 3.4 4.9 3.3 6 2.1 4.8 1.5 4.2 1.8 7.3 0.8 6z"/><path fill="#00ff9f" d="M94.2 3l33 1 0.1-7.5-1.1-13.5-2.2-11.9-2.8-10.2-3.1-8.5-3-6.9-4.9-9.3-4.8-7.7-3.5-4.9-4.7-5.9-5.1-5.6-3.4-0.8-27.5 27.5 0.1 1.3 0.7 0.8 1.6 0.3 6.5 3.3 5.7 4.1 3.3 3 2.4 2.5 3.5 4.4 2.5 3.8 2.2 4 3.4 8.5 1.4 5.5 0.6 3.4 0.4 4.6-0.1 4.5-0.5 5.7z"/><path fill="#00ff79" d="M94.7 3l29.1 0.9 0.2-5.9-0.5-7.3-1.5-11.6-2.1-10.1-3-9.8-4.6-10.7-3.5-6.5-2.3-3.7-2.5-3.6-4.5-5.7-4-4.2-3.4-2.8-1.7-0.8-1.6-0.4-1.2 0-2.1 0.5-3.3 1.8-1.6 1.1-4.8 4.3-3.1 3.5-1.6 2.3-1.3 2.7-0.4 2.8 0.3 1.2 1.3 1.7 7.3 6.8 5.3 6 2 2.7 3 4.9 3 6.2 2 5.4 1.2 4.4 0.8 4.5 0.3 3.3-0.1 7z"/><path fill="#00ff53" d="M95.3 3l27.5 0.9 0.2-4.4-0.4-7.3-2.4-15.7-2.3-9.9-3.3-9.6-3.6-7.9-2.8-5.1-3.1-4.9-5.3-6.8-2.9-3.2-3.2-2.9-2.4-1.7-2.5-0.9-2.8 0-3.4 1.4-1.6 1-4.8 4.3-1.8 2.2-1.7 2.9-0.6 2 0 1.6 0.6 2.4 1.2 1.8 6.8 7.5 5.4 7.1 3.1 5.1 2.5 5.1 1.7 4.3 2.4 8.9 0.6 5.8 0 4.6z"/><path fill="#00ff2d" d="M95.8 3l26.3 0.8 0.1-5.7-0.6-7.3-2.8-15.5-2-8.4-3.3-9.5-4.4-9.1-2.1-3.7-4.1-5.9-2.7-3.3-3.9-4.1-3.8-3.2-1.9-1.2-3-1.1-2.2 0.1-4.1 1.8-3.5 3-2.7 3.9-0.7 2.4 0 1.5 0.5 2.5 1 2.1 8.3 10.7 5 7.8 2.6 5.2 2.5 6.5 1.8 6.7 0.7 4.6 0 8.1z"/><path fill="#00ff06" d="M96.3 3l25.1 0.8 0.1-5.7-0.3-4.3-0.8-5.7-3.6-16.8-2.4-8.2-3.8-9.2-4.1-7.4-3.2-4.7-3.6-4.4-5.1-4.9-4.7-3.3-1.4-0.6-1.6-0.4-2.2 0.1-3 1.3-2.8 2.4-1.6 2.5-0.3 1-0.3 2.5 0.2 1.4 0.6 2.5 1 2.1 8.4 12.3 2.9 5 3 6.3 2.4 6.6 1.7 6.8 0.5 4.7-0.3 9.3z"/><path fill="#20ff00" d="M96.8 3l23.9 0.8 0.2-2.9-0.1-4.3-0.9-7.1-1.6-6.9-1.2-4.1-1.5-6.9-1.9-6.8-3.1-7.8-3.2-6.3-5.6-8.1-3.7-4.1-4.1-3.7-2.3-1.6-2.8-1.5-2.4-0.7-2.3 0.1-2.5 1.3-1.7 2.3-0.6 2.3 0.2 3.3 0.5 2.5 1.4 3.3 7.3 11.9 2.2 4.1 3.3 7.5 1.5 4.5 1.7 6.8 0.4 4.7-0.1 5.9z"/><path fill="#46ff00" d="M97.3 3.1l22.8 0.7 0.2-4.3-0.6-7.2-1.5-6.8-3-9.5-1.2-5.4-1.6-5.4-3.7-9-2.7-4.8-1.5-2.4-3.5-4.6-5.3-5.3-2.8-2.1-3-1.6-2.8-0.7-1.2 0.1-0.9 0.3-1.4 1.1-0.9 2-0.2 2.9 0.5 4 1.9 4.4 5.2 9.2 2.6 5.2 3 7.7 2.2 8 0.5 4.7 0 4.8z"/><path fill="#6cff00" d="M97.9 3.1l21.6 0.7 0.1-5.7-0.2-2.8-0.8-5-1.5-5.6-3.1-8.4-2.7-9.8-2.3-6-1.8-3.7-2-3.6-2.3-3.4-3.2-3.9-2.4-2.4-3.9-2.9-3-1.2-1.2-0.1-1.8 0.6-1.2 1.6-0.4 1.7 0 2.9 0.9 3.7 3.7 7.4 4.4 9.8 2.3 6.7 1.5 5.8 0.3 2.3 0.1 4.8z"/><path fill="#93ff00" d="M98.4 3.1l20.5 0.6 0-7-1.3-7.5-1.1-3.5-4.8-11.7-1.8-6.6-1.9-5.1-2.4-4.8-2.1-3.5-2.2-3-3.1-3.3-3-2.3-1.5-0.7-2.3-0.3-0.9 0.4-1.1 1.7-0.4 1.9 0.2 2.7 0.4 1.5 4.2 9.6 2.6 6.7 1.5 4.6 1.4 5.8 0.3 7.2z"/><path fill="#b9ff00" d="M98.9 3.1l19.3 0.6 0.2-4.2-0.3-4.2-0.8-4.1-1.2-4.1-1.6-3.9-3.9-7.6-1-2.5-1.9-6.4-1.2-3.1-1.5-3-1.8-3.1-3.7-4.6-2.3-1.9-2.5-0.8-0.9 0.3-0.7 0.7-0.5 1.1-0.2 1.6 0.4 2.2 5.3 14.8 1.9 7 0.3 2.5-0.1 6.1z"/><path fill="#dfff00" d="M99.5 3.1l18 0.6 0.2-4.2-0.3-4.2-0.5-2.7-1.2-4.1-1.4-3.3-1.6-3.2-4.7-7.2-1-2.4-1.1-3.8-2.8-5.9-1.9-2.6-1.6-1.6-1.3-0.5-0.9 0.1-0.7 0.7-0.2 2 3.9 13.3 0.6 2.4 0.2 2.4-0.2 6.2-1.4 14.5z"/><path fill="#fff900" d="M100.1 3.1l16.7 0.6 0.2-4.2-0.6-5.5-1.1-4.1-1-2.6-2.9-5-2.7-3.2-2.3-1.9-1-0.5-1.1-0.2-0.8 0.3-0.7 1.5-0.5 2.9-1.5 11.2-0.7 8.4z"/><path fill="#ffd200" d="M100.7 3.2l15.4 0.4 0.2-4.1-0.4-4.1-0.9-3.8-1.1-2.9-1.4-2.6-1.7-2.4-1.6-1.6-2.1-1.3-1-0.2-1.7 0.6-0.8 1-0.6 1.9-0.8 3.3-1 6.7z"/><path fill="#ffac00" d="M101.4 2l0 1.2 13.9 0.4 0.2-1.3 0-4.1-0.4-2.8-1.1-4-1.2-2.6-1.6-2.5-1.6-1.7-2.1-1.1-0.9-0.1-1.8 0.7-0.8 1-0.7 1.7-1.5 8z"/><path fill="#ff8600" d="M102.1 3.2l12.4 0.4 0.2-2.7-0.2-4.1-1-4-2-3.9-1.6-1.8-1-0.8-1-0.4-1.8 0.2-0.9 0.6-0.8 1-0.8 2-0.7 2.6-0.7 4.9z"/><path fill="#ff6000" d="M103 3.2l10.6 0.4 0.1-5.4-0.3-2.2-1-3.1-1.5-2.6-0.7-0.8-2-1.2-1-0.1-0.9 0.3-0.8 0.7-0.8 1.2-0.8 2-0.9 4.7z"/><path fill="#ff3900" d="M104 2l0.1 1.3 8.4 0.2 0.3-4-0.3-2.6-0.4-1.3-0.7-1.8-1-1.6-1-0.9-1-0.5-0.9-0.1-0.9 0.4-0.9 0.9-0.8 1.5-0.9 3.6z"/><path fill="#ff1300" d="M105.6 3.3l5.5 0.2 0.3-1.3 0.1-2.7-0.5-2.6-0.5-1.3-0.9-1.3-1-0.6-0.9 0-0.9 0.5-1 1.6-0.7 3.8z"/></g></g></g>
<g transform="translate(279.70 360.3)"><g clip-path="url(#cl)"><g filter="url(#bl)"><rect x="40" y="-100" width="100" height="110" fill="#ff0013"/><path fill="#ff0039" d="M63.5 2l63.7 2 0.1-7.5-0.4-6.1-0.7-7.4-0.7-4.5-2.6-11.8-1.7-5.8-3.1-8.5-3-6.9-2-4-2.9-5.3-4.8-7.7-3.5-4.9-4.7-5.9-4-4.5-3.2-3.2-45.1 45.1 2.6 2.7 2.9 3.5 3.4 4.9 3.3 6 2.1 4.8 1.5 4.2 1.8 7.3 0.8 6zM98.6-23.9l-0.8-0.1-1.7-0.8-0.8-0.7-0.8-1.3-0.3-1.1 0.1-1.3 0.5-1.2 1.7-2 2.2-1.1 2-0.3 1.9 0.4 1.8 1.1 0.9 1.3 0.4 2.4-0.4 1.4-1.4 1.9-1.6 1-1.8 0.4z"/><path fill="#ff0060" d="M63.5 2l63.7 2 0.1-7.5-0.4-6.1-0.7-7.4-0.7-4.5-2.6-11.8-1.7-5.8-3.1-8.5-3-6.9-2-4-2.9-5.3-4.8-7.7-3.5-4.9-4.7-5.9-4-4.5-3.2-3.2-45.1 45.1 2.6 2.7 2.9 3.5 3.4 4.9 3.3 6 2.1 4.8 1.5 4.2 1.8 7.3 0.8 6zM97.9-22.7l-2.3-0.8-2.1-1.8-0.8-2.4 0.3-2.1 0.6-1.3 2.1-2.3 2.5-1.3 2.8-0.4 2.3 0.4 1 0.5 1.6 1.4 1.2 2.4 0 2.4-0.7 1.9-1.3 1.6-2.6 1.5-2.7 0.5z"/><path fill="#ff0086" d="M63.5 2l63.7 2 0.1-7.5-0.4-6.1-0.7-7.4-0.7-4.5-2.6-11.8-1.7-5.8-3.1-8.5-3-6.9-2-4-2.9-5.3-4.8-7.7-3.5-4.9-4.7-5.9-4-4.5-3.2-3.2-45.1 45.1 2.6 2.7 2.9 3.5 3.4 4.9 3.3 6 2.1 4.8 1.5 4.2 1.8 7.3 0.8 6zM98.2-21.5l-2.1-0.5-1-0.5-1.1-0.6-1.3-1.3-0.9-1.6-0.3-1.1 0-1.5 0.4-1.7 1.3-2.2 1.4-1.4 2.4-1.5 3.6-0.9 2.5 0.3 1.8 0.7 1.3 0.9 1 1.2 0.7 1.2 0.4 1.3 0.2 1.3-0.1 1.4-0.8 2.2-1.5 1.9-2.4 1.6-2.7 0.8z"/><path fill="#ff00ac" d="M63.5 2l63.7 2 0.1-7.5-0.4-6.1-0.7-7.4-0.7-4.5-2.6-11.8-1.7-5.8-3.1-8.5-3-6.9-2-4-2.9-5.3-4.8-7.7-3.5-4.9-4.7-5.9-4-4.5-3.2-3.2-45.1 45.1 2.6 2.7 2.9 3.5 3.4 4.9 3.3 6 2.1 4.8 1.5 4.2 1.8 7.3 0.8 6zM99.3-20.5l-0.9 0-3-0.7-2.7-1.6-1.6-1.9-0.4-1-0.3-1.1 0-2.1 0.4-1.6 0.6-1.2 2.8-3.2 1.6-1 2.4-1 2.1-0.4 2.4 0.1 1.7 0.5 1.9 1 1.2 1 0.9 1.2 0.6 1.2 0.6 2.6-0.3 2.9-0.6 1.4-0.8 1.1-2.3 2.2-2.6 1.1-1.8 0.4z"/><path fill="#ff00d2" d="M63.5 2l63.7 2 0.1-7.5-0.4-6.1-0.7-7.4-0.7-4.5-2.6-11.8-1.7-5.8-3.1-8.5-3-6.9-2-4-2.9-5.3-4.8-7.7-3.5-4.9-4.7-5.9-4-4.5-3.2-3.2-45.1 45.1 2.6 2.7 2.9 3.5 3.4 4.9 3.3 6 2.1 4.8 1.5 4.2 1.8 7.3 0.8 6zM100.4-19.7l-4.3-0.3-2.6-1-1.1-0.7-1.2-1.1-1.1-1.6-0.5-1-0.4-2.2 0.4-2.5 0.6-1.4 0.8-1.3 1.8-2.1 3.5-2.3 3.6-1 2-0.1 2.5 0.5 1.9 0.8 2.3 2 1.5 2.4 0.6 2.6 0 1.4-0.2 1.5-0.8 2-0.7 1.1-1.6 1.7-1.6 1.2-1.5 0.7z"/><path fill="#ff00f9" d="M63.5 2l63.7 2 0.1-7.5-0.4-6.1-0.7-7.4-0.7-4.5-2.6-11.8-1.7-5.8-3.1-8.5-3-6.9-2-4-2.9-5.3-4.8-7.7-3.5-4.9-4.7-5.9-4-4.5-3.2-3.2-45.1 45.1 2.6 2.7 2.9 3.5 3.4 4.9 3.3 6 2.1 4.8 1.5 4.2 1.8 7.3 0.8 6zM97.7-19l-1.9-0.3-3.1-1.1-1.3-0.9-1.8-1.8-1-2-0.4-2.2 0.3-2.4 0.5-1.3 1-1.9 1-1.3 1.8-1.8 3.2-2 2.6-0.9 1.9-0.3 3.2 0.2 2.1 0.7 2.8 1.8 1 1.1 0.8 1.2 1.1 2.6 0.2 3.1-0.4 2.1-0.6 1.5-2.2 3-2.5 1.6-3.6 1.1z"/><path fill="#df00ff" d="M63.5 2l63.7 2 0.1-7.5-0.4-6.1-0.7-7.4-0.7-4.5-2.6-11.8-1.7-5.8-3.1-8.5-3-6.9-2-4-2.9-5.3-4.8-7.7-3.5-4.9-4.7-5.9-4-4.5-3.2-3.2-45.1 45.1 2.6 2.7 2.9 3.5 3.4 4.9 3.3 6 2.1 4.8 1.5 4.2 1.8 7.3 0.8 6zM99.7-18.3l-4.8-0.5-2-0.6-2.6-1.7-1.7-1.8-0.6-1-0.7-2.5 0.1-2.7 1.6-3.9 2-2.5 2.3-1.9 2.4-1.3 2.6-1 2.9-0.4 2 0.1 3.9 1.2 2 1.4 1.5 1.7 0.8 1.2 1 2.6 0.3 2.8-0.1 1.4-0.9 3-1 1.6-2 2.2-1.7 1.1-1.8 0.7-2.7 0.6z"/><path fill="#b900ff" d="M63.5 2l63.7 2 0.1-7.5-0.4-6.1-0.7-7.4-0.7-4.5-2.6-11.8-1.7-5.8-3.1-8.5-3-6.9-2-4-2.9-5.3-4.8-7.7-3.5-4.9-4.7-5.9-4-4.5-3.2-3.2-45.1 45.1 2.6 2.7 2.9 3.5 3.4 4.9 3.3 6 2.1 4.8 1.5 4.2 1.8 7.3 0.8 6zM98-17.8l-3.9-0.5-2.4-0.8-1.4-0.8-1.6-1.4-1.5-2.1-0.5-1.2-0.4-3.2 0.5-2.5 1.2-2.7 1.3-1.8 1.4-1.5 3.1-2.3 3.3-1.6 1.8-0.5 2.9-0.3 3.1 0.4 3.6 1.6 1.1 0.8 2 2.2 1.7 3.9 0.3 2.8-0.3 2.9-1.3 3.1-1.5 2-1.5 1.3-2.8 1.3-1.7 0.5-2.8 0.4z"/><path fill="#9300ff" d="M63.5 2l63.7 2 0.1-7.5-0.4-6.1-0.7-7.4-0.7-4.5-2.6-11.8-1.7-5.8-3.1-8.5-3-6.9-2-4-2.9-5.3-4.8-7.7-3.5-4.9-4.7-5.9-4-4.5-3.2-3.2-45.1 45.1 2.6 2.7 2.9 3.5 3.4 4.9 3.3 6 2.1 4.8 1.5 4.2 1.8 7.3 0.8 6zM100.9-17.2l-2.8 0-4.9-0.7-2.7-0.9-1.3-0.9-1.3-1.2-1.7-2.4-0.7-2.1 0-3.3 0.7-2.5 2.1-3.6 1.4-1.6 2.2-1.8 2.4-1.5 4.3-1.7 1.9-0.4 3 0 2.5 0.6 2 0.8 2.5 1.8 1.1 1.2 2.1 3.7 0.8 4.1 0 1.5-0.6 3-0.7 1.5-2.4 3.3-1.8 1.2-2.6 1.1-3.7 0.7z"/><path fill="#6c00ff" d="M63.5 2l63.7 2 0.1-7.5-0.4-6.1-0.7-7.4-0.7-4.5-2.6-11.8-1.7-5.8-3.1-8.5-3-6.9-2-4-2.9-5.3-4.8-7.7-3.5-4.9-4.7-5.9-4-4.5-3.2-3.2-45.1 45.1 2.6 2.7 2.9 3.5 3.4 4.9 3.3 6 2.1 4.8 1.5 4.2 1.8 7.3 0.8 6zM98.2-16.7l-2.9-0.2-4.2-0.9-1.8-0.8-2.3-1.9-1.5-2.1-0.9-2.5-0.2-2.1 0.6-3.2 1.7-3.5 2-2.5 2.2-1.9 3.2-2 4.2-1.8 1.9-0.4 2.9-0.2 3.2 0.6 3.7 1.9 1.5 1.3 1.8 2.4 1.5 3.9 0.5 2.8-0.1 2.9-0.6 2.5-1.1 2.2-1.2 1.6-1.5 1.3-1.7 1-4.4 1.3-2.8 0.3z"/><path fill="#4600ff" d="M63.5 2l63.7 2 0.1-7.5-0.4-6.1-0.7-7.4-0.7-4.5-2.6-11.8-1.7-5.8-3.1-8.5-3-6.9-2-4-2.9-5.3-4.8-7.7-3.5-4.9-4.7-5.9-4-4.5-3.2-3.2-45.1 45.1 2.6 2.7 2.9 3.5 3.4 4.9 3.3 6 2.1 4.8 1.5 4.2 1.8 7.3 0.8 6zM102-16.2l-4.7 0-2.9-0.3-2.3-0.4-3.6-1.3-1.5-1-2.2-2.7-1.1-2.9-0.2-2.1 0.6-3.6 0.5-1.1 1.8-3.2 2-2.3 4.6-3.3 3.3-1.6 2.7-1 3.7-0.6 3.2 0.4 2.6 1 2.3 1.5 1.5 1.5 1.7 2.5 1.1 2.6 0.9 3.7 0.1 3.3-0.6 2.8-0.6 1.5-1.2 1.9-1.5 1.7-1.2 0.8-2.7 1.2-2.6 0.6z"/><path fill="#2000ff" d="M63.5 2l63.7 2 0.1-7.5-0.4-6.1-0.7-7.4-0.7-4.5-2.6-11.8-1.7-5.8-3.1-8.5-3-6.9-2-4-2.9-5.3-4.8-7.7-3.5-4.9-4.7-5.9-4-4.5-3.2-3.2-45.1 45.1 2.6 2.7 2.9 3.5 3.4 4.9 3.3 6 2.1 4.8 1.5 4.2 1.8 7.3 0.8 6zM99.3-15.7l-5.7-0.4-3-0.6-2-0.6-2.1-1.2-2.1-2.2-1.7-3.8-0.2-2.1 0.6-3.6 1.2-2.6 2.4-3.5 2.9-2.6 3.2-2 3.3-1.7 3.5-1.3 3.7-0.6 3.3 0.5 3 1.3 2 1.5 1.5 1.7 1.6 2.5 1.5 4 0.7 4.3 0 1.5-0.5 3-1.2 2.8-1.4 1.9-2.4 1.8-2.9 1.1-1.8 0.4-2.8 0.4z"/><path fill="#0006ff" d="M63.5 2l63.7 2 0.1-7.5-0.4-6.1-0.7-7.4-0.7-4.5-2.6-11.8-1.7-5.8-3.1-8.5-3-6.9-2-4-2.9-5.3-4.8-7.7-3.5-4.9-4.7-5.9-4-4.5-3.2-3.2-45.1 45.1 2.6 2.7 2.9 3.5 3.4 4.9 3.3 6 2.1 4.8 1.5 4.2 1.8 7.3 0.8 6zM104.9-15.4l-2.8 0.2-5.8-0.1-4.6-0.6-4.4-1.2-2.4-1.6-1.5-1.8-1.4-2.8-0.4-1.9 0.1-3.3 0.8-2.5 2.6-4.4 1.9-2.1 4-3 4-2.2 5.2-2.1 2.8-0.5 3.1 0.2 3.1 1.1 1.8 1.1 1.5 1.4 2.2 3 1.2 2.6 1.5 5.6 0.2 2.5-0.2 3.2-0.6 2-1.4 2.6-0.8 1-1.6 1.3-2.6 1.2-3.7 0.9z"/><path fill="#002dff" d="M63.5 2l63.7 2 0.1-7.5-0.4-6.1-0.7-7.4-0.7-4.5-2.6-11.8-1.7-5.8-3.1-8.5-3-6.9-2-4-2.9-5.3-4.8-7.7-3.5-4.9-4.7-5.9-4-4.5-3.2-3.2-45.1 45.1 2.6 2.7 2.9 3.5 3.4 4.9 3.3 6 2.1 4.8 1.5 4.2 1.8 7.3 0.8 6zM100.3-14.7l-5.9-0.3-3.6-0.5-2.9-0.7-3.2-1.4-2.4-2.6-1.3-2.8-0.5-3 0.3-2.6 1.3-3.4 1.8-3 2.3-2.5 2.2-1.9 5.6-3.4 5-2.3 1.8-0.6 3.3-0.6 2.7 0.3 2.3 0.8 2.6 1.7 2.1 2.3 1.5 2.5 1.7 4 1 4.2 0.3 4.4-0.5 3.5-0.7 1.7-1.5 2.3-2.5 1.8-2.6 1-2.8 0.6-3.6 0.4z"/><path fill="#0053ff" d="M63.5 2l63.7 2 0.1-7.5-0.4-6.1-0.7-7.4-0.7-4.5-2.6-11.8-1.7-5.8-3.1-8.5-3-6.9-2-4-2.9-5.3-4.8-7.7-3.5-4.9-4.7-5.9-4-4.5-3.2-3.2-45.1 45.1 2.6 2.7 2.9 3.5 3.4 4.9 3.3 6 2.1 4.8 1.5 4.2 1.8 7.3 0.8 6zM97.6-14.4l-6.7-0.6-3.9-0.8-2-0.7-2.2-1.4-2.1-2.9-1-2.8-0.3-3.2 0.9-3.4 2.4-4.3 1.4-1.7 3.3-3.1 4.7-3.1 5.8-2.9 4-1.5 3.2-0.5 3.4 0.7 2.6 1.4 2.5 2.5 1.7 2.5 1.8 4 0.9 2.7 1 5.8 0 2.9-0.5 3-1.5 3.2-2 1.8-1.8 0.8-1.8 0.6-4.5 0.9-2.8 0.2z"/><path fill="#0079ff" d="M63.5 2l63.7 2 0.1-7.5-0.4-6.1-0.7-7.4-0.7-4.5-2.6-11.8-1.7-5.8-3.1-8.5-3-6.9-2-4-2.9-5.3-4.8-7.7-3.5-4.9-4.7-5.9-4-4.5-3.2-3.2-45.1 45.1 2.6 2.7 2.9 3.5 3.4 4.9 3.3 6 2.1 4.8 1.5 4.2 1.8 7.3 0.8 6zM102.3-13.8l-6.5-0.2-4.8-0.5-3.3-0.5-4.4-1.3-2-1.6-1.3-1.7-0.8-1.5-0.9-3.1 0-3.1 0.8-2.4 2.4-4.3 1.4-1.8 4.3-4 3.9-2.6 3.2-1.8 5.9-2.8 4.5-1.3 2 0 3 1 2.8 2 1.9 2.3 2.2 3.9 1.6 4.1 1.3 5.7 0.3 2.7-0.3 4.7-0.4 1.5-1.4 2.7-2.6 1.9-5.4 1.5z"/><path fill="#009fff" d="M63.5 2l63.7 2 0.1-7.5-0.4-6.1-0.7-7.4-0.7-4.5-2.6-11.8-1.7-5.8-3.1-8.5-3-6.9-2-4-2.9-5.3-4.8-7.7-3.5-4.9-4.7-5.9-4-4.5-3.2-3.2-45.1 45.1 2.6 2.7 2.9 3.5 3.4 4.9 3.3 6 2.1 4.8 1.5 4.2 1.8 7.3 0.8 6zM99.6-13.4l-10.2-0.8-6.1-1.2-1.6-0.6-1.9-1.6-1.7-2.6-1-2.7-0.2-3.9 1.3-3.3 3.2-5 2.7-2.7 5.2-4.1 4.8-2.8 6.6-3.3 4.5-1.4 2-0.1 1.1 0.2 2.8 1.4 2.4 2.2 1.8 2.4 2.6 5.3 1.7 5.6 0.8 4.3 0.2 5.4-0.3 2.1-0.8 2.4-0.8 1.3-1.7 1.3-2.6 1-1.9 0.5-4.5 0.6z"/><path fill="#00c6ff" d="M63.5 2l63.7 2 0.1-7.5-0.4-6.1-0.7-7.4-0.7-4.5-2.6-11.8-1.7-5.8-3.1-8.5-3-6.9-2-4-2.9-5.3-4.8-7.7-3.5-4.9-4.7-5.9-4-4.5-3.2-3.2-45.1 45.1 2.6 2.7 2.9 3.5 3.4 4.9 3.3 6 2.1 4.8 1.5 4.2 1.8 7.3 0.8 6zM105.2-12.9l-5.6 0-7.9-0.6-7.2-0.9-4.7-1.2-1.8-1.6-2-3.4-0.7-2.7-0.1-2.9 0.9-2.4 3.9-5.9 3.8-3.8 3-2.4 4.7-3.1 8.9-4.8 2.5-1.2 2.7-0.9 2.1-0.3 0.9 0.1 2.6 1.3 2.5 2.2 1.8 2.5 2.3 4.5 1.4 3.5 1.6 5.7 0.7 4.4 0.1 6-1 3.8-0.8 1.1-1.7 1.2-4.6 1.2-4.5 0.5z"/><path fill="#00ecff" d="M63.5 2l63.7 2 0.1-7.5-0.4-6.1-0.7-7.4-0.7-4.5-2.6-11.8-1.7-5.8-3.1-8.5-3-6.9-2-4-2.9-5.3-4.8-7.7-3.5-4.9-4.7-5.9-4-4.5-3.2-3.2-45.1 45.1 2.6 2.7 2.9 3.5 3.4 4.9 3.3 6 2.1 4.8 1.5 4.2 1.8 7.3 0.8 6zM101.6-12.4l-11.8-0.8-8.1-0.9-5-0.9-1.6-1.6-1.5-2.4-0.9-2.6-0.3-3.7 1.3-2.4 5.6-7.1 2.1-2.1 4.4-3.7 3.9-2.7 13.6-7.8 4.2-2 1.9-0.3 1.2 0.4 1.5 0.9 2.7 2.7 1.7 2.5 2.6 5.4 1.9 5.6 1.2 4.3 0.9 4.4 0.5 4.5 0 3-0.3 2.1-0.2 1-0.7 1.5-0.6 0.6-1.8 0.8-3.6 0.7-3.7 0.4z"/><path fill="#00ffec" d="M65.1 2l59.3 1.9 0-4.4-0.6-4.4-1.5-4.3-1-1.5-1-0.7-1-0.3-1.8-0.2-14.9 0-19.4-1.4-4.2-0.1-2.7 0.5-2.7 1-3.5 1.6-2.7 2-1.2 1.7-0.7 2.4zM69.2-28.8l1.6-0.1 1.8-0.5 2.3-1.8 4.8-5 4.4-3.7 5-3.6 13.8-8.5 3.1-2.8 0.6-2.2-0.1-3-0.8-2.9-1.1-2.7-2.3-3.8-1.8-2.3-2.1-2.1-2.4-1.8-3-1.3-2.4-0.3-1.7 0.1-3.6 0.9-2.7 1.2-3.2 1.9-5.8 4.7-9.3 9-7.5 8.2-2.1 3.2-0.8 1.9-0.3 1.8 0.1 2 1.5 3.9 2.1 3.4 2.6 3.1 2.1 1.6 2.1 0.9 1.6 0.4z"/><path fill="#00ffc6" d="M65.9 2.1l57.1 1.8 0.1-2.9-0.6-4.4-1.5-4.3-1.5-1.8-1-0.7-0.9-0.3-4.7-0.6-15-0.6-13.1-0.9-3.8 0-2.7 0.4-4.5 1.6-3.5 1.7-1.7 1.3-0.8 0.9-0.9 1.7-0.7 3zM69.9-31.1l2.8-0.5 1.6-0.9 11.1-9 13.3-8.6 3.6-2.8 1.4-1.6 0.8-2.3 0.2-2.2-0.5-3-0.7-2.2-1.6-3.1-1.7-2.4-2-2.1-2.4-1.8-3-1.3-1.9-0.3-2.2 0.1-4.1 1-5 2.6-3 2.2-4.2 3.7-8.6 8.4-3.7 4.2-2.7 3.9-1.4 2.8-0.4 2.5 0.4 2.8 0.6 1.6 1.6 2.9 1.5 1.9 1.3 1.2 2.5 1.5 2.5 0.7 1.7 0.2z"/><path fill="#00ff9f" d="M66.6 2.1l53.2 1.7 2.1 0 0.1-1.4-0.4-4.3-1.5-4.3-1.4-1.9-0.9-0.8-1-0.5-2-0.6-2.8-0.4-25.3-1.6-3.7 0-4.6 0.7-4.4 1.7-3.5 1.8-1.2 0.9-1.4 1.8-1 3.2zM69.5-32.9l4.2-0.9 3.2-1.9 9-6.8 10.9-7.1 2.3-1.7 2.7-2.8 1-2.1 0.3-1.9 0-1.6-0.5-3-1.1-2.7-1.6-2.6-1.8-2-2.3-1.9-2.8-1.3-1.8-0.4-2.1-0.1-3.5 0.6-3.7 1.5-3.2 2-2.9 2.2-5.5 5-6.6 6.5-3.5 4.5-1.5 2.5-1.3 3.7-0.1 2.2 0.2 1.6 1.1 2.7 0.8 1.4 1.1 1.3 1.3 1.2 1.5 0.9 3.6 1z"/><path fill="#00ff79" d="M67.2 2.1l52.6 1.7 1 0 0.1-1.4-0.2-2.9-0.8-3-2-3.4-2.5-1.8-3.3-0.9-3.8-0.5-21.5-1.4-4.7 0.2-2.4 0.5-5.6 2.1-3.5 1.9-1.6 1.6-1 1.8-0.6 2.3zM71.1-34.7l2.9-0.6 1.7-0.7 2.4-1.4 9.1-6.6 9.3-6.2 2.9-2.6 1.2-1.6 0.9-2.3 0.2-1.4 0-2.4-0.4-1.9-0.8-2.3-1.5-2.5-3-3-1.9-1.1-1.6-0.6-2.8-0.5-3.3 0.3-1.9 0.5-2.7 1.2-2.5 1.4-3 2.2-5.5 4.9-4.7 4.5-4.1 4.9-1.6 2.6-1.4 3.4-0.3 3.6 0.5 2.3 0.5 1.1 1.7 2.3 2 1.5 1.4 0.6 3.4 0.6z"/><path fill="#00ff53" d="M67.8 2.1l51.9 1.7 0.1-1.5-0.3-2.8-0.5-1.8-1-2.1-1-1.4-1.5-1.5-2.6-1.2-5.4-1.1-4.7-0.5-15-0.9-5.6 0.4-1.8 0.4-2.7 0.9-5.3 2.3-2.3 1.7-1.2 1.6-0.9 2.6zM71.6-36l1.9-0.3 2.7-0.9 3.2-1.8 9.1-6.5 5.5-3.6 2.9-2.4 2.5-2.9 0.7-2 0.3-1.7-0.1-3.2-0.5-1.8-1.8-3.4-1.7-1.8-1.4-1.1-4-1.6-2.7-0.2-3.1 0.5-3.6 1.4-4.7 3.1-5.6 4.8-5.3 5.2-2.4 2.9-2.1 3.3-1 2.4-0.5 2.7 0.1 2.1 0.4 1.8 1.4 2.2 2.2 1.8 3.5 1.1 2.1 0.1z"/><path fill="#00ff2d" d="M68.3 2.1l47.8 1.6 2.4 0 0.1-1.4-0.4-2.8-1.1-2.8-1.9-2.6-2-1.5-2.9-1-3.7-0.7-9.4-1-8.4-0.4-4.7 0.2-1.8 0.3-3.6 1.1-5.8 2.5-2.2 1.6-1.5 2.1-0.7 2.4zM75-37.7l3.3-1.4 3.2-2 10.7-7.5 3.6-2.9 2-2.3 1.3-3.6 0-3.3-0.3-1.3-0.4-1.4-1.4-2.4-2-2-1.2-0.8-3-1.2-4.1-0.2-2.9 0.7-2.6 1.1-4.6 3.1-7.7 6.7-3.8 4.1-2.2 3.2-1.3 2.8-0.6 3.7 0.2 2 1.1 2.5 2 1.8 1.1 0.6 2.5 0.7 3.6 0z"/><path fill="#00ff06" d="M68.9 2.2l47.2 1.5 1.1 0 0.1-1.4-0.4-2.8-1.2-2.7-2.4-2.9-1.7-1-4-1.2-5.7-0.9-11.2-0.8-4.6 0.1-4.6 0.8-4.5 1.6-3.6 1.7-1.9 1.3-1.5 1.7-1 2.8zM74.1-38.4l3.1-0.9 4.8-2.8 9.9-7 2.2-1.8 2-2.1 1.1-1.8 0.4-1.2 0.4-2.3-0.2-2.8-0.5-1.6-1.4-2.4-2.2-2.1-2.5-1.2-3.6-0.6-2.5 0.3-4.2 1.6-3.1 2-7.1 5.9-2.7 2.6-3 3.6-1.1 1.7-1.3 2.8-0.6 3.1 0.2 2.1 1.1 2.5 1.3 1.3 0.9 0.5 2.9 1 3.2 0.1z"/><path fill="#20ff00" d="M69.5 2.2l46.5 1.4-0.1-2.7-0.3-1.4-1.3-2.7-1.9-2.2-1.9-1.2-2.9-1-3.8-0.8-5.6-0.7-6.5-0.4-3.7 0-5.5 0.8-3.6 1.2-4.5 2-1.8 1.1-1.8 1.7-0.8 1.6-0.4 1.6zM73.3-39.1l1.7-0.3 3.5-1.3 3.2-1.9 9.9-7.1 2.8-2.6 1.2-1.6 1.1-3.6 0.1-1.7-0.2-1.4-0.9-2.6-1.7-2.2-1.1-0.9-2.9-1.3-2.6-0.3-2.2 0.2-2 0.5-2.6 1.2-3.8 2.6-5 4-3.4 3.3-2.4 2.9-1.5 2.4-1.2 3.2-0.2 2.8 0.3 1.8 0.4 0.8 1.1 1.4 1.4 1 1.4 0.6 2.4 0.4z"/><path fill="#46ff00" d="M70.2 2.2l44.5 1.4-0.1-2.7-0.9-2.7-1.9-2.6-1.5-1.3-4.5-1.7-2.8-0.6-4.6-0.6-5.7-0.4-3.8 0-3.6 0.3-3.7 1-5 1.9-2.2 1.1-2.4 1.8-0.7 0.9-0.8 1.7zM76.3-40.6l3.5-1.6 3.2-2 7.5-5.6 2.1-1.8 1.3-1.5 1-1.9 0.4-1.3 0.3-2.1-0.1-1.5-0.9-2.6-0.7-1.2-2.1-1.8-1.3-0.7-1.6-0.4-3-0.2-3 0.7-2.3 1-4.1 2.8-5.7 4.7-2.2 2.2-2.7 3.6-1.3 2.8-0.6 3.3 0.4 2 0.9 1.6 1.5 1.3 1 0.5 2.9 0.6 2-0.1z"/><path fill="#6cff00" d="M70.9 2.2l42.5 1.4-0.1-2.7-1-2.7-1.7-2.3-2-1.5-1.8-0.8-3.8-1-3.8-0.6-5.6-0.5-4.6 0-3.7 0.4-3.6 1-4.5 1.8-2.7 1.5-1.8 1.4-1.4 2.1zM75-41.1l3.7-1.3 3.2-1.8 8.2-6.2 2.1-2 0.6-0.9 1-1.9 0.6-2.5-0.2-2.1-0.7-2-0.7-1.1-2.1-1.8-1.3-0.6-1.8-0.4-2.2 0-2.8 0.7-1.7 0.8-3.9 2.5-5.1 4-3.3 3.4-1.7 2.3-1.3 2.8-0.4 1.5-0.1 2.4 0.6 1.8 1.3 1.5 1.9 1 1.4 0.3 2 0z"/><path fill="#93ff00" d="M71.8 2.3l40.3 1.2 0.1-1.3-0.6-2.7-0.7-1.3-0.9-1.3-1.3-1.3-1.8-1.1-3.1-1.1-4.7-0.9-5.4-0.5-3.7 0-2.8 0.2-4.6 1.1-4.4 1.7-2.8 1.5-2.6 2.3-0.8 1.8zM74.1-41.7l3.4-1 4.9-2.6 5.2-4 3.6-3.5 1.3-2.2 0.5-1.8 0.1-1.6-0.2-1.4-0.5-1.3-0.7-1.1-1-0.9-1.2-0.8-1.5-0.5-1.6-0.2-2.1 0.2-1.9 0.6-3.4 1.7-3.8 2.6-3.6 3-2.5 2.7-1.1 1.5-1.7 3.8-0.2 1.3 0.2 2.2 1 1.7 2 1.3 2.4 0.4z"/><path fill="#b9ff00" d="M72.9 2.3l37.9 1.2 0.1-1.3-0.6-2.7-1.5-2.3-1.9-1.7-1.8-0.9-5.8-1.5-2.9-0.4-5.5-0.2-3.7 0.3-1.8 0.4-4.5 1.4-2.7 1.2-2.7 1.7-1.4 1.3-0.7 0.9-0.5 1.7zM77.1-43.4l3.3-1.6 3.1-2 4.6-4 2.5-2.9 0.9-2 0.2-2.7-0.5-1.7-0.7-1.1-1-0.9-2.9-1-2.2 0-2.3 0.7-1.7 0.8-4 2.4-2.9 2.2-3.3 3.2-1.2 1.7-1 1.7-0.8 2.6 0.2 2.3 0.9 1.7 1.9 1.1 2 0.4 2.1-0.2z"/><path fill="#dfff00" d="M74.1 2.3l35.4 1.1 0.1-1.3-0.2-1.3-1.2-2.5-1.1-1.3-2.1-1.5-2.8-1.1-2.8-0.7-3.8-0.5-5.5-0.1-5.5 1-2.8 0.9-4 1.9-2.3 1.8-0.8 1-0.6 1.7zM75.9-44l3.3-1.3 3.9-2.5 3.5-3.2 3-3.7 0.6-1.9 0-1.5-0.4-1.3-0.7-1.1-1-0.8-1.4-0.6-2.9 0-3.6 1.4-2.4 1.3-3.1 2.1-2.1 1.8-2.3 2.6-1.3 2.2-0.6 2-0.1 1 0.6 2 1.4 1.4 1.2 0.4 1.7 0.2z"/><path fill="#fff900" d="M75.3 2.4l32.9 1-0.2-2.6-0.5-1.2-0.8-1.3-1.6-1.6-1.9-1.1-2.9-1-3.7-0.7-2.8-0.2-2.8 0-3.7 0.5-4.5 1.2-3.2 1.4-1.6 1-1.6 1.5-0.9 1.5zM75.4-44.9l2.5-0.8 3.2-1.8 3.2-2.6 1.7-1.9 2.2-3.5 0.3-1.5-0.3-1.3-0.7-1.1-1.3-0.8-1.3-0.2-3.1 0.5-3.4 1.5-3.2 2-3.4 3.2-1.1 1.6-0.8 1.7-0.3 1.5 0.1 1.1 0.4 1 0.6 0.7 1.2 0.7 1.2 0.2z"/><path fill="#ffd200" d="M76.7 2.4l30.1 1-0.2-2.6-0.5-1.2-0.9-1.3-2-1.6-2.8-1.3-1.9-0.5-5.6-0.6-2.8 0.1-4.5 0.9-4.6 1.7-1.8 1.1-1.7 1.6-0.8 1.8zM75.4-46.1l1.9-0.5 1.7-0.8 1.6-1 2.8-2.5 1.8-2.6 0.7-1.9 0-1.4-0.6-1-1.2-0.5-1.1 0-1.4 0.1-2.5 0.8-2.5 1.3-1.5 1.1-2.6 2.7-0.7 1-0.6 1.8-0.1 1.2 0.4 1 0.7 0.8 1.1 0.4z"/><path fill="#ffac00" d="M78.2 2.5l27.1 0.8 0.1-1.2-0.3-1.3-0.9-1.7-1.9-1.7-2.8-1.4-3.8-0.8-2.7-0.2-5.6 0.6-3.6 1.1-2.2 1-2.4 1.8-0.8 1.1zM76.1-47.8l2.2-0.8 1.6-1 1.7-1.6 1.3-2.2 0.1-1.5-0.7-0.9-1.8-0.2-1.3 0.3-2.6 1.3-2.1 1.8-1.1 1.6-0.3 1.2 0.3 1.3 0.8 0.7z"/><path fill="#ff8600" d="M79.7 2.5l24 0.8 0.1-1.3-0.5-1.7-1-1.3-0.9-0.8-1.9-1.1-3.7-1-4.7-0.2-4 0.6-4.2 1.6-2.2 1.6-0.7 0.9z"/><path fill="#ff6000" d="M81.5 2.6l20.5 0.6 0.1-1.2-0.3-1.2-0.9-1.2-2.3-1.6-1.8-0.7-1.9-0.4-3.7-0.1-4.6 0.8-2.8 1.2-2 1.8-0.4 1z"/><path fill="#ff3900" d="M83.5 2.6l16.5 0.5 0.1-1.1-0.5-1.4-1-1-1.8-1-2.8-0.7-1.9-0.1-1.8 0.1-3.2 0.7-2.3 1.2-1 0.9-0.4 0.9z"/><path fill="#ff1300" d="M86 2.7l11.5 0.4 0.1-1.2-0.8-1.3-1.8-1-1.9-0.4-1.9 0-2.7 0.4-1.9 1.1-0.7 1z"/></g></g></g>
<g transform="translate(369.60 360.3)"><g clip-path="url(#cl)"><g filter="url(#bl)"><rect x="40" y="-100" width="100" height="110" fill="#ff0013"/><path fill="#ff0039" d="M63.5 2l15.1 0.5-1.4-1.9-0.3-1.8 0.1-1.9 1.1-2 0.9-0.6 0.9-0.2 1 0.2 0.7 0.5 1.2 1.9 0.2 1 0 2-0.3 0.9-0.7 1.3-0.7 0.7 45.9 1.4 0.1-7.5-0.4-6.1-0.7-7.4-0.7-4.5-2.6-11.8-1.7-5.8-3.1-8.5-3-6.9-2-4-2.9-5.3-4.8-7.7-3.5-4.9-4.7-5.9-4-4.5-3.2-3.2-45.1 45.1 2.6 2.7 2.9 3.5 3.4 4.9 3.3 6 2.1 4.8 1.5 4.2 1.8 7.3 0.8 6z"/><path fill="#ff0060" d="M63.5 2l12.9 0.4-0.4-0.9-0.5-2.5 0.3-2.9 0.9-1.9 0.8-1 1.4-0.8 0.9-0.2 1.9 0.5 1 0.9 1.2 2.1 0.5 3-0.2 2-0.8 1.9 43.8 1.4 0.1-7.5-0.4-6.1-0.7-7.4-0.7-4.5-2.6-11.8-1.7-5.8-3.1-8.5-3-6.9-2-4-2.9-5.3-4.8-7.7-3.5-4.9-4.7-5.9-4-4.5-3.2-3.2-45.1 45.1 2.6 2.7 2.9 3.5 3.4 4.9 3.3 6 2.1 4.8 1.5 4.2 1.8 7.3 0.8 6z"/><path fill="#ff0086" d="M63.5 2l11.7 0.4-0.7-2.7 0-2.7 0.4-1.7 0.9-1.9 1.1-1.5 0.9-0.6 1.8-0.6 1.9 0.4 1.2 0.7 0.9 0.9 1.1 1.9 0.6 2 0.2 2-0.2 2.1-0.6 2 42.5 1.3 0.1-7.5-0.4-6.1-0.7-7.4-0.7-4.5-2.6-11.8-1.7-5.8-3.1-8.5-3-6.9-2-4-2.9-5.3-4.8-7.7-3.5-4.9-4.7-5.9-4-4.5-3.2-3.2-45.1 45.1 2.6 2.7 2.9 3.5 3.4 4.9 3.3 6 2.1 4.8 1.5 4.2 1.8 7.3 0.8 6z"/><path fill="#ff00ac" d="M63.5 2l10.7 0.3-0.6-2.6 0-2.2 0.6-3.1 0.9-2 1.7-1.9 1.7-0.9 0.9-0.2 1.9 0.3 1 0.4 1.8 1.6 1.4 2.3 0.7 2.6 0.2 2-0.2 2.1-0.5 2 41.5 1.3 0.1-7.5-0.4-6.1-0.7-7.4-0.7-4.5-2.6-11.8-1.7-5.8-3.1-8.5-3-6.9-2-4-2.9-5.3-4.8-7.7-3.5-4.9-4.7-5.9-4-4.5-3.2-3.2-45.1 45.1 2.6 2.7 2.9 3.5 3.4 4.9 3.3 6 2.1 4.8 1.5 4.2 1.8 7.3 0.8 6z"/><path fill="#ff00d2" d="M63.5 2l9.8 0.3-0.5-4.3 0.5-3.5 0.9-2.3 0.9-1.5 1.5-1.4 1.7-0.8 1.9-0.2 1 0.1 2 1 1.3 1.2 1.3 1.9 0.8 2 0.5 3.1-0.1 3.1-0.4 2 40.6 1.3 0.1-7.5-0.4-6.1-0.7-7.4-0.7-4.5-2.6-11.8-1.7-5.8-3.1-8.5-3-6.9-2-4-2.9-5.3-4.8-7.7-3.5-4.9-4.7-5.9-4-4.5-3.2-3.2-45.1 45.1 2.6 2.7 2.9 3.5 3.4 4.9 3.3 6 2.1 4.8 1.5 4.2 1.8 7.3 0.8 6z"/><path fill="#ff00f9" d="M63.5 2l9.1 0.3-0.4-2.6 0-2.6 0.3-2.6 1.4-3.6 1.7-2.1 0.9-0.6 1.3-0.6 2.3-0.4 2.5 0.6 1.3 0.9 1.7 1.8 1.1 1.9 0.7 2 0.4 3.2 0 2-0.4 3.1 39.8 1.3 0.1-7.5-0.4-6.1-0.7-7.4-0.7-4.5-2.6-11.8-1.7-5.8-3.1-8.5-3-6.9-2-4-2.9-5.3-4.8-7.7-3.5-4.9-4.7-5.9-4-4.5-3.2-3.2-45.1 45.1 2.6 2.7 2.9 3.5 3.4 4.9 3.3 6 2.1 4.8 1.5 4.2 1.8 7.3 0.8 6zM98.9-47.5l-1.7-1.3-1.8-3.4-0.1-2.1 0.6-1 0.9-0.2 1 0.4 1.1 0.9 0.8 1.1 1.1 2.5 0.1 1.4-0.2 1.1-0.7 0.7z"/><path fill="#df00ff" d="M63.5 2l8.4 0.3-0.3-2.6 0-3.4 0.4-2.6 1.1-2.9 1.5-2.3 1.7-1.2 2.7-0.9 1.9 0 1.7 0.4 1.5 0.8 1.9 2 1.1 1.8 0.7 2 0.6 3.1 0 4.2-0.3 2.1 39.1 1.2 0.1-7.5-0.4-6.1-0.7-7.4-0.7-4.5-2.6-11.8-1.7-5.8-3.1-8.5-3-6.9-2-4-2.9-5.3-4.8-7.7-3.5-4.9-4.7-5.9-4-4.5-3.2-3.2-45.1 45.1 2.6 2.7 2.9 3.5 3.4 4.9 3.3 6 2.1 4.8 1.5 4.2 1.8 7.3 0.8 6zM99.5-44l-1.6-0.9-1.7-1.8-0.9-1.2-1.7-3.4-0.5-1.3-0.5-2.7 0.1-1.4 0.5-1.3 0.6-0.7 0.9-0.3 1.1 0 2 0.8 2.1 1.9 2.2 3.4 1.3 4 0 2.3-0.4 1.4-0.6 0.9-0.8 0.5-0.9 0.1z"/><path fill="#b900ff" d="M63.5 2l7.8 0.2-0.3-2.5 0.1-4.2 0.7-3.5 0.7-1.8 1.2-1.9 1.6-1.4 2.6-1.1 2.8-0.2 2 0.3 2 1.1 1.1 1 1.6 2.3 0.8 2 0.5 2.1 0.3 3.1-0.3 5.3 38.5 1.2 0.1-7.5-0.4-6.1-0.7-7.4-0.7-4.5-2.6-11.8-1.7-5.8-3.1-8.5-3-6.9-2-4-2.9-5.3-4.8-7.7-3.5-4.9-4.7-5.9-4-4.5-3.2-3.2-45.1 45.1 2.6 2.7 2.9 3.5 3.4 4.9 3.3 6 2.1 4.8 1.5 4.2 1.8 7.3 0.8 6zM102.7-41.2l-2 0-2.6-1.4-2.6-2.6-2.1-3.2-1.1-2.2-1.2-3.6-0.3-2.3 0.4-2.9 1.1-1.6 1.9-0.6 2.7 0.8 2.4 1.7 1.9 2.1 1.5 2.3 1.7 3.8 0.8 4.1-0.4 3.1-0.6 1.3z"/><path fill="#9300ff" d="M63.5 2l7.2 0.2-0.2-2.5 0.2-5.3 0.6-3 1.3-3 1.7-1.8 1.7-0.9 1.8-0.6 2.8-0.3 1.3 0.1 2.6 0.9 2.2 2 1.2 1.8 1.2 3.7 0.3 2.1 0.1 5.3-0.3 2.1 38 1.2 0.1-7.5-0.4-6.1-0.7-7.4-0.7-4.5-2.6-11.8-1.7-5.8-3.1-8.5-3-6.9-2-4-2.9-5.3-4.8-7.7-3.5-4.9-4.7-5.9-4-4.5-3.2-3.2-45.1 45.1 2.6 2.7 2.9 3.5 3.4 4.9 3.3 6 2.1 4.8 1.5 4.2 1.8 7.3 0.8 6zM101.6-39l-2.4-0.9-2.3-1.8-0.9-1-3-4.1-2.2-4.4-1.4-4.9-0.1-2.9 0.5-2.4 1.2-1.5 0.8-0.5 2.1-0.2 1.3 0.3 3 1.6 2.2 2 1.8 2.1 2.7 4.9 1.3 4 0.4 2.8-0.3 3.1-0.5 1.7-1.4 1.6-1.8 0.6z"/><path fill="#6c00ff" d="M63.5 2l6.7 0.2-0.2-2.5 0.1-5 0.8-4.3 0.9-2.1 1.6-1.9 1.9-1.2 3.3-0.9 2.8-0.2 2.4 0.5 1.6 0.8 1.1 0.9 1.9 2.8 0.8 2.1 0.6 3.1 0.2 2.1-0.2 6.4 37.4 1.2 0.1-7.5-0.4-6.1-0.7-7.4-0.7-4.5-2.6-11.8-1.7-5.8-3.1-8.5-3-6.9-2-4-2.9-5.3-4.8-7.7-3.5-4.9-4.7-5.9-4-4.5-3.2-3.2-45.1 45.1 2.6 2.7 2.9 3.5 3.4 4.9 3.3 6 2.1 4.8 1.5 4.2 1.8 7.3 0.8 6zM102.3-37l-1.1-0.2-2.4-1.3-3.2-2.9-2.6-3.4-3.2-6.1-1.5-4.5-0.4-4.2 0.1-1.6 0.6-1.9 1.2-1.5 0.8-0.5 2-0.4 2.7 0.6 1.7 0.8 2.3 1.8 2 2 2.5 3.4 2.5 5 0.6 1.7 0.9 4.3-0.2 4.4-1.1 2.5-1.4 1.5-0.9 0.4z"/><path fill="#4600ff" d="M63.5 2l6.2 0.2-0.2-5 0.4-5 0.6-2.6 1.1-2.4 1.6-1.6 2.6-1.3 2.7-0.7 2.7-0.2 3 0.5 1 0.4 2.2 1.8 1.3 1.9 0.8 2.1 0.8 4.2 0.2 2.1-0.2 6.4 36.9 1.2 0.1-7.5-0.4-6.1-0.7-7.4-0.7-4.5-2.6-11.8-1.7-5.8-3.1-8.5-3-6.9-2-4-2.9-5.3-4.8-7.7-3.5-4.9-4.7-5.9-4-4.5-3.2-3.2-45.1 45.1 2.6 2.7 2.9 3.5 3.4 4.9 3.3 6 2.1 4.8 1.5 4.2 1.8 7.3 0.8 6zM101.9-35.3l-3.3-1.7-3.6-3.4-2.4-3.4-3.9-7.6-1.4-3.7-0.8-5.1 0.5-3.6 1-1.7 1.5-1.2 1.9-0.5 2.5 0.3 2.8 1.3 2.4 1.7 2.1 2.1 2.6 3.3 2.1 3.7 1.7 4 1.3 5.4 0.1 3-0.6 3.2-0.8 1.7-1.1 1.3-0.8 0.5-1.7 0.6z"/><path fill="#2000ff" d="M63.5 2l5.8 0.2-0.2-6.6 0.4-4.2 0.9-3.5 1-1.7 1.9-1.5 3.2-1.3 2.7-0.5 3.2-0.1 2.6 0.6 1.4 0.7 1.9 1.8 1.3 2.4 0.7 2.7 0.6 4.3-0.1 7.6 36.4 1.1 0.1-7.5-0.4-6.1-0.7-7.4-0.7-4.5-2.6-11.8-1.7-5.8-3.1-8.5-3-6.9-2-4-2.9-5.3-4.8-7.7-3.5-4.9-4.7-5.9-4-4.5-3.2-3.2-45.1 45.1 2.6 2.7 2.9 3.5 3.4 4.9 3.3 6 2.1 4.8 1.5 4.2 1.8 7.3 0.8 6zM103.6-33.3l-2.1-0.5-2.4-1.3-1.8-1.4-3-3.1-3.6-6-3.6-7.6-1.5-4.5-0.4-3.8 0.1-1.4 0.2-1.3 0.8-2 2-2 1.9-0.6 2.4 0.1 3.1 1.1 3.2 2.2 3.9 4.2 2.1 3.1 2.3 4.2 1.5 4 1.1 4.2 0.3 2.9-0.1 2.5-0.8 3.2-1.3 2-1.6 1.3-1.8 0.5z"/><path fill="#0006ff" d="M63.5 2l5.3 0.2-0.1-8.2 0.7-5.1 1.1-2.7 1.6-1.5 2.5-1.3 3.6-1 3.7-0.3 2.9 0.4 2.1 0.9 1.6 1.4 1.2 2 1.2 4.2 0.2 2.1 0.3 3.3-0.2 6.5 36 1.1 0.1-7.5-0.4-6.1-0.7-7.4-0.7-4.5-2.6-11.8-1.7-5.8-3.1-8.5-3-6.9-2-4-2.9-5.3-4.8-7.7-3.5-4.9-4.7-5.9-4-4.5-3.2-3.2-45.1 45.1 2.6 2.7 2.9 3.5 3.4 4.9 3.3 6 2.1 4.8 1.5 4.2 1.8 7.3 0.8 6zM103.1-31.7l-3.4-1.4-3.6-3-1.7-1.9-2-3.1-2.8-5.3-4.1-8.7-0.9-2.4-0.5-2.4 0-4.6 0.3-1.2 0.9-1.9 1.2-1.4 1.6-0.9 2-0.5 2.6 0.3 3.5 1.5 2.4 1.7 2.1 2 3.5 4.5 2.3 3.7 2.4 5.2 1.7 5.4 0.5 3.5-0.1 3.9-0.6 2.4-1.2 2.3-1.5 1.4-2.7 0.9z"/><path fill="#002dff" d="M63.5 2l4.9 0.1-0.2-3.2 0.2-7.3 0.8-4.3 1-1.9 1.7-1.4 1.7-0.9 1.8-0.6 3.6-0.8 3.7-0.2 2 0.2 2.9 1.1 1.1 0.9 1.3 2 1 3.1 0.4 2.1 0.5 7.6-0.2 4.4 35.5 1.1 0.1-7.5-0.4-6.1-0.7-7.4-0.7-4.5-2.6-11.8-1.7-5.8-3.1-8.5-3-6.9-2-4-2.9-5.3-4.8-7.7-3.5-4.9-4.7-5.9-4-4.5-3.2-3.2-45.1 45.1 2.6 2.7 2.9 3.5 3.4 4.9 3.3 6 2.1 4.8 1.5 4.2 1.8 7.3 0.8 6zM102.5-30.4l-2-0.7-1.3-0.8-4.4-4-3.6-6-4.8-9.5-2.5-5.5-0.8-2.4-0.4-2.7 0.3-4 0.4-1.3 1.5-2.3 1.4-1.2 1.7-0.8 2.1-0.3 1.3 0.1 3.1 1 2.6 1.6 3.3 2.9 2.8 3.2 3.1 4.8 2.6 5.1 1.9 4.9 1.1 4.8 0.3 2.9-0.2 3.2-0.9 3.2-1.4 2-1.6 1.1-1.7 0.6-1.9 0.2z"/><path fill="#0053ff" d="M63.5 2l4.4 0.1 0-10.5 0.8-5.1 1.2-1.9 1.9-1.3 3.4-1.4 3.6-0.8 4.7-0.3 2.1 0.3 1.9 0.7 1.1 0.6 1.2 1.2 0.5 0.9 1.3 4.2 0.3 2.2 0.4 5.4-0.2 6.6 35.1 1.1 0.1-7.5-0.4-6.1-0.7-7.4-0.7-4.5-2.6-11.8-1.7-5.8-3.1-8.5-3-6.9-2-4-2.9-5.3-4.8-7.7-3.5-4.9-4.7-5.9-4-4.5-3.2-3.2-45.1 45.1 2.6 2.7 2.9 3.5 3.4 4.9 3.3 6 2.1 4.8 1.5 4.2 1.8 7.3 0.8 6zM102.9-29.1l-2.6-0.6-1.5-0.9-2.2-1.8-2.6-3-2.3-4.1-7.4-14.8-2.3-5.3-0.4-1.6-0.2-2.3 0.2-2.7 0.3-1.1 0.9-1.9 1.2-1.5 1.3-1.2 1.7-0.9 1.6-0.5 1.5-0.1 2.5 0.5 2.9 1.3 3.5 2.7 3.9 4.3 2.5 3.6 2.9 5 2.3 5.2 1.4 4.2 1.1 5.7 0 4-0.8 3.6-1.1 1.8-1.9 1.3-2.6 0.9-2.8 0.3z"/><path fill="#0079ff" d="M63.5 2l3.9 0.1-0.1-9.6 0.2-3.3 0.7-3.4 0.9-1.5 2.5-1.7 2.6-1 5.4-1.2 5.3-0.2 2.5 0.5 1.5 0.8 1.1 0.9 1.1 2 1.2 5.4 0.3 3.2 0 9.9 34.6 1.1 0.1-7.5-0.4-6.1-0.7-7.4-0.7-4.5-2.6-11.8-1.7-5.8-3.1-8.5-3-6.9-2-4-2.9-5.3-4.8-7.7-3.5-4.9-4.7-5.9-4-4.5-3.2-3.2-45.1 45.1 2.6 2.7 2.9 3.5 3.4 4.9 3.3 6 2.1 4.8 1.5 4.2 1.8 7.3 0.8 6zM103.3-27.9l-3-0.4-1.9-0.9-3.2-2.9-2.2-3.4-1.9-3.7-10.4-21.3-0.6-2.6 0-2 0.8-3.4 2.2-3.2 2.1-1.7 1.8-0.9 2-0.5 1.5 0 3.3 1 3.8 2.5 3.1 3 3.6 4.5 3.1 4.9 2.7 5.2 2.1 5.4 1.2 4.2 0.7 4.3 0.1 3.3-0.2 2.3-0.5 1.8-1.4 2-2.4 1.4-2.7 0.8z"/><path fill="#009fff" d="M63.5 2l3.4 0.1-0.1-11.1 0.2-3.1 0.6-2.8 1.3-1.7 2.5-1.4 3.6-1.2 5.4-1.1 5.7-0.2 3 0.8 1.1 0.8 0.8 1.1 0.9 2 0.8 4.4 0.3 3.3 0 11 34.2 1.1 0.1-7.5-0.4-6.1-0.7-7.4-0.7-4.5-2.6-11.8-1.7-5.8-3.1-8.5-3-6.9-2-4-2.9-5.3-4.8-7.7-3.5-4.9-4.7-5.9-4-4.5-3.2-3.2-45.1 45.1 2.6 2.7 2.9 3.5 3.4 4.9 3.3 6 2.1 4.8 1.5 4.2 1.8 7.3 0.8 6zM104.5-26.9l-3.9-0.1-2.6-0.8-1.9-1.5-1.5-1.7-2.1-3.7-5.9-12.8-5.6-10.3-2-4.4-0.3-1.3 0-1.9 0.5-2.3 0.8-1.9 1-1.6 2.6-2.7 2.4-1.5 1.6-0.6 2.5-0.3 1.8 0.3 1.5 0.6 3.8 2.5 5.1 5.3 2.6 3.5 3.1 4.9 2.7 5.2 2.6 6.8 1.2 4.2 0.7 4.4 0 5.2-0.7 2.4-1.2 1.5-1.6 1-3.5 1.1z"/><path fill="#00c6ff" d="M63.5 2l2.8 0.1-0.2-10.2 0.2-4.9 0.3-1.7 0.9-1.9 2-1.4 4.4-1.5 7.3-1.5 5.6-0.3 2 0.3 2 1 0.8 0.9 0.8 2.1 0.6 3.3 0.4 4.4 0.1 12.2 33.7 1.1 0.1-7.5-0.4-6.1-0.7-7.4-0.7-4.5-2.6-11.8-1.7-5.8-3.1-8.5-3-6.9-2-4-2.9-5.3-4.8-7.7-3.5-4.9-4.7-5.9-4-4.5-3.2-3.2-45.1 45.1 2.6 2.7 2.9 3.5 3.4 4.9 3.3 6 2.1 4.8 1.5 4.2 1.8 7.3 0.8 6zM106.6-26.1l-2.8 0.3-3.8 0-2.5-0.6-2.4-1.8-2.4-4.1-4-9.7-2.5-5.2-8.6-15.4-0.4-1.7 0.2-2.6 0.7-2.1 0.9-1.7 1.7-2.2 2-2 2.3-1.6 1.8-0.8 3.2-0.6 3.1 0.8 2.7 1.7 3.3 2.9 3.8 4.4 3.4 4.8 4.4 7.7 1.8 4 2 5.5 1.7 7.1 0.3 3-0.2 4.5-0.3 1.2-0.7 1.1-1.9 1.4-2.3 0.8z"/><path fill="#00ecff" d="M63.5 2l2 0.1-0.2-15.7 0.5-2.6 0.7-1 1.1-0.8 1.7-0.7 7.2-2 8.2-1.4 3.8-0.1 1.3 0.1 1.8 0.7 0.8 1 0.7 2.2 0.8 8.9 0 12.3 33.3 1 0.1-7.5-0.4-6.1-0.7-7.4-0.7-4.5-2.6-11.8-1.7-5.8-3.1-8.5-3-6.9-2-4-2.9-5.3-4.8-7.7-3.5-4.9-4.7-5.9-4-4.5-3.2-3.2-45.1 45.1 2.6 2.7 2.9 3.5 3.4 4.9 3.3 6 2.1 4.8 1.5 4.2 1.8 7.3 0.8 6zM111.4-26l-3.7 0.7-7.4 0.7-3.7-0.3-1.6-0.8-1.2-1.6-0.7-1.5-4-10.8-3.9-8.4-3.4-6.1-5.7-8.8-0.5-1.1-0.2-2.4 0.6-2.1 1.4-2.7 3.6-4.2 2.1-1.8 2.4-1.5 2.8-1 2.5 0 2.3 0.8 3.8 2.6 4.1 4.2 3.7 4.7 4 6.2 2.8 5.2 2.9 6.7 2.3 7 1.3 7.3 0.1 3-0.1 1.5-0.6 1.9-0.8 0.8-2.5 1.2z"/><path fill="#00ffec" d="M94.3 3l32.9 1 0.1-7.5-1.1-13.5-1.3-7.5-1.2-1.3-1.2-1.1-0.8 0.5-6.4 1-19.4 2.4-0.9 0.2-0.8 0.6-0.2 1.5 0.4 11.3zM83.5-22.6l8.4-1.4 0.6-1.1-0.1-1.1-1.9-7.8-3.2-8.6-2.5-5.2-4.1-6.9-6.3-8.3-4.7-5.1-1.3-0.3-22.2 22.2-0.1 1.2 0.5 0.5-0.1 1.2 3.9 4.6 4.2 6.2 2.8 5.3 1.8 4.2 1.9 5.7 12.5-3.3z"/><path fill="#00ffc6" d="M94.7 3l30.1 0.9 0-8.8-1-7.4-1.6-5.7-1.3-2.8-1.3-1.8-0.9-0.7-1.2-0.4-1.9-0.3-2.8 0-10.2 1.2-3.6 0.8-2.6 1-0.8 0.9-0.5 2.3zM77.6-22l6.7-1.5 5.3-1.8 0.7-0.7 0.4-0.9 0.1-1-0.7-4.7-1.6-5.5-2.6-6.3-3.2-6.1-2.5-3.9-2-2.7-3.1-3.5-0.9-0.7-1.2-0.8-1.7-0.6-2.3 0.2-2 0.6-3.3 1.9-2.9 2.3-4 3.8-2.5 2.8-2.1 3.1-0.8 2.3 0.1 2.1 0.8 2.4 7.5 13.7 2.9 4.8 1.7 2 1.7 0.7 1.9 0z"/><path fill="#00ff9f" d="M95.2 3l28.7 0.9 0.1-7.3-0.9-7.3-1.6-5.7-2.1-4.1-1.3-1.2-2.4-1-4.6-0.2-4.6 0.4-3.7 0.7-2.7 0.7-2.5 1.2-0.8 0.8-0.7 1.6-0.4 2.2-0.4 7zM72.3-21.4l10-2.3 3.6-1.2 1.6-0.8 0.7-0.4 1.2-1.5 0.2-2.5-0.7-4.5-2.1-6.5-1.8-4.2-2.8-5-3.9-5.6-3.1-3.3-2.2-1.5-1.6-0.5-1.3 0-3.1 0.7-1.7 0.8-2.4 1.5-4.2 3.6-3.2 3.4-1.6 2.3-1.2 2.8-0.1 1.6 0.3 1.8 2.3 5.2 5.8 10.4 3.3 4.7 0.7 0.6 1.7 0.8 2 0.1z"/><path fill="#00ff79" d="M95.6 3l27.6 0.9 0.2-4.4-0.5-7.3-1.3-5.7-0.9-2.4-1.6-3.1-1.2-1.2-1.9-1.1-2.8-0.6-1.9-0.1-5.6 0.5-3.6 0.8-2.8 1.2-1.4 1.1-1 1.8-0.7 3.6-0.5 6.9zM70.3-21.8l4.7-0.7 4.5-1.1 4.4-1.4 1.7-0.8 1.6-1.1 1.2-1.6 0.2-3.6-0.7-3.8-2.4-7.1-4.3-8-3.4-4.5-2.4-2.4-2.7-1.7-1.5-0.4-2 0-2.4 0.6-1.8 0.8-3.1 2.1-2.8 2.4-2.5 2.7-2.2 3.1-0.7 1.7-0.2 2.4 0.9 3.2 2.1 4.6 4.7 8.3 2.3 3.4 1.1 1.3 1.5 1.2 2.4 0.5z"/><path fill="#00ff53" d="M96.1 3l26.5 0.9 0.2-5.9-0.8-7.2-1.7-5.6-1.7-3.1-0.8-0.9-1.4-1-2-0.8-2.9-0.4-2.9 0-4.5 0.7-2.7 0.9-1.7 1-1.6 1.5-1 2.6-0.6 3.6-0.4 6.9zM74.2-22.9l7.8-2.1 2.5-1.2 1.6-1.1 1.4-2.1 0.3-1.6-0.2-3.2-1-4.3-2-5.3-2.6-5-4-5.5-2.4-2.4-3-1.9-1.8-0.4-3 0.2-3.1 1.2-1.6 1-2.9 2.3-3.2 3.4-1.6 2.3-1 2.5-0.1 2 0.2 1.2 1.1 3.2 2.1 4.4 3.6 6.3 3.2 4.4 1.5 1.4 2.2 0.8 2 0z"/><path fill="#00ff2d" d="M96.5 3l25.5 0.8 0.2-5.7-0.7-6.6-1.4-4.7-1.2-2.5-1.1-1.6-1.2-1.1-2-1.1-3-0.6-1.9-0.1-1.8 0.1-3.7 0.7-2.6 1-1.7 1.2-1.3 1.5-0.6 1.3-0.9 3.6-0.5 5.5zM71.9-23.2l1.8-0.2 5.4-1.3 2.7-1 2.4-1.3 0.8-0.6 1.4-1.8 0.5-1.4 0.1-2.4-0.6-4-1.8-5.3-1.4-3.1-2.3-3.9-1.9-2.7-3.1-3.3-1.9-1.4-2.2-0.9-1.4-0.3-1.8 0-2.3 0.6-2 0.9-3 2.1-2.7 2.6-2.3 3-0.9 2-0.3 1.3 0.1 2.7 0.9 2.9 2.8 5.9 1.6 2.8 3.2 4.7 1.8 2 1.3 1 2.1 0.5z"/><path fill="#00ff06" d="M97 3l24.5 0.8 0.2-5.7-0.4-4.3-0.6-2.9-1.4-4.1-1.3-2.3-1.5-1.7-2.7-1.5-4.8-0.6-2.8 0.3-2.7 0.8-2.5 1.4-0.9 0.8-1.5 2.3-0.7 2.1-0.9 7.8zM75.7-24.4l2.4-0.6 3.4-1.3 1.7-1 1.5-1.3 0.7-0.9 0.6-1.6 0.2-1.3-0.4-4.5-0.9-3.3-1.2-3.1-2.6-5-2.6-3.6-3.2-3.1-2.5-1.5-2-0.6-3.2 0-3.1 1.1-2.1 1.4-2.8 2.4-1.8 2.2-1 1.6-0.8 2-0.2 2.7 0.4 2.1 1.3 3.6 3 5.7 2.7 4.2 3.2 3.4 1.2 0.6 2.1 0.4 3.9-0.3z"/><path fill="#20ff00" d="M97.5 3.1l23.4 0.7 0.3-4.3-0.5-5.8-0.6-2.7-1-2.8-1.5-2.7-1-1.3-1.7-1.3-2.1-0.9-3.7-0.4-2.7 0.3-2.7 0.8-2.6 1.7-1.7 2.2-0.6 1.3-0.6 2.4-0.7 5.8zM73.1-24.5l3.9-0.8 2.6-0.9 2.7-1.4 1.4-1.2 1.2-1.9 0.4-1.3 0.1-3.6-1.3-5.4-1.3-3.1-2.2-3.9-2.6-3.6-2.4-2.3-2-1.3-2.4-0.9-3-0.3-3 0.8-2.4 1.4-1.5 1.2-2.5 2.7-1.1 1.6-1.1 3 0.1 3.2 0.4 1.8 0.9 2.4 2.1 4.4 3.1 4.9 1.7 2 1.3 1.2 2.2 1.2 1.1 0.2z"/><path fill="#46ff00" d="M98 3.1l22.3 0.7 0.3-5.7-0.5-4.3-1.2-4.2-2.3-4-1.5-1.4-1.6-0.9-3.3-0.8-1.9 0-2.7 0.5-1.8 0.7-1.7 1.1-2.4 3-1.1 3.6-0.6 4.7zM71.8-25l1.4-0.1 5.4-1.4 2.5-1.2 1.4-1.1 1.2-1.5 0.6-1.4 0.4-2.2-0.1-2.7-1-4.2-1.3-3.1-1.5-2.9-3.3-4.4-2.6-2.3-3.3-1.6-2.7-0.4-1.9 0.1-2.2 0.8-1.6 0.9-1.5 1.1-1.9 2-2 3.4-0.5 2.1 0 2.1 0.3 1.9 1.1 3.3 1.5 3 3 4.9 1.7 2 2 1.8 2.5 1z"/><path fill="#6cff00" d="M98.5 3.1l21.2 0.7 0.3-5.7-0.9-5.6-1.6-4-2-2.7-1.2-1-2-0.9-1-0.3-2.8-0.2-2.8 0.5-2.6 1.3-1 1-2.2 3.2-0.9 3.1-0.5 3.6zM74.4-26l1.3-0.2 2.7-0.9 1.6-0.8 1.6-1.2 1.4-1.6 0.5-1.3 0.5-3-0.6-4.5-2-5.1-2.3-3.7-2.4-2.8-2.4-1.9-3.3-1.4-1.6-0.3-3.2 0.3-2.6 1.2-1.5 1.1-2.5 2.8-1 2-0.6 2.7 0.1 2.4 0.5 2.4 1.6 4 1.6 2.9 2.9 3.9 1.7 1.6 1.4 1 1.3 0.5 3.9 0.2z"/><path fill="#93ff00" d="M99.1 3.1l20 0.6 0.3-5.6-0.6-4.2-0.9-2.8-1.3-2.5-1.1-1.4-1.1-1-2-1.2-2.9-0.6-2.7 0.2-2.7 1.1-0.8 0.7-1.7 1.8-1.1 1.8-0.5 1.3-0.6 2.4-0.4 3.5zM72.9-26.4l2.6-0.4 2.6-0.9 2.4-1.4 1.5-1.6 1-2.7 0.2-1.8-0.4-4-0.6-2.1-1.8-4-1.8-2.7-2.2-2.5-1.8-1.4-2.8-1.3-2.8-0.6-2.2 0.1-1.9 0.7-1.6 0.9-1.4 1.2-1.8 2.2-0.9 2.1-0.5 2.6 0.1 2 0.4 1.9 0.6 2.1 2 4.1 1.9 2.8 2.4 2.6 1.7 1.2 1.9 0.8z"/><path fill="#b9ff00" d="M99.7 3.1l18.6 0.6 0.4-2.8 0-2.8-0.8-4.7-1.1-2.8-1.1-1.7-1.5-1.6-1.7-1.2-1.9-0.6-2.8-0.1-2.7 0.9-1.7 1.3-1.8 2.3-1.4 3.2-0.7 5.1zM72-27l1.4-0.1 3.7-0.9 3.4-2.2 1.1-1.6 0.7-2.5 0.1-2.6-0.2-2-1.8-5.1-1.7-2.8-2.1-2.5-1.8-1.5-3.2-1.6-2.7-0.6-1.8 0.1-2.5 0.9-1.5 1-1.4 1.4-1.3 2-0.8 2.7-0.1 3.1 0.2 1.3 1.4 4.1 1.2 2.3 3.1 4.1 2.8 2.1 1.8 0.7z"/><path fill="#dfff00" d="M100.4 3.2l17.2 0.5 0.4-2.8 0-2.8-0.4-2.8-1.5-4-1.9-2.6-1.5-1.2-1.9-0.9-1-0.2-1.8 0.1-1.7 0.4-2.3 1.5-2.1 2.7-1.3 3.7-0.4 2.4zM74.6-28l2.2-0.7 1.6-0.9 2.2-2.2 0.9-2.7 0.1-1.8-0.1-2.3-0.8-3.1-1.4-3-1.2-1.8-1.4-1.7-2.6-2.1-3.3-1.5-2.7-0.3-2.1 0.4-1.7 0.9-1.4 1.1-1.2 1.5-0.7 1.3-0.5 1.5-0.3 2.4 0.2 2.5 0.6 2.2 1.8 3.9 2 2.8 2 1.9 1.8 1.1 1.5 0.6 2.1 0.3z"/><path fill="#fff900" d="M101.2 3.2l15.5 0.5 0.5-2.8 0-2.8-0.5-2.7-1.6-4.1-2.2-2.4-2.5-1.2-2.3-0.1-1.9 0.6-2.5 2.1-1.9 3.2-0.7 2.5-0.2 4.8zM73.4-28.6l1.4-0.2 1.7-0.6 1.7-1 0.7-0.6 1.2-1.9 0.7-3 0-1.2-0.2-2.2-0.9-3.1-1.6-2.9-1.3-1.7-1.8-1.7-1.6-1.1-2-0.9-1.4-0.3-2.4-0.1-1 0.2-0.9 0.3-2.3 1.6-1.7 2.7-0.7 3.4 0.2 2.5 0.4 1.7 0.6 1.7 1.6 3 1.4 1.8 1.6 1.5 1.7 1.2 1.3 0.6 2.1 0.4z"/><path fill="#ffd200" d="M102.1 3.2l13.7 0.4 0.4-1.6 0.2-2.5-0.2-2.7-0.8-2.7-0.7-1.4-0.6-1-1.5-1.5-1.5-1-1.9-0.4-2.7 0.6-1.9 1.5-1.6 2.3-0.8 2.1-0.4 1.9-0.1 3.6zM72.8-29.3l2.6-0.5 0.8-0.4 1.8-1.2 1.1-1.5 0.5-1.3 0.4-2.5-0.4-3.3-0.6-2.1-1.5-2.8-2.1-2.4-1.8-1.4-2.2-1-2.8-0.5-1.3 0.2-2.6 1.2-1.3 1.3-0.5 0.9-0.8 2-0.2 1.3-0.1 1.6 0.4 2.6 1.3 3.3 2 2.9 2.1 1.9 1.7 0.9 1.5 0.6z"/><path fill="#ffac00" d="M103.2 3.2l11.6 0.4 0.6-2.7-0.2-4.1-0.9-2.7-1.1-1.7-1-1-1.9-1-1.9-0.2-1.8 0.7-1.8 1.5-1.3 2.3-0.7 2.4-0.2 2.5zM72.6-30.2l1.5-0.2 1.8-0.7 1.5-1.1 0.6-0.9 0.8-1.9 0.3-2.4-0.5-3.3-1.8-3.8-2.2-2.3-1.8-1.3-1.1-0.5-2.6-0.6-1.1 0.1-1.9 0.6-2 1.9-0.8 1.4-0.5 1.7 0 3.3 1 3.2 0.8 1.6 1.7 2.1 1.4 1.3 1.9 1.1z"/><path fill="#ff8600" d="M104 2l0.4 1.3 9.1 0.3 0.8-2.7 0-2.7-0.7-2.7-0.7-1.3-1.1-1.3-1.4-0.9-1.9-0.2-0.9 0.2-1.8 1.3-0.9 1.3-1 2.5-0.2 2.5zM72.6-31.3l1.1-0.1 1.8-0.7 1-0.8 1-1.5 0.6-2.6-0.3-3.3-0.7-1.9-1.1-1.8-1.1-1.4-1.1-0.9-2-1.2-1.2-0.4-2.9 0-2.4 1.5-1.1 1.7-0.6 2.4 0.3 3.2 1 2.5 2.2 2.9 2.5 1.7 2.1 0.7z"/><path fill="#ff6000" d="M105.5 2.1l0.5 1.2 5.9 0.2 0.6-1 0.4-1.6 0.1-2.7-1-2.6-1.5-1.5-1-0.4-1.8 0.3-0.8 0.5-1 1.2-0.8 2.5-0.1 1.4zM73.1-32.5l1.9-0.7 1.5-1.9 0.6-2.3 0-1.3-0.5-2.1-1.4-2.7-0.9-1.1-1.4-1.1-2.1-1-2.3-0.1-0.9 0.3-1.5 1.1-0.8 1.1-0.5 1.4 0 3.3 0.5 1.7 1.4 2.4 2.1 1.9 1 0.6 1.3 0.4z"/><path fill="#ff3900" d="M108 2.1l0.8 0.4 1.2-0.3 0.9-1.3 0.1-2.7-0.8-1.3-0.5-0.3-1-0.1-0.9 0.4-0.7 1.4-0.2 1.3 0.3 1.2zM71.5-33.9l2-0.2 0.8-0.5 0.9-1 0.4-0.7 0.3-1.5-0.3-2.6-1.4-2.6-1.5-1.4-2.2-1-2 0.1-1.5 1-0.7 1-0.5 2.7 0.2 1.3 0.7 1.7 1.7 2.2 1.8 1.2z"/><path fill="#ff1300" d="M71-35.7l1.7-0.1 0.8-0.5 0.6-0.9 0.3-1.3-0.1-1.1-0.8-1.8-1.3-1.5-1.7-0.8-0.9 0-1 0.4-0.7 0.7-0.5 1.4 0 1.3 0.5 1.6 1.1 1.5 0.8 0.7z"/></g></g></g>
<g transform="translate(459.50 360.3)"><g clip-path="url(#cl)"><g filter="url(#bl)"><rect x="40" y="-100" width="100" height="110" fill="#ff0086"/><path fill="#ff00ac" d="M63.5 2l63.7 2 0.1-7.5-0.4-6.1-0.7-7.4-0.7-4.5-2.6-11.8-1.7-5.8-3.1-8.5-3-6.9-2-4-2.9-5.3-4.8-7.7-3.5-4.9-4.7-5.9-4-4.5-3.2-3.2-45.1 45.1 2.6 2.7 2.9 3.5 3.4 4.9 3.3 6 2.1 4.8 1.5 4.2 1.8 7.3 0.8 6zM92.8-38.6l-2.8-0.1-0.8-0.9 0.4-1.6 2.3-1.7 1.7-0.7 2.3-0.4 1.7 0.6 0.4 1.2-1 1.7-2.4 1.4z"/><path fill="#ff00d2" d="M63.5 2l63.7 2 0.1-7.5-0.4-6.1-0.7-7.4-0.7-4.5-2.6-11.8-1.7-5.8-3.1-8.5-3-6.9-2-4-2.9-5.3-4.8-7.7-3.5-4.9-4.7-5.9-4-4.5-3.2-3.2-45.1 45.1 2.6 2.7 2.9 3.5 3.4 4.9 3.3 6 2.1 4.8 1.5 4.2 1.8 7.3 0.8 6zM93.1 1.9l-0.2-0.1 2-0.9 1 0 2 1-1.1 0.6-1 0.2-0.9 0zM93.2-37.5l-0.5 0.2-3.4 0.1-1.5-0.6-0.7-0.9 0-1.3 1.2-1.8 3.1-2.1 4.4-1.5 2.6 0.2 1.3 0.9 0.5 1.1-0.1 0.6-0.4 1.3-0.7 0.8-1.5 1.3-2.5 1.2z"/><path fill="#ff00f9" d="M63.5 2l26.4 0.8-0.8-1.1 0.7-1 0.5-0.3 2.8-0.9 3.7-0.1 2.8 0.6 1.4 0.8 0.6 1.2-0.7 1.2 26.3 0.8 0.1-7.5-0.4-6.1-0.7-7.4-0.7-4.5-2.6-11.8-1.7-5.8-3.1-8.5-3-6.9-2-4-2.9-5.3-4.8-7.7-3.5-4.9-4.7-5.9-4-4.5-3.2-3.2-45.1 45.1 2.6 2.7 2.9 3.5 3.4 4.9 3.3 6 2.1 4.8 1.5 4.2 1.8 7.3 0.8 6zM89.8-36.1l-2.1-0.3-1.5-0.7-0.7-0.9-0.1-1.3 0.6-1.4 1.9-1.9 1.6-1.1 3.3-1.6 3.6-1 2-0.2 1.8 0.5 1.2 0.9 0.6 1.2-0.5 2.2-0.7 1.1-2.1 1.8-3.3 1.7-2.7 0.7z"/><path fill="#df00ff" d="M63.5 2l23.8 0.7-0.5-1 0.5-1 1.6-1.1 4.6-1.1 3.8-0.1 2.3 0.4 2.4 0.8 1.3 0.9 0.7 1.5-0.6 1.2 23.8 0.8 0.1-7.5-0.4-6.1-0.7-7.4-0.7-4.5-2.6-11.8-1.7-5.8-3.1-8.5-3-6.9-2-4-2.9-5.3-4.8-7.7-3.5-4.9-4.7-5.9-4-4.5-3.2-3.2-45.1 45.1 2.6 2.7 2.9 3.5 3.4 4.9 3.3 6 2.1 4.8 1.5 4.2 1.8 7.3 0.8 6zM91.1-35.4l-3.3 0-1.8-0.4-1.2-0.7-0.7-0.9-0.2-1.1 0.4-1.4 1.5-2 5-3.2 2.6-1.1 3.4-1 3.3-0.2 1.7 0.7 1.1 0.9 0.6 1.2 0 1.5-0.7 1.7-2.2 2.4-2.4 1.5-2.6 1.1z"/><path fill="#b900ff" d="M63.5 2l21.9 0.7-0.4-1 0.3-1 1.2-1.1 2.9-1.1 2.7-0.6 5.6-0.2 3.7 0.6 2.8 1.2 1.3 1.3 0.3 1.3-0.4 1.2 21.8 0.7 0.1-7.5-0.4-6.1-0.7-7.4-0.7-4.5-2.6-11.8-1.7-5.8-3.1-8.5-3-6.9-2-4-2.9-5.3-4.8-7.7-3.5-4.9-4.7-5.9-4-4.5-3.2-3.2-45.1 45.1 2.6 2.7 2.9 3.5 3.4 4.9 3.3 6 2.1 4.8 1.5 4.2 1.8 7.3 0.8 6zM94.1-35.2l-5.3 0.7-2.4-0.2-1.8-0.6-1.1-0.7-0.6-0.8-0.3-1.1 0.5-1.9 0.7-1.1 2-1.8 2.4-1.6 4.9-2.4 2.7-0.9 3.2-0.7 2.6 0.2 1.6 0.7 1.1 1 0.6 1.3 0.1 1.4-0.5 1.6-0.7 1.1-2.1 2.2-2.4 1.6z"/><path fill="#9300ff" d="M63.5 2l20.1 0.6-0.3-1 0.3-1 1-0.9 2-1.1 1.8-0.6 4.6-0.9 4.7-0.1 1.8 0.1 2.8 0.6 1.9 0.6 1.8 1.1 1.2 1.4 0.3 1.3-0.4 1.3 20.1 0.6 0.1-7.5-0.4-6.1-0.7-7.4-0.7-4.5-2.6-11.8-1.7-5.8-3.1-8.5-3-6.9-2-4-2.9-5.3-4.8-7.7-3.5-4.9-4.7-5.9-4-4.5-3.2-3.2-45.1 45.1 2.6 2.7 2.9 3.5 3.4 4.9 3.3 6 2.1 4.8 1.5 4.2 1.8 7.3 0.8 6zM90.6-34l-3.9 0.1-1.8-0.3-1.5-0.5-1.1-0.7-0.7-1-0.2-1 0.2-1.3 1.1-2 1.4-1.4 2.2-1.6 3.3-1.9 4.2-1.9 2.6-0.9 4.4-0.8 2.2 0.4 2.1 1.3 1.1 1.8 0.1 1.4-0.3 1.6-1.1 2-1.4 1.5-3.1 2.2-2.6 1.2-3.5 1.2z"/><path fill="#6c00ff" d="M63.5 2l18.5 0.6-0.3-1 0.3-1 1.8-1.5 1.9-0.9 4.6-1.3 3.6-0.5 2.8-0.1 4.7 0.4 2.8 0.7 2 0.9 1.7 1.2 0.9 1.3 0.3 1.3-0.4 1.3 18.5 0.6 0.1-7.5-0.4-6.1-0.7-7.4-0.7-4.5-2.6-11.8-1.7-5.8-3.1-8.5-3-6.9-2-4-2.9-5.3-4.8-7.7-3.5-4.9-4.7-5.9-4-4.5-3.2-3.2-45.1 45.1 2.6 2.7 2.9 3.5 3.4 4.9 3.3 6 2.1 4.8 1.5 4.2 1.8 7.3 0.8 6zM93.6-33.9l-3.7 0.6-3 0.1-3.1-0.4-1.6-0.6-0.9-0.6-0.8-1-0.3-1 0.1-1.2 0.6-1.5 1.4-1.9 3-2.3 2.4-1.4 3.3-1.7 5.2-2.1 2.4-0.7 3.8-0.4 2 0.6 1.4 0.9 0.9 1 0.6 1.3 0.3 1.4-0.2 1.5-0.8 1.9-1.3 1.7-2.3 1.9-3.2 1.9-4.4 1.6z"/><path fill="#4600ff" d="M63.5 2l17.1 0.5-0.3-0.9 0.2-1 1.5-1.4 2.7-1.4 5.5-1.5 6.5-0.6 4.6 0.3 2.8 0.6 3.8 1.6 1.6 1.4 0.8 1.3 0.2 1.3-0.3 1.3 17 0.5 0.1-7.5-0.4-6.1-0.7-7.4-0.7-4.5-2.6-11.8-1.7-5.8-3.1-8.5-3-6.9-2-4-2.9-5.3-4.8-7.7-3.5-4.9-4.7-5.9-4-4.5-3.2-3.2-45.1 45.1 2.6 2.7 2.9 3.5 3.4 4.9 3.3 6 2.1 4.8 1.5 4.2 1.8 7.3 0.8 6zM91-32.9l-3.8 0.3-3-0.2-2.3-0.6-1.9-1.1-0.6-0.8-0.3-1 0-1.2 0.4-1.2 1.1-1.8 3-2.6 3.9-2.4 5.6-2.7 4.6-1.7 2.8-0.7 3.4-0.1 1.7 0.7 1.3 0.9 1.5 2.4 0.3 1.4-0.1 1.5-0.5 1.7-1.2 2-3.6 3.1-3.3 1.7-5.3 1.8z"/><path fill="#2000ff" d="M63.5 2l15.6 0.5-0.2-1 0.2-0.9 1-1.2 1-0.7 3.6-1.6 6.4-1.5 3.7-0.4 4.6 0 2.8 0.3 3.8 0.9 1.5 0.6 2.2 1.3 1.3 1.2 0.6 1.1 0.3 1.6-0.3 1.3 15.6 0.5 0.1-7.5-0.4-6.1-0.7-7.4-0.7-4.5-2.6-11.8-1.7-5.8-3.1-8.5-3-6.9-2-4-2.9-5.3-4.8-7.7-3.5-4.9-4.7-5.9-4-4.5-3.2-3.2-45.1 45.1 2.6 2.7 2.9 3.5 3.4 4.9 3.3 6 2.1 4.8 1.5 4.2 1.8 7.3 0.8 6zM94.9-33l-6.1 0.9-4.4 0-2.1-0.3-2.3-0.8-1.1-0.8-0.6-0.8-0.3-1 0.1-1.7 1-2.3 2.4-2.4 3.4-2.3 5.7-3 6-2.6 3.6-1.1 2.5-0.4 2.5 0.3 1.5 0.8 1.2 1 1.5 2.6 0.3 2.7-0.3 1.7-0.9 1.8-1.8 2.1-3.2 2.3-4.2 2z"/><path fill="#0006ff" d="M63.5 2l14.2 0.4-0.2-0.9 0.2-0.9 0.6-0.8 1.8-1.4 2.8-1.3 3.6-1.1 3.7-0.8 4.6-0.5 3.7-0.1 5.6 0.6 2.8 0.7 2.5 1.1 1.8 1.2 1.3 1.4 0.6 1.3 0.2 1.3-0.3 1.4 14.2 0.4 0.1-7.5-0.4-6.1-0.7-7.4-0.7-4.5-2.6-11.8-1.7-5.8-3.1-8.5-3-6.9-2-4-2.9-5.3-4.8-7.7-3.5-4.9-4.7-5.9-4-4.5-3.2-3.2-45.1 45.1 2.6 2.7 2.9 3.5 3.4 4.9 3.3 6 2.1 4.8 1.5 4.2 1.8 7.3 0.8 6zM92.3-32l-5.2 0.5-3.1 0-4.1-0.7-1.2-0.6-0.9-0.7-1-1.8 0.2-2.3 0.7-1.5 1-1.3 2.1-1.9 3.1-2.1 5.7-3 6.8-3.1 4.4-1.5 2.9-0.4 1.1 0 1.5 0.5 1.4 0.9 1.8 2.3 1 2.7 0 3-1.4 3-2.1 2.2-3.2 2.2-6 2.4z"/><path fill="#002dff" d="M63.5 2l12.8 0.4-0.2-0.9 0.2-0.9 0.6-0.9 1.4-1.1 3.8-1.9 2.6-0.8 5.5-1.2 4.6-0.5 5.5-0.1 4.4 0.5 2.1 0.5 1.9 0.6 2.4 1.2 1.7 1.3 1.1 1.3 0.5 1 0.3 1.7-0.3 1.4 12.8 0.4 0.1-7.5-0.4-6.1-0.7-7.4-0.7-4.5-2.6-11.8-1.7-5.8-3.1-8.5-3-6.9-2-4-2.9-5.3-4.8-7.7-3.5-4.9-4.7-5.9-4-4.5-3.2-3.2-45.1 45.1 2.6 2.7 2.9 3.5 3.4 4.9 3.3 6 2.1 4.8 1.5 4.2 1.8 7.3 0.8 6zM97-32.5l-3.6 0.8-4.7 0.6-6.1 0.1-2.9-0.4-2.2-0.9-1.5-1.5-0.4-0.9-0.1-1.1 0.2-1.2 0.6-1.4 1.4-2 4.4-3.4 6.5-3.6 5-2.4 5.2-2.1 4.5-1.3 2.3 0.1 1.1 0.4 1.8 1.3 1.7 2.4 0.6 1.3 0.7 3.5-0.3 1.9-0.5 1.3-0.6 1.1-1.9 2.2-2.5 1.8-3.4 1.7z"/><path fill="#0053ff" d="M63.5 2l11.4 0.4-0.2-0.9 0.2-0.9 0.6-0.9 1.8-1.5 2.8-1.4 3.6-1.2 7.3-1.5 5.6-0.5 4.6 0 3.7 0.4 2.8 0.6 2.9 1 2.2 1.3 2.5 2.5 0.6 1.5 0.2 1.4-0.3 1.3 11.4 0.4 0.1-7.5-0.4-6.1-0.7-7.4-0.7-4.5-2.6-11.8-1.7-5.8-3.1-8.5-3-6.9-2-4-2.9-5.3-4.8-7.7-3.5-4.9-4.7-5.9-4-4.5-3.2-3.2-45.1 45.1 2.6 2.7 2.9 3.5 3.4 4.9 3.3 6 2.1 4.8 1.5 4.2 1.8 7.3 0.8 6zM93.5-31.3l-5.9 0.8-2.6 0.1-5-0.2-2.6-0.6-2-1.3-0.7-0.7-0.3-0.9-0.2-1 0.2-1.2 1.3-2.9 2.3-2.4 3.9-2.6 5.7-3.1 7.5-3.6 4.3-1.8 4.5-1.3 2.2 0.1 1.3 0.6 1.8 1.5 0.9 1.3 1.8 3.9 0.4 2.9-0.2 1.6-1 2.3-1.3 1.7-1.5 1.4-2.4 1.5-6 2.4z"/><path fill="#0079ff" d="M63.5 2l10 0.3 0-1.7 0.5-0.9 0.9-0.9 2.4-1.5 3.8-1.5 4.4-1.2 4.6-0.8 4.6-0.5 6.5-0.2 4.6 0.4 3.8 0.8 2.9 1.2 2 1.3 1.4 1.4 0.9 1.3 0.5 1.4-0.1 2.8 10 0.3 0.1-7.5-0.4-6.1-0.7-7.4-0.7-4.5-2.6-11.8-1.7-5.8-3.1-8.5-3-6.9-2-4-2.9-5.3-4.8-7.7-3.5-4.9-4.7-5.9-4-4.5-3.2-3.2-45.1 45.1 2.6 2.7 2.9 3.5 3.4 4.9 3.3 6 2.1 4.8 1.5 4.2 1.8 7.3 0.8 6zM90.9-30.4l-5.7 0.5-5.5 0-2.5-0.4-2.3-0.9-1.5-1.4-0.6-1.9 0.5-2.3 1-2 2-2.2 4.6-3.1 5.7-3.1 11.7-5.6 3.5-1.4 2.8-0.6 2.2 0.2 1.5 0.9 1.6 1.7 1.5 2.4 1.3 3.6 0.3 3.6-0.3 1.4-1.2 2.3-1.8 1.9-1.1 0.8-4.2 2.2-5.3 1.7z"/><path fill="#009fff" d="M63.5 2l8.6 0.3 0-1.7 0.6-1.1 0.7-0.7 2.1-1.4 3.3-1.5 4.1-1.2 5.3-1.1 7.4-0.8 5.5-0.2 6.6 0.5 4.1 1.1 2.5 1.2 2.8 2.3 1.2 1.8 0.4 1.4-0.1 2.8 8.6 0.3 0.1-7.5-0.4-6.1-0.7-7.4-0.7-4.5-2.6-11.8-1.7-5.8-3.1-8.5-3-6.9-2-4-2.9-5.3-4.8-7.7-3.5-4.9-4.7-5.9-4-4.5-3.2-3.2-45.1 45.1 2.6 2.7 2.9 3.5 3.4 4.9 3.3 6 2.1 4.8 1.5 4.2 1.8 7.3 0.8 6zM96.5-31.1l-5.5 1.1-5.6 0.6-6.9 0.1-2.4-0.3-2.7-1-1.6-1.3-0.7-1.8 0.4-2.2 1.1-2.2 1.9-2.3 3-2.2 3.2-1.9 10.7-5.5 10.1-4.7 3.6-1 2.4 0.5 1.7 1.3 1.3 1.6 1.5 2.5 1.1 2.7 0.4 1.4 0.3 3-0.2 1.6-0.6 1.7-1.8 2.5-2.9 2-2.9 1.3-3.5 1.2z"/><path fill="#00c6ff" d="M63.5 2l7.3 0.2 0-1.7 1-1.6 0.9-0.8 3.6-2 6.4-1.9 4.6-0.9 8.3-0.9 8.3-0.2 5.6 0.5 1.9 0.4 2.7 1 2.2 1.3 1.7 1.4 1 1.3 0.7 1.4 0.3 1.4 0 2.9 7.2 0.2 0.1-7.5-0.4-6.1-0.7-7.4-0.7-4.5-2.6-11.8-1.7-5.8-3.1-8.5-3-6.9-2-4-2.9-5.3-4.8-7.7-3.5-4.9-4.7-5.9-4-4.5-3.2-3.2-45.1 45.1 2.6 2.7 2.9 3.5 3.4 4.9 3.3 6 2.1 4.8 1.5 4.2 1.8 7.3 0.8 6zM93-30l-4.6 0.8-6.7 0.5-5.9 0-3.2-0.6-2.7-1.6-1-1.7 0.2-2.2 1-2 2.5-3.2 1.5-1.1 5.6-3.3 10.7-5.5 12.5-6 2.8-0.6 1.1 0.1 1.2 0.5 2.3 2.1 2.3 3.7 1.1 2.7 0.9 4.4-0.4 3.4-0.8 1.6-1.2 1.4-1.5 1.2-3.4 1.7-5.2 1.8z"/><path fill="#00ecff" d="M63.5 2l6 0.2 0-1.7 0.3-0.8 1.3-1.7 3.1-1.8 5.7-1.9 6.4-1.3 9.2-1 4.6-0.3 5.6 0 5.6 0.5 1.9 0.4 3.2 1.4 2.5 1.9 1 1.1 0.6 1.1 0.8 2.8 0.1 1.5-0.2 1.4 6 0.2 0.1-7.5-0.4-6.1-0.7-7.4-0.7-4.5-2.6-11.8-1.7-5.8-3.1-8.5-3-6.9-2-4-2.9-5.3-4.8-7.7-3.5-4.9-4.7-5.9-4-4.5-3.2-3.2-45.1 45.1 2.6 2.7 2.9 3.5 3.4 4.9 3.3 6 2.1 4.8 1.5 4.2 1.8 7.3 0.8 6zM100.4-31l-6.4 1.3-9.5 1.4-11.3 0.5-3.2-0.4-2.2-1-1.2-1.4-0.4-1.7 0.4-2.2 0.8-1.6 0.8-1.3 2.3-2.6 1.6-1 21.5-10.8 7.3-3.9 3.4-1.5 2-0.3 1.2 0.2 1.4 0.9 1.1 1.1 1.8 2.4 1.4 2.6 1.1 2.7 0.8 2.8 0.3 3-0.2 2.3-0.3 1-0.9 1.5-0.7 0.8-1.6 1.1-2.9 1.5-3 1.1z"/><path fill="#00ffec" d="M63.5 2l4.6 0.1 0.1-1.6 0.5-1.6 2.1-2.1 3.2-1.5 5-1.4 6.4-1.2 10.1-1.1 6.5-0.4 5.5 0 5.6 0.4 2.8 0.7 2 0.9 2.5 2 1 1.4 0.7 1.5 0.6 3.6-0.1 2.2 4.6 0.1 0.1-7.5-0.4-6.1-0.7-7.4-0.7-4.5-2.6-11.8-1.7-5.8-3.1-8.5-3-6.9-2-4-2.9-5.3-4.8-7.7-3.5-4.9-4.7-5.9-4-4.5-3.2-3.2-45.1 45.1 2.6 2.7 2.9 3.5 3.4 4.9 3.3 6 2.1 4.8 1.5 4.2 1.8 7.3 0.8 6zM96.9-29.9l-11 1.9-16.1 1.7-2.9-0.6-1.7-1.2-0.6-0.6-0.7-1.5-0.2-1.8 0.4-2.2 1.5-2.8 2-2.5 1.4-1.2 12-5.2 11.6-5.8 10.5-5.8 2.6-1 1.1 0 1.2 0.2 1.7 1.3 2 2.5 2.2 3.9 1.6 4.1 0.7 2.9 0.2 1.5-0.1 3-0.6 1.8-0.5 0.8-1.5 1.3-3.4 1.7-7 2.3z"/><path fill="#00ffc6" d="M63.5 2l3 0.1 0.1-2.4 0.7-1.6 0.8-1 2.6-1.8 3.7-1.1 9.1-1.7 12-1.3 7.3-0.5 9.3-0.1 5.6 0.6 1 0.3 1.9 1.2 2 2.1 1 2.1 0.6 2.6 0.1 4.4 2.9 0.1 0.1-7.5-0.4-6.1-0.7-7.4-0.7-4.5-2.6-11.8-1.7-5.8-3.1-8.5-3-6.9-2-4-2.9-5.3-4.8-7.7-3.5-4.9-4.7-5.9-4-4.5-3.2-3.2-45.1 45.1 2.6 2.7 2.9 3.5 3.4 4.9 3.3 6 2.1 4.8 1.5 4.2 1.8 7.3 0.8 6zM93.4-28.8l-8.3 1.4-7.5 0.9-8.2 1.8-1.8 0.2-2-0.1-2.5-1.7-1.4-2-0.8-3.2 0.2-2 0.4-1.2 1.2-2.2 1.8-2.4 1.3-1.4 0.8-0.5 2.2-0.9 7.7-2.3 4.3-1.9 10.8-5.3 12-7 2.5-1.2 0.9-0.2 1.8 0.4 2.3 2.1 0.8 1.2 3.5 6.6 1.5 4.2 0.7 2.9 0.3 3-0.2 1.8-0.5 1.4-0.8 0.9-1.6 1-5.2 2-4.4 1.3z"/><path fill="#00ff9f" d="M69.9-6.9l2.5 0.3 8.3-1.1 14.7-1.5 7.4-0.6 11.1-0.5 2.7-0.3 2.8-0.8 1.7-1.2 0.8-0.9 1-1.6 0.5-1.9 0.2-2.7-0.3-2.9-0.6-3-1.4-4.2-1.8-2.6-1.5-1-2.8 0.1-13.5 3.4-24.8 4.4-9.7 3-1.6 1-1.1 1.5-0.5 1.8-0.1 1.7 0.3 2.3 0.6 2.3 1.6 2.9 1.8 1.4zM80.4-46.6l8.5-4 5.7-3.1 8.6-5.5 2.2-1.8 1.2-1.6 0.2-0.9-0.3-1.6-1.2-2.8-3.8-6.3-1.8-2.4-3.1-3.3-2.3-1.9-1.4-0.7-2.7-0.6-3.1 0.7-4 2.5-2.9 2.3-6.8 6.3-7.5 8.2-2.3 3-1.5 2.4-1.2 2.8-0.6 2.1-0.2 1.9 0.5 3.2 1.4 2.4 2.1 1.8 1.1 0.4 1.7 0 4.8-0.7 3.6-0.8z"/><path fill="#00ff79" d="M105.3-10.4l7-0.7 3.3-0.8 3.5-2 1.9-2.4 0.8-3.1 0-1.8-0.3-2.6-0.8-2.8-1.4-2.7-1-1.2-1.7-1.2-1-0.2-3.8 0.3-8.1 1.8-18.4 3.2-8.1 1.9-5.2 1.8-3.3 1.6-1.3 1.3-0.7 1.1-0.5 1.8-0.1 1.7 0.3 1.6 0.6 1.5 1 1.5 2.3 1.6 2.9 0.8 2.8 0.3 5.6-0.2zM83.6-48.4l7.6-3.8 4.8-2.8 6.1-4.3 1.4-1.3 1.1-1.7 0.3-1.8-0.4-1.5-1-2.8-1.4-2.6-4.4-5.9-3.2-2.8-2.2-1.1-2.7-0.2-2.9 0.9-5.5 3.6-4.9 4.2-5.9 5.9-4.7 5.8-2.4 4.3-0.9 3.1 0 2.8 0.6 2 2.4 2.9 2.1 0.9 3.6 0 4.8-0.8z"/><path fill="#00ff53" d="M80-8.9l8.9-0.4 16.6-1.7 4.5-0.6 3.8-1 3.4-1.9 1.7-1.6 1-1.5 0.5-1.6 0.1-2.9-0.5-2.9-0.5-1.4-1.8-2.5-1.4-1.1-2.8-0.8-1.4 0.1-22.1 3.6-8.1 1.8-7.9 2.8-3.3 1.8-1 0.9-1.2 1.6-0.6 2.4 0 0.8 0.5 1.6 1 1.5 2.2 1.4 4.3 1.2zM87.7-50.8l8.1-4.6 4.5-3.3 2.4-2.4 1-2.3-0.5-3-0.6-1.5-2-3.8-1.7-2.4-3-3.3-1.2-0.9-2.5-1.3-1.5-0.2-3.1 0.6-2.6 1.3-3.9 2.6-4.9 4.2-4.6 4.6-4.7 5.8-1.6 2.7-1.4 3.9 0 2.7 0.5 1.9 1.1 1.6 1.4 1.4 0.9 0.5 1.3 0.3 1.6 0.2 2-0.1 4.8-0.8 5.2-2z"/><path fill="#00ff2d" d="M86.5-9.6l11.6-1.1 9.2-1.2 5.3-1.5 1.8-0.9 2.1-1.4 1.3-1.3 1.1-1.9 0.5-3-0.2-1.5-1-2.7-1.6-2-2.2-1.2-2.1-0.4-3.1 0.1-16.3 2.4-8.2 1.7-4.4 1.4-5.9 2.7-3.2 2.5-1.5 2.6 0 1.8 0.3 0.8 1.4 1.5 2.4 1.2 3.8 1 4.8 0.5zM80.7-48l6.9-3.1 7.2-4.2 5.1-4 1.4-1.4 1.1-1.7 0.2-2-0.3-1.6-0.9-2.7-1.4-2.6-1.7-2.4-2-2.2-2.3-1.8-1.4-0.7-2.2-0.3-3.1 0.6-3.6 1.9-5 3.7-4.8 4.4-4.3 4.9-2.7 3.9-1.3 2.8-0.6 2.7 0.4 2.9 1.2 2.2 1.3 1.2 2.5 1 2.7 0.1 3.4-0.3z"/><path fill="#00ff06" d="M82.5-10.1l8.1-0.2 8.3-0.9 4.6-0.7 4.5-1 2.7-0.9 2.7-1.3 1.7-1.2 2.2-2.4 0.6-1.5 0.2-1.5-0.5-2.8-0.7-1.3-2.1-1.8-2.1-0.9-3-0.3-9.3 0.9-7.4 1.1-6.3 1.3-5.3 1.7-4.3 2-3.2 2.2-1.7 1.9-0.6 1-0.2 0.9 0.4 1.7 0.7 0.9 1.1 0.8 2.8 1.2zM83-49.4l4.4-2 7.2-4.3 3.3-2.5 2.3-2.4 1.1-1.8 0.4-1.4-0.5-3.1-0.6-1.7-1.2-2.3-1.7-2.4-1.9-2.1-2.5-1.7-1.5-0.6-2.1-0.1-3.6 1.1-5.6 3.5-4.2 3.6-3.3 3.3-2.4 2.8-2.7 3.9-1.3 2.8-0.5 2.3 0 1.1 0.5 2.2 1.8 2.4 1.8 1.2 2.4 0.4 4.3-0.2 2.8-0.7z"/><path fill="#20ff00" d="M86.2-10.6l7.2-0.4 9.1-1.3 5.4-1.5 3.6-1.5 2.1-1.4 1.2-1.1 1.4-2.1 0.4-1.5 0-1.4-0.5-1.4-0.8-1.2-1.5-1.1-1.8-0.8-2-0.5-3.9-0.1-8.4 0.8-7.3 1.2-5.4 1.4-5.2 2.1-3.2 2-2.4 2.2-0.7 1-0.3 1.1 0 0.9 0.3 0.8 0.6 0.8 1 0.7 3.3 1.3 2.8 0.6zM85.8-51.1l4.7-2.4 4.6-3.1 4.1-3.9 0.6-0.8 0.9-2.1 0-1.7-0.5-2.5-2.1-4.1-2.9-3.2-1-0.8-2-1-2.6-0.2-3 0.8-2.6 1.3-3.9 2.6-5.5 4.9-3.1 3.5-2.7 3.9-1.2 2.7-0.5 3 0.5 2.3 1 1.7 1.6 1.4 1.1 0.5 3.1 0.4 3.1-0.2 3.7-1z"/><path fill="#46ff00" d="M93.1-11.5l4.6-0.5 5.6-1.2 4.5-1.5 3.2-1.6 2.1-1.7 1.4-1.9 0.4-1.2 0-1.4-0.5-1.3-1-1.2-1-0.7-3.1-1.1-3.9-0.4-3.8 0.2-5.6 0.6-8.2 1.6-4.4 1.5-3.4 1.7-2.3 1.5-2.4 2.5-0.5 2 0.3 0.9 0.7 0.8 2.4 1.3 3.9 1 3.8 0.4 3.7 0zM81-49.5l5.2-2.2 5.6-3.1 5.1-4.1 0.8-0.8 1.8-2.7 0.3-1.9-0.1-1.6-0.8-2.9-2.3-3.7-2-2-1.3-0.8-1.5-0.6-2.7-0.1-2.9 0.8-3.9 2.1-3.3 2.4-4.7 4.4-3 3.6-1.6 2.4-1 2.1-0.5 1.8-0.1 1.5 0.4 2.3 1.8 2.5 2.3 1.2 2.4 0.3 2.6-0.1z"/><path fill="#6cff00" d="M87.3-11.8l5-0.1 5.5-0.7 5.4-1.3 4.5-1.8 3-1.9 1.5-1.6 0.7-1.5 0.1-1.4-0.5-1.3-1.2-1.2-2.7-1.2-2.1-0.5-4.1-0.2-9 1-5.4 1.2-4.4 1.6-4.2 2.4-2.4 2.3-0.5 1.1-0.1 1 0.3 0.9 0.7 0.8 2.9 1.4 2.6 0.6zM82.9-50.7l3.9-1.7 4.8-2.8 3.7-2.9 2.9-3.5 0.7-2.9 0-0.9-0.7-2.9-1.3-2.6-0.9-1.1-0.7-0.8-2.7-1.9-1.7-0.5-2.1 0-4 1.3-3.2 1.9-3.7 2.9-3.3 3.2-3.5 4.4-1.2 2.3-0.8 2.5 0 2.3 0.7 2 1.6 1.8 1.8 0.9 1.3 0.3 2.3 0.1 3.9-0.6z"/><path fill="#93ff00" d="M92.7-12.5l5-0.7 3.7-0.9 4.4-1.7 2.4-1.4 1.8-1.7 0.7-1.2 0.3-1.6-0.6-1.3-1.2-1.1-2-0.9-2.4-0.6-5.7-0.1-5.6 0.7-4.5 1-4.4 1.6-1.7 0.9-2.8 1.8-1.3 1.3-0.6 1-0.2 1.2 0.3 0.9 0.8 0.8 1.2 0.7 2 0.7 3.4 0.6zM85.3-52.1l6.1-3.5 2.2-1.7 3.1-3.4 1-2.2 0.2-3.1-0.8-2.8-1.7-2.7-1-1-1.2-0.9-1.4-0.6-1.8-0.4-2.4 0.2-4.1 1.6-3.8 2.6-3.5 3.1-3.1 3.5-1.6 2.4-1.3 3-0.3 1.6 0.1 1.3 0.7 2.1 1.4 1.6 2.1 1.1 1.5 0.3 3.8-0.2 2.8-0.7z"/><path fill="#b9ff00" d="M88.6-13l3.6-0.1 4.5-0.6 2.8-0.6 4.4-1.6 1.7-0.9 2.5-2.2 0.6-1 0.2-1.3-0.5-1.3-1.2-1-2.1-0.9-3-0.5-3.8 0-7.4 1.1-5.2 1.8-3.4 1.9-1.6 1.3-0.9 1.3-0.2 1 0.3 0.9 0.8 0.9 1.5 0.7 2.4 0.7zM81.6-51.2l4.8-1.9 4-2.4 3.6-2.9 1.3-1.5 1-1.7 0.3-0.6 0.3-1.9-0.2-3.2-1.2-2.6-0.8-1.1-2.3-1.8-2.4-0.7-2.3 0.1-2 0.5-2.6 1.2-3.1 2.1-2.8 2.4-2.6 2.7-2.3 3.2-0.8 1.7-0.6 2.2 0.2 2.8 1.1 1.8 1.7 1.4 2.8 0.7 2 0z"/><path fill="#dfff00" d="M87-13.9l4.1 0.2 4.6-0.5 5.4-1.5 1.8-0.8 2.4-1.6 1.3-1.5 0.1-1.6-0.4-0.9-1.3-1.1-2.7-0.8-2.9-0.3-5.6 0.5-5.4 1.4-3.4 1.5-2.3 1.6-1.1 1.3-0.3 1.1 0.3 0.9 0.9 0.8 1.6 0.8zM83.4-52.3l4.4-2.1 3.8-2.6 1.6-1.5 2.1-2.9 0.6-2 0.1-1.7-0.6-2.9-1.5-2.4-2.3-1.7-1.6-0.5-2.1-0.1-3 0.8-3 1.6-1.6 1.1-4.1 3.7-2.4 3-1.4 2.6-0.6 1.9 0 1.7 0.6 2 1.4 1.6 2.3 1.1 1.5 0.2 3.2-0.2z"/><path fill="#fff900" d="M90.7-14.5l4-0.3 3.6-0.8 3.5-1.5 0.9-0.5 1.6-1.6 0.4-1.3-0.5-1.2-1.5-1-1.1-0.3-1.6-0.3-3.2-0.1-2.8 0.3-3.6 0.8-3.5 1.4-2.5 1.6-0.8 0.9-0.5 1.1 0.3 1 1 0.8 2 0.7zM86.2-54.1l2.9-1.7 2.2-1.7 2.6-3 0.8-2 0.3-1.9-0.1-1.6-1-2.7-1.9-2-1.3-0.7-1.7-0.4-2.3 0.1-1.9 0.6-1.8 0.8-3.8 2.6-3.9 4-1.8 2.9-0.7 2-0.1 1.6 0.6 2.3 1.4 1.6 1.1 0.6 2.4 0.5 3-0.1z"/><path fill="#ffd200" d="M89.6-15.4l4.1-0.1 1.8-0.3 3.8-1.2 2.4-1.7 0.6-1.2-0.1-0.5-0.4-0.8-1.7-0.9-3.8-0.4-4.8 0.8-2.7 0.9-2.5 1.5-1.1 1.5 0.3 1 1.2 0.9zM82.8-53.4l3.6-1.4 3.1-2 2.7-2.6 1.1-1.9 0.6-2.3 0-1.7-0.3-1.5-1.4-2.3-2.1-1.4-2.2-0.4-1.6 0.2-1.9 0.5-2.6 1.3-4.3 3.6-2.3 2.9-0.9 1.8-0.6 2.2 0.1 1.7 1 2 1.1 0.9 2.3 0.8 2.8 0z"/><path fill="#ffac00" d="M90.1-16.5l2.4 0 2.8-0.4 2.8-1.1 1.3-1.5-0.6-1.1-2.5-0.6-2.8 0.2-1.8 0.4-2.1 0.8-1.6 1.5 0.2 1zM85.3-55l2.4-1.3 2.2-1.7 1.8-2.3 0.9-2 0.2-2.3-0.2-1.5-0.6-1.2-0.8-1.1-1.1-0.8-1.4-0.6-2.8 0-2.3 0.7-2.1 1.2-2.2 1.7-2 2-2.1 3.3-0.3 1.1-0.2 1.2 0.4 2.3 0.7 0.9 2 1.3 1.5 0.3 2.2-0.1z"/><path fill="#ff8600" d="M83.4-55.1l2.2-0.9 2.4-1.5 1.4-1.2 1.7-2.5 0.6-2.4-0.2-1.7-0.5-1.3-0.8-1-1.2-0.8-1.5-0.5-2.3 0.1-2.5 1-2.3 1.5-1.4 1.3-1.8 2.2-0.9 1.7-0.4 1.1-0.1 1.7 0.4 1.2 0.6 0.9 0.9 0.7 2 0.7z"/><path fill="#ff6000" d="M82.5-56l1.8-0.4 1.7-0.8 2.2-1.7 1.4-1.8 0.7-2.1 0-1.6-0.4-1.3-0.8-1.1-1.5-0.8-2.4-0.1-2.8 1-2.9 2.3-1.2 1.5-0.9 1.7-0.4 2 0.3 1.2 0.6 1 1 0.7 1.5 0.4z"/><path fill="#ff3900" d="M82.2-57.2l3.1-1 1.5-1.1 1.2-1.5 0.5-0.8 0.3-1.8-0.3-1.3-0.8-1.1-1.3-0.6-2.4 0.2-1.7 0.8-1.5 1.1-1.2 1.4-1.1 2.6 0.2 1.3 0.6 1 0.8 0.5z"/><path fill="#ff1300" d="M82.7-59l1.7-0.5 2-2 0.3-1.2-0.1-0.7-0.8-0.9-1.6-0.2-1 0.3-2.1 1.8-0.5 2 0.6 1z"/></g></g></g>
<g transform="translate(10.45 492.3) scale(0.99 1)"><g clip-path="url(#cl)"><g filter="url(#bl)"><rect x="40" y="-100" width="100" height="110" fill="#ff0013"/><path fill="#ff0039" d="M64.9 2l60.4 1.9 0.4-5.9 0-4.5-0.5-7.4-0.8-5.9-1.1-5.9-1.9-7.2-3.6-9.8-1.8-4-3.7-6.4-2.7-3.6-3-3.4-3.4-3-3.7-2.7-5.8-2.9-3.1-1.1-2.9-0.7-2.7-0.4-2.5 0-4.2 0.8-3.5 1.6-4.5 3.3-3.9 3.9-3.4 4.6-2.1 4.6-1.2 4.4-0.8 4.6-0.4 4.4 0.1 4.8 0.9 5.7 3.8 15 1.2 8.3z"/><path fill="#ff0060" d="M66.6 2.1l56.9 1.8 0.4-4.4 0.1-5.9-0.6-8.8-1.1-7.3-1.3-5.7-1.2-4.2-2-5.6-3-6.7-2.2-3.8-2.7-3.9-2.6-3.2-3.2-3.1-3.5-2.8-3.2-1.9-3.7-1.8-4.1-1.3-5.2-0.7-3.5 0.3-2.8 0.8-4.2 2.2-3.6 2.9-3.6 4.3-2.4 4.4-1.1 3.1-1.5 6.2-0.7 5.7 0 3.9 0.7 5.9 3.4 16.3z"/><path fill="#ff0086" d="M67.5 2.1l55 1.7 0.5-5.8 0-7.3-1.3-11.6-2.4-9.9-2.7-7.5-3.6-7.2-3.2-4.9-1.9-2.3-2.6-2.7-3.9-3.3-3.9-2.5-2.9-1.4-4.7-1.6-4.9-0.7-3.3 0.2-3.9 1.1-4.1 2.3-3.5 3.2-2.5 3.4-2 4.1-1.1 3.2-1.2 4.7-0.8 5.4-0.2 5 0.9 7.7 2.7 14.1z"/><path fill="#ff00ac" d="M68.3 2.1l53.3 1.7 0.4-2.9 0.3-5.7-0.5-10.2-1.7-10-1.1-4.2-2.4-6.9-1.2-2.8-3.3-6.2-1.6-2.5-3.3-4.1-3.6-3.5-2.3-1.8-2.6-1.7-4.2-2.2-4.2-1.4-3.8-0.7-4.5 0.2-3 0.7-4.2 2.2-2.8 2.4-2.4 2.9-2.2 4-1.8 4.9-1 4.1-0.9 5.7-0.2 4.9 0.7 6.9 2.3 12.7z"/><path fill="#ff00d2" d="M68.9 2.2l51.9 1.6 0.6-4.3 0.2-4.3 0-4.4-0.4-5.7-1.1-7.2-1-4.2-1.2-4.1-2-5.5-1.8-3.9-2.1-3.8-2.4-3.6-3-3.5-3-2.9-2.4-1.9-2.5-1.7-4.2-2.2-3.1-1.1-4.9-0.9-2.3 0-2.9 0.4-3 1-3.2 1.9-3.4 3.2-1.6 2.3-2.4 4.8-1.6 5.2-1.2 6-0.4 4.2 0 3.7 0.5 5.1 1.8 10.5z"/><path fill="#ff00f9" d="M69.6 2.2l50.5 1.6 0.6-4.3 0.3-5.7-0.4-8.6-1.4-8.6-1.9-6.9-1.5-4-2.4-5.2-2.2-3.8-2.5-3.5-2.7-3.1-3.5-3.2-3.6-2.6-3.3-1.8-2.9-1.2-5.2-1.2-3.6 0-3.8 0.8-2.5 1.2-1.6 1-3.4 3.2-2.2 3.2-1.9 4-1.1 3.2-1.2 5.1-0.8 6.3 0 4.7 0.7 6.7z"/><path fill="#df00ff" d="M70.2 2.2l49.1 1.5 0.7-4.2 0.4-5.7-0.4-8.6-0.8-5.6-0.9-4.2-2.6-8.2-3-6.5-3.3-5.2-2.5-3-2-2.1-3.3-2.9-3.3-2.3-3.3-1.7-3.1-1.2-4.6-0.9-3.3 0.1-3 0.6-1.8 0.7-2.4 1.4-2.8 2.5-1.8 2.2-2.5 4.6-1.3 3.5-1.2 4.7-0.9 6.2-0.2 4.1 0.2 4 0.8 6.7z"/><path fill="#b900ff" d="M70.7 1.4l0.2 0.8 0.9 0.1 46.8 1.4 0.9-5.6 0.2-2.8 0.1-4.3-0.5-7.1-1.6-8.4-2.1-6.8-3.6-7.7-2.3-3.7-3.3-4.1-1.9-2-3.9-3.3-2.9-1.9-3-1.5-5.3-1.6-2.4-0.2-3.2 0.1-3.8 1.1-3.2 1.9-2.7 2.6-1.2 1.5-2.5 4.6-1.9 5.8-1 4.7-0.5 4.2-0.1 5.7 1.3 11.7z"/><path fill="#9300ff" d="M71.5 2.2l46.3 1.5 1-5.6 0.3-4.2-0.1-7.1-1.2-8.4-1.9-6.9-1.3-3.6-2.6-5.5-1.5-2.4-1.6-2.4-3.4-4.1-3.6-3.4-1.7-1.3-1.6-1.1-4.4-2.3-4-1.2-3.5-0.4-3.2 0.3-1.9 0.5-2.5 1.2-3 2.2-2.5 2.9-2.1 3.6-1.3 3.2-1.4 5-0.7 4.1-0.5 5 0 4 0.3 4.1 1.4 10.7z"/><path fill="#6c00ff" d="M72.2 2.3l44.9 1.4 0.8-4.2 0.6-5.6-0.2-8.5-1.4-8.3-0.7-2.7-2.4-6.7-3.2-6.3-4.1-5.6-1.9-2.1-3.5-3.1-3.2-2.2-3-1.6-3.5-1.2-3.8-0.6-3.4 0.2-2.8 0.8-3.2 1.8-2.8 2.5-2.3 3.3-1 1.9-1.4 3.5-1.3 4.8-1.1 8.7 0 4.6 0.2 3.5 1.3 10 1 5.8z"/><path fill="#4600ff" d="M72.6 1.4l0.3 0.9 43.5 1.4 0.9-4.2 0.6-5.6-0.2-8.4-1.4-8.3-1.6-5.4-1.5-3.9-3.3-6.2-1.6-2.4-3.7-4.4-2-2-3.9-3-4.4-2.3-2.6-0.9-3.6-0.6-3.2 0.1-3.7 1.1-2.4 1.4-3.4 3.3-1.7 2.5-1.8 3.8-1.6 5.2-0.7 3.5-0.5 4.2-0.2 5.7 0.4 6.1 0.9 6.7 1 5.8z"/><path fill="#2000ff" d="M73.6 2.3l42.1 1.3 1.4-7.6 0.2-3.4-0.2-7-1.4-8.3-0.7-2.7-1.9-5.2-1.8-3.8-2.1-3.7-4.3-5.6-3.8-3.6-2.9-2.1-2.7-1.5-3.1-1.2-3.6-0.7-2.4 0-1.9 0.2-1.8 0.5-2.5 1.2-3.1 2.5-2.3 2.9-2 3.9-0.8 2.1-1.1 3.8-0.9 5.1-0.4 5.4 0 4.6 1.1 10.2 2 9.9z"/><path fill="#0006ff" d="M74.3 2.3l40.7 1.3 1.5-8.2 0.2-2.8-0.1-5.6-0.4-4.1-1.1-5.5-2.6-7.9-3.2-6.2-3.3-4.6-1.9-2.1-2-2-3.5-2.7-2.7-1.6-2.9-1.2-3.6-0.8-2.4-0.1-2.8 0.4-3.5 1.4-2.9 2.3-2.5 3.1-1.6 3.1-1.1 2.8-1.1 3.8-0.8 4.4-0.5 6 0 3.7 0.3 4.4 1.3 9.3 1.6 6.8z"/><path fill="#002dff" d="M74.9 2.4l39.4 1.2 1.4-6.8 0.3-2.8 0.1-5.5-0.7-6.9-1.2-5.4-1.4-4.2-1.5-3.6-2-3.7-2.2-3.5-1.8-2.2-2.9-3.1-2.2-1.9-3.8-2.5-2.7-1.2-2.5-0.7-3.5-0.4-3.9 0.6-2.5 1.1-3 2.3-1.3 1.5-2 3-1.4 3.1-1.4 4.5-0.6 3.1-0.7 5.9-0.1 3.8 0.5 7.9 0.6 4.3 1 5.1z"/><path fill="#0053ff" d="M75.3 1.5l0.3 0.9 38 1.2 0.8-3 0.8-5 0.3-7-0.8-7.5-1.1-4.8-1.8-5.2-1.1-2.5-2.7-4.8-4.3-5.6-2.1-2-3.5-2.7-2.6-1.5-2.5-1-2.4-0.6-3.3-0.2-2.9 0.5-2.6 1.1-2.3 1.6-2 2.1-2 3.1-1.2 2.6-1.6 5.2-0.6 3.1-0.6 5.5 0 6.5 0.7 7 0.9 5.1z"/><path fill="#0079ff" d="M76.3 2.4l36.6 1.1 1.3-5.3 0.4-2.7 0.3-6.9-0.3-4.1-0.9-5.4-1.1-4-1.4-3.8-1.2-2.7-2.2-3.9-2.9-4.1-1.9-2.1-3.2-2.9-2.5-1.7-4.4-2-3.9-0.7-2.6 0.1-2.4 0.6-3.3 1.8-2.2 2-1.7 2.3-1.6 3.1-1.3 3.5-1.3 6.1-0.5 5.1 0.1 7.4 1.3 9.5 1 4.2z"/><path fill="#009fff" d="M77 2.4l33.6 1.1 1.6 0 0.3-0.8 1.1-4.5 0.4-2.7 0.3-6.8-0.3-4.1-0.6-4-1.8-6.6-1-2.6-2.4-4.9-4-5.6-2.8-3-2.4-1.9-2.1-1.4-3.5-1.6-2.9-0.7-3.3-0.1-1.8 0.3-2.6 1-2.3 1.6-2.6 2.9-1.7 2.8-1.5 3.8-1 3.6-0.7 4.4-0.3 3.9 0.1 6.5 0.4 4.4 0.9 5.3 1.3 5.2z"/><path fill="#00c6ff" d="M77.3 1.5l0.4 0.9 0.6 0.1 32.3 1 0.9 0 0.5-1.3 1.4-6.7 0.3-4.1-0.1-4.6-0.8-6.1-0.6-2.7-2.2-6.4-1.8-3.7-2.1-3.5-4.1-4.9-1.5-1.4-3.6-2.6-4.6-1.9-3.4-0.5-3 0.3-1.8 0.6-2.4 1.4-2.1 1.9-1.9 2.5-2.1 4.4-0.8 2.5-0.8 3.5-0.6 5.2 0 8.4 1.1 7.9 1.3 5.3z"/><path fill="#00ecff" d="M78 1.5l0.4 1 32.2 1 0.2 0 0.5-1.3 1.2-4.9 0.4-3.1 0.2-2.7-0.1-5.4-0.5-4-0.9-4-1.7-5.1-3-6.1-2.5-3.7-1.6-1.8-2-2-3.5-2.7-2-1.1-2.4-0.9-2.4-0.5-2.2-0.1-1.9 0.2-3.5 1.4-2.2 1.7-1.9 2.3-1.2 1.9-1.5 3.3-1.2 4.2-0.8 5-0.2 7.7 1 9 1.5 6.2z"/><path fill="#00ffec" d="M79.1 2.5l31.1 1 0.8-2.6 0.7-2.7 0.6-4 0.2-6.7-0.6-5.3-1.2-5.2-1.4-3.9-2.3-4.9-1.9-3-2-2.5-4.5-4.2-2.2-1.4-3.1-1.4-3.9-0.7-2.5 0.2-2.7 0.9-1.6 1-1.5 1.2-2.5 3.2-1.6 3.1-0.9 2.6-1.2 5.7-0.4 4 0.2 8.5 0.6 4.4 1.2 5.4 1.4 4.5z"/><path fill="#00ffc6" d="M79.8 2.5l29.7 0.9 1.2-3.6 0.8-4.1 0.4-4.1-0.2-6.7-1.2-6.5-0.8-2.6-1.9-4.7-2-3.7-3.4-4.5-2-2-4-2.9-3.8-1.6-2.2-0.4-3.1 0.1-1.8 0.5-2.5 1.3-2.1 1.9-1.9 2.6-1.5 3.1-0.9 2.6-0.8 3.3-0.6 4.3 0 8.6 0.7 5.4 1.3 5.9 1.7 5z"/><path fill="#00ff9f" d="M80 1.6l0.5 0.9 1.5 0.1 26.8 0.8 1.3-3.9 1-5.2 0.2-6.7-0.8-6.5-0.6-2.6-1.7-5.1-2.4-4.8-2.9-4.1-1.2-1.3-3.4-3.1-2.7-1.6-2.8-1.1-2-0.4-2.1-0.1-2.8 0.6-2.4 1.3-1.5 1.2-2 2.3-1.5 2.8-1.1 2.7-1.3 5.6-0.4 4.1 0.1 6.7 0.5 4.6 0.9 4.5 1 3.5z"/><path fill="#00ff79" d="M80.7 1.6l0.5 1 26.8 0.8 1.4-3.8 1.1-5.3 0.3-5.3-0.6-6.6-2.1-7.6-2.8-5.7-1.8-2.7-2.5-3-2.2-1.9-2.7-1.8-1.3-0.7-2.4-0.8-2.2-0.3-2.9 0.2-1.8 0.6-2.4 1.5-1.4 1.4-2.1 3-1.3 2.9-0.9 2.8-1 6.1-0.1 6.8 0.6 5.5 0.9 4.5 1.7 5.5z"/><path fill="#00ff53" d="M81.9 2.6l25.4 0.8 2.1-6.4 0.8-6.6-0.1-3.9-1-6.5-2.1-6.3-3.2-5.8-3.6-4.2-3.4-2.7-2.9-1.4-2.2-0.6-2.1-0.2-2.8 0.5-1.7 0.7-2.3 1.7-1.9 2.3-1.6 2.9-1.8 6.1-0.6 5.2 0 4.8 0.7 6.5 0.8 3.7 1.4 4.6z"/><path fill="#00ff2d" d="M82.7 2.6l23.8 0.7 1.4-3.3 0.9-3.2 0.8-6.4-0.2-5.2-0.9-5.1-1.6-5.1-2.3-4.7-2.3-3.3-1.8-2-3.4-2.9-2.8-1.4-2.1-0.7-3.1-0.2-1.9 0.4-1.7 0.7-2.3 1.7-1.3 1.5-1.5 2.4-1.9 5.1-0.6 2.9-0.4 4.5 0 3.9 0.4 4.7 1.1 5.5 0.8 2.8z"/><path fill="#00ff06" d="M83.5 2.6l22.2 0.7 1.3-2.7 1.1-3.6 0.8-5.2-0.1-6.5-0.9-5.1-2.1-6.2-2.1-3.9-3-3.9-3.1-2.8-2.8-1.6-1.7-0.6-2.1-0.4-2.5 0.1-1.7 0.5-1.7 0.9-2.2 1.9-1.3 1.8-1.4 2.8-1.2 3.6-0.9 6.4 0 4 0.4 4.7 1.4 6.6 1.1 3.3z"/><path fill="#20ff00" d="M83.7 1.6l0.6 1.1 20.6 0.6 1.7-3.7 1.1-3.9 0.7-6.4-0.2-3.9-0.6-3.8-1-3.8-2-4.8-2-3.3-3.1-3.7-4-2.9-3.5-1.2-2.1-0.1-1.9 0.3-2.2 0.9-1.8 1.4-2 2.6-1.1 2.1-1.4 4.3-0.8 6.3 0.1 4.9 0.3 2.8 0.9 4.7 0.8 2.8 1 2.8z"/><path fill="#46ff00" d="M84.6 1.7l0.6 1 18.8 0.6 2-4.2 1.3-4.6 0.4-3.9-0.1-5.1-0.9-5.1-2.2-6.1-1.9-3.4-3.5-4.2-3.6-2.6-1.5-0.7-2-0.5-3.5 0.1-1.8 0.7-1.6 1-1.6 1.6-1.1 1.6-1.3 2.7-1 3.6-0.5 2.7-0.3 3.6 0.1 3.9 0.6 4.8 0.6 2.8 1.3 4.1 1.9 4.3z"/><path fill="#6cff00" d="M85.5 1.7l0.7 1 16.8 0.5 2.1-3.6 0.9-2.5 0.6-2.6 0.5-5.1-0.3-5.1-1.1-5-1.3-3.6-2.5-4.6-2.8-3.3-3.3-2.5-1.8-0.9-1.5-0.4-1.7-0.2-1.9 0.2-2.6 1.1-0.8 0.6-1.6 1.6-1.1 1.7-1.2 2.5-1 3.6-0.5 3.2-0.1 5 0.8 6.7 1.7 5.8 1.7 3.9z"/><path fill="#93ff00" d="M86.4 1.7l0.8 1 14.8 0.5 2.2-3.5 1.7-5.2 0.5-3.8-0.1-5.1-0.3-2.5-0.9-3.7-1.4-3.6-1.8-3.4-2.5-3.2-2.5-2.2-2.5-1.4-1.5-0.5-1.7-0.2-1.9 0.1-2.6 1.1-0.8 0.6-1.4 1.4-1.3 1.9-1.1 2.4-0.9 3.4-0.6 5.4 0.5 6.9 0.8 3.8 0.9 2.9 1.7 3.9z"/><path fill="#b9ff00" d="M87.5 1.7l0.9 1.1 12.4 0.4 2.5-3.5 0.9-2 1.4-5.6 0.2-3.9-0.5-5-1.3-4.9-1.6-3.5-2.2-3.5-2.8-2.8-2.5-1.6-2.3-0.8-2-0.1-1.8 0.3-1.7 0.8-1.5 1.3-1.4 1.7-1 2-0.9 2.4-0.7 3.4-0.3 3.1 0.1 4 1 6.1 1.5 4.6 0.8 1.7 1.9 3.2z"/><path fill="#dfff00" d="M88.7 1.7l1.2 1.1 9.6 0.2 2.1-2.2 1.4-2.4 1-2.5 1-5.1 0-5-0.6-3.7-1.1-3.6-1.6-3.5-1.4-2.2-2.7-3-2.3-1.6-2.2-0.9-2.3-0.2-1.6 0.3-2 1-1.9 1.8-1.8 3.4-1.3 5.2-0.1 6.1 0.5 3.9 0.7 2.9 1.3 3.8 1.1 2.1 2 3.1z"/><path fill="#fff900" d="M90.2 1.8l1.9 1.1 5 0.2 1.5-0.8 1.7-1.5 1.7-2.4 1.2-2.7 0.8-3.5 0.4-3.8-0.3-3.7-0.7-3.7-1.3-3.5-1.9-3.4-1.6-2.1-2.1-1.9-3-1.5-2.1-0.3-1.8 0.2-1.7 0.8-2 1.9-0.9 1.3-1.1 2.5-0.5 1.7-0.6 4 0.2 6.1 0.8 3.9 0.9 2.9 0.8 2 2 3.4z"/><path fill="#ffd200" d="M92.6 1.8l1.4 0.4 2.8-0.3 2-1.1 1.7-1.8 1.7-3 0.8-2.5 0.4-2.5 0.2-3.7-0.2-2.5-0.8-3.6-1.3-3.6-1.2-2.2-2.5-3.1-1.3-1.1-2.7-1.4-1.7-0.3-1.9 0.2-1.7 0.8-1.5 1.3-1.2 1.7-1.1 2.5-0.6 2.3-0.4 5.3 0.8 6 1.2 4 1 2.1 1.1 1.9 1.7 2 1.9 1.6z"/><path fill="#ffac00" d="M93.3 0.7l1.6 0.2 1.9-0.4 1.5-0.9 2.1-2.4 0.7-1.2 1-2.8 0.5-2.1 0.2-3.8-0.4-3.6-0.6-2.4-0.8-2.3-1.8-3.4-1.7-2-1.9-1.6-2.3-1-2-0.1-1.8 0.4-1.6 1.1-1.4 1.7-0.8 1.6-0.9 2.7-0.3 1.9-0.1 5.2 0.7 4 0.9 3 1.4 3 1.4 2 1.5 1.6 0.9 0.7z"/><path fill="#ff8600" d="M91.6-1.5l1.5 0.7 1.8 0.3 1.9-0.5 2.2-1.7 1.4-2.2 0.6-1.5 0.4-1.2 0.5-3.7 0-2.5-0.6-3.6-0.7-2.3-1.1-2.3-2.2-3.1-1.2-1.1-1.2-0.8-2.2-0.7-1.9 0.1-0.8 0.3-1.7 1.1-0.7 0.8-1.1 2-0.7 1.9-0.5 2.7-0.1 2.1 0.5 5.1 1.7 5 1.9 3.1z"/><path fill="#ff6000" d="M92.5-2.6l1.5 0.5 0.9 0 1.9-0.6 0.9-0.6 2.1-3 0.8-2.5 0.4-3.6-0.2-2.4-0.8-3.6-0.5-1.4-1.7-3-1.9-2-1.6-1-2.1-0.4-0.9 0.1-1.5 0.6-1 0.8-1.4 2.1-0.5 1.2-0.5 2.3-0.2 4.3 0.7 4.1 1.6 4 1.4 2.1 1 1z"/><path fill="#ff3900" d="M91.9-4.7l1.1 0.6 1.9 0.2 0.9-0.2 1.4-0.9 1.7-2.4 0.7-2.5 0.3-2.4-0.3-3.6-1.1-3.4-0.6-1.1-1.5-2.1-1.6-1.3-1.1-0.5-1-0.1-1 0-0.8 0.3-1.6 1.2-1.3 2.4-0.7 3.4 0.2 4.4 0.8 2.9 1.8 3.3z"/><path fill="#ff1300" d="M94.3-6l1.4-0.3 1.2-1 0.8-1.2 0.5-1.2 0.4-2.4 0-1.9-0.6-2.8-1.6-3.3-2.1-1.9-2-0.4-0.9 0.3-0.8 0.6-1.3 1.8-0.7 2.4 0 3.2 0.7 3.1 0.9 2.1 0.7 1 1 1 1 0.6z"/></g></g></g>
<g transform="translate(100.35 492.3) scale(0.99 1)"><g clip-path="url(#cl)"><g filter="url(#bl)"><rect x="40" y="-100" width="100" height="110" fill="#ff00ac"/><path fill="#ff00d2" d="M63.5 2l29.7 0.9-0.2-1.1 1-1.5 0.9-0.6 1-0.3 1.8-0.1 1.9 0.4 1.3 1.1 0.5 1.1-0.2 1.3 26 0.8 0.1-7.5-0.4-6.1-0.7-7.4-0.7-4.5-2.6-11.8-1.7-5.8-3.1-8.5-3-6.9-2-4-2.9-5.3-4.8-7.7-3.5-4.9-4.7-5.9-4-4.5-3.2-3.2-45.1 45.1 2.6 2.7 2.9 3.5 3.4 4.9 3.3 6 2.1 4.8 1.5 4.2 1.8 7.3 0.8 6z"/><path fill="#ff00f9" d="M63.5 2l25.9 0.8-0.1-1.1 0.3-1 0.6-1.1 1.1-1.1 2-1.1 1.6-0.5 1.8-0.3 1.9 0 2.8 0.7 1.8 1.1 1 1 0.7 1.4 0.3 1.3-0.2 1.2 22.2 0.7 0.1-7.5-0.4-6.1-0.7-7.4-0.7-4.5-2.6-11.8-1.7-5.8-3.1-8.5-3-6.9-2-4-2.9-5.3-4.8-7.7-3.5-4.9-4.7-5.9-4-4.5-3.2-3.2-45.1 45.1 2.6 2.7 2.9 3.5 3.4 4.9 3.3 6 2.1 4.8 1.5 4.2 1.8 7.3 0.8 6z"/><path fill="#df00ff" d="M63.5 2l23.3 0.7-0.1-1 0.7-2.1 0.7-1 1.2-1.1 1.9-1.2 2.7-1 4.6-0.5 1.9 0.2 2.8 0.8 1.9 1.2 1.9 2.3 0.7 2.8-0.1 1.3 19.6 0.6 0.1-7.5-0.4-6.1-0.7-7.4-0.7-4.5-2.6-11.8-1.7-5.8-3.1-8.5-3-6.9-2-4-2.9-5.3-4.8-7.7-3.5-4.9-4.7-5.9-4-4.5-3.2-3.2-45.1 45.1 2.6 2.7 2.9 3.5 3.4 4.9 3.3 6 2.1 4.8 1.5 4.2 1.8 7.3 0.8 6z"/><path fill="#b900ff" d="M63.5 2l21.1 0.7 0.2-2.1 0.9-2 2.7-2.5 2.7-1.4 1.8-0.6 2.8-0.5 3.6-0.1 1.4 0.1 3.3 0.8 1 0.4 1.9 1.3 1.9 2.3 0.5 1.2 0.6 2.6-0.1 1.2 17.4 0.6 0.1-7.5-0.4-6.1-0.7-7.4-0.7-4.5-2.6-11.8-1.7-5.8-3.1-8.5-3-6.9-2-4-2.9-5.3-4.8-7.7-3.5-4.9-4.7-5.9-4-4.5-3.2-3.2-45.1 45.1 2.6 2.7 2.9 3.5 3.4 4.9 3.3 6 2.1 4.8 1.5 4.2 1.8 7.3 0.8 6z"/><path fill="#9300ff" d="M63.5 2l19.2 0.6 0.1-2 1-2.2 2.9-2.9 2.5-1.4 3.4-1.1 3.9-0.6 2.8-0.1 2.8 0.2 3.2 0.8 2.2 1.2 1.2 1 1.3 1.4 1.3 2.6 0.5 2.7-0.1 1.3 15.5 0.5 0.1-7.5-0.4-6.1-0.7-7.4-0.7-4.5-2.6-11.8-1.7-5.8-3.1-8.5-3-6.9-2-4-2.9-5.3-4.8-7.7-3.5-4.9-4.7-5.9-4-4.5-3.2-3.2-45.1 45.1 2.6 2.7 2.9 3.5 3.4 4.9 3.3 6 2.1 4.8 1.5 4.2 1.8 7.3 0.8 6z"/><path fill="#6c00ff" d="M63.5 2l17.4 0.5 0.4-2.8 1.1-2 2.2-2.3 1.8-1.2 1.8-0.9 4.5-1.4 4.6-0.6 3.7 0 4.7 0.8 2.5 1 1.7 1.2 1.2 1.3 1.6 2.6 0.7 2.7 0 2.7 13.8 0.4 0.1-7.5-0.4-6.1-0.7-7.4-0.7-4.5-2.6-11.8-1.7-5.8-3.1-8.5-3-6.9-2-4-2.9-5.3-4.8-7.7-3.5-4.9-4.7-5.9-4-4.5-3.2-3.2-45.1 45.1 2.6 2.7 2.9 3.5 3.4 4.9 3.3 6 2.1 4.8 1.5 4.2 1.8 7.3 0.8 6z"/><path fill="#4600ff" d="M63.5 2l15.8 0.5 0.3-2.8 1.4-2.5 1.8-1.9 2.6-1.9 4.5-1.8 3.7-0.8 2.7-0.4 5.6-0.1 3.5 0.5 3.2 1 2 1.2 1.3 1.2 1.5 1.9 1 2.1 0.7 2.7 0 2.7 12.1 0.4 0.1-7.5-0.4-6.1-0.7-7.4-0.7-4.5-2.6-11.8-1.7-5.8-3.1-8.5-3-6.9-2-4-2.9-5.3-4.8-7.7-3.5-4.9-4.7-5.9-4-4.5-3.2-3.2-45.1 45.1 2.6 2.7 2.9 3.5 3.4 4.9 3.3 6 2.1 4.8 1.5 4.2 1.8 7.3 0.8 6z"/><path fill="#2000ff" d="M63.5 2l14.1 0.4 0.1-1.8 0.3-0.9 1.5-2.9 1.9-2 3.2-2.2 3.4-1.4 5.5-1.3 7.3-0.6 4.1 0.3 2.5 0.5 2.9 1.1 2 1.3 1.6 1.6 1.3 2.1 0.9 2 0.6 2.7 0 2.8 10.5 0.3 0.1-7.5-0.4-6.1-0.7-7.4-0.7-4.5-2.6-11.8-1.7-5.8-3.1-8.5-3-6.9-2-4-2.9-5.3-4.8-7.7-3.5-4.9-4.7-5.9-4-4.5-3.2-3.2-45.1 45.1 2.6 2.7 2.9 3.5 3.4 4.9 3.3 6 2.1 4.8 1.5 4.2 1.8 7.3 0.8 6z"/><path fill="#0006ff" d="M63.5 2l12.6 0.4 0.3-2.9 1.4-2.6 2.8-3 3.7-2.3 3.6-1.3 3.7-0.9 5.4-0.8 5.6-0.2 4.7 0.5 2.9 0.8 2.9 1.6 1 0.9 1.6 1.8 1.4 2.6 1 3.8 0 3.3 9.1 0.3 0.1-7.5-0.4-6.1-0.7-7.4-0.7-4.5-2.6-11.8-1.7-5.8-3.1-8.5-3-6.9-2-4-2.9-5.3-4.8-7.7-3.5-4.9-4.7-5.9-4-4.5-3.2-3.2-45.1 45.1 2.6 2.7 2.9 3.5 3.4 4.9 3.3 6 2.1 4.8 1.5 4.2 1.8 7.3 0.8 6z"/><path fill="#002dff" d="M63.5 2l11 0.3 0.3-2.6 0.7-1.8 0.6-0.9 2.5-2.9 1.2-1.1 1.7-1.1 2.7-1.3 2.7-0.9 4.6-1.1 6.4-0.9 4.6-0.2 4.7 0.3 2.8 0.6 2 0.7 1.8 1 1.5 1.2 1.6 2 1.1 1.8 0.6 1.6 0.6 2.8 0.1 4.2 7.9 0.3 0.1-7.5-0.4-6.1-0.7-7.4-0.7-4.5-2.6-11.8-1.7-5.8-3.1-8.5-3-6.9-2-4-2.9-5.3-4.8-7.7-3.5-4.9-4.7-5.9-4-4.5-3.2-3.2-45.1 45.1 2.6 2.7 2.9 3.5 3.4 4.9 3.3 6 2.1 4.8 1.5 4.2 1.8 7.3 0.8 6z"/><path fill="#0053ff" d="M63.5 2l9.5 0.3 0.5-3.5 1.5-2.7 2.1-2.3 1.7-1.4 1.8-1.2 2.6-1.2 4.5-1.4 8.2-1.5 4.6-0.4 5.6 0 2.9 0.3 3.8 1 2 1 2 1.7 2 3.2 1 2.8 0.6 4.2-0.1 2.9 6.9 0.2 0.1-7.5-0.4-6.1-0.7-7.4-0.7-4.5-2.6-11.8-1.7-5.8-3.1-8.5-3-6.9-2-4-2.9-5.3-4.8-7.7-3.5-4.9-4.7-5.9-4-4.5-3.2-3.2-45.1 45.1 2.6 2.7 2.9 3.5 3.4 4.9 3.3 6 2.1 4.8 1.5 4.2 1.8 7.3 0.8 6z"/><path fill="#0079ff" d="M63.5 2l8.1 0.3 0.2-2.6 0.6-1.7 0.9-1.8 1.1-1.4 3.4-3.1 4.4-2.3 5.4-1.6 6.4-1.2 6.4-0.7 5.1-0.2 6.2 0.6 2.9 1 2 1.2 1.2 1.2 1.7 2.7 1 2.8 0.5 2.9 0.2 5.7 6 0.2 0.1-7.5-0.4-6.1-0.7-7.4-0.7-4.5-2.6-11.8-1.7-5.8-3.1-8.5-3-6.9-2-4-2.9-5.3-4.8-7.7-3.5-4.9-4.7-5.9-4-4.5-3.2-3.2-45.1 45.1 2.6 2.7 2.9 3.5 3.4 4.9 3.3 6 2.1 4.8 1.5 4.2 1.8 7.3 0.8 6z"/><path fill="#009fff" d="M63.5 2l6.9 0.2 0.2-2.5 0.4-1.7 0.7-1.7 1.2-1.8 2.2-2.2 1.7-1.3 3.6-1.9 4.4-1.4 8.2-1.7 8.2-1 7.5-0.2 3.8 0.4 1.9 0.5 2 0.9 2 1.7 1.7 2.7 1.3 4.2 0.6 5.7 0 2.9 5.2 0.2 0.1-7.5-0.4-6.1-0.7-7.4-0.7-4.5-2.6-11.8-1.7-5.8-3.1-8.5-3-6.9-2-4-2.9-5.3-4.8-7.7-3.5-4.9-4.7-5.9-4-4.5-3.2-3.2-45.1 45.1 2.6 2.7 2.9 3.5 3.4 4.9 3.3 6 2.1 4.8 1.5 4.2 1.8 7.3 0.8 6z"/><path fill="#00c6ff" d="M63.5 2l5.9 0.2 0-1.7 0.5-2.9 1.3-3 2.1-2.4 1.7-1.4 1.8-1.2 2.5-1.1 4.5-1.4 8.1-1.7 9.2-1.2 5.6-0.4 4.6 0 1.9 0.2 2.9 0.7 1.5 0.8 1.6 1.5 1.1 1.8 0.9 2.1 0.7 2.8 0.7 4.3 0.1 5.9 4.5 0.1 0.1-7.5-0.4-6.1-0.7-7.4-0.7-4.5-2.6-11.8-1.7-5.8-3.1-8.5-3-6.9-2-4-2.9-5.3-4.8-7.7-3.5-4.9-4.7-5.9-4-4.5-3.2-3.2-45.1 45.1 2.6 2.7 2.9 3.5 3.4 4.9 3.3 6 2.1 4.8 1.5 4.2 1.8 7.3 0.8 6z"/><path fill="#00ecff" d="M63.5 2l4.9 0.1 0.3-4 0.4-1.7 1-2.5 2.1-2.6 1.7-1.4 3.5-1.8 4.4-1.4 5.5-1.2 8.2-1.4 8.2-1 6.5-0.5 2.8 0 3.9 0.6 2 1.3 1.1 1.3 1.2 2.2 1 2.8 0.6 2.9 0.6 5.8 0 4.4 3.8 0.1 0.1-7.5-0.4-6.1-0.7-7.4-0.7-4.5-2.6-11.8-1.7-5.8-3.1-8.5-3-6.9-2-4-2.9-5.3-4.8-7.7-3.5-4.9-4.7-5.9-4-4.5-3.2-3.2-45.1 45.1 2.6 2.7 2.9 3.5 3.4 4.9 3.3 6 2.1 4.8 1.5 4.2 1.8 7.3 0.8 6z"/><path fill="#00ffec" d="M63.5 2l3.9 0.1 0.5-5.6 0.7-2.5 0.9-1.8 0.8-1.1 1.7-1.6 3.4-1.9 4.2-1.3 13-2.5 14.7-2 7.4-0.7 2.8 0.4 1 0.5 1.9 1.7 0.8 1.4 1.2 2.8 1 4.3 0.7 5.8 0 5.9 3.1 0.1 0.1-7.5-0.4-6.1-0.7-7.4-0.7-4.5-2.6-11.8-1.7-5.8-3.1-8.5-3-6.9-2-4-2.9-5.3-4.8-7.7-3.5-4.9-4.7-5.9-4-4.5-3.2-3.2-45.1 45.1 2.6 2.7 2.9 3.5 3.4 4.9 3.3 6 2.1 4.8 1.5 4.2 1.8 7.3 0.8 6z"/><path fill="#00ffc6" d="M63.5 2l2.9 0.1 0.1-3.9 0.4-3.2 1.1-3.4 2-2.7 1.7-1.2 1.7-0.8 4.2-1.2 8.7-1.6 19-2.9 9.1-1.7 2.8-0.2 1.6 0.3 1.6 1.2 1 1.2 1.3 2.8 1.2 4.4 0.9 5.9 0.2 8.8 2.2 0.1 0.1-7.5-0.4-6.1-0.7-7.4-0.7-4.5-2.6-11.8-1.7-5.8-3.1-8.5-3-6.9-2-4-2.9-5.3-4.8-7.7-3.5-4.9-4.7-5.9-4-4.5-3.2-3.2-45.1 45.1 2.6 2.7 2.9 3.5 3.4 4.9 3.3 6 2.1 4.8 1.5 4.2 1.8 7.3 0.8 6z"/><path fill="#00ff9f" d="M63.5 2l1.1 0 0.2-6.9 0.4-3.1 0.8-2.5 1.8-2.4 1.7-1 1.8-0.6 2.7-0.5 12.9-1.7 19.1-3.2 4.5-1.1 8-2.8 0.9-0.1 1 0.2 1 0.6 1.3 1.6 0.9 1.8 1.3 4.3 1.1 7.4 0.3 4.5 0 7.5 0.9 0 0.1-7.5-0.4-6.1-0.7-7.4-0.7-4.5-2.6-11.8-1.7-5.8-3.1-8.5-3-6.9-2-4-2.9-5.3-4.8-7.7-3.5-4.9-4.7-5.9-4-4.5-3.2-3.2-45.1 45.1 2.6 2.7 2.9 3.5 3.4 4.9 3.3 6 2.1 4.8 1.5 4.2 1.8 7.3 0.8 6z"/><path fill="#00ff79" d="M80.6-16.8l6.1-0.7 10.1-1.6 9.9-2 3.6-1.2 3.4-1.8 1.6-1.3 0.7-0.9 0.6-0.9 0.4-1.5-0.5-5.8-2-8.5-1.9-5.5-4.4-9.2-2.9-4.9-2.6-3.6-2.8-3.3-4.6-3.8-1.3-0.7-2.6-0.7-1.3-0.1-2.1 0.3-1.9 0.6-2.6 1.3-5.3 3.8-6.3 5.4-6.6 6.5-3.7 4.2-2.6 4.1-1 3.2 0 4 0.4 1.8 1.2 3.2 4.8 9.6 3.7 5.7 2.5 2.9 0.8 0.7 1.3 0.6 1.9 0.3z"/><path fill="#00ff53" d="M90.8-18.9l6.7-1.1 6.4-1.4 2.8-0.8 3.3-1.4 2.5-1.8 1-1.1 0.9-1.6 0.3-1.5 0-2.9-0.7-5.7-1.8-7-2-5.4-1.8-3.9-2.8-5-1.6-2.4-3.6-4.5-2.1-2-1.9-1.4-2-1.1-3.3-0.9-0.9 0-2.2 0.2-1.9 0.6-1.8 0.8-3.2 1.9-3.7 2.8-7.6 6.8-2.6 2.6-4.2 5.2-1.4 2.6-0.7 2-0.5 2.5 0 1.8 0.4 2.8 1.8 4.9 3.2 6 4.1 5.8 3.7 3.5 2.6 1 1.9 0.2 4.7-0.1z"/><path fill="#00ff2d" d="M87.1-19.2l10.3-1.6 4.5-1 4.4-1.4 3.4-1.8 1.6-1.5 1.3-2.2 0.4-1.9-0.1-5.8-1-5.6-1.2-4.1-1.5-4-3.1-6.4-3.1-4.8-3.8-4.3-2.3-1.8-2.7-1.5-3.5-0.8-3.3 0.4-3.5 1.4-4 2.5-5.8 4.6-5.3 5.2-3.6 4.4-2.1 3.9-0.6 1.8-0.3 2.2 0 2.2 0.3 1.9 1.4 4.2 3.3 6.1 1.5 2.2 3 3.6 4 3.3 2.1 0.7 3.9 0.3z"/><path fill="#00ff06" d="M85.6-20l8.9-1.1 7.2-1.6 2.6-0.9 3-1.4 2.4-1.9 1.1-1.7 0.5-1.5 0.4-4.4-0.5-5.2-1.9-7.4-2.1-5.2-2.7-4.9-2.4-3.5-1.9-2.2-3.2-2.8-2.8-1.5-2.1-0.6-3.5 0-2.9 0.8-1.7 0.8-5.5 3.5-5.6 4.8-5.1 5.5-2.1 3.1-1.4 3.1-0.6 3 0 2.2 0.3 1.9 1.4 4.2 1.6 3.2 1.4 2.2 3.5 4.4 1.9 1.8 3.6 2.6 3.7 0.8z"/><path fill="#20ff00" d="M93.8-21.9l7.2-1.6 3.1-1.2 2.5-1.3 1.6-1.4 1.4-2.3 0.7-3.8 0.1-2.9-0.4-3.9-1.7-6.7-0.8-2.3-2.4-5.1-2.2-3.6-2.6-3.3-2.1-2-1.4-1-3.4-1.6-3.7-0.5-3 0.6-3.5 1.6-3.9 2.5-2.2 1.7-4.8 4.4-3.5 4-2.3 3.6-1.2 3.2-0.3 1.8 0.1 2.2 0.9 4.1 2.1 4.5 2 3 1.8 2.2 2.4 2.3 2.5 1.9 2.5 1.3 2.1 0.5 1.7 0.1 5.7-0.2z"/><path fill="#46ff00" d="M90.7-22.3l7.9-1.5 4.4-1.6 3.3-2 1.4-1.8 0.7-1.5 0.7-3.6 0.1-2.3-0.3-4.1-1.3-5.6-2-5.2-2.7-4.9-3.5-4.3-2.9-2.4-3.2-1.5-2.6-0.4-3.1 0.4-3.6 1.4-3.2 1.9-5.1 4-4 4-3.4 4.5-1.4 3.1-0.6 3 0.1 3.1 1.1 3.6 1.2 2.5 2 3.1 1.8 2.2 2.3 2.2 3.9 2.7 3.1 1.1 2 0.3 2.9 0z"/><path fill="#6cff00" d="M89.4-23.1l7.1-1.2 4.5-1.4 2.5-1.3 1.6-1.2 1.5-2 1-2.8 0.4-3.2 0-2.9-0.9-5.5-2.3-6.5-2-3.7-1.5-2.3-1.8-2.1-2.1-1.9-2.6-1.6-3.4-0.9-2 0-2 0.4-2.6 1-4.1 2.4-5 4-3.9 4.1-2.3 3.2-1 2-0.7 2.1-0.3 2 0.2 3.2 0.8 2.7 2.2 4.1 3.2 3.9 3.2 2.6 3.7 2 3.7 0.9z"/><path fill="#93ff00" d="M89-24.1l3.7-0.4 3.6-0.8 1.8-0.5 4.1-1.9 1.7-1.3 1.4-1.9 1.1-2.8 0.5-3.6-0.2-4.2-0.8-4.1-1.9-5.1-2-3.7-2.4-3.3-3.2-2.8-2.3-1.2-2.6-0.6-3.3 0.2-4.4 1.7-3.9 2.5-4.3 3.6-3.1 3.5-2 3-1.5 3.6-0.3 2.2 0.3 3.1 1.3 3.6 2.2 3.5 1.9 2.1 3.3 2.6 2 1.2 1.7 0.7 1.6 0.6 2.1 0.4z"/><path fill="#b9ff00" d="M89.1-25.3l3.3-0.3 3.6-0.8 2.6-0.9 2.7-1.4 2.1-2.1 0.9-1.5 1.1-3.1 0.4-2.9-0.1-2.9-0.8-4.4-2.3-6-2.1-3.4-1.8-2.2-2.1-1.8-2.7-1.5-2.7-0.5-3.2 0.3-2.7 0.9-3.3 1.8-4.4 3.3-3.9 4.1-2.2 3.3-1.3 3.2-0.3 2.5 0.4 3.1 1.5 3.5 1.6 2.4 2.9 2.9 1.9 1.4 3.8 1.9 3.8 1z"/><path fill="#dfff00" d="M89.7-26.6l4.2-0.5 1.8-0.5 2.5-1 2.5-1.6 2.4-3 0.7-1.6 0.8-4.1 0-2.6-0.7-4.1-1-3.1-2.5-4.8-2.6-3.1-2.3-1.8-3-1.2-1.6-0.2-3.1 0.4-2.7 1-4 2.3-2.9 2.3-2 2-3 3.8-1.4 2.9-0.6 2.7 0 1.8 0.5 2.4 0.7 1.8 1.6 2.5 2.8 3 3.1 2 2.7 1.2 3.6 0.9z"/><path fill="#fff900" d="M91.1-28.2l3.2-0.6 1.8-0.6 2.5-1.3 1.9-1.7 1.6-2.3 1-2.6 0.3-2.1 0-2.5-0.6-3.9-0.8-2.5-1.1-2.4-2.2-3.4-3.1-2.8-2.5-1.2-2.4-0.4-3.1 0.4-4.3 1.9-3 2.1-2.8 2.5-2.5 3-1.5 2.8-0.8 2.3-0.2 2.6 0.7 3 0.9 1.8 1.7 2.4 2.5 2.2 2.1 1.3 3.2 1.3 3.9 0.7z"/><path fill="#ffd200" d="M88.5-29.7l3.5-0.2 1.9-0.4 2.5-1.1 1.6-1 1.5-1.4 1.3-1.9 0.6-1.2 0.7-2.8 0.1-2.9-0.4-2.7-0.8-2.5-1.7-3.6-1.6-2.1-2-1.9-1.5-0.9-2.6-0.8-2.2 0-2.9 0.7-2.5 1.2-3.1 2.1-3.2 3-1.4 1.8-1.4 2.5-0.9 2.9-0.1 1.5 0.6 2.9 1.4 2.6 1.8 2.1 1.5 1.2 3.2 1.7 2.7 0.8z"/><path fill="#ffac00" d="M89.9-31.4l2.5-0.3 1.8-0.6 2.5-1.3 1.5-1.3 1.7-2.6 0.6-1.6 0.3-1.9 0-2.4-0.8-3.9-1.7-3.6-2.7-3-1.6-1-2.7-0.8-3.1 0.2-1.8 0.6-1.7 0.8-3.1 2-2.1 1.9-1.9 2.3-1.4 2.5-0.7 2.9 0.1 2.2 0.6 2 1.7 2.5 1.6 1.5 2.7 1.6 2.6 0.9 2 0.4z"/><path fill="#ff8600" d="M88.1-33.1l2.8-0.2 1.8-0.4 2.5-1.2 1.8-1.5 1.3-1.8 1-3.1 0.1-1.5-0.3-2.7-0.8-2.5-0.6-1.1-1.5-2.2-2-1.8-3-1-2.1 0-2.8 0.8-1.7 0.8-2.3 1.6-1.9 1.7-1.4 1.8-1.7 3.8-0.1 2.5 0.6 2 1.8 2.6 1.8 1.4 2.6 1.3 1.9 0.5z"/><path fill="#ff6000" d="M90.7-35.3l1.3-0.3 1.7-0.8 2.5-2.3 0.9-1.6 0.4-1.5 0-3-0.6-2.5-0.6-1.1-0.7-1.1-1.6-1.6-1.7-0.9-1.1-0.3-3.2 0.1-3.4 1.5-1.5 1.1-2 2.1-1.5 2.6-0.4 1.5 0.1 2.4 0.3 1 1.2 1.8 1.7 1.5 1.2 0.7 3.5 0.9z"/><path fill="#ff3900" d="M90.5-37.7l2.2-1 1.9-2 0.6-1.6 0.1-2.8-0.9-2.4-1.7-1.9-1.3-0.6-1.2-0.2-2 0.1-2.6 1.1-2.4 2.1-1.2 1.9-0.4 1.5 0 1.2 0.3 1.1 1.2 1.9 1.8 1.2 3.4 0.7z"/><path fill="#ff1300" d="M87.1-41.2l1.6 0.2 0.9-0.2 0.9-0.4 0.7-0.7 0.6-1.1 0-1.4-0.5-1.1-1.1-0.8-2.2 0-0.9 0.4-1.6 2 0 1.3 0.5 1z"/></g></g></g>
<g transform="translate(190.25 492.3) scale(0.99 1)"><g clip-path="url(#cl)"><g filter="url(#bl)"><rect x="40" y="-100" width="100" height="110" fill="#ff0060"/><path fill="#ff0086" d="M63.5 2l45.1 1.4-0.9-1.3-0.3-2.5 0.5-2.1 0.9-0.9 0.9 0.2 1 2.2 0 1.9-0.3 1.3-0.7 1.2-0.2 0 17.7 0.6 0.1-7.5-0.4-6.1-0.7-7.4-0.7-4.5-2.6-11.8-1.7-5.8-3.1-8.5-3-6.9-2-4-2.9-5.3-4.8-7.7-3.5-4.9-4.7-5.9-4-4.5-3.2-3.2-45.1 45.1 2.6 2.7 2.9 3.5 3.4 4.9 3.3 6 2.1 4.8 1.5 4.2 1.8 7.3 0.8 6z"/><path fill="#ff00ac" d="M63.5 2l42.1 1.3-0.3-3.7 0.6-4 1.1-2.4 0.6-0.7 0.9-0.4 1 0.1 1.1 0.8 0.8 1.1 1.1 2.6 0.4 2.8-0.3 4 14.6 0.5 0.1-7.5-0.4-6.1-0.7-7.4-0.7-4.5-2.6-11.8-1.7-5.8-3.1-8.5-3-6.9-2-4-2.9-5.3-4.8-7.7-3.5-4.9-4.7-5.9-4-4.5-3.2-3.2-45.1 45.1 2.6 2.7 2.9 3.5 3.4 4.9 3.3 6 2.1 4.8 1.5 4.2 1.8 7.3 0.8 6z"/><path fill="#ff00d2" d="M63.5 2l40.7 1.3 0-4 0.7-4.7 0.8-2.6 0.8-1.6 0.9-0.8 1.1-0.4 1.7 0.5 1 0.9 1 1.4 1.1 2.3 0.7 2.5 0.3 2.7-0.3 4.1 13.2 0.4 0.1-7.5-0.4-6.1-0.7-7.4-0.7-4.5-2.6-11.8-1.7-5.8-3.1-8.5-3-6.9-2-4-2.9-5.3-4.8-7.7-3.5-4.9-4.7-5.9-4-4.5-3.2-3.2-45.1 45.1 2.6 2.7 2.9 3.5 3.4 4.9 3.3 6 2.1 4.8 1.5 4.2 1.8 7.3 0.8 6z"/><path fill="#ff00f9" d="M63.5 2l39.7 1.2-0.1-1.2 0.8-7.4 1.5-5.1 0.9-1.5 0.8-0.8 1.8-0.3 1.8 0.8 1.3 1.3 2.1 3.8 0.8 2.6 0.4 2.4 0.1 4.5-0.2 1.3 12 0.4 0.1-7.5-0.4-6.1-0.7-7.4-0.7-4.5-2.6-11.8-1.7-5.8-3.1-8.5-3-6.9-2-4-2.9-5.3-4.8-7.7-3.5-4.9-4.7-5.9-4-4.5-3.2-3.2-45.1 45.1 2.6 2.7 2.9 3.5 3.4 4.9 3.3 6 2.1 4.8 1.5 4.2 1.8 7.3 0.8 6zM94.4-50.3l-1.7-1.9-0.2-1.5 0.8-0.4 1.1 0.9 0.6 1.2 0.1 1.1z"/><path fill="#df00ff" d="M63.5 2l38.8 1.2 0.6-7.3 1.6-6.9 1.5-3.1 0.8-0.8 0.9-0.4 1.9 0.3 1 0.6 2.2 2.1 1.1 1.8 1.7 4.5 0.6 3 0.2 2.5-0.2 4.2 11 0.3 0.1-7.5-0.4-6.1-0.7-7.4-0.7-4.5-2.6-11.8-1.7-5.8-3.1-8.5-3-6.9-2-4-2.9-5.3-4.8-7.7-3.5-4.9-4.7-5.9-4-4.5-3.2-3.2-45.1 45.1 2.6 2.7 2.9 3.5 3.4 4.9 3.3 6 2.1 4.8 1.5 4.2 1.8 7.3 0.8 6zM96.9-45.2l-1.2-0.5-2.8-2.4-1.6-1.9-2-3.1-0.8-2.4 0-1.5 0.3-0.9 0.6-0.8 0.8-0.5 1.8 0 1.5 0.5 1.1 0.8 1.9 2 1.4 2.3 1.1 3.8 0 1.5-0.5 2.1-0.6 0.8z"/><path fill="#b900ff" d="M63.5 2l38.1 1.2 0.6-7.4 0.7-3.9 1.4-5 0.7-1.7 1.5-2.1 0.9-0.4 1.1 0 2.2 1 1.8 1.6 2.2 3.3 0.6 1.4 0.9 2.6 0.9 4.5 0.2 2.4-0.1 4.2 10 0.3 0.1-7.5-0.4-6.1-0.7-7.4-0.7-4.5-2.6-11.8-1.7-5.8-3.1-8.5-3-6.9-2-4-2.9-5.3-4.8-7.7-3.5-4.9-4.7-5.9-4-4.5-3.2-3.2-45.1 45.1 2.6 2.7 2.9 3.5 3.4 4.9 3.3 6 2.1 4.8 1.5 4.2 1.8 7.3 0.8 6zM99.2-42.4l-1 0.1-1.2-0.5-1.4-0.9-1.8-1.6-2.2-2.3-3.5-4.8-1.1-2.2-0.7-2.1-0.1-1.8 0.7-2 1.5-1.3 0.9-0.4 1.1 0 1.1 0.1 1.7 0.7 2.2 1.5 1 1 2.4 3.2 1.6 3.7 0.8 4.1-0.3 3.1-0.9 1.8z"/><path fill="#9300ff" d="M63.5 2l37.4 1.2 0.2-3.6 1.3-8.5 1.6-6.1 1.4-3.1 0.8-1 0.8-0.5 1 0 2 0.9 2.5 2.1 1.9 2.5 1.3 2.6 1.1 3 0.9 3.8 0.4 4.2-0.1 4.2 9.2 0.3 0.1-7.5-0.4-6.1-0.7-7.4-0.7-4.5-2.6-11.8-1.7-5.8-3.1-8.5-3-6.9-2-4-2.9-5.3-4.8-7.7-3.5-4.9-4.7-5.9-4-4.5-3.2-3.2-45.1 45.1 2.6 2.7 2.9 3.5 3.4 4.9 3.3 6 2.1 4.8 1.5 4.2 1.8 7.3 0.8 6zM99.2-39.9l-1.2-0.5-1.6-1.1-3.9-3.6-3.9-4.8-2.6-4.1-1.5-3.7-0.1-1.8 0.2-1.3 0.7-1.6 0.8-1 0.8-0.5 1.1-0.5 2.4-0.1 2.4 0.8 1.8 1.1 3.1 2.9 2.3 3.3 2 4.7 0.8 3.7 0.1 2.4-0.6 3-0.6 1.4-0.7 0.9-0.8 0.4z"/><path fill="#6c00ff" d="M63.5 2l36.7 1.1 1-8.8 1.3-6.7 1.8-6.5 1.4-2.9 0.8-0.6 2 0.5 3.3 2.7 2.1 2.4 1.6 2.6 1.7 4 1.3 5.5 0.4 4.2-0.1 4.2 8.4 0.3 0.1-7.5-0.4-6.1-0.7-7.4-0.7-4.5-2.6-11.8-1.7-5.8-3.1-8.5-3-6.9-2-4-2.9-5.3-4.8-7.7-3.5-4.9-4.7-5.9-4-4.5-3.2-3.2-45.1 45.1 2.6 2.7 2.9 3.5 3.4 4.9 3.3 6 2.1 4.8 1.5 4.2 1.8 7.3 0.8 6zM100.1-37.6l-1.2-0.6-2.6-1.9-3.9-3.9-6-7.4-2.4-4.1-1.2-3.6-0.1-1.4 0.2-1.1 0.7-2.1 0.6-0.8 0.6-0.7 1.6-1 2-0.4 2.3 0.3 1.5 0.5 2.6 1.5 2.2 1.8 1.8 2.1 1.6 2.2 1.3 2.4 1.6 3.9 0.7 2.7 0.3 2.3 0 3.5-0.5 2.4-1 2.4-0.7 1-0.9 0.3z"/><path fill="#4600ff" d="M63.5 2l36.1 1.1 0.8-7.1 1.2-7.3 2.7-12.5 0.5-1.9 0.7-1.1 2.2 1.4 3.5 3.6 3 3.6 2 3.2 1.4 3.3 1.4 5.6 0.5 4.2 0 5.7 7.7 0.2 0.1-7.5-0.4-6.1-0.7-7.4-0.7-4.5-2.6-11.8-1.7-5.8-3.1-8.5-3-6.9-2-4-2.9-5.3-4.8-7.7-3.5-4.9-4.7-5.9-4-4.5-3.2-3.2-45.1 45.1 2.6 2.7 2.9 3.5 3.4 4.9 3.3 6 2.1 4.8 1.5 4.2 1.8 7.3 0.8 6zM102.6-33.4l-7.3-6.3-5.1-5.6-4.4-5.7-3.2-5.1-1.2-3.4-0.1-2.6 1.1-3.1 1.2-1.5 1.6-1 1.8-0.6 2-0.1 1.8 0.4 2.8 1.2 3.1 2.3 2.3 2.4 1.7 2.2 2.1 3.6 1.1 2.5 1.3 4.4 0.5 3.3 0 2.5-1.1 7.4-1 2.8z"/><path fill="#2000ff" d="M63.5 2l35.5 1.1 1-8.3 2.8-16.2 0.1-4.4-0.5-3.2-1.1-2.4-1.3-2.1-1.7-2.1-5.9-6.1-7.3-8.9-3.8-6-1-2.1-0.5-2.4 0-1.4 0.6-2.3 1-1.7 1.2-1.4 1.5-1.1 1.8-0.8 2.1-0.3 2.7 0.4 1.5 0.6 2.1 1.1 2.4 1.8 3.7 4 3.3 5.4 2.1 5.2 0.7 2.7 0.5 3.5 0 3.8-0.4 4.4 0 2.8 0.4 2.7 1.5 3.7 6.8 9.6 1.8 3.2 0.8 2.1 0.9 2.7 1 4.8 0.4 5.1-0.1 4.3 7.1 0.2 0.1-7.5-0.4-6.1-0.7-7.4-0.7-4.5-2.6-11.8-1.7-5.8-3.1-8.5-3-6.9-2-4-2.9-5.3-4.8-7.7-3.5-4.9-4.7-5.9-4-4.5-3.2-3.2-45.1 45.1 2.6 2.7 2.9 3.5 3.4 4.9 3.3 6 2.1 4.8 1.5 4.2 1.8 7.3 0.8 6z"/><path fill="#0006ff" d="M63.5 2l34.9 1.1 1-7.8 2.3-14 0.2-5.1-0.2-2.4-0.6-2.5-0.9-2.3-1.5-2.5-12.8-14.9-3.5-4.7-3-5-1-3.3 0-1.4 0.6-2.2 2.1-3.3 1.4-1.2 3.3-1.8 3.4-0.3 3.1 1 2.4 1.3 2.3 1.8 3.8 4.2 3.1 4.8 2.8 6.4 1.1 4.2 0.5 4.3-0.1 7.3 1 5.3 1.7 3.8 5.8 9.2 1.3 2.8 1.2 3.4 1.5 8.4 0.1 7.2 6.4 0.2 0.1-7.5-0.4-6.1-0.7-7.4-0.7-4.5-2.6-11.8-1.7-5.8-3.1-8.5-3-6.9-2-4-2.9-5.3-4.8-7.7-3.5-4.9-4.7-5.9-4-4.5-3.2-3.2-45.1 45.1 2.6 2.7 2.9 3.5 3.4 4.9 3.3 6 2.1 4.8 1.5 4.2 1.8 7.3 0.8 6z"/><path fill="#002dff" d="M63.5 2l34.3 1.1 3.1-20.4 0.2-2.5-0.1-5-0.8-3.6-1.5-3.4-2.2-3.2-11.9-14-4.2-5.6-2.6-4.5-0.8-3 0.3-2.1 0.8-1.9 1.1-1.6 1.9-2.1 3-2.1 1.7-0.8 2.6-0.4 1.9 0.2 1.6 0.5 2.7 1.5 2.3 1.8 3.9 4.2 3.9 5.9 2.1 4.4 2 6.2 0.6 4.1 0.2 7.5 0.4 2.8 1.1 3.9 1.8 3.8 4.7 8 1.5 3.6 0.8 2.8 0.9 4.2 0.5 4.3 0.1 7.2 5.8 0.2 0.1-7.5-0.4-6.1-0.7-7.4-0.7-4.5-2.6-11.8-1.7-5.8-3.1-8.5-3-6.9-2-4-2.9-5.3-4.8-7.7-3.5-4.9-4.7-5.9-4-4.5-3.2-3.2-45.1 45.1 2.6 2.7 2.9 3.5 3.4 4.9 3.3 6 2.1 4.8 1.5 4.2 1.8 7.3 0.8 6z"/><path fill="#0053ff" d="M63.5 2l33.8 1.1 3.1-21.5 0-5-1-4.8-0.9-2.3-1.9-3.2-13.3-15.9-4.2-5.4-2.6-4.2-0.7-2-0.1-1.4 0.3-1.7 0.4-0.9 1.5-2.6 1.8-2.1 2.9-2.4 2.4-1.4 1.9-0.6 2.3-0.2 3 0.7 2 1.1 2.9 2.3 1.7 1.7 3.6 4.5 3.7 6.1 2.3 5.2 1.3 4.1 1 5.7 0.2 5.9 0.4 2.8 1.1 3.9 1.7 3.9 3.6 6.4 1.2 2.7 1.7 5.5 0.6 2.9 0.7 5.7 0.1 7.2 5.2 0.2 0.1-7.5-0.4-6.1-0.7-7.4-0.7-4.5-2.6-11.8-1.7-5.8-3.1-8.5-3-6.9-2-4-2.9-5.3-4.8-7.7-3.5-4.9-4.7-5.9-4-4.5-3.2-3.2-45.1 45.1 2.6 2.7 2.9 3.5 3.4 4.9 3.3 6 2.1 4.8 1.5 4.2 1.8 7.3 0.8 6z"/><path fill="#0079ff" d="M63.5 2l33.2 1 1.7-10.4 1.4-10.8-0.1-5-1-4.8-2.1-4.4-1.5-2.1-5.4-6.7-7.7-8.9-5.6-7.2-1.3-2.2-0.7-2.4 0-1.1 1.2-3.2 1.6-2.3 2.6-2.8 2.9-2.3 2.4-1.4 2.2-0.7 2.4-0.2 1.8 0.3 1.4 0.6 2.5 1.7 2.2 1.9 2 2.1 3.5 4.6 3.7 6.2 2.3 5.2 1.8 5.5 0.9 4.3 0.5 7.3 0.9 4.1 1.4 3.7 4.6 9.4 1.8 5.6 1.4 8.6 0.2 8.7 4.6 0.1 0.1-7.5-0.4-6.1-0.7-7.4-0.7-4.5-2.6-11.8-1.7-5.8-3.1-8.5-3-6.9-2-4-2.9-5.3-4.8-7.7-3.5-4.9-4.7-5.9-4-4.5-3.2-3.2-45.1 45.1 2.6 2.7 2.9 3.5 3.4 4.9 3.3 6 2.1 4.8 1.5 4.2 1.8 7.3 0.8 6z"/><path fill="#009fff" d="M63.5 2l32.7 1 1.7-10.4 1.2-9.3 0.1-5.2-0.8-4.8-1.8-4.4-1.3-2.1-6.9-8.6-12.1-14-2.8-4.2-0.5-1.8 0.1-1.6 1.1-2.5 2.4-3.4 3.2-3.3 2.9-2.3 2.5-1.4 2.8-1 2.4-0.1 1.5 0.4 2.1 1.1 3.4 2.9 2 2.1 5.2 7 4.2 7.6 2.6 6.8 0.8 2.8 0.8 3.8 0.8 7.7 0.9 3.7 1.7 4.4 3.2 6.6 1.8 5.6 0.9 4.2 0.6 4.4 0.3 4.3 0 5.9 4 0.1 0.1-7.5-0.4-6.1-0.7-7.4-0.7-4.5-2.6-11.8-1.7-5.8-3.1-8.5-3-6.9-2-4-2.9-5.3-4.8-7.7-3.5-4.9-4.7-5.9-4-4.5-3.2-3.2-45.1 45.1 2.6 2.7 2.9 3.5 3.4 4.9 3.3 6 2.1 4.8 1.5 4.2 1.8 7.3 0.8 6z"/><path fill="#00c6ff" d="M63.5 2l32.1 1 1.8-10.3 1.3-10.8-0.2-4.9-0.7-3.5-0.8-2.3-2.3-4.2-5.3-6.8-6.9-8-9.1-10-1.7-2.9-0.2-1.3 0.2-1.7 1.3-2.6 4.1-5.1 2-1.9 5.2-4 3.6-1.5 2.3-0.2 1.5 0.3 2.2 1.1 3.7 3.2 2.6 2.9 2.7 3.5 2.4 3.6 2.3 3.8 2.6 5.2 2.7 7.3 1 3.8 1.2 8.7 1 4.2 1.5 4 3 6.7 1.3 4.2 0.9 4.3 0.8 5.8 0.4 7.4-0.1 2.9 3.3 0.1 0.1-7.5-0.4-6.1-0.7-7.4-0.7-4.5-2.6-11.8-1.7-5.8-3.1-8.5-3-6.9-2-4-2.9-5.3-4.8-7.7-3.5-4.9-4.7-5.9-4-4.5-3.2-3.2-45.1 45.1 2.6 2.7 2.9 3.5 3.4 4.9 3.3 6 2.1 4.8 1.5 4.2 1.8 7.3 0.8 6z"/><path fill="#00ecff" d="M63.5 2l31.5 1 2.1-11.5 1-8.3 0.1-2.4-0.4-4.8-1.4-4.6-1.6-3.2-5.1-6.8-6.2-7.2-12.4-12.9-1.2-1.9-0.3-1.2 0.4-2.3 1.5-2.5 2.9-3.7 3.2-3.3 4.2-3.7 3.1-2.1 2.6-1.3 2.2-0.3 2.8 0.7 2.6 1.7 3.2 3.1 2.9 3.3 5.8 8.5 2.2 3.9 3.1 6.6 1.6 4.2 1.6 5.6 1.3 8.8 0.7 2.8 1.5 4.1 1.8 4 2.2 7.1 0.8 4.3 0.9 7.4 0.1 8.8 2.4 0.1 0.1-7.5-0.4-6.1-0.7-7.4-0.7-4.5-2.6-11.8-1.7-5.8-3.1-8.5-3-6.9-2-4-2.9-5.3-4.8-7.7-3.5-4.9-4.7-5.9-4-4.5-3.2-3.2-45.1 45.1 2.6 2.7 2.9 3.5 3.4 4.9 3.3 6 2.1 4.8 1.5 4.2 1.8 7.3 0.8 6z"/><path fill="#00ffec" d="M63.5 2l30.9 1 2.4-12.6 0.8-7.1 0-3.6-0.6-4.7-1.6-4.5-2.7-4.3-3.5-4.6-6.2-7.1-7.3-7.2-10.9-9.1-0.8-0.6-1.4-0.2-11.8 11.8-0.7 7.4-0.7 3.5 1.9 2.4 3.3 5 2.8 5.3 2.6 6.3 1.5 5 1 4.4 0.8 6z"/><path fill="#00ffc6" d="M66.7 2.1l27.1 0.8 1.1-4.4 1.4-8 0.8-7.1 0-3.6-0.4-3.5-1.4-4.6-1-2.1-1.3-2-4.3-5.8-5.4-6.2-5.7-5.6-4.4-3.6-2.7-1.9-2.7-1.4-1.4-0.2-2 0.5-1.6 1.1-2.1 1.8-3 3.6-2 4-0.5 2.6 0 2.1 0.4 2.7 0.9 3.2 5 13.2 2.3 8.2 1 4.6z"/><path fill="#00ff9f" d="M68 2.1l25.2 0.8 1.7-6.9 1.1-6.7 0.6-5.9 0-3.5-0.2-2.4-0.5-2.3-1.6-4.4-3.9-6-3.7-4.6-7.2-7.5-3.2-2.8-3-2.2-3.4-2-1.9-0.6-1.1-0.1-1.9 0.5-1.6 1.1-1.4 1.2-2.5 3-1.3 2.5-0.9 2.7-0.3 1.9 0 2.4 0.8 4.3 3.9 11.4 2 6.7z"/><path fill="#00ff79" d="M68.8 1.3l0.3 0.9 23.4 0.7 1.3-4.4 1.6-8.3 0.7-6.7 0-3.5-0.2-2.3-0.8-3.5-1.3-3.2-3.9-6-3.4-4.2-5.9-6.2-5.3-4.4-4-2.4-2.3-0.8-1.8-0.1-1 0.2-1.6 0.9-3.3 3.3-1.5 2.6-0.8 2-0.7 4.5 0.4 3.7 0.8 3.3 4.1 12.9 2 7.7 2 9.3z"/><path fill="#00ff53" d="M69.8 1.4l0.4 0.8 21.6 0.7 1.7-5.5 1.1-5.4 1-8.4 0-4-1-5.2-1.9-4.3-3.3-4.9-4.3-5.2-4.3-4.4-4.2-3.5-1.9-1.3-3.4-1.7-1.5-0.5-1.3-0.1-2 0.4-1.6 1.1-1.9 1.9-1.1 1.6-1 1.9-1.1 3.2-0.3 2 0 2.7 1.3 6.1 3.1 10 4.2 17.1z"/><path fill="#00ff2d" d="M70.9 1.4l0.5 0.8 0.4 0.1 19.2 0.6 1.2-3 1.6-6.3 1.1-7.3 0.2-6.1-0.7-4.6-0.7-2.2-1-2.1-3.8-5.9-3.7-4.5-4.9-4.9-3.6-2.9-4.3-2.4-2.5-0.6-1.4 0-1 0.2-1.6 1-1.3 1.2-1.8 2.4-1.6 3.6-0.6 2.9-0.1 2.6 0.5 3.5 1 4 3.4 11.6 2.9 11.8 1.7 4.8z"/><path fill="#00ff06" d="M72.1 1.4l0.7 0.9 17.3 0.5 1.5-3.2 1.8-6.6 0.9-5.7 0.3-7-0.7-4.5-1.7-4.3-3.8-5.9-3.7-4.5-4.2-4.1-3.6-2.8-2-1.2-2.3-1-1.9-0.5-1.2 0-1.9 0.5-1.4 1.1-2.5 3-1.7 4.1-0.5 2.7 0 2.4 0.8 4.9 6.5 24.2 1.7 4.5z"/><path fill="#20ff00" d="M73.5 1.4l1 0.9 1 0.1 13.6 0.4 0.7-1 1.5-3.3 1.8-6.6 0.8-5.7 0.2-5.8-0.5-3.4-1.4-4.3-2.8-4.8-3.7-4.8-4.4-4.6-4.1-3.2-2.1-1.2-2.2-0.9-2.5-0.4-1.9 0.5-2.2 1.7-2.3 3.3-1.2 3.2-0.4 2.3 0 3 0.3 2.6 0.8 3.5 5.8 21.1 0.9 2.4 1.3 2.5z"/><path fill="#46ff00" d="M75.2 1.5l1.2 0.9 11.3 0.4 1-1.1 1.8-3.1 1.8-5.5 1.1-6.8 0.2-5.8-0.8-4.6-1.2-3.1-2.9-4.9-3.5-4.6-3.2-3.3-3.6-3-4.3-2.3-1.6-0.5-1.3-0.1-1.9 0.4-0.8 0.5-1.4 1.2-1.8 2.3-1.7 4.4-0.4 4.4 0.9 6 2.9 11.1 2.6 8.7 2.4 4.9 0.7 1z"/><path fill="#6cff00" d="M77.4 1.5l2.2 1 5.2 0.2 1.8-0.7 1.9-1.6 1.8-3.2 1.9-6.3 0.8-6.8 0.1-2.3-0.3-3.4-1.3-4.4-1.5-3-3.3-5-3.9-4.4-3.6-3.1-3.2-2-1.4-0.6-1.8-0.4-1.9 0-1.6 0.7-2.1 1.9-1.8 3-0.9 2.5-0.4 2.1 0.1 4.8 0.6 3.4 2.2 8.8 2.1 7.1 1.5 4 1.1 2.1 1.5 2.1 1.4 1.5z"/><path fill="#93ff00" d="M78.3 0.6l2.8 0.9 2.7 0 2.4-0.8 1.3-0.9 1-1.1 1.8-3.3 1.4-5 0.7-5.1 0-5.7-1-4.4-1.4-3-3-4.9-2.9-3.5-4.2-3.9-2-1.4-3.6-1.6-2.5-0.2-1.8 0.7-1.4 1.1-1.8 2.4-1 2.1-0.9 4.2 0 3 0.3 2.6 2.7 11.4 3.1 8.8 1.4 2.4 1.3 1.7 2.7 2.4z"/><path fill="#b9ff00" d="M79.4-0.3l2.6 0.5 3.1-0.5 2.4-1.5 1.3-1.7 1.5-3.3 1.1-4.4 0.5-4.6-0.2-5.6-1.1-3.9-1.7-3.4-1.8-2.8-2.8-3.6-4.2-4-2-1.3-3.3-1.5-2.3-0.2-1.8 0.6-2.1 1.9-2.1 3.9-0.8 4.5 0 2.2 0.5 4.1 2.2 8.9 1.6 4.9 1.4 3.2 2.1 3.2 1.6 1.7 2.4 1.8z"/><path fill="#dfff00" d="M81-1.3l2.3 0 2.4-0.8 1.8-1.4 1.7-2.6 1-2.8 0.9-4.5 0.2-5.6-0.4-3.3-1.1-3.2-1.5-3-1.8-2.8-3.4-4.2-1.9-1.8-3-2.1-2.7-1.2-2.3-0.2-1.8 0.6-2.1 1.8-1.3 2.2-0.7 1.8-0.7 2.9-0.1 1.9 0.1 2.8 0.5 3.4 2.1 8.2 1.8 4.7 1.8 3.3 2 2.5 2.5 2 1.9 0.9z"/><path fill="#fff900" d="M79.3-3.1l2.6 0.5 1.9-0.3 1.8-0.8 1.8-1.4 1.6-2.7 1-3.3 0.7-5.4-0.1-3.5-0.4-2.2-1-3.1-2.7-4.9-2.7-3.6-1.8-1.8-3.1-2.4-3-1.3-2-0.3-1.8 0.6-1.5 1.2-1.2 1.5-1 2.1-0.4 1-0.6 3.2 0.2 5.5 1.7 7.5 1.4 4 1.3 2.8 1.9 2.9 1.5 1.6 2.2 1.7z"/><path fill="#ffd200" d="M80.8-4.2l2 0 1.8-0.5 1.2-0.7 1.2-1.1 1.1-1.6 1.1-2.9 0.6-3.3 0.2-2.2-0.2-4.4-0.9-3.2-1.8-4-2.5-3.7-1.5-1.7-2-1.9-2.9-1.9-2.5-0.9-2.1 0.1-1.6 0.9-1.6 1.8-0.9 1.5-0.8 2.4-0.5 4 0.7 6.2 1.9 6.5 2.4 4.9 1.2 1.6 2.6 2.5 1.1 0.7 1.9 0.8z"/><path fill="#ffac00" d="M79.5-6l1.4 0.4 2.7-0.3 1.8-1 1.6-1.7 0.9-1.5 0.7-2 0.4-2.1 0.2-2.2-0.2-4.3-1.3-4.6-1.3-2.6-2.9-4.1-2-2-1.9-1.4-2-1-2.3-0.5-1.8 0.5-0.8 0.5-1.4 1.5-1.2 2.2-0.7 2.5-0.2 1.8 0 2.8 0.3 2.7 0.7 3.4 1.1 3.3 1.2 2.7 1.3 2.2 1.1 1.5 2.1 2z"/><path fill="#ff8600" d="M78.8-7.8l1.9 0.6 1.9-0.1 1.8-0.8 1.7-1.5 0.8-1.2 1.1-3.2 0.3-2.2 0-3.3-0.3-2.1-1.3-4.1-2.2-3.8-1.9-2.3-2-1.8-2.2-1.3-1.3-0.4-2.1 0-1.6 0.9-1.4 1.4-1.5 3.6-0.3 2.1 0 2.8 0.3 2.7 0.8 3.4 1.6 4.1 1.7 2.8 1.1 1.3 1.1 1.1z"/><path fill="#ff6000" d="M80.5-8.9l1.9-0.1 1.8-0.9 1.5-1.7 0.6-1.1 0.7-2.2 0.3-2.2 0-2.2-0.3-2.1-0.4-2-1.2-3-1.1-1.9-2.1-2.6-1.9-1.6-1.3-0.7-1.2-0.5-2 0-1.7 0.8-0.7 0.7-1.2 1.9-0.5 1.3-0.4 2.2 0 2.9 0.3 2.7 0.9 3.4 1.5 3.3 1.4 2.1 1.9 2 1.3 0.8z"/><path fill="#ff3900" d="M80.3-10.8l1 0 1.8-0.6 1.2-1 0.8-1.2 0.9-2.7 0.2-3.8-0.6-3.1-0.7-2-2.2-3.6-2.9-2.5-1.2-0.5-1.9-0.2-1.1 0.4-1.4 1.2-1.2 2.2-0.5 2.9 0.2 3.7 1.3 4.4 1.9 3.3 1.5 1.6 1.1 0.8z"/><path fill="#ff1300" d="M78.8-13.5l2.2 0.5 0.9-0.2 1.6-1.3 0.7-1.3 0.6-2 0-3-0.4-2.1-0.7-1.9-1.7-2.7-2.5-2-2.1-0.3-0.9 0.2-0.8 0.6-1.3 1.9-0.4 1.6-0.1 2.7 0.5 2.6 0.9 2.6 1.6 2.5z"/></g></g></g>
<g transform="translate(280.15 492.3) scale(0.99 1)"><g clip-path="url(#cl)"><g filter="url(#bl)"><rect x="40" y="-100" width="100" height="110" fill="#ff00ac"/><path fill="#ff00d2" d="M63.5 2l24 0.7 0-1.1 1.9-0.8 0.9 0 0.9 0.2 1.3 0.8-0.2 1.1 34.9 1.1 0.1-7.5-0.4-6.1-0.7-7.4-0.7-4.5-2.6-11.8-1.7-5.8-3.1-8.5-3-6.9-2-4-2.9-5.3-4.8-7.7-3.5-4.9-4.7-5.9-4-4.5-3.2-3.2-45.1 45.1 2.6 2.7 2.9 3.5 3.4 4.9 3.3 6 2.1 4.8 1.5 4.2 1.8 7.3 0.8 6zM81-49.5l-2.7 0.9-2.4-0.3-0.9-0.7-0.6-0.9-0.2-0.9 0.2-1.4 0.5-1 1.8-2.2 2.4-1.4 1.8-0.3 1.7 0.2 1.1 0.7 0.7 1 0.3 1.3-0.4 1.6-0.5 0.8-1.3 1.5z"/><path fill="#ff00f9" d="M63.5 2l19.8 0.6 0-1 0.5-0.9 1.9-1.2 2.8-0.7 2.7-0.1 3.4 0.9 1.3 0.9 0.7 1.4-0.1 1.1 30.7 1 0.1-7.5-0.4-6.1-0.7-7.4-0.7-4.5-2.6-11.8-1.7-5.8-3.1-8.5-3-6.9-2-4-2.9-5.3-4.8-7.7-3.5-4.9-4.7-5.9-4-4.5-3.2-3.2-45.1 45.1 2.6 2.7 2.9 3.5 3.4 4.9 3.3 6 2.1 4.8 1.5 4.2 1.8 7.3 0.8 6zM79.2-47.1l-0.9 0.3-2.1 0.1-2.5-0.8-0.8-0.7-0.6-0.9-0.3-1 0-1.3 0.7-2.2 1-1.7 1.3-1.4 1.4-1.2 2.7-1.4 2.8-0.5 1.3 0.2 1.6 0.6 0.9 0.8 1.2 2.2 0 1.5-0.8 1.9-2.5 2.9-2.7 1.8z"/><path fill="#df00ff" d="M63.5 2l17.3 0.5 0-0.9 0.4-1 0.9-0.9 1.7-1 3.7-1.1 2.8-0.2 4.6 0.8 1.9 0.8 0.9 0.6 1.1 1.2 0.3 1.1 0 1.2 28.1 0.9 0.1-7.5-0.4-6.1-0.7-7.4-0.7-4.5-2.6-11.8-1.7-5.8-3.1-8.5-3-6.9-2-4-2.9-5.3-4.8-7.7-3.5-4.9-4.7-5.9-4-4.5-3.2-3.2-45.1 45.1 2.6 2.7 2.9 3.5 3.4 4.9 3.3 6 2.1 4.8 1.5 4.2 1.8 7.3 0.8 6zM79.8-46.1l-1.8 0.6-2 0.3-2.4-0.4-1.6-0.8-0.7-0.7-0.9-1.7-0.1-1.8 0.2-1.3 0.4-1.3 1.3-2.3 1.3-1.6 2.1-1.8 2.4-1.5 1.8-0.7 2.1-0.3 1.9 0.1 2.2 0.9 1.4 1.1 0.7 1.1 0.5 1.2 0.1 1.3-0.4 1.7-1.4 2.3-1.8 1.9-2.1 1.8z"/><path fill="#b900ff" d="M63.5 2l15.2 0.5 0-1 0.5-1.1 0.9-1 1.9-1.2 3.6-1.3 2.3-0.4 2.3 0 5.3 0.8 2.8 1.1 1.7 1.2 0.9 1.2 0.3 1.2-0.1 1.2 26.1 0.8 0.1-7.5-0.4-6.1-0.7-7.4-0.7-4.5-2.6-11.8-1.7-5.8-3.1-8.5-3-6.9-2-4-2.9-5.3-4.8-7.7-3.5-4.9-4.7-5.9-4-4.5-3.2-3.2-45.1 45.1 2.6 2.7 2.9 3.5 3.4 4.9 3.3 6 2.1 4.8 1.5 4.2 1.8 7.3 0.8 6zM76.7-44.1l-1 0.2-3.1-0.5-2.4-1.4-0.9-1.2-0.4-1-0.1-2.3 0.3-1.5 0.9-2.3 1-1.7 2.5-2.8 2.2-1.7 3-1.7 3-0.8 2.1 0 1.6 0.3 1.3 0.6 1 0.6 1.1 1.1 1.2 2.2 0.3 1.3-0.1 0.9-0.8 2.3-2.3 3.1-3 2.6-3.8 2.5z"/><path fill="#9300ff" d="M63.5 2l13.4 0.4 0-0.9 0.9-1.8 2.3-1.8 2.7-1.2 3.7-0.9 3.7-0.1 4.7 0.6 2.8 0.8 2.8 1.3 1.4 1.2 0.8 1.2 0.3 1.2-0.1 1.2 24.3 0.8 0.1-7.5-0.4-6.1-0.7-7.4-0.7-4.5-2.6-11.8-1.7-5.8-3.1-8.5-3-6.9-2-4-2.9-5.3-4.8-7.7-3.5-4.9-4.7-5.9-4-4.5-3.2-3.2-45.1 45.1 2.6 2.7 2.9 3.5 3.4 4.9 3.3 6 2.1 4.8 1.5 4.2 1.8 7.3 0.8 6zM76.3-42.9l-2.3 0.1-2.9-0.7-1.9-1.1-1.2-1.5-0.6-2 0-1.7 0.2-1.3 1.2-3 2.8-3.9 2.8-2.5 3.9-2.5 2.8-0.9 2.2-0.3 2 0.2 2.1 0.8 1.8 1.2 0.9 0.9 1.3 2.2 0.3 2-0.1 0.9-0.7 1.9-1.5 2.4-4.1 4-4.7 3.1-1.6 0.8z"/><path fill="#6c00ff" d="M63.5 2l11.8 0.4 0.2-1.8 0.9-1.3 1.8-1.5 1.9-1 2.8-1.1 2.7-0.6 4.6-0.1 3.7 0.4 3.3 0.7 3.1 1.1 2 1.1 1 0.8 1.1 1.7 0.3 1.2-0.1 1.3 22.6 0.7 0.1-7.5-0.4-6.1-0.7-7.4-0.7-4.5-2.6-11.8-1.7-5.8-3.1-8.5-3-6.9-2-4-2.9-5.3-4.8-7.7-3.5-4.9-4.7-5.9-4-4.5-3.2-3.2-45.1 45.1 2.6 2.7 2.9 3.5 3.4 4.9 3.3 6 2.1 4.8 1.5 4.2 1.8 7.3 0.8 6zM77.6-42.4l-2.8 0.7-2.1-0.1-2.9-0.8-1.4-0.8-1.1-1.1-0.9-1.7-0.3-2.1 0.3-2.8 0.8-2 1.5-2.6 2.4-2.9 2.7-2.5 3.9-2.6 2.7-1.1 2.6-0.6 3 0.2 2.1 0.7 2.3 1.6 0.9 1 1.3 2.2 0.4 1.3 0 1.8-0.4 1.3-1.6 2.8-1.2 1.5-2.8 2.7-4.4 3.4-2.4 1.4z"/><path fill="#4600ff" d="M63.5 2l10.2 0.3 0-0.9 0.7-1.7 1.1-1.2 2.3-1.6 3.1-1.4 2.7-0.8 2.8-0.4 3.2 0 3.3 0.3 3.8 0.7 5.6 1.9 1.9 1.1 1.2 1.3 0.7 1.2 0.1 2.5 21 0.7 0.1-7.5-0.4-6.1-0.7-7.4-0.7-4.5-2.6-11.8-1.7-5.8-3.1-8.5-3-6.9-2-4-2.9-5.3-4.8-7.7-3.5-4.9-4.7-5.9-4-4.5-3.2-3.2-45.1 45.1 2.6 2.7 2.9 3.5 3.4 4.9 3.3 6 2.1 4.8 1.5 4.2 1.8 7.3 0.8 6zM74.4-40.7l-2.2-0.1-2.5-0.5-2.9-1.7-1.2-1.5-0.8-2.9 0.2-2.5 0.7-2.2 1.4-2.7 2.9-3.7 2-2 3.6-2.8 3.4-2 3.3-1.1 1.4-0.2 2.7 0.2 3 1 2.2 1.7 0.9 1 1.3 2.3 0.4 1.3 0.2 1.4-0.4 1.7-1.3 2.6-3.2 3.8-2.8 2.5-3 2.2-4.8 2.8-2.7 1z"/><path fill="#2000ff" d="M63.5 2l8.9 0.3 0.3-2.2 0.9-1.3 0.9-0.9 3.1-1.9 5.1-1.9 2.8-0.4 3.7 0 3.7 0.3 5.6 1.1 2.8 0.8 2.8 1.2 1.8 1.2 1.2 1.3 0.5 1.2 0.1 2.6 19.5 0.6 0.1-7.5-0.4-6.1-0.7-7.4-0.7-4.5-2.6-11.8-1.7-5.8-3.1-8.5-3-6.9-2-4-2.9-5.3-4.8-7.7-3.5-4.9-4.7-5.9-4-4.5-3.2-3.2-45.1 45.1 2.6 2.7 2.9 3.5 3.4 4.9 3.3 6 2.1 4.8 1.5 4.2 1.8 7.3 0.8 6zM75.7-40.1l-1.9 0.4-1.3 0-3.2-0.5-3-1.4-1.3-1.4-1.2-2.5-0.2-2.2 0.5-2.8 1.4-3.2 2.2-3.2 2.5-2.8 3.5-3.1 4.6-3.1 2.9-1.2 2.7-0.6 2.5 0 3 0.9 1.9 1.1 1.4 1.2 1.7 2.1 0.6 1.2 0.5 1.3 0.2 1.4-0.2 1.7-0.8 2-1.5 2.3-2.8 3-4.9 4.1-5.5 3.5z"/><path fill="#0006ff" d="M63.5 2l7.7 0.2 0-0.8 0.6-2 0.9-1.2 0.9-0.9 3.6-2.1 3.6-1.4 1.9-0.4 2.7-0.3 3.7 0 2.8 0.2 6.6 1.1 4.7 1.4 1.9 0.8 2.5 1.7 1.1 1.3 0.5 1.2 0.1 2.6 17.9 0.6 0.1-7.5-0.4-6.1-0.7-7.4-0.7-4.5-2.6-11.8-1.7-5.8-3.1-8.5-3-6.9-2-4-2.9-5.3-4.8-7.7-3.5-4.9-4.7-5.9-4-4.5-3.2-3.2-45.1 45.1 2.6 2.7 2.9 3.5 3.4 4.9 3.3 6 2.1 4.8 1.5 4.2 1.8 7.3 0.8 6zM76.1-39.4l-2.8 0.7-2.5-0.1-3.8-1-2.6-1.7-1.5-2.3-0.5-3 0.3-2.6 1.5-3.7 2.5-3.6 1.8-2.1 4.1-3.9 4.4-3.3 4.3-2.1 3-0.7 3 0 3.1 1 1.3 0.7 2.2 1.8 0.9 1 1.4 2.4 0.8 2.6-0.1 1.6-0.6 1.9-2.7 4-4.7 4.5-4.7 3.5-3.9 2.5z"/><path fill="#002dff" d="M63.5 2l6.7 0.2 0.4-2.5 0.9-1.7 0.8-0.9 3-1.9 4.6-1.9 1.7-0.4 2.8-0.4 3.7 0 5.7 0.5 3.7 0.6 4.7 1.1 3.2 1.1 3.4 2 1.5 1.7 0.6 2.7-0.1 1.3 16.4 0.5 0.1-7.5-0.4-6.1-0.7-7.4-0.7-4.5-2.6-11.8-1.7-5.8-3.1-8.5-3-6.9-2-4-2.9-5.3-4.8-7.7-3.5-4.9-4.7-5.9-4-4.5-3.2-3.2-45.1 45.1 2.6 2.7 2.9 3.5 3.4 4.9 3.3 6 2.1 4.8 1.5 4.2 1.8 7.3 0.8 6zM73.7-37.9l-0.9 0.2-3.3-0.2-2.8-0.7-2.7-1.5-1.3-1.3-1.2-2.4-0.3-3.3 0.6-2.8 1.2-2.6 2.1-3.2 4.3-4.9 4.9-4.3 3.9-2.6 3.4-1.7 3-0.8 2.2-0.1 1.4 0.2 3.1 1 2.7 1.8 1 1 1.7 2.2 0.6 1.2 0.8 2.1 0.2 2.2-0.4 1.7-0.8 1.6-1.8 2.5-1.4 1.5-2 2-4.4 3.6-7.7 5.2-3.4 1.6z"/><path fill="#0053ff" d="M63.5 2l5.9 0.2 0.1-1.7 0.4-1.6 0.9-1.6 1.8-1.6 5.2-2.5 2.9-0.9 3.7-0.4 2.8 0 8.4 0.8 2.8 0.5 5.9 1.4 3.1 1.1 2.3 1.3 1.4 1.2 0.8 1.3 0.4 1.4 0.1 2.6 14.8 0.5 0.1-7.5-0.4-6.1-0.7-7.4-0.7-4.5-2.6-11.8-1.7-5.8-3.1-8.5-3-6.9-2-4-2.9-5.3-4.8-7.7-3.5-4.9-4.7-5.9-4-4.5-3.2-3.2-45.1 45.1 2.6 2.7 2.9 3.5 3.4 4.9 3.3 6 2.1 4.8 1.5 4.2 1.8 7.3 0.8 6zM74.1-37.1l-3.1 0.4-4.3-0.7-2.9-1.2-1.1-0.8-1.2-1.3-1.2-2.3-0.3-3.1 0.4-2.7 1.6-3.5 2.1-3.2 5.6-6.2 4.9-4.2 4.7-3.1 4.3-1.8 2.3-0.4 2.4 0 1.4 0.3 1.6 0.5 1.5 0.8 1.3 0.8 2.1 1.9 2.3 3.4 1 2.7 0.2 1.5-0.5 2.4-0.7 1.4-1.5 2.2-3.4 3.5-5.8 4.8-4.4 3.1-4.2 2.6-3.3 1.6z"/><path fill="#0079ff" d="M63.5 2l5.1 0.2 0.2-2.5 1-2.5 1-1.2 2.6-1.8 5.4-2.2 4.6-0.7 2.8 0 6.5 0.5 6.6 1 7.1 1.7 3.3 1.3 1.8 1.1 1.4 1.3 0.7 1.3 0.3 1.4 0.1 2.7 13.2 0.4 0.1-7.5-0.4-6.1-0.7-7.4-0.7-4.5-2.6-11.8-1.7-5.8-3.1-8.5-3-6.9-2-4-2.9-5.3-4.8-7.7-3.5-4.9-4.7-5.9-4-4.5-3.2-3.2-45.1 45.1 2.6 2.7 2.9 3.5 3.4 4.9 3.3 6 2.1 4.8 1.5 4.2 1.8 7.3 0.8 6zM75.4-36.7l-3.7 1-4.1-0.3-2.7-0.7-1.8-0.8-1.6-1.1-2-2.8-0.6-1.7-0.2-2 0.3-2.5 1.4-3.6 2.1-3.3 4.2-5 4-3.9 3.5-3 4.6-3.2 3.4-1.7 1.9-0.7 2-0.4 3.7 0.1 3.3 1.2 2.1 1.4 2.1 2 2.4 3.5 1.4 4.1-0.1 1.6-0.6 1.9-1.6 2.5-2.8 3-5 4.3-8.3 6-4 2.5z"/><path fill="#009fff" d="M63.5 2l4.4 0.1 0.3-3.2 1.1-2.5 1.4-1.6 2.7-1.6 3.5-1.5 2.7-0.7 5.6-0.3 3.7 0.2 7.5 0.9 7.6 1.4 4.7 1.2 2.8 1.1 2.1 1.3 1.2 1.4 0.8 2.7 0.1 2.7 11.5 0.4 0.1-7.5-0.4-6.1-0.7-7.4-0.7-4.5-2.6-11.8-1.7-5.8-3.1-8.5-3-6.9-2-4-2.9-5.3-4.8-7.7-3.5-4.9-4.7-5.9-4-4.5-3.2-3.2-45.1 45.1 2.6 2.7 2.9 3.5 3.4 4.9 3.3 6 2.1 4.8 1.5 4.2 1.8 7.3 0.8 6zM71.2-34.6l-4.2-0.3-3.4-0.9-2.6-1.5-1.8-1.9-0.8-1.4-0.4-0.8-0.6-2.7 0.1-1.9 1.2-3.7 2.2-3.8 2.9-3.7 5.8-6 7.1-5.9 4-2.5 3.7-1.6 3-0.6 1.9 0 1.8 0.3 1.9 0.7 2.1 1.2 3.3 3.1 0.9 1.2 1.5 2.4 1.1 2.6 0.5 1.4 0.1 2.3-1.5 3.3-4.6 4.8-6.6 5.3-6.1 4.4-3.1 2.1-4.9 2.7-2.6 1z"/><path fill="#00c6ff" d="M63.5 2l3.7 0.1 0.1-2.4 0.7-2.9 1.7-2.4 2.7-1.8 3.5-1.5 3.6-0.9 5.6-0.1 8.5 0.8 7.5 1.1 7.5 1.5 2.6 0.8 3.1 1.3 1.9 1.6 0.6 0.9 0.7 2.8 0 2.8 9.7 0.3 0.1-7.5-0.4-6.1-0.7-7.4-0.7-4.5-2.6-11.8-1.7-5.8-3.1-8.5-3-6.9-2-4-2.9-5.3-4.8-7.7-3.5-4.9-4.7-5.9-4-4.5-3.2-3.2-45.1 45.1 2.6 2.7 2.9 3.5 3.4 4.9 3.3 6 2.1 4.8 1.5 4.2 1.8 7.3 0.8 6zM70.8-33.5l-3.9-0.1-4-1-2.4-1.4-1.3-1.2-1.5-1.9-0.8-1.5-0.7-2.6-0.1-2.1 1.2-3.9 3.1-4.9 5.5-6.3 4.6-4.5 5.7-4.8 2.3-1.6 3.2-1.9 2.7-1.2 2-0.6 2.5-0.3 2 0.2 3.1 1.1 2.4 1.7 2.1 2 1.8 2.3 2.2 3.7 1.5 4.1-0.1 2.2-0.6 1.4-2.3 2.9-2.1 2-4.4 3.6-8.3 6.2-4.6 3.2-6.4 3.8-3.5 1.3z"/><path fill="#00ecff" d="M63.5 2l2.9 0.1 0.3-4 0.7-2.4 1.1-1.7 2-1.6 5.3-2.4 3.6-0.6 3.8 0 11.3 1.1 5.6 0.8 8.5 1.4 5.7 1.4 2.7 1.3 1.3 1.3 1 2.8 0.3 2.8-0.1 1.5 7.7 0.2 0.1-7.5-0.4-6.1-0.7-7.4-0.7-4.5-2.6-11.8-1.7-5.8-3.1-8.5-3-6.9-2-4-2.9-5.3-4.8-7.7-3.5-4.9-4.7-5.9-4-4.5-3.2-3.2-45.1 45.1 2.6 2.7 2.9 3.5 3.4 4.9 3.3 6 2.1 4.8 1.5 4.2 1.8 7.3 0.8 6zM70.4-32.1l-2.5 0-4-0.6-2.5-1-2.8-2.1-2-2.6-0.8-1.4-0.9-2.4-0.3-1.9 0.1-1.1 0.9-3.1 2-3.4 2.2-3 4.3-4.9 6.6-6.5 7.1-5.9 4.8-3 4.7-1.7 3.5-0.2 1.7 0.4 1.7 0.8 3.4 2.5 3.8 4.4 1.5 2.5 1.4 2.6 1 2.5 0.4 1.7-0.2 1.7-0.7 1.5-2 2.2-2.8 2.5-14.3 10.7-10.2 6.7-1.6 0.9z"/><path fill="#00ffec" d="M63.5 2l1.9 0.1 0.1-3.1 0.6-3.4 1.1-2.3 1.4-1.4 2.6-1.5 3.5-1.4 1.8-0.4 4.7 0 7.6 0.7 19.7 2.6 5.6 0.9 3.8 0.9 2.4 1.5 0.7 1.4 0.8 4.3 0 2.9 5.4 0.2 0.1-7.5-0.4-6.1-0.7-7.4-0.7-4.5-2.6-11.8-1.7-5.8-3.1-8.5-3-6.9-2-4-2.9-5.3-4.8-7.7-3.5-4.9-4.7-5.9-4-4.5-3.2-3.2-45.1 45.1 2.6 2.7 2.9 3.5 3.4 4.9 3.3 6 2.1 4.8 1.5 4.2 1.8 7.3 0.8 6zM69.2-30.3l-5.4-0.5-2.5-0.9-2.3-1.5-2.8-3-1.7-2.7-1.5-3.9 0-2.8 1.1-3 3.2-4.7 4.2-5 8.5-8.5 8.4-7.3 5.6-3.5 3.8-1.3 1.1-0.2 2.5 0.1 2.9 1.1 2.5 1.7 4.1 4.2 4.1 6.1 2.4 5.4 0.3 1.5-0.3 1.8-1.1 1.6-2.9 2.5-21.3 15.4-8.6 5.7-1.7 0.9z"/><path fill="#00ffc6" d="M112.4-8.5l3.5 0.3 3.7 0 1.8-0.4 1.1-0.6 0.7-1 1-3.6 0.2-6-0.3-3-1.4-7.3-1.1-4.4-2.3-7.1-2.3-5.5-2.1-4-1.8-2.5-1.2-1.1-1.3-0.5-1.9 0.4-2.5 1.2-6.3 3.9-11.5 8-14.5 10.7-3 2.5-0.8 1.2-0.2 2.9 0.4 3.5 0.9 2.5 1.2 2.4 1.8 2.4 1.1 0.5 2.9 0.6 21.8 2.8z"/><path fill="#00ff9f" d="M109-9.5l5 0.1 2.7-0.3 2.3-0.7 1.3-0.9 0.8-1.2 0.9-2.5 0.5-3 0-3-0.5-5.9-0.9-4.4-1.6-5.7-2.7-6.9-2.1-3.9-2.8-3.6-1.3-0.9-1.9-0.4-2.7 0.7-5 2.5-8.6 5.6-9.9 7.2-6 4.8-2.1 2.1-0.9 1.2-0.3 0.8-0.3 2.4 0.7 4.5 1.5 3.4 1.7 2.4 1.1 1 1.1 0.5 5.8 1.3 6.7 1 15 1.7z"/><path fill="#00ff79" d="M104.9-10.4l3.4 0.2 4.7-0.2 2.7-0.4 2.2-0.9 1.3-1.1 1.2-2 0.5-1.5 0.5-3 0.1-3.6-0.6-5.3-1.7-7.1-2-5.6-2.1-4.2-2.3-3.5-2.4-2.1-2-0.5-1.9 0.3-2.6 0.9-4.1 2.1-5.6 3.4-9.5 6.8-3.4 2.7-4.4 4-1.2 1.5-0.6 1.3-0.3 2.1 0.2 2.9 1.1 3.5 2.1 3.4 1.6 1.6 0.9 0.5 2.8 0.9 6.2 1.2 6.4 0.9z"/><path fill="#00ff53" d="M101.1-11.2l6.2 0.3 2.8-0.1 3.7-0.5 1.8-0.6 1.7-0.9 1.7-2 1.3-3.7 0.3-2 0-4.4-0.6-4.4-1.4-5.6-1.5-4.2-1.9-4-2.4-3.7-2.5-2.3-1.2-0.4-1.1-0.2-1.9 0.2-4.4 1.6-5.7 3.1-4.7 3.1-4.6 3.3-5.9 4.9-3.3 3.5-1.1 2.5 0.1 4 0.8 2.8 1.3 2.6 1.2 1.7 1.7 1.6 3.1 1.2 4.8 1.1z"/><path fill="#00ff2d" d="M104.6-11.6l6.3-0.3 3-0.7 2.4-1.3 1.7-2 0.7-1.2 1-3.4 0.2-4.5-0.5-4.3-1.4-5.7-1.5-4.1-2.7-5.2-0.9-1.2-2.2-2.2-2.1-0.9-3 0.1-3.6 1.1-3.3 1.6-4.8 2.8-4.7 3.2-6.7 5.4-3.4 3.6-1.3 2.6-0.1 2.1 0.2 2 0.7 2.8 2 3.5 1.7 1.9 0.9 0.6 1.6 0.8 4.5 1.2 4.8 0.8z"/><path fill="#00ff06" d="M100.5-12.4l3 0.2 3.7-0.1 2.7-0.3 3.6-1 1.8-1.1 1.6-1.7 0.8-1.2 1-2.8 0.5-4.4-0.2-2.9-1.5-7.1-1-2.8-2.6-5.2-1.8-2.3-1.6-1.5-1.3-0.7-3.2-0.3-2.7 0.6-5.2 2.2-4 2.3-6.2 4.3-3.7 3.1-3.6 3.7-1.5 2.7-0.2 2.2 0.6 3.9 0.8 2 1 1.7 1.3 1.7 1.6 1.4 2.1 1 2.3 0.7 6.4 1.2z"/><path fill="#20ff00" d="M104.3-12.8l5.5-0.6 1.8-0.5 2.7-1.4 2.4-2.8 0.7-1.4 1-3.7 0.1-2.9-0.3-3.3-1.3-5.3-1-2.7-1.9-3.9-1.8-2.4-2.4-2.1-1.9-0.7-3.4 0.1-4.4 1.4-5.7 3-3.2 2.1-5.3 4.1-2.9 2.7-2 2.7-0.9 2.5 0.1 3.1 0.8 2.9 1.5 2.7 2.3 2.6 3 1.5 5.5 1.4 4.5 0.6z"/><path fill="#46ff00" d="M100.1-13.5l6.9-0.2 1.8-0.3 3.1-1.1 2.2-1.6 1.4-1.7 0.9-1.4 1.1-3.2 0.2-1.5-0.1-4.4-0.5-2.8-1.2-4.1-1.7-3.7-1.8-2.7-2.3-2.1-2.1-1.1-2.1-0.2-2.9 0.4-1.8 0.5-5 2.3-4.8 3-6 4.8-2 2.1-1.9 3.2-0.3 3.1 0.9 4 1.5 2.7 2.5 2.6 1.9 1.1 3.8 1.2 4 0.7z"/><path fill="#6cff00" d="M105-14.2l1.9-0.2 2.7-0.7 1.8-0.9 1.6-1.2 2.1-2.5 1-1.9 0.9-4.2-0.1-2.9-0.4-2.8-1.8-5.5-1.6-2.9-1.6-2-1.7-1.4-0.9-0.6-2.6-0.7-3.3 0.2-3.2 1-4.2 2-5.5 3.6-3 2.5-2.8 2.9-1.5 2.4-0.5 2.4 0.1 2.1 0.4 2 0.8 1.9 1.9 2.7 1.9 1.8 2.4 1.2 5.9 1.4 4.7 0.4z"/><path fill="#93ff00" d="M100-14.7l3.1 0 2.8-0.3 3.8-1.1 1.5-1 2.4-2.4 1.5-2.4 0.6-1.7 0.4-2 0.1-2.9-0.7-4.2-0.9-2.7-1.3-2.6-1.7-2.4-2.4-2.1-2.4-1-2.1-0.2-2.9 0.4-2.6 0.9-5 2.5-3.9 2.7-4 3.6-1.7 2.1-1.1 2.4-0.1 3.3 0.8 3 1.7 2.8 1.7 1.8 2.1 1.4 2.7 1 4.1 0.8z"/><path fill="#b9ff00" d="M97.6-15.5l6.4 0 2.7-0.5 1.8-0.6 1.6-0.9 2.5-2.5 1.5-2.4 0.6-1.4 0.5-2.1 0.1-3.6-0.6-3-0.9-2.7-0.6-1.3-1.8-2.7-2-1.9-2.1-1.2-2.2-0.4-2 0-1.9 0.4-4.3 1.6-4.8 2.9-3 2.4-2.2 2.1-1.9 2.9-0.5 2.1 0 2.2 0.8 3 1.7 2.8 3 2.7 1.7 0.8 2.8 0.8z"/><path fill="#dfff00" d="M100.7-16l5-0.6 1.7-0.6 2.6-1.6 1.6-1.7 1.1-1.6 0.8-1.5 0.8-3 0.1-2.7-0.2-1.6-0.7-2.7-1-2.3-1.9-2.7-1.4-1.3-2.6-1.5-1.1-0.3-3 0-2.7 0.6-4.3 1.9-2.4 1.5-3.8 2.9-2.1 2.3-1.4 2.6-0.3 2.3 0.5 3.3 1.8 3.3 1.3 1.4 2.3 1.7 1.9 0.8 3 0.7z"/><path fill="#fff900" d="M98.4-16.9l2.5 0.1 2.8-0.3 1.8-0.4 2.1-0.9 2.2-1.7 1.4-1.7 0.9-1.5 1.1-3.2 0-4.2-0.7-2.7-1.2-2.5-2.8-3.1-1.7-1.1-2-0.7-2 0-2.8 0.4-4.2 1.8-3.2 2-2.3 1.9-2.1 2.3-1.2 2-0.4 1.8 0.2 2.9 0.6 2 1.2 2 1.7 1.8 2.6 1.7 2.3 0.8z"/><path fill="#ffd200" d="M97.3-17.9l4.4 0.2 3.6-0.8 1.8-0.9 2.4-2.1 1.1-1.5 1-2 0.6-2.6 0-2.8-0.7-2.6-1.3-2.5-0.9-1.2-2.4-2-1.6-0.8-2.1-0.4-1.9 0.1-3.6 1.1-1.6 0.8-2.5 1.4-2.9 2.4-1.5 1.7-0.9 1.6-0.6 2.5 0 1.2 0.5 2.1 1.1 2.3 1.3 1.6 2.3 1.7 2.1 1z"/><path fill="#ffac00" d="M102-18.7l2.3-0.6 1.7-0.8 2.4-2 0.8-0.9 1.4-2.8 0.5-2.9-0.3-2.7-1-2.6-1.7-2.3-2.7-1.9-2.8-0.7-1.9 0.2-2.7 0.7-4.1 2.3-3.2 2.8-1.1 1.6-0.7 2.6 0.1 2.3 0.7 2.1 1.3 1.9 1 1 1.7 1.2 3.1 1.2 2.9 0.4z"/><path fill="#ff8600" d="M100.9-19.8l3.1-0.7 2.6-1.5 2.2-2.8 0.8-2.1 0.2-1.4-0.3-2.8-1-2.5-0.8-1.1-1-1.1-1.3-0.9-1.8-0.8-1.6-0.3-1.9 0.2-1.8 0.5-2.5 1.1-1.6 1.1-2.9 2.9-0.8 1.6-0.3 1.3 0.1 2.3 0.7 2.2 1.4 1.9 0.9 0.8 2.2 1.3 2 0.6 2 0.3z"/><path fill="#ff6000" d="M101.7-21.2l2.9-1.1 2.4-2.2 1-2 0.4-2.9-0.6-2.5-1.5-2.4-1.2-1-1.6-0.8-2.5-0.5-1.4 0.2-2.6 0.9-3.2 2.2-1.7 2.4-0.4 1.3-0.1 2.4 1 2.6 1.4 1.5 1.2 0.9 1.9 0.8 2.1 0.4z"/><path fill="#ff3900" d="M97.7-22.8l3.1 0.3 1.8-0.5 2.2-1.4 1.2-1.6 0.6-1.5 0.2-1.4-0.6-2.6-1.8-2.3-1.4-0.8-2-0.5-2.8 0.4-2.3 1.2-1.8 1.9-0.4 0.8-0.5 1.6 0 1.6 0.3 1.1 1 1.7 1.2 1.1z"/><path fill="#ff1300" d="M99.2-24.4l2-0.2 1.5-0.6 1.7-2.1 0.3-1.1-0.1-1.3-0.4-1.2-0.8-1.1-1.5-0.9-2.2-0.2-0.9 0.1-0.8 0.4-2 1.6-0.7 1.5-0.1 1.3 0.9 2.2 1 0.9z"/></g></g></g>
<g transform="translate(370.05 492.3) scale(0.99 1)"><g clip-path="url(#cl)"><g filter="url(#bl)"><rect x="40" y="-100" width="100" height="110" fill="#ff0013"/><path fill="#ff0039" d="M63.5 2l15.1 0.5-1.4-1.9-0.3-1.8 0.1-1.9 1.1-2 0.9-0.6 0.9-0.2 1 0.2 0.7 0.5 1.2 1.9 0.2 1 0 2-0.3 0.9-0.7 1.3-0.7 0.7 45.9 1.4 0.1-7.5-0.4-6.1-0.7-7.4-0.7-4.5-2.6-11.8-1.7-5.8-3.1-8.5-3-6.9-2-4-2.9-5.3-4.8-7.7-3.5-4.9-4.7-5.9-4-4.5-3.2-3.2-45.1 45.1 2.6 2.7 2.9 3.5 3.4 4.9 3.3 6 2.1 4.8 1.5 4.2 1.8 7.3 0.8 6z"/><path fill="#ff0060" d="M63.5 2l12.9 0.4-0.4-0.9-0.5-2.5 0.3-2.9 0.9-1.9 0.8-1 1.4-0.8 0.9-0.2 1.9 0.5 1 0.9 1.2 2.1 0.5 3-0.2 2-0.8 1.9 43.8 1.4 0.1-7.5-0.4-6.1-0.7-7.4-0.7-4.5-2.6-11.8-1.7-5.8-3.1-8.5-3-6.9-2-4-2.9-5.3-4.8-7.7-3.5-4.9-4.7-5.9-4-4.5-3.2-3.2-45.1 45.1 2.6 2.7 2.9 3.5 3.4 4.9 3.3 6 2.1 4.8 1.5 4.2 1.8 7.3 0.8 6z"/><path fill="#ff0086" d="M63.5 2l11.7 0.4-0.7-2.7 0-2.7 0.4-1.7 0.9-1.9 1.1-1.5 0.9-0.6 1.8-0.6 1.9 0.4 1.2 0.7 0.9 0.9 1.1 1.9 0.6 2 0.2 2-0.2 2.1-0.6 2 42.5 1.3 0.1-7.5-0.4-6.1-0.7-7.4-0.7-4.5-2.6-11.8-1.7-5.8-3.1-8.5-3-6.9-2-4-2.9-5.3-4.8-7.7-3.5-4.9-4.7-5.9-4-4.5-3.2-3.2-45.1 45.1 2.6 2.7 2.9 3.5 3.4 4.9 3.3 6 2.1 4.8 1.5 4.2 1.8 7.3 0.8 6z"/><path fill="#ff00ac" d="M63.5 2l10.7 0.3-0.6-2.6 0-2.2 0.6-3.1 0.9-2 1.7-1.9 1.7-0.9 0.9-0.2 1.9 0.3 1 0.4 1.8 1.6 1.4 2.3 0.7 2.6 0.2 2-0.2 2.1-0.5 2 41.5 1.3 0.1-7.5-0.4-6.1-0.7-7.4-0.7-4.5-2.6-11.8-1.7-5.8-3.1-8.5-3-6.9-2-4-2.9-5.3-4.8-7.7-3.5-4.9-4.7-5.9-4-4.5-3.2-3.2-45.1 45.1 2.6 2.7 2.9 3.5 3.4 4.9 3.3 6 2.1 4.8 1.5 4.2 1.8 7.3 0.8 6z"/><path fill="#ff00d2" d="M63.5 2l9.8 0.3-0.5-4.3 0.5-3.5 0.9-2.3 0.9-1.5 1.5-1.4 1.7-0.8 1.9-0.2 1 0.1 2 1 1.3 1.2 1.3 1.9 0.8 2 0.5 3.1-0.1 3.1-0.4 2 40.6 1.3 0.1-7.5-0.4-6.1-0.7-7.4-0.7-4.5-2.6-11.8-1.7-5.8-3.1-8.5-3-6.9-2-4-2.9-5.3-4.8-7.7-3.5-4.9-4.7-5.9-4-4.5-3.2-3.2-45.1 45.1 2.6 2.7 2.9 3.5 3.4 4.9 3.3 6 2.1 4.8 1.5 4.2 1.8 7.3 0.8 6z"/><path fill="#ff00f9" d="M63.5 2l9.1 0.3-0.4-2.6 0-2.6 0.3-2.6 1.4-3.6 1.7-2.1 0.9-0.6 1.3-0.6 2.3-0.4 2.5 0.6 1.3 0.9 1.7 1.8 1.1 1.9 0.7 2 0.4 3.2 0 2-0.4 3.1 39.8 1.3 0.1-7.5-0.4-6.1-0.7-7.4-0.7-4.5-2.6-11.8-1.7-5.8-3.1-8.5-3-6.9-2-4-2.9-5.3-4.8-7.7-3.5-4.9-4.7-5.9-4-4.5-3.2-3.2-45.1 45.1 2.6 2.7 2.9 3.5 3.4 4.9 3.3 6 2.1 4.8 1.5 4.2 1.8 7.3 0.8 6zM98.9-47.5l-1.7-1.3-1.8-3.4-0.1-2.1 0.6-1 0.9-0.2 1 0.4 1.1 0.9 0.8 1.1 1.1 2.5 0.1 1.4-0.2 1.1-0.7 0.7z"/><path fill="#df00ff" d="M63.5 2l8.4 0.3-0.3-2.6 0-3.4 0.4-2.6 1.1-2.9 1.5-2.3 1.7-1.2 2.7-0.9 1.9 0 1.7 0.4 1.5 0.8 1.9 2 1.1 1.8 0.7 2 0.6 3.1 0 4.2-0.3 2.1 39.1 1.2 0.1-7.5-0.4-6.1-0.7-7.4-0.7-4.5-2.6-11.8-1.7-5.8-3.1-8.5-3-6.9-2-4-2.9-5.3-4.8-7.7-3.5-4.9-4.7-5.9-4-4.5-3.2-3.2-45.1 45.1 2.6 2.7 2.9 3.5 3.4 4.9 3.3 6 2.1 4.8 1.5 4.2 1.8 7.3 0.8 6zM99.5-44l-1.6-0.9-1.7-1.8-0.9-1.2-1.7-3.4-0.5-1.3-0.5-2.7 0.1-1.4 0.5-1.3 0.6-0.7 0.9-0.3 1.1 0 2 0.8 2.1 1.9 2.2 3.4 1.3 4 0 2.3-0.4 1.4-0.6 0.9-0.8 0.5-0.9 0.1z"/><path fill="#b900ff" d="M63.5 2l7.8 0.2-0.3-2.5 0.1-4.2 0.7-3.5 0.7-1.8 1.2-1.9 1.6-1.4 2.6-1.1 2.8-0.2 2 0.3 2 1.1 1.1 1 1.6 2.3 0.8 2 0.5 2.1 0.3 3.1-0.3 5.3 38.5 1.2 0.1-7.5-0.4-6.1-0.7-7.4-0.7-4.5-2.6-11.8-1.7-5.8-3.1-8.5-3-6.9-2-4-2.9-5.3-4.8-7.7-3.5-4.9-4.7-5.9-4-4.5-3.2-3.2-45.1 45.1 2.6 2.7 2.9 3.5 3.4 4.9 3.3 6 2.1 4.8 1.5 4.2 1.8 7.3 0.8 6zM102.7-41.2l-2 0-2.6-1.4-2.6-2.6-2.1-3.2-1.1-2.2-1.2-3.6-0.3-2.3 0.4-2.9 1.1-1.6 1.9-0.6 2.7 0.8 2.4 1.7 1.9 2.1 1.5 2.3 1.7 3.8 0.8 4.1-0.4 3.1-0.6 1.3z"/><path fill="#9300ff" d="M63.5 2l7.2 0.2-0.2-2.5 0.2-5.3 0.6-3 1.3-3 1.7-1.8 1.7-0.9 1.8-0.6 2.8-0.3 1.3 0.1 2.6 0.9 2.2 2 1.2 1.8 1.2 3.7 0.3 2.1 0.1 5.3-0.3 2.1 38 1.2 0.1-7.5-0.4-6.1-0.7-7.4-0.7-4.5-2.6-11.8-1.7-5.8-3.1-8.5-3-6.9-2-4-2.9-5.3-4.8-7.7-3.5-4.9-4.7-5.9-4-4.5-3.2-3.2-45.1 45.1 2.6 2.7 2.9 3.5 3.4 4.9 3.3 6 2.1 4.8 1.5 4.2 1.8 7.3 0.8 6zM101.6-39l-2.4-0.9-2.3-1.8-0.9-1-3-4.1-2.2-4.4-1.4-4.9-0.1-2.9 0.5-2.4 1.2-1.5 0.8-0.5 2.1-0.2 1.3 0.3 3 1.6 2.2 2 1.8 2.1 2.7 4.9 1.3 4 0.4 2.8-0.3 3.1-0.5 1.7-1.4 1.6-1.8 0.6z"/><path fill="#6c00ff" d="M63.5 2l6.7 0.2-0.2-2.5 0.1-5 0.8-4.3 0.9-2.1 1.6-1.9 1.9-1.2 3.3-0.9 2.8-0.2 2.4 0.5 1.6 0.8 1.1 0.9 1.9 2.8 0.8 2.1 0.6 3.1 0.2 2.1-0.2 6.4 37.4 1.2 0.1-7.5-0.4-6.1-0.7-7.4-0.7-4.5-2.6-11.8-1.7-5.8-3.1-8.5-3-6.9-2-4-2.9-5.3-4.8-7.7-3.5-4.9-4.7-5.9-4-4.5-3.2-3.2-45.1 45.1 2.6 2.7 2.9 3.5 3.4 4.9 3.3 6 2.1 4.8 1.5 4.2 1.8 7.3 0.8 6zM102.3-37l-1.1-0.2-2.4-1.3-3.2-2.9-2.6-3.4-3.2-6.1-1.5-4.5-0.4-4.2 0.1-1.6 0.6-1.9 1.2-1.5 0.8-0.5 2-0.4 2.7 0.6 1.7 0.8 2.3 1.8 2 2 2.5 3.4 2.5 5 0.6 1.7 0.9 4.3-0.2 4.4-1.1 2.5-1.4 1.5-0.9 0.4z"/><path fill="#4600ff" d="M63.5 2l6.2 0.2-0.2-5 0.4-5 0.6-2.6 1.1-2.4 1.6-1.6 2.6-1.3 2.7-0.7 2.7-0.2 3 0.5 1 0.4 2.2 1.8 1.3 1.9 0.8 2.1 0.8 4.2 0.2 2.1-0.2 6.4 36.9 1.2 0.1-7.5-0.4-6.1-0.7-7.4-0.7-4.5-2.6-11.8-1.7-5.8-3.1-8.5-3-6.9-2-4-2.9-5.3-4.8-7.7-3.5-4.9-4.7-5.9-4-4.5-3.2-3.2-45.1 45.1 2.6 2.7 2.9 3.5 3.4 4.9 3.3 6 2.1 4.8 1.5 4.2 1.8 7.3 0.8 6zM101.9-35.3l-3.3-1.7-3.6-3.4-2.4-3.4-3.9-7.6-1.4-3.7-0.8-5.1 0.5-3.6 1-1.7 1.5-1.2 1.9-0.5 2.5 0.3 2.8 1.3 2.4 1.7 2.1 2.1 2.6 3.3 2.1 3.7 1.7 4 1.3 5.4 0.1 3-0.6 3.2-0.8 1.7-1.1 1.3-0.8 0.5-1.7 0.6z"/><path fill="#2000ff" d="M63.5 2l5.8 0.2-0.2-6.6 0.4-4.2 0.9-3.5 1-1.7 1.9-1.5 3.2-1.3 2.7-0.5 3.2-0.1 2.6 0.6 1.4 0.7 1.9 1.8 1.3 2.4 0.7 2.7 0.6 4.3-0.1 7.6 36.4 1.1 0.1-7.5-0.4-6.1-0.7-7.4-0.7-4.5-2.6-11.8-1.7-5.8-3.1-8.5-3-6.9-2-4-2.9-5.3-4.8-7.7-3.5-4.9-4.7-5.9-4-4.5-3.2-3.2-45.1 45.1 2.6 2.7 2.9 3.5 3.4 4.9 3.3 6 2.1 4.8 1.5 4.2 1.8 7.3 0.8 6zM103.6-33.3l-2.1-0.5-2.4-1.3-1.8-1.4-3-3.1-3.6-6-3.6-7.6-1.5-4.5-0.4-3.8 0.1-1.4 0.2-1.3 0.8-2 2-2 1.9-0.6 2.4 0.1 3.1 1.1 3.2 2.2 3.9 4.2 2.1 3.1 2.3 4.2 1.5 4 1.1 4.2 0.3 2.9-0.1 2.5-0.8 3.2-1.3 2-1.6 1.3-1.8 0.5z"/><path fill="#0006ff" d="M63.5 2l5.3 0.2-0.1-8.2 0.7-5.1 1.1-2.7 1.6-1.5 2.5-1.3 3.6-1 3.7-0.3 2.9 0.4 2.1 0.9 1.6 1.4 1.2 2 1.2 4.2 0.2 2.1 0.3 3.3-0.2 6.5 36 1.1 0.1-7.5-0.4-6.1-0.7-7.4-0.7-4.5-2.6-11.8-1.7-5.8-3.1-8.5-3-6.9-2-4-2.9-5.3-4.8-7.7-3.5-4.9-4.7-5.9-4-4.5-3.2-3.2-45.1 45.1 2.6 2.7 2.9 3.5 3.4 4.9 3.3 6 2.1 4.8 1.5 4.2 1.8 7.3 0.8 6zM103.1-31.7l-3.4-1.4-3.6-3-1.7-1.9-2-3.1-2.8-5.3-4.1-8.7-0.9-2.4-0.5-2.4 0-4.6 0.3-1.2 0.9-1.9 1.2-1.4 1.6-0.9 2-0.5 2.6 0.3 3.5 1.5 2.4 1.7 2.1 2 3.5 4.5 2.3 3.7 2.4 5.2 1.7 5.4 0.5 3.5-0.1 3.9-0.6 2.4-1.2 2.3-1.5 1.4-2.7 0.9z"/><path fill="#002dff" d="M63.5 2l4.9 0.1-0.2-3.2 0.2-7.3 0.8-4.3 1-1.9 1.7-1.4 1.7-0.9 1.8-0.6 3.6-0.8 3.7-0.2 2 0.2 2.9 1.1 1.1 0.9 1.3 2 1 3.1 0.4 2.1 0.5 7.6-0.2 4.4 35.5 1.1 0.1-7.5-0.4-6.1-0.7-7.4-0.7-4.5-2.6-11.8-1.7-5.8-3.1-8.5-3-6.9-2-4-2.9-5.3-4.8-7.7-3.5-4.9-4.7-5.9-4-4.5-3.2-3.2-45.1 45.1 2.6 2.7 2.9 3.5 3.4 4.9 3.3 6 2.1 4.8 1.5 4.2 1.8 7.3 0.8 6zM102.5-30.4l-2-0.7-1.3-0.8-4.4-4-3.6-6-4.8-9.5-2.5-5.5-0.8-2.4-0.4-2.7 0.3-4 0.4-1.3 1.5-2.3 1.4-1.2 1.7-0.8 2.1-0.3 1.3 0.1 3.1 1 2.6 1.6 3.3 2.9 2.8 3.2 3.1 4.8 2.6 5.1 1.9 4.9 1.1 4.8 0.3 2.9-0.2 3.2-0.9 3.2-1.4 2-1.6 1.1-1.7 0.6-1.9 0.2z"/><path fill="#0053ff" d="M63.5 2l4.4 0.1 0-10.5 0.8-5.1 1.2-1.9 1.9-1.3 3.4-1.4 3.6-0.8 4.7-0.3 2.1 0.3 1.9 0.7 1.1 0.6 1.2 1.2 0.5 0.9 1.3 4.2 0.3 2.2 0.4 5.4-0.2 6.6 35.1 1.1 0.1-7.5-0.4-6.1-0.7-7.4-0.7-4.5-2.6-11.8-1.7-5.8-3.1-8.5-3-6.9-2-4-2.9-5.3-4.8-7.7-3.5-4.9-4.7-5.9-4-4.5-3.2-3.2-45.1 45.1 2.6 2.7 2.9 3.5 3.4 4.9 3.3 6 2.1 4.8 1.5 4.2 1.8 7.3 0.8 6zM102.9-29.1l-2.6-0.6-1.5-0.9-2.2-1.8-2.6-3-2.3-4.1-7.4-14.8-2.3-5.3-0.4-1.6-0.2-2.3 0.2-2.7 0.3-1.1 0.9-1.9 1.2-1.5 1.3-1.2 1.7-0.9 1.6-0.5 1.5-0.1 2.5 0.5 2.9 1.3 3.5 2.7 3.9 4.3 2.5 3.6 2.9 5 2.3 5.2 1.4 4.2 1.1 5.7 0 4-0.8 3.6-1.1 1.8-1.9 1.3-2.6 0.9-2.8 0.3z"/><path fill="#0079ff" d="M63.5 2l3.9 0.1-0.1-9.6 0.2-3.3 0.7-3.4 0.9-1.5 2.5-1.7 2.6-1 5.4-1.2 5.3-0.2 2.5 0.5 1.5 0.8 1.1 0.9 1.1 2 1.2 5.4 0.3 3.2 0 9.9 34.6 1.1 0.1-7.5-0.4-6.1-0.7-7.4-0.7-4.5-2.6-11.8-1.7-5.8-3.1-8.5-3-6.9-2-4-2.9-5.3-4.8-7.7-3.5-4.9-4.7-5.9-4-4.5-3.2-3.2-45.1 45.1 2.6 2.7 2.9 3.5 3.4 4.9 3.3 6 2.1 4.8 1.5 4.2 1.8 7.3 0.8 6zM103.3-27.9l-3-0.4-1.9-0.9-3.2-2.9-2.2-3.4-1.9-3.7-10.4-21.3-0.6-2.6 0-2 0.8-3.4 2.2-3.2 2.1-1.7 1.8-0.9 2-0.5 1.5 0 3.3 1 3.8 2.5 3.1 3 3.6 4.5 3.1 4.9 2.7 5.2 2.1 5.4 1.2 4.2 0.7 4.3 0.1 3.3-0.2 2.3-0.5 1.8-1.4 2-2.4 1.4-2.7 0.8z"/><path fill="#009fff" d="M63.5 2l3.4 0.1-0.1-11.1 0.2-3.1 0.6-2.8 1.3-1.7 2.5-1.4 3.6-1.2 5.4-1.1 5.7-0.2 3 0.8 1.1 0.8 0.8 1.1 0.9 2 0.8 4.4 0.3 3.3 0 11 34.2 1.1 0.1-7.5-0.4-6.1-0.7-7.4-0.7-4.5-2.6-11.8-1.7-5.8-3.1-8.5-3-6.9-2-4-2.9-5.3-4.8-7.7-3.5-4.9-4.7-5.9-4-4.5-3.2-3.2-45.1 45.1 2.6 2.7 2.9 3.5 3.4 4.9 3.3 6 2.1 4.8 1.5 4.2 1.8 7.3 0.8 6zM104.5-26.9l-3.9-0.1-2.6-0.8-1.9-1.5-1.5-1.7-2.1-3.7-5.9-12.8-5.6-10.3-2-4.4-0.3-1.3 0-1.9 0.5-2.3 0.8-1.9 1-1.6 2.6-2.7 2.4-1.5 1.6-0.6 2.5-0.3 1.8 0.3 1.5 0.6 3.8 2.5 5.1 5.3 2.6 3.5 3.1 4.9 2.7 5.2 2.6 6.8 1.2 4.2 0.7 4.4 0 5.2-0.7 2.4-1.2 1.5-1.6 1-3.5 1.1z"/><path fill="#00c6ff" d="M63.5 2l2.8 0.1-0.2-10.2 0.2-4.9 0.3-1.7 0.9-1.9 2-1.4 4.4-1.5 7.3-1.5 5.6-0.3 2 0.3 2 1 0.8 0.9 0.8 2.1 0.6 3.3 0.4 4.4 0.1 12.2 33.7 1.1 0.1-7.5-0.4-6.1-0.7-7.4-0.7-4.5-2.6-11.8-1.7-5.8-3.1-8.5-3-6.9-2-4-2.9-5.3-4.8-7.7-3.5-4.9-4.7-5.9-4-4.5-3.2-3.2-45.1 45.1 2.6 2.7 2.9 3.5 3.4 4.9 3.3 6 2.1 4.8 1.5 4.2 1.8 7.3 0.8 6zM106.6-26.1l-2.8 0.3-3.8 0-2.5-0.6-2.4-1.8-2.4-4.1-4-9.7-2.5-5.2-8.6-15.4-0.4-1.7 0.2-2.6 0.7-2.1 0.9-1.7 1.7-2.2 2-2 2.3-1.6 1.8-0.8 3.2-0.6 3.1 0.8 2.7 1.7 3.3 2.9 3.8 4.4 3.4 4.8 4.4 7.7 1.8 4 2 5.5 1.7 7.1 0.3 3-0.2 4.5-0.3 1.2-0.7 1.1-1.9 1.4-2.3 0.8z"/><path fill="#00ecff" d="M63.5 2l2 0.1-0.2-15.7 0.5-2.6 0.7-1 1.1-0.8 1.7-0.7 7.2-2 8.2-1.4 3.8-0.1 1.3 0.1 1.8 0.7 0.8 1 0.7 2.2 0.8 8.9 0 12.3 33.3 1 0.1-7.5-0.4-6.1-0.7-7.4-0.7-4.5-2.6-11.8-1.7-5.8-3.1-8.5-3-6.9-2-4-2.9-5.3-4.8-7.7-3.5-4.9-4.7-5.9-4-4.5-3.2-3.2-45.1 45.1 2.6 2.7 2.9 3.5 3.4 4.9 3.3 6 2.1 4.8 1.5 4.2 1.8 7.3 0.8 6zM111.4-26l-3.7 0.7-7.4 0.7-3.7-0.3-1.6-0.8-1.2-1.6-0.7-1.5-4-10.8-3.9-8.4-3.4-6.1-5.7-8.8-0.5-1.1-0.2-2.4 0.6-2.1 1.4-2.7 3.6-4.2 2.1-1.8 2.4-1.5 2.8-1 2.5 0 2.3 0.8 3.8 2.6 4.1 4.2 3.7 4.7 4 6.2 2.8 5.2 2.9 6.7 2.3 7 1.3 7.3 0.1 3-0.1 1.5-0.6 1.9-0.8 0.8-2.5 1.2z"/><path fill="#00ffec" d="M94.3 3l32.9 1 0.1-7.5-1.1-13.5-1.3-7.5-1.2-1.3-1.2-1.1-0.8 0.5-6.4 1-19.4 2.4-0.9 0.2-0.8 0.6-0.2 1.5 0.4 11.3zM83.5-22.6l8.4-1.4 0.6-1.1-0.1-1.1-1.9-7.8-3.2-8.6-2.5-5.2-4.1-6.9-6.3-8.3-4.7-5.1-1.3-0.3-22.2 22.2-0.1 1.2 0.5 0.5-0.1 1.2 3.9 4.6 4.2 6.2 2.8 5.3 1.8 4.2 1.9 5.7 12.5-3.3z"/><path fill="#00ffc6" d="M94.7 3l30.1 0.9 0-8.8-1-7.4-1.6-5.7-1.3-2.8-1.3-1.8-0.9-0.7-1.2-0.4-1.9-0.3-2.8 0-10.2 1.2-3.6 0.8-2.6 1-0.8 0.9-0.5 2.3zM77.6-22l6.7-1.5 5.3-1.8 0.7-0.7 0.4-0.9 0.1-1-0.7-4.7-1.6-5.5-2.6-6.3-3.2-6.1-2.5-3.9-2-2.7-3.1-3.5-0.9-0.7-1.2-0.8-1.7-0.6-2.3 0.2-2 0.6-3.3 1.9-2.9 2.3-4 3.8-2.5 2.8-2.1 3.1-0.8 2.3 0.1 2.1 0.8 2.4 7.5 13.7 2.9 4.8 1.7 2 1.7 0.7 1.9 0z"/><path fill="#00ff9f" d="M95.2 3l28.7 0.9 0.1-7.3-0.9-7.3-1.6-5.7-2.1-4.1-1.3-1.2-2.4-1-4.6-0.2-4.6 0.4-3.7 0.7-2.7 0.7-2.5 1.2-0.8 0.8-0.7 1.6-0.4 2.2-0.4 7zM72.3-21.4l10-2.3 3.6-1.2 1.6-0.8 0.7-0.4 1.2-1.5 0.2-2.5-0.7-4.5-2.1-6.5-1.8-4.2-2.8-5-3.9-5.6-3.1-3.3-2.2-1.5-1.6-0.5-1.3 0-3.1 0.7-1.7 0.8-2.4 1.5-4.2 3.6-3.2 3.4-1.6 2.3-1.2 2.8-0.1 1.6 0.3 1.8 2.3 5.2 5.8 10.4 3.3 4.7 0.7 0.6 1.7 0.8 2 0.1z"/><path fill="#00ff79" d="M95.6 3l27.6 0.9 0.2-4.4-0.5-7.3-1.3-5.7-0.9-2.4-1.6-3.1-1.2-1.2-1.9-1.1-2.8-0.6-1.9-0.1-5.6 0.5-3.6 0.8-2.8 1.2-1.4 1.1-1 1.8-0.7 3.6-0.5 6.9zM70.3-21.8l4.7-0.7 4.5-1.1 4.4-1.4 1.7-0.8 1.6-1.1 1.2-1.6 0.2-3.6-0.7-3.8-2.4-7.1-4.3-8-3.4-4.5-2.4-2.4-2.7-1.7-1.5-0.4-2 0-2.4 0.6-1.8 0.8-3.1 2.1-2.8 2.4-2.5 2.7-2.2 3.1-0.7 1.7-0.2 2.4 0.9 3.2 2.1 4.6 4.7 8.3 2.3 3.4 1.1 1.3 1.5 1.2 2.4 0.5z"/><path fill="#00ff53" d="M96.1 3l26.5 0.9 0.2-5.9-0.8-7.2-1.7-5.6-1.7-3.1-0.8-0.9-1.4-1-2-0.8-2.9-0.4-2.9 0-4.5 0.7-2.7 0.9-1.7 1-1.6 1.5-1 2.6-0.6 3.6-0.4 6.9zM74.2-22.9l7.8-2.1 2.5-1.2 1.6-1.1 1.4-2.1 0.3-1.6-0.2-3.2-1-4.3-2-5.3-2.6-5-4-5.5-2.4-2.4-3-1.9-1.8-0.4-3 0.2-3.1 1.2-1.6 1-2.9 2.3-3.2 3.4-1.6 2.3-1 2.5-0.1 2 0.2 1.2 1.1 3.2 2.1 4.4 3.6 6.3 3.2 4.4 1.5 1.4 2.2 0.8 2 0z"/><path fill="#00ff2d" d="M96.5 3l25.5 0.8 0.2-5.7-0.7-6.6-1.4-4.7-1.2-2.5-1.1-1.6-1.2-1.1-2-1.1-3-0.6-1.9-0.1-1.8 0.1-3.7 0.7-2.6 1-1.7 1.2-1.3 1.5-0.6 1.3-0.9 3.6-0.5 5.5zM71.9-23.2l1.8-0.2 5.4-1.3 2.7-1 2.4-1.3 0.8-0.6 1.4-1.8 0.5-1.4 0.1-2.4-0.6-4-1.8-5.3-1.4-3.1-2.3-3.9-1.9-2.7-3.1-3.3-1.9-1.4-2.2-0.9-1.4-0.3-1.8 0-2.3 0.6-2 0.9-3 2.1-2.7 2.6-2.3 3-0.9 2-0.3 1.3 0.1 2.7 0.9 2.9 2.8 5.9 1.6 2.8 3.2 4.7 1.8 2 1.3 1 2.1 0.5z"/><path fill="#00ff06" d="M97 3l24.5 0.8 0.2-5.7-0.4-4.3-0.6-2.9-1.4-4.1-1.3-2.3-1.5-1.7-2.7-1.5-4.8-0.6-2.8 0.3-2.7 0.8-2.5 1.4-0.9 0.8-1.5 2.3-0.7 2.1-0.9 7.8zM75.7-24.4l2.4-0.6 3.4-1.3 1.7-1 1.5-1.3 0.7-0.9 0.6-1.6 0.2-1.3-0.4-4.5-0.9-3.3-1.2-3.1-2.6-5-2.6-3.6-3.2-3.1-2.5-1.5-2-0.6-3.2 0-3.1 1.1-2.1 1.4-2.8 2.4-1.8 2.2-1 1.6-0.8 2-0.2 2.7 0.4 2.1 1.3 3.6 3 5.7 2.7 4.2 3.2 3.4 1.2 0.6 2.1 0.4 3.9-0.3z"/><path fill="#20ff00" d="M97.5 3.1l23.4 0.7 0.3-4.3-0.5-5.8-0.6-2.7-1-2.8-1.5-2.7-1-1.3-1.7-1.3-2.1-0.9-3.7-0.4-2.7 0.3-2.7 0.8-2.6 1.7-1.7 2.2-0.6 1.3-0.6 2.4-0.7 5.8zM73.1-24.5l3.9-0.8 2.6-0.9 2.7-1.4 1.4-1.2 1.2-1.9 0.4-1.3 0.1-3.6-1.3-5.4-1.3-3.1-2.2-3.9-2.6-3.6-2.4-2.3-2-1.3-2.4-0.9-3-0.3-3 0.8-2.4 1.4-1.5 1.2-2.5 2.7-1.1 1.6-1.1 3 0.1 3.2 0.4 1.8 0.9 2.4 2.1 4.4 3.1 4.9 1.7 2 1.3 1.2 2.2 1.2 1.1 0.2z"/><path fill="#46ff00" d="M98 3.1l22.3 0.7 0.3-5.7-0.5-4.3-1.2-4.2-2.3-4-1.5-1.4-1.6-0.9-3.3-0.8-1.9 0-2.7 0.5-1.8 0.7-1.7 1.1-2.4 3-1.1 3.6-0.6 4.7zM71.8-25l1.4-0.1 5.4-1.4 2.5-1.2 1.4-1.1 1.2-1.5 0.6-1.4 0.4-2.2-0.1-2.7-1-4.2-1.3-3.1-1.5-2.9-3.3-4.4-2.6-2.3-3.3-1.6-2.7-0.4-1.9 0.1-2.2 0.8-1.6 0.9-1.5 1.1-1.9 2-2 3.4-0.5 2.1 0 2.1 0.3 1.9 1.1 3.3 1.5 3 3 4.9 1.7 2 2 1.8 2.5 1z"/><path fill="#6cff00" d="M98.5 3.1l21.2 0.7 0.3-5.7-0.9-5.6-1.6-4-2-2.7-1.2-1-2-0.9-1-0.3-2.8-0.2-2.8 0.5-2.6 1.3-1 1-2.2 3.2-0.9 3.1-0.5 3.6zM74.4-26l1.3-0.2 2.7-0.9 1.6-0.8 1.6-1.2 1.4-1.6 0.5-1.3 0.5-3-0.6-4.5-2-5.1-2.3-3.7-2.4-2.8-2.4-1.9-3.3-1.4-1.6-0.3-3.2 0.3-2.6 1.2-1.5 1.1-2.5 2.8-1 2-0.6 2.7 0.1 2.4 0.5 2.4 1.6 4 1.6 2.9 2.9 3.9 1.7 1.6 1.4 1 1.3 0.5 3.9 0.2z"/><path fill="#93ff00" d="M99.1 3.1l20 0.6 0.3-5.6-0.6-4.2-0.9-2.8-1.3-2.5-1.1-1.4-1.1-1-2-1.2-2.9-0.6-2.7 0.2-2.7 1.1-0.8 0.7-1.7 1.8-1.1 1.8-0.5 1.3-0.6 2.4-0.4 3.5zM72.9-26.4l2.6-0.4 2.6-0.9 2.4-1.4 1.5-1.6 1-2.7 0.2-1.8-0.4-4-0.6-2.1-1.8-4-1.8-2.7-2.2-2.5-1.8-1.4-2.8-1.3-2.8-0.6-2.2 0.1-1.9 0.7-1.6 0.9-1.4 1.2-1.8 2.2-0.9 2.1-0.5 2.6 0.1 2 0.4 1.9 0.6 2.1 2 4.1 1.9 2.8 2.4 2.6 1.7 1.2 1.9 0.8z"/><path fill="#b9ff00" d="M99.7 3.1l18.6 0.6 0.4-2.8 0-2.8-0.8-4.7-1.1-2.8-1.1-1.7-1.5-1.6-1.7-1.2-1.9-0.6-2.8-0.1-2.7 0.9-1.7 1.3-1.8 2.3-1.4 3.2-0.7 5.1zM72-27l1.4-0.1 3.7-0.9 3.4-2.2 1.1-1.6 0.7-2.5 0.1-2.6-0.2-2-1.8-5.1-1.7-2.8-2.1-2.5-1.8-1.5-3.2-1.6-2.7-0.6-1.8 0.1-2.5 0.9-1.5 1-1.4 1.4-1.3 2-0.8 2.7-0.1 3.1 0.2 1.3 1.4 4.1 1.2 2.3 3.1 4.1 2.8 2.1 1.8 0.7z"/><path fill="#dfff00" d="M100.4 3.2l17.2 0.5 0.4-2.8 0-2.8-0.4-2.8-1.5-4-1.9-2.6-1.5-1.2-1.9-0.9-1-0.2-1.8 0.1-1.7 0.4-2.3 1.5-2.1 2.7-1.3 3.7-0.4 2.4zM74.6-28l2.2-0.7 1.6-0.9 2.2-2.2 0.9-2.7 0.1-1.8-0.1-2.3-0.8-3.1-1.4-3-1.2-1.8-1.4-1.7-2.6-2.1-3.3-1.5-2.7-0.3-2.1 0.4-1.7 0.9-1.4 1.1-1.2 1.5-0.7 1.3-0.5 1.5-0.3 2.4 0.2 2.5 0.6 2.2 1.8 3.9 2 2.8 2 1.9 1.8 1.1 1.5 0.6 2.1 0.3z"/><path fill="#fff900" d="M101.2 3.2l15.5 0.5 0.5-2.8 0-2.8-0.5-2.7-1.6-4.1-2.2-2.4-2.5-1.2-2.3-0.1-1.9 0.6-2.5 2.1-1.9 3.2-0.7 2.5-0.2 4.8zM73.4-28.6l1.4-0.2 1.7-0.6 1.7-1 0.7-0.6 1.2-1.9 0.7-3 0-1.2-0.2-2.2-0.9-3.1-1.6-2.9-1.3-1.7-1.8-1.7-1.6-1.1-2-0.9-1.4-0.3-2.4-0.1-1 0.2-0.9 0.3-2.3 1.6-1.7 2.7-0.7 3.4 0.2 2.5 0.4 1.7 0.6 1.7 1.6 3 1.4 1.8 1.6 1.5 1.7 1.2 1.3 0.6 2.1 0.4z"/><path fill="#ffd200" d="M102.1 3.2l13.7 0.4 0.4-1.6 0.2-2.5-0.2-2.7-0.8-2.7-0.7-1.4-0.6-1-1.5-1.5-1.5-1-1.9-0.4-2.7 0.6-1.9 1.5-1.6 2.3-0.8 2.1-0.4 1.9-0.1 3.6zM72.8-29.3l2.6-0.5 0.8-0.4 1.8-1.2 1.1-1.5 0.5-1.3 0.4-2.5-0.4-3.3-0.6-2.1-1.5-2.8-2.1-2.4-1.8-1.4-2.2-1-2.8-0.5-1.3 0.2-2.6 1.2-1.3 1.3-0.5 0.9-0.8 2-0.2 1.3-0.1 1.6 0.4 2.6 1.3 3.3 2 2.9 2.1 1.9 1.7 0.9 1.5 0.6z"/><path fill="#ffac00" d="M103.2 3.2l11.6 0.4 0.6-2.7-0.2-4.1-0.9-2.7-1.1-1.7-1-1-1.9-1-1.9-0.2-1.8 0.7-1.8 1.5-1.3 2.3-0.7 2.4-0.2 2.5zM72.6-30.2l1.5-0.2 1.8-0.7 1.5-1.1 0.6-0.9 0.8-1.9 0.3-2.4-0.5-3.3-1.8-3.8-2.2-2.3-1.8-1.3-1.1-0.5-2.6-0.6-1.1 0.1-1.9 0.6-2 1.9-0.8 1.4-0.5 1.7 0 3.3 1 3.2 0.8 1.6 1.7 2.1 1.4 1.3 1.9 1.1z"/><path fill="#ff8600" d="M104 2l0.4 1.3 9.1 0.3 0.8-2.7 0-2.7-0.7-2.7-0.7-1.3-1.1-1.3-1.4-0.9-1.9-0.2-0.9 0.2-1.8 1.3-0.9 1.3-1 2.5-0.2 2.5zM72.6-31.3l1.1-0.1 1.8-0.7 1-0.8 1-1.5 0.6-2.6-0.3-3.3-0.7-1.9-1.1-1.8-1.1-1.4-1.1-0.9-2-1.2-1.2-0.4-2.9 0-2.4 1.5-1.1 1.7-0.6 2.4 0.3 3.2 1 2.5 2.2 2.9 2.5 1.7 2.1 0.7z"/><path fill="#ff6000" d="M105.5 2.1l0.5 1.2 5.9 0.2 0.6-1 0.4-1.6 0.1-2.7-1-2.6-1.5-1.5-1-0.4-1.8 0.3-0.8 0.5-1 1.2-0.8 2.5-0.1 1.4zM73.1-32.5l1.9-0.7 1.5-1.9 0.6-2.3 0-1.3-0.5-2.1-1.4-2.7-0.9-1.1-1.4-1.1-2.1-1-2.3-0.1-0.9 0.3-1.5 1.1-0.8 1.1-0.5 1.4 0 3.3 0.5 1.7 1.4 2.4 2.1 1.9 1 0.6 1.3 0.4z"/><path fill="#ff3900" d="M108 2.1l0.8 0.4 1.2-0.3 0.9-1.3 0.1-2.7-0.8-1.3-0.5-0.3-1-0.1-0.9 0.4-0.7 1.4-0.2 1.3 0.3 1.2zM71.5-33.9l2-0.2 0.8-0.5 0.9-1 0.4-0.7 0.3-1.5-0.3-2.6-1.4-2.6-1.5-1.4-2.2-1-2 0.1-1.5 1-0.7 1-0.5 2.7 0.2 1.3 0.7 1.7 1.7 2.2 1.8 1.2z"/><path fill="#ff1300" d="M71-35.7l1.7-0.1 0.8-0.5 0.6-0.9 0.3-1.3-0.1-1.1-0.8-1.8-1.3-1.5-1.7-0.8-0.9 0-1 0.4-0.7 0.7-0.5 1.4 0 1.3 0.5 1.6 1.1 1.5 0.8 0.7z"/></g></g></g>
<g transform="translate(459.95 492.3) scale(0.99 1)"><g clip-path="url(#cl)"><g filter="url(#bl)"><rect x="40" y="-100" width="100" height="110" fill="#ff0086"/><path fill="#ff00ac" d="M63.5 2l63.7 2 0.1-7.5-0.4-6.1-0.7-7.4-0.7-4.5-2.6-11.8-1.7-5.8-3.1-8.5-3-6.9-2-4-2.9-5.3-4.8-7.7-3.5-4.9-4.7-5.9-4-4.5-3.2-3.2-45.1 45.1 2.6 2.7 2.9 3.5 3.4 4.9 3.3 6 2.1 4.8 1.5 4.2 1.8 7.3 0.8 6zM92.8-38.6l-2.8-0.1-0.8-0.9 0.4-1.6 2.3-1.7 1.7-0.7 2.3-0.4 1.7 0.6 0.4 1.2-1 1.7-2.4 1.4z"/><path fill="#ff00d2" d="M63.5 2l63.7 2 0.1-7.5-0.4-6.1-0.7-7.4-0.7-4.5-2.6-11.8-1.7-5.8-3.1-8.5-3-6.9-2-4-2.9-5.3-4.8-7.7-3.5-4.9-4.7-5.9-4-4.5-3.2-3.2-45.1 45.1 2.6 2.7 2.9 3.5 3.4 4.9 3.3 6 2.1 4.8 1.5 4.2 1.8 7.3 0.8 6zM93.1 1.9l-0.2-0.1 2-0.9 1 0 2 1-1.1 0.6-1 0.2-0.9 0zM93.2-37.5l-0.5 0.2-3.4 0.1-1.5-0.6-0.7-0.9 0-1.3 1.2-1.8 3.1-2.1 4.4-1.5 2.6 0.2 1.3 0.9 0.5 1.1-0.1 0.6-0.4 1.3-0.7 0.8-1.5 1.3-2.5 1.2z"/><path fill="#ff00f9" d="M63.5 2l26.4 0.8-0.8-1.1 0.7-1 0.5-0.3 2.8-0.9 3.7-0.1 2.8 0.6 1.4 0.8 0.6 1.2-0.7 1.2 26.3 0.8 0.1-7.5-0.4-6.1-0.7-7.4-0.7-4.5-2.6-11.8-1.7-5.8-3.1-8.5-3-6.9-2-4-2.9-5.3-4.8-7.7-3.5-4.9-4.7-5.9-4-4.5-3.2-3.2-45.1 45.1 2.6 2.7 2.9 3.5 3.4 4.9 3.3 6 2.1 4.8 1.5 4.2 1.8 7.3 0.8 6zM89.8-36.1l-2.1-0.3-1.5-0.7-0.7-0.9-0.1-1.3 0.6-1.4 1.9-1.9 1.6-1.1 3.3-1.6 3.6-1 2-0.2 1.8 0.5 1.2 0.9 0.6 1.2-0.5 2.2-0.7 1.1-2.1 1.8-3.3 1.7-2.7 0.7z"/><path fill="#df00ff" d="M63.5 2l23.8 0.7-0.5-1 0.5-1 1.6-1.1 4.6-1.1 3.8-0.1 2.3 0.4 2.4 0.8 1.3 0.9 0.7 1.5-0.6 1.2 23.8 0.8 0.1-7.5-0.4-6.1-0.7-7.4-0.7-4.5-2.6-11.8-1.7-5.8-3.1-8.5-3-6.9-2-4-2.9-5.3-4.8-7.7-3.5-4.9-4.7-5.9-4-4.5-3.2-3.2-45.1 45.1 2.6 2.7 2.9 3.5 3.4 4.9 3.3 6 2.1 4.8 1.5 4.2 1.8 7.3 0.8 6zM91.1-35.4l-3.3 0-1.8-0.4-1.2-0.7-0.7-0.9-0.2-1.1 0.4-1.4 1.5-2 5-3.2 2.6-1.1 3.4-1 3.3-0.2 1.7 0.7 1.1 0.9 0.6 1.2 0 1.5-0.7 1.7-2.2 2.4-2.4 1.5-2.6 1.1z"/><path fill="#b900ff" d="M63.5 2l21.9 0.7-0.4-1 0.3-1 1.2-1.1 2.9-1.1 2.7-0.6 5.6-0.2 3.7 0.6 2.8 1.2 1.3 1.3 0.3 1.3-0.4 1.2 21.8 0.7 0.1-7.5-0.4-6.1-0.7-7.4-0.7-4.5-2.6-11.8-1.7-5.8-3.1-8.5-3-6.9-2-4-2.9-5.3-4.8-7.7-3.5-4.9-4.7-5.9-4-4.5-3.2-3.2-45.1 45.1 2.6 2.7 2.9 3.5 3.4 4.9 3.3 6 2.1 4.8 1.5 4.2 1.8 7.3 0.8 6zM94.1-35.2l-5.3 0.7-2.4-0.2-1.8-0.6-1.1-0.7-0.6-0.8-0.3-1.1 0.5-1.9 0.7-1.1 2-1.8 2.4-1.6 4.9-2.4 2.7-0.9 3.2-0.7 2.6 0.2 1.6 0.7 1.1 1 0.6 1.3 0.1 1.4-0.5 1.6-0.7 1.1-2.1 2.2-2.4 1.6z"/><path fill="#9300ff" d="M63.5 2l20.1 0.6-0.3-1 0.3-1 1-0.9 2-1.1 1.8-0.6 4.6-0.9 4.7-0.1 1.8 0.1 2.8 0.6 1.9 0.6 1.8 1.1 1.2 1.4 0.3 1.3-0.4 1.3 20.1 0.6 0.1-7.5-0.4-6.1-0.7-7.4-0.7-4.5-2.6-11.8-1.7-5.8-3.1-8.5-3-6.9-2-4-2.9-5.3-4.8-7.7-3.5-4.9-4.7-5.9-4-4.5-3.2-3.2-45.1 45.1 2.6 2.7 2.9 3.5 3.4 4.9 3.3 6 2.1 4.8 1.5 4.2 1.8 7.3 0.8 6zM90.6-34l-3.9 0.1-1.8-0.3-1.5-0.5-1.1-0.7-0.7-1-0.2-1 0.2-1.3 1.1-2 1.4-1.4 2.2-1.6 3.3-1.9 4.2-1.9 2.6-0.9 4.4-0.8 2.2 0.4 2.1 1.3 1.1 1.8 0.1 1.4-0.3 1.6-1.1 2-1.4 1.5-3.1 2.2-2.6 1.2-3.5 1.2z"/><path fill="#6c00ff" d="M63.5 2l18.5 0.6-0.3-1 0.3-1 1.8-1.5 1.9-0.9 4.6-1.3 3.6-0.5 2.8-0.1 4.7 0.4 2.8 0.7 2 0.9 1.7 1.2 0.9 1.3 0.3 1.3-0.4 1.3 18.5 0.6 0.1-7.5-0.4-6.1-0.7-7.4-0.7-4.5-2.6-11.8-1.7-5.8-3.1-8.5-3-6.9-2-4-2.9-5.3-4.8-7.7-3.5-4.9-4.7-5.9-4-4.5-3.2-3.2-45.1 45.1 2.6 2.7 2.9 3.5 3.4 4.9 3.3 6 2.1 4.8 1.5 4.2 1.8 7.3 0.8 6zM93.6-33.9l-3.7 0.6-3 0.1-3.1-0.4-1.6-0.6-0.9-0.6-0.8-1-0.3-1 0.1-1.2 0.6-1.5 1.4-1.9 3-2.3 2.4-1.4 3.3-1.7 5.2-2.1 2.4-0.7 3.8-0.4 2 0.6 1.4 0.9 0.9 1 0.6 1.3 0.3 1.4-0.2 1.5-0.8 1.9-1.3 1.7-2.3 1.9-3.2 1.9-4.4 1.6z"/><path fill="#4600ff" d="M63.5 2l17.1 0.5-0.3-0.9 0.2-1 1.5-1.4 2.7-1.4 5.5-1.5 6.5-0.6 4.6 0.3 2.8 0.6 3.8 1.6 1.6 1.4 0.8 1.3 0.2 1.3-0.3 1.3 17 0.5 0.1-7.5-0.4-6.1-0.7-7.4-0.7-4.5-2.6-11.8-1.7-5.8-3.1-8.5-3-6.9-2-4-2.9-5.3-4.8-7.7-3.5-4.9-4.7-5.9-4-4.5-3.2-3.2-45.1 45.1 2.6 2.7 2.9 3.5 3.4 4.9 3.3 6 2.1 4.8 1.5 4.2 1.8 7.3 0.8 6zM91-32.9l-3.8 0.3-3-0.2-2.3-0.6-1.9-1.1-0.6-0.8-0.3-1 0-1.2 0.4-1.2 1.1-1.8 3-2.6 3.9-2.4 5.6-2.7 4.6-1.7 2.8-0.7 3.4-0.1 1.7 0.7 1.3 0.9 1.5 2.4 0.3 1.4-0.1 1.5-0.5 1.7-1.2 2-3.6 3.1-3.3 1.7-5.3 1.8z"/><path fill="#2000ff" d="M63.5 2l15.6 0.5-0.2-1 0.2-0.9 1-1.2 1-0.7 3.6-1.6 6.4-1.5 3.7-0.4 4.6 0 2.8 0.3 3.8 0.9 1.5 0.6 2.2 1.3 1.3 1.2 0.6 1.1 0.3 1.6-0.3 1.3 15.6 0.5 0.1-7.5-0.4-6.1-0.7-7.4-0.7-4.5-2.6-11.8-1.7-5.8-3.1-8.5-3-6.9-2-4-2.9-5.3-4.8-7.7-3.5-4.9-4.7-5.9-4-4.5-3.2-3.2-45.1 45.1 2.6 2.7 2.9 3.5 3.4 4.9 3.3 6 2.1 4.8 1.5 4.2 1.8 7.3 0.8 6zM94.9-33l-6.1 0.9-4.4 0-2.1-0.3-2.3-0.8-1.1-0.8-0.6-0.8-0.3-1 0.1-1.7 1-2.3 2.4-2.4 3.4-2.3 5.7-3 6-2.6 3.6-1.1 2.5-0.4 2.5 0.3 1.5 0.8 1.2 1 1.5 2.6 0.3 2.7-0.3 1.7-0.9 1.8-1.8 2.1-3.2 2.3-4.2 2z"/><path fill="#0006ff" d="M63.5 2l14.2 0.4-0.2-0.9 0.2-0.9 0.6-0.8 1.8-1.4 2.8-1.3 3.6-1.1 3.7-0.8 4.6-0.5 3.7-0.1 5.6 0.6 2.8 0.7 2.5 1.1 1.8 1.2 1.3 1.4 0.6 1.3 0.2 1.3-0.3 1.4 14.2 0.4 0.1-7.5-0.4-6.1-0.7-7.4-0.7-4.5-2.6-11.8-1.7-5.8-3.1-8.5-3-6.9-2-4-2.9-5.3-4.8-7.7-3.5-4.9-4.7-5.9-4-4.5-3.2-3.2-45.1 45.1 2.6 2.7 2.9 3.5 3.4 4.9 3.3 6 2.1 4.8 1.5 4.2 1.8 7.3 0.8 6zM92.3-32l-5.2 0.5-3.1 0-4.1-0.7-1.2-0.6-0.9-0.7-1-1.8 0.2-2.3 0.7-1.5 1-1.3 2.1-1.9 3.1-2.1 5.7-3 6.8-3.1 4.4-1.5 2.9-0.4 1.1 0 1.5 0.5 1.4 0.9 1.8 2.3 1 2.7 0 3-1.4 3-2.1 2.2-3.2 2.2-6 2.4z"/><path fill="#002dff" d="M63.5 2l12.8 0.4-0.2-0.9 0.2-0.9 0.6-0.9 1.4-1.1 3.8-1.9 2.6-0.8 5.5-1.2 4.6-0.5 5.5-0.1 4.4 0.5 2.1 0.5 1.9 0.6 2.4 1.2 1.7 1.3 1.1 1.3 0.5 1 0.3 1.7-0.3 1.4 12.8 0.4 0.1-7.5-0.4-6.1-0.7-7.4-0.7-4.5-2.6-11.8-1.7-5.8-3.1-8.5-3-6.9-2-4-2.9-5.3-4.8-7.7-3.5-4.9-4.7-5.9-4-4.5-3.2-3.2-45.1 45.1 2.6 2.7 2.9 3.5 3.4 4.9 3.3 6 2.1 4.8 1.5 4.2 1.8 7.3 0.8 6zM97-32.5l-3.6 0.8-4.7 0.6-6.1 0.1-2.9-0.4-2.2-0.9-1.5-1.5-0.4-0.9-0.1-1.1 0.2-1.2 0.6-1.4 1.4-2 4.4-3.4 6.5-3.6 5-2.4 5.2-2.1 4.5-1.3 2.3 0.1 1.1 0.4 1.8 1.3 1.7 2.4 0.6 1.3 0.7 3.5-0.3 1.9-0.5 1.3-0.6 1.1-1.9 2.2-2.5 1.8-3.4 1.7z"/><path fill="#0053ff" d="M63.5 2l11.4 0.4-0.2-0.9 0.2-0.9 0.6-0.9 1.8-1.5 2.8-1.4 3.6-1.2 7.3-1.5 5.6-0.5 4.6 0 3.7 0.4 2.8 0.6 2.9 1 2.2 1.3 2.5 2.5 0.6 1.5 0.2 1.4-0.3 1.3 11.4 0.4 0.1-7.5-0.4-6.1-0.7-7.4-0.7-4.5-2.6-11.8-1.7-5.8-3.1-8.5-3-6.9-2-4-2.9-5.3-4.8-7.7-3.5-4.9-4.7-5.9-4-4.5-3.2-3.2-45.1 45.1 2.6 2.7 2.9 3.5 3.4 4.9 3.3 6 2.1 4.8 1.5 4.2 1.8 7.3 0.8 6zM93.5-31.3l-5.9 0.8-2.6 0.1-5-0.2-2.6-0.6-2-1.3-0.7-0.7-0.3-0.9-0.2-1 0.2-1.2 1.3-2.9 2.3-2.4 3.9-2.6 5.7-3.1 7.5-3.6 4.3-1.8 4.5-1.3 2.2 0.1 1.3 0.6 1.8 1.5 0.9 1.3 1.8 3.9 0.4 2.9-0.2 1.6-1 2.3-1.3 1.7-1.5 1.4-2.4 1.5-6 2.4z"/><path fill="#0079ff" d="M63.5 2l10 0.3 0-1.7 0.5-0.9 0.9-0.9 2.4-1.5 3.8-1.5 4.4-1.2 4.6-0.8 4.6-0.5 6.5-0.2 4.6 0.4 3.8 0.8 2.9 1.2 2 1.3 1.4 1.4 0.9 1.3 0.5 1.4-0.1 2.8 10 0.3 0.1-7.5-0.4-6.1-0.7-7.4-0.7-4.5-2.6-11.8-1.7-5.8-3.1-8.5-3-6.9-2-4-2.9-5.3-4.8-7.7-3.5-4.9-4.7-5.9-4-4.5-3.2-3.2-45.1 45.1 2.6 2.7 2.9 3.5 3.4 4.9 3.3 6 2.1 4.8 1.5 4.2 1.8 7.3 0.8 6zM90.9-30.4l-5.7 0.5-5.5 0-2.5-0.4-2.3-0.9-1.5-1.4-0.6-1.9 0.5-2.3 1-2 2-2.2 4.6-3.1 5.7-3.1 11.7-5.6 3.5-1.4 2.8-0.6 2.2 0.2 1.5 0.9 1.6 1.7 1.5 2.4 1.3 3.6 0.3 3.6-0.3 1.4-1.2 2.3-1.8 1.9-1.1 0.8-4.2 2.2-5.3 1.7z"/><path fill="#009fff" d="M63.5 2l8.6 0.3 0-1.7 0.6-1.1 0.7-0.7 2.1-1.4 3.3-1.5 4.1-1.2 5.3-1.1 7.4-0.8 5.5-0.2 6.6 0.5 4.1 1.1 2.5 1.2 2.8 2.3 1.2 1.8 0.4 1.4-0.1 2.8 8.6 0.3 0.1-7.5-0.4-6.1-0.7-7.4-0.7-4.5-2.6-11.8-1.7-5.8-3.1-8.5-3-6.9-2-4-2.9-5.3-4.8-7.7-3.5-4.9-4.7-5.9-4-4.5-3.2-3.2-45.1 45.1 2.6 2.7 2.9 3.5 3.4 4.9 3.3 6 2.1 4.8 1.5 4.2 1.8 7.3 0.8 6zM96.5-31.1l-5.5 1.1-5.6 0.6-6.9 0.1-2.4-0.3-2.7-1-1.6-1.3-0.7-1.8 0.4-2.2 1.1-2.2 1.9-2.3 3-2.2 3.2-1.9 10.7-5.5 10.1-4.7 3.6-1 2.4 0.5 1.7 1.3 1.3 1.6 1.5 2.5 1.1 2.7 0.4 1.4 0.3 3-0.2 1.6-0.6 1.7-1.8 2.5-2.9 2-2.9 1.3-3.5 1.2z"/><path fill="#00c6ff" d="M63.5 2l7.3 0.2 0-1.7 1-1.6 0.9-0.8 3.6-2 6.4-1.9 4.6-0.9 8.3-0.9 8.3-0.2 5.6 0.5 1.9 0.4 2.7 1 2.2 1.3 1.7 1.4 1 1.3 0.7 1.4 0.3 1.4 0 2.9 7.2 0.2 0.1-7.5-0.4-6.1-0.7-7.4-0.7-4.5-2.6-11.8-1.7-5.8-3.1-8.5-3-6.9-2-4-2.9-5.3-4.8-7.7-3.5-4.9-4.7-5.9-4-4.5-3.2-3.2-45.1 45.1 2.6 2.7 2.9 3.5 3.4 4.9 3.3 6 2.1 4.8 1.5 4.2 1.8 7.3 0.8 6zM93-30l-4.6 0.8-6.7 0.5-5.9 0-3.2-0.6-2.7-1.6-1-1.7 0.2-2.2 1-2 2.5-3.2 1.5-1.1 5.6-3.3 10.7-5.5 12.5-6 2.8-0.6 1.1 0.1 1.2 0.5 2.3 2.1 2.3 3.7 1.1 2.7 0.9 4.4-0.4 3.4-0.8 1.6-1.2 1.4-1.5 1.2-3.4 1.7-5.2 1.8z"/><path fill="#00ecff" d="M63.5 2l6 0.2 0-1.7 0.3-0.8 1.3-1.7 3.1-1.8 5.7-1.9 6.4-1.3 9.2-1 4.6-0.3 5.6 0 5.6 0.5 1.9 0.4 3.2 1.4 2.5 1.9 1 1.1 0.6 1.1 0.8 2.8 0.1 1.5-0.2 1.4 6 0.2 0.1-7.5-0.4-6.1-0.7-7.4-0.7-4.5-2.6-11.8-1.7-5.8-3.1-8.5-3-6.9-2-4-2.9-5.3-4.8-7.7-3.5-4.9-4.7-5.9-4-4.5-3.2-3.2-45.1 45.1 2.6 2.7 2.9 3.5 3.4 4.9 3.3 6 2.1 4.8 1.5 4.2 1.8 7.3 0.8 6zM100.4-31l-6.4 1.3-9.5 1.4-11.3 0.5-3.2-0.4-2.2-1-1.2-1.4-0.4-1.7 0.4-2.2 0.8-1.6 0.8-1.3 2.3-2.6 1.6-1 21.5-10.8 7.3-3.9 3.4-1.5 2-0.3 1.2 0.2 1.4 0.9 1.1 1.1 1.8 2.4 1.4 2.6 1.1 2.7 0.8 2.8 0.3 3-0.2 2.3-0.3 1-0.9 1.5-0.7 0.8-1.6 1.1-2.9 1.5-3 1.1z"/><path fill="#00ffec" d="M63.5 2l4.6 0.1 0.1-1.6 0.5-1.6 2.1-2.1 3.2-1.5 5-1.4 6.4-1.2 10.1-1.1 6.5-0.4 5.5 0 5.6 0.4 2.8 0.7 2 0.9 2.5 2 1 1.4 0.7 1.5 0.6 3.6-0.1 2.2 4.6 0.1 0.1-7.5-0.4-6.1-0.7-7.4-0.7-4.5-2.6-11.8-1.7-5.8-3.1-8.5-3-6.9-2-4-2.9-5.3-4.8-7.7-3.5-4.9-4.7-5.9-4-4.5-3.2-3.2-45.1 45.1 2.6 2.7 2.9 3.5 3.4 4.9 3.3 6 2.1 4.8 1.5 4.2 1.8 7.3 0.8 6zM96.9-29.9l-11 1.9-16.1 1.7-2.9-0.6-1.7-1.2-0.6-0.6-0.7-1.5-0.2-1.8 0.4-2.2 1.5-2.8 2-2.5 1.4-1.2 12-5.2 11.6-5.8 10.5-5.8 2.6-1 1.1 0 1.2 0.2 1.7 1.3 2 2.5 2.2 3.9 1.6 4.1 0.7 2.9 0.2 1.5-0.1 3-0.6 1.8-0.5 0.8-1.5 1.3-3.4 1.7-7 2.3z"/><path fill="#00ffc6" d="M63.5 2l3 0.1 0.1-2.4 0.7-1.6 0.8-1 2.6-1.8 3.7-1.1 9.1-1.7 12-1.3 7.3-0.5 9.3-0.1 5.6 0.6 1 0.3 1.9 1.2 2 2.1 1 2.1 0.6 2.6 0.1 4.4 2.9 0.1 0.1-7.5-0.4-6.1-0.7-7.4-0.7-4.5-2.6-11.8-1.7-5.8-3.1-8.5-3-6.9-2-4-2.9-5.3-4.8-7.7-3.5-4.9-4.7-5.9-4-4.5-3.2-3.2-45.1 45.1 2.6 2.7 2.9 3.5 3.4 4.9 3.3 6 2.1 4.8 1.5 4.2 1.8 7.3 0.8 6zM93.4-28.8l-8.3 1.4-7.5 0.9-8.2 1.8-1.8 0.2-2-0.1-2.5-1.7-1.4-2-0.8-3.2 0.2-2 0.4-1.2 1.2-2.2 1.8-2.4 1.3-1.4 0.8-0.5 2.2-0.9 7.7-2.3 4.3-1.9 10.8-5.3 12-7 2.5-1.2 0.9-0.2 1.8 0.4 2.3 2.1 0.8 1.2 3.5 6.6 1.5 4.2 0.7 2.9 0.3 3-0.2 1.8-0.5 1.4-0.8 0.9-1.6 1-5.2 2-4.4 1.3z"/><path fill="#00ff9f" d="M69.9-6.9l2.5 0.3 8.3-1.1 14.7-1.5 7.4-0.6 11.1-0.5 2.7-0.3 2.8-0.8 1.7-1.2 0.8-0.9 1-1.6 0.5-1.9 0.2-2.7-0.3-2.9-0.6-3-1.4-4.2-1.8-2.6-1.5-1-2.8 0.1-13.5 3.4-24.8 4.4-9.7 3-1.6 1-1.1 1.5-0.5 1.8-0.1 1.7 0.3 2.3 0.6 2.3 1.6 2.9 1.8 1.4zM80.4-46.6l8.5-4 5.7-3.1 8.6-5.5 2.2-1.8 1.2-1.6 0.2-0.9-0.3-1.6-1.2-2.8-3.8-6.3-1.8-2.4-3.1-3.3-2.3-1.9-1.4-0.7-2.7-0.6-3.1 0.7-4 2.5-2.9 2.3-6.8 6.3-7.5 8.2-2.3 3-1.5 2.4-1.2 2.8-0.6 2.1-0.2 1.9 0.5 3.2 1.4 2.4 2.1 1.8 1.1 0.4 1.7 0 4.8-0.7 3.6-0.8z"/><path fill="#00ff79" d="M105.3-10.4l7-0.7 3.3-0.8 3.5-2 1.9-2.4 0.8-3.1 0-1.8-0.3-2.6-0.8-2.8-1.4-2.7-1-1.2-1.7-1.2-1-0.2-3.8 0.3-8.1 1.8-18.4 3.2-8.1 1.9-5.2 1.8-3.3 1.6-1.3 1.3-0.7 1.1-0.5 1.8-0.1 1.7 0.3 1.6 0.6 1.5 1 1.5 2.3 1.6 2.9 0.8 2.8 0.3 5.6-0.2zM83.6-48.4l7.6-3.8 4.8-2.8 6.1-4.3 1.4-1.3 1.1-1.7 0.3-1.8-0.4-1.5-1-2.8-1.4-2.6-4.4-5.9-3.2-2.8-2.2-1.1-2.7-0.2-2.9 0.9-5.5 3.6-4.9 4.2-5.9 5.9-4.7 5.8-2.4 4.3-0.9 3.1 0 2.8 0.6 2 2.4 2.9 2.1 0.9 3.6 0 4.8-0.8z"/><path fill="#00ff53" d="M80-8.9l8.9-0.4 16.6-1.7 4.5-0.6 3.8-1 3.4-1.9 1.7-1.6 1-1.5 0.5-1.6 0.1-2.9-0.5-2.9-0.5-1.4-1.8-2.5-1.4-1.1-2.8-0.8-1.4 0.1-22.1 3.6-8.1 1.8-7.9 2.8-3.3 1.8-1 0.9-1.2 1.6-0.6 2.4 0 0.8 0.5 1.6 1 1.5 2.2 1.4 4.3 1.2zM87.7-50.8l8.1-4.6 4.5-3.3 2.4-2.4 1-2.3-0.5-3-0.6-1.5-2-3.8-1.7-2.4-3-3.3-1.2-0.9-2.5-1.3-1.5-0.2-3.1 0.6-2.6 1.3-3.9 2.6-4.9 4.2-4.6 4.6-4.7 5.8-1.6 2.7-1.4 3.9 0 2.7 0.5 1.9 1.1 1.6 1.4 1.4 0.9 0.5 1.3 0.3 1.6 0.2 2-0.1 4.8-0.8 5.2-2z"/><path fill="#00ff2d" d="M86.5-9.6l11.6-1.1 9.2-1.2 5.3-1.5 1.8-0.9 2.1-1.4 1.3-1.3 1.1-1.9 0.5-3-0.2-1.5-1-2.7-1.6-2-2.2-1.2-2.1-0.4-3.1 0.1-16.3 2.4-8.2 1.7-4.4 1.4-5.9 2.7-3.2 2.5-1.5 2.6 0 1.8 0.3 0.8 1.4 1.5 2.4 1.2 3.8 1 4.8 0.5zM80.7-48l6.9-3.1 7.2-4.2 5.1-4 1.4-1.4 1.1-1.7 0.2-2-0.3-1.6-0.9-2.7-1.4-2.6-1.7-2.4-2-2.2-2.3-1.8-1.4-0.7-2.2-0.3-3.1 0.6-3.6 1.9-5 3.7-4.8 4.4-4.3 4.9-2.7 3.9-1.3 2.8-0.6 2.7 0.4 2.9 1.2 2.2 1.3 1.2 2.5 1 2.7 0.1 3.4-0.3z"/><path fill="#00ff06" d="M82.5-10.1l8.1-0.2 8.3-0.9 4.6-0.7 4.5-1 2.7-0.9 2.7-1.3 1.7-1.2 2.2-2.4 0.6-1.5 0.2-1.5-0.5-2.8-0.7-1.3-2.1-1.8-2.1-0.9-3-0.3-9.3 0.9-7.4 1.1-6.3 1.3-5.3 1.7-4.3 2-3.2 2.2-1.7 1.9-0.6 1-0.2 0.9 0.4 1.7 0.7 0.9 1.1 0.8 2.8 1.2zM83-49.4l4.4-2 7.2-4.3 3.3-2.5 2.3-2.4 1.1-1.8 0.4-1.4-0.5-3.1-0.6-1.7-1.2-2.3-1.7-2.4-1.9-2.1-2.5-1.7-1.5-0.6-2.1-0.1-3.6 1.1-5.6 3.5-4.2 3.6-3.3 3.3-2.4 2.8-2.7 3.9-1.3 2.8-0.5 2.3 0 1.1 0.5 2.2 1.8 2.4 1.8 1.2 2.4 0.4 4.3-0.2 2.8-0.7z"/><path fill="#20ff00" d="M86.2-10.6l7.2-0.4 9.1-1.3 5.4-1.5 3.6-1.5 2.1-1.4 1.2-1.1 1.4-2.1 0.4-1.5 0-1.4-0.5-1.4-0.8-1.2-1.5-1.1-1.8-0.8-2-0.5-3.9-0.1-8.4 0.8-7.3 1.2-5.4 1.4-5.2 2.1-3.2 2-2.4 2.2-0.7 1-0.3 1.1 0 0.9 0.3 0.8 0.6 0.8 1 0.7 3.3 1.3 2.8 0.6zM85.8-51.1l4.7-2.4 4.6-3.1 4.1-3.9 0.6-0.8 0.9-2.1 0-1.7-0.5-2.5-2.1-4.1-2.9-3.2-1-0.8-2-1-2.6-0.2-3 0.8-2.6 1.3-3.9 2.6-5.5 4.9-3.1 3.5-2.7 3.9-1.2 2.7-0.5 3 0.5 2.3 1 1.7 1.6 1.4 1.1 0.5 3.1 0.4 3.1-0.2 3.7-1z"/><path fill="#46ff00" d="M93.1-11.5l4.6-0.5 5.6-1.2 4.5-1.5 3.2-1.6 2.1-1.7 1.4-1.9 0.4-1.2 0-1.4-0.5-1.3-1-1.2-1-0.7-3.1-1.1-3.9-0.4-3.8 0.2-5.6 0.6-8.2 1.6-4.4 1.5-3.4 1.7-2.3 1.5-2.4 2.5-0.5 2 0.3 0.9 0.7 0.8 2.4 1.3 3.9 1 3.8 0.4 3.7 0zM81-49.5l5.2-2.2 5.6-3.1 5.1-4.1 0.8-0.8 1.8-2.7 0.3-1.9-0.1-1.6-0.8-2.9-2.3-3.7-2-2-1.3-0.8-1.5-0.6-2.7-0.1-2.9 0.8-3.9 2.1-3.3 2.4-4.7 4.4-3 3.6-1.6 2.4-1 2.1-0.5 1.8-0.1 1.5 0.4 2.3 1.8 2.5 2.3 1.2 2.4 0.3 2.6-0.1z"/><path fill="#6cff00" d="M87.3-11.8l5-0.1 5.5-0.7 5.4-1.3 4.5-1.8 3-1.9 1.5-1.6 0.7-1.5 0.1-1.4-0.5-1.3-1.2-1.2-2.7-1.2-2.1-0.5-4.1-0.2-9 1-5.4 1.2-4.4 1.6-4.2 2.4-2.4 2.3-0.5 1.1-0.1 1 0.3 0.9 0.7 0.8 2.9 1.4 2.6 0.6zM82.9-50.7l3.9-1.7 4.8-2.8 3.7-2.9 2.9-3.5 0.7-2.9 0-0.9-0.7-2.9-1.3-2.6-0.9-1.1-0.7-0.8-2.7-1.9-1.7-0.5-2.1 0-4 1.3-3.2 1.9-3.7 2.9-3.3 3.2-3.5 4.4-1.2 2.3-0.8 2.5 0 2.3 0.7 2 1.6 1.8 1.8 0.9 1.3 0.3 2.3 0.1 3.9-0.6z"/><path fill="#93ff00" d="M92.7-12.5l5-0.7 3.7-0.9 4.4-1.7 2.4-1.4 1.8-1.7 0.7-1.2 0.3-1.6-0.6-1.3-1.2-1.1-2-0.9-2.4-0.6-5.7-0.1-5.6 0.7-4.5 1-4.4 1.6-1.7 0.9-2.8 1.8-1.3 1.3-0.6 1-0.2 1.2 0.3 0.9 0.8 0.8 1.2 0.7 2 0.7 3.4 0.6zM85.3-52.1l6.1-3.5 2.2-1.7 3.1-3.4 1-2.2 0.2-3.1-0.8-2.8-1.7-2.7-1-1-1.2-0.9-1.4-0.6-1.8-0.4-2.4 0.2-4.1 1.6-3.8 2.6-3.5 3.1-3.1 3.5-1.6 2.4-1.3 3-0.3 1.6 0.1 1.3 0.7 2.1 1.4 1.6 2.1 1.1 1.5 0.3 3.8-0.2 2.8-0.7z"/><path fill="#b9ff00" d="M88.6-13l3.6-0.1 4.5-0.6 2.8-0.6 4.4-1.6 1.7-0.9 2.5-2.2 0.6-1 0.2-1.3-0.5-1.3-1.2-1-2.1-0.9-3-0.5-3.8 0-7.4 1.1-5.2 1.8-3.4 1.9-1.6 1.3-0.9 1.3-0.2 1 0.3 0.9 0.8 0.9 1.5 0.7 2.4 0.7zM81.6-51.2l4.8-1.9 4-2.4 3.6-2.9 1.3-1.5 1-1.7 0.3-0.6 0.3-1.9-0.2-3.2-1.2-2.6-0.8-1.1-2.3-1.8-2.4-0.7-2.3 0.1-2 0.5-2.6 1.2-3.1 2.1-2.8 2.4-2.6 2.7-2.3 3.2-0.8 1.7-0.6 2.2 0.2 2.8 1.1 1.8 1.7 1.4 2.8 0.7 2 0z"/><path fill="#dfff00" d="M87-13.9l4.1 0.2 4.6-0.5 5.4-1.5 1.8-0.8 2.4-1.6 1.3-1.5 0.1-1.6-0.4-0.9-1.3-1.1-2.7-0.8-2.9-0.3-5.6 0.5-5.4 1.4-3.4 1.5-2.3 1.6-1.1 1.3-0.3 1.1 0.3 0.9 0.9 0.8 1.6 0.8zM83.4-52.3l4.4-2.1 3.8-2.6 1.6-1.5 2.1-2.9 0.6-2 0.1-1.7-0.6-2.9-1.5-2.4-2.3-1.7-1.6-0.5-2.1-0.1-3 0.8-3 1.6-1.6 1.1-4.1 3.7-2.4 3-1.4 2.6-0.6 1.9 0 1.7 0.6 2 1.4 1.6 2.3 1.1 1.5 0.2 3.2-0.2z"/><path fill="#fff900" d="M90.7-14.5l4-0.3 3.6-0.8 3.5-1.5 0.9-0.5 1.6-1.6 0.4-1.3-0.5-1.2-1.5-1-1.1-0.3-1.6-0.3-3.2-0.1-2.8 0.3-3.6 0.8-3.5 1.4-2.5 1.6-0.8 0.9-0.5 1.1 0.3 1 1 0.8 2 0.7zM86.2-54.1l2.9-1.7 2.2-1.7 2.6-3 0.8-2 0.3-1.9-0.1-1.6-1-2.7-1.9-2-1.3-0.7-1.7-0.4-2.3 0.1-1.9 0.6-1.8 0.8-3.8 2.6-3.9 4-1.8 2.9-0.7 2-0.1 1.6 0.6 2.3 1.4 1.6 1.1 0.6 2.4 0.5 3-0.1z"/><path fill="#ffd200" d="M89.6-15.4l4.1-0.1 1.8-0.3 3.8-1.2 2.4-1.7 0.6-1.2-0.1-0.5-0.4-0.8-1.7-0.9-3.8-0.4-4.8 0.8-2.7 0.9-2.5 1.5-1.1 1.5 0.3 1 1.2 0.9zM82.8-53.4l3.6-1.4 3.1-2 2.7-2.6 1.1-1.9 0.6-2.3 0-1.7-0.3-1.5-1.4-2.3-2.1-1.4-2.2-0.4-1.6 0.2-1.9 0.5-2.6 1.3-4.3 3.6-2.3 2.9-0.9 1.8-0.6 2.2 0.1 1.7 1 2 1.1 0.9 2.3 0.8 2.8 0z"/><path fill="#ffac00" d="M90.1-16.5l2.4 0 2.8-0.4 2.8-1.1 1.3-1.5-0.6-1.1-2.5-0.6-2.8 0.2-1.8 0.4-2.1 0.8-1.6 1.5 0.2 1zM85.3-55l2.4-1.3 2.2-1.7 1.8-2.3 0.9-2 0.2-2.3-0.2-1.5-0.6-1.2-0.8-1.1-1.1-0.8-1.4-0.6-2.8 0-2.3 0.7-2.1 1.2-2.2 1.7-2 2-2.1 3.3-0.3 1.1-0.2 1.2 0.4 2.3 0.7 0.9 2 1.3 1.5 0.3 2.2-0.1z"/><path fill="#ff8600" d="M83.4-55.1l2.2-0.9 2.4-1.5 1.4-1.2 1.7-2.5 0.6-2.4-0.2-1.7-0.5-1.3-0.8-1-1.2-0.8-1.5-0.5-2.3 0.1-2.5 1-2.3 1.5-1.4 1.3-1.8 2.2-0.9 1.7-0.4 1.1-0.1 1.7 0.4 1.2 0.6 0.9 0.9 0.7 2 0.7z"/><path fill="#ff6000" d="M82.5-56l1.8-0.4 1.7-0.8 2.2-1.7 1.4-1.8 0.7-2.1 0-1.6-0.4-1.3-0.8-1.1-1.5-0.8-2.4-0.1-2.8 1-2.9 2.3-1.2 1.5-0.9 1.7-0.4 2 0.3 1.2 0.6 1 1 0.7 1.5 0.4z"/><path fill="#ff3900" d="M82.2-57.2l3.1-1 1.5-1.1 1.2-1.5 0.5-0.8 0.3-1.8-0.3-1.3-0.8-1.1-1.3-0.6-2.4 0.2-1.7 0.8-1.5 1.1-1.2 1.4-1.1 2.6 0.2 1.3 0.6 1 0.8 0.5z"/><path fill="#ff1300" d="M82.7-59l1.7-0.5 2-2 0.3-1.2-0.1-0.7-0.8-0.9-1.6-0.2-1 0.3-2.1 1.8-0.5 2 0.6 1z"/></g></g></g>
<clipPath id="all"><use href="#sec" transform="translate(10.00 96.3)"/><use href="#sec" transform="translate(99.90 96.3)"/><use href="#sec" transform="translate(189.80 96.3)"/><use href="#sec" transform="translate(279.70 96.3)"/><use href="#sec" transform="translate(369.60 96.3)"/><use href="#sec" transform="translate(459.50 96.3)"/><use href="#sec" transform="translate(10.45 228.3) scale(0.99 1)"/><use href="#sec" transform="translate(100.35 228.3) scale(0.99 1)"/><use href="#sec" transform="translate(190.25 228.3) scale(0.99 1)"/><use href="#sec" transform="translate(280.15 228.3) scale(0.99 1)"/><use href="#sec" transform="translate(370.05 228.3) scale(0.99 1)"/><use href="#sec" transform="translate(459.95 228.3) scale(0.99 1)"/><use href="#sec" transform="translate(10.00 360.3)"/><use href="#sec" transform="translate(99.90 360.3)"/><use href="#sec" transform="translate(189.80 360.3)"/><use href="#sec" transform="translate(279.70 360.3)"/><use href="#sec" transform="translate(369.60 360.3)"/><use href="#sec" transform="translate(459.50 360.3)"/><use href="#sec" transform="translate(10.45 492.3) scale(0.99 1)"/><use href="#sec" transform="translate(100.35 492.3) scale(0.99 1)"/><use href="#sec" transform="translate(190.25 492.3) scale(0.99 1)"/><use href="#sec" transform="translate(280.15 492.3) scale(0.99 1)"/><use href="#sec" transform="translate(370.05 492.3) scale(0.99 1)"/><use href="#sec" transform="translate(459.95 492.3) scale(0.99 1)"/></clipPath>
<rect width="617" height="550" fill="url(#mp)" clip-path="url(#all)"/>
<g fill="none" stroke="#333" stroke-opacity="0.55" stroke-width="0.5"><use href="#sec" transform="translate(10.00 96.3)"/><use href="#sec" transform="translate(99.90 96.3)"/><use href="#sec" transform="translate(189.80 96.3)"/><use href="#sec" transform="translate(279.70 96.3)"/><use href="#sec" transform="translate(369.60 96.3)"/><use href="#sec" transform="translate(459.50 96.3)"/><use href="#sec" transform="translate(10.45 228.3) scale(0.99 1)"/><use href="#sec" transform="translate(100.35 228.3) scale(0.99 1)"/><use href="#sec" transform="translate(190.25 228.3) scale(0.99 1)"/><use href="#sec" transform="translate(280.15 228.3) scale(0.99 1)"/><use href="#sec" transform="translate(370.05 228.3) scale(0.99 1)"/><use href="#sec" transform="translate(459.95 228.3) scale(0.99 1)"/><use href="#sec" transform="translate(10.00 360.3)"/><use href="#sec" transform="translate(99.90 360.3)"/><use href="#sec" transform="translate(189.80 360.3)"/><use href="#sec" transform="translate(279.70 360.3)"/><use href="#sec" transform="translate(369.60 360.3)"/><use href="#sec" transform="translate(459.50 360.3)"/><use href="#sec" transform="translate(10.45 492.3) scale(0.99 1)"/><use href="#sec" transform="translate(100.35 492.3) scale(0.99 1)"/><use href="#sec" transform="translate(190.25 492.3) scale(0.99 1)"/><use href="#sec" transform="translate(280.15 492.3) scale(0.99 1)"/><use href="#sec" transform="translate(370.05 492.3) scale(0.99 1)"/><use href="#sec" transform="translate(459.95 492.3) scale(0.99 1)"/></g>
<text transform="translate(52.8 113.7) skewX(-14)" class="w">ϖ</text><text x="61.6" y="116" class="s">1</text><text x="63.7" y="113.7">=</text><text x="72.3" y="113.7">70.3626</text><text transform="translate(145 113.7) skewX(-14)" class="w">ϖ</text><text x="153.8" y="116" class="s">2</text><text x="155.9" y="113.7">=</text><text x="164.5" y="113.7">99.3343</text><text transform="translate(234.2 113.7) skewX(-14)" class="w">ϖ</text><text x="243" y="116" class="s">3</text><text x="245.1" y="113.7">=</text><text x="253.7" y="113.7">156.2947</text><text transform="translate(326.3 113.7) skewX(-14)" class="w">ϖ</text><text x="335.1" y="116" class="s">4</text><text x="337.2" y="113.7">=</text><text x="345.8" y="113.7">159.0608</text><text transform="translate(418.5 113.7) skewX(-14)" class="w">ϖ</text><text x="427.3" y="116" class="s">5</text><text x="429.4" y="113.7">=</text><text x="438" y="113.7">183.5790</text><text transform="translate(510.7 113.7) skewX(-14)" class="w">ϖ</text><text x="519.5" y="116" class="s">6</text><text x="521.6" y="113.7">=</text><text x="530.2" y="113.7">231.6671</text><text x="277" y="133.7" letter-spacing="0">Case 1:</text><text x="314" y="133.7" class="i">l</text><text x="319.4" y="136.3" class="sl">/</text><text x="324.5" y="133.7" class="i">h</text><text x="332" y="133.7">=</text><text x="340.3" y="133.7">0</text><text transform="translate(52.8 245.7) skewX(-14)" class="w">ϖ</text><text x="61.6" y="248" class="s">1</text><text x="63.7" y="245.7">=</text><text x="72.3" y="245.7">91.8731</text><text transform="translate(142 245.7) skewX(-14)" class="w">ϖ</text><text x="150.8" y="248" class="s">2</text><text x="152.9" y="245.7">=</text><text x="161.5" y="245.7">129.4870</text><text transform="translate(234.2 245.7) skewX(-14)" class="w">ϖ</text><text x="243" y="248" class="s">3</text><text x="245.1" y="245.7">=</text><text x="253.7" y="245.7">202.4773</text><text transform="translate(326.3 245.7) skewX(-14)" class="w">ϖ</text><text x="335.1" y="248" class="s">4</text><text x="337.2" y="245.7">=</text><text x="345.8" y="245.7">203.5484</text><text transform="translate(418.5 245.7) skewX(-14)" class="w">ϖ</text><text x="427.3" y="248" class="s">5</text><text x="429.4" y="245.7">=</text><text x="438" y="245.7">238.7831</text><text transform="translate(510.7 245.7) skewX(-14)" class="w">ϖ</text><text x="519.5" y="248" class="s">6</text><text x="521.6" y="245.7">=</text><text x="530.2" y="245.7">296.7310</text><text x="270.3" y="265.7" letter-spacing="-0.38">Case 2:</text><text x="307.3" y="265.7" class="i">l</text><text x="310.9" y="268.3" class="sl">/</text><text x="316.3" y="265.7" class="i">h</text><text x="325.3" y="265.7">=</text><text x="331.6" y="265.7">0.25</text><text transform="translate(49.8 377.7) skewX(-14)" class="w">ϖ</text><text x="58.6" y="380" class="s">1</text><text x="60.7" y="377.7">=</text><text x="69.3" y="377.7">123.1199</text><text transform="translate(142 377.7) skewX(-14)" class="w">ϖ</text><text x="150.8" y="380" class="s">2</text><text x="152.9" y="377.7">=</text><text x="161.5" y="377.7">176.7302</text><text transform="translate(234.2 377.7) skewX(-14)" class="w">ϖ</text><text x="243" y="380" class="s">3</text><text x="245.1" y="377.7">=</text><text x="253.7" y="377.7">273.0730</text><text transform="translate(326.3 377.7) skewX(-14)" class="w">ϖ</text><text x="335.1" y="380" class="s">4</text><text x="337.2" y="377.7">=</text><text x="345.8" y="377.7">278.0460</text><text transform="translate(418.5 377.7) skewX(-14)" class="w">ϖ</text><text x="427.3" y="380" class="s">5</text><text x="429.4" y="377.7">=</text><text x="438" y="377.7">327.6297</text><text transform="translate(510.7 377.7) skewX(-14)" class="w">ϖ</text><text x="519.5" y="380" class="s">6</text><text x="521.6" y="377.7">=</text><text x="530.2" y="377.7">409.5919</text><text x="270.3" y="397.7" letter-spacing="-0.38">Case 3:</text><text x="307.3" y="397.7" class="i">l</text><text x="310.9" y="400.3" class="sl">/</text><text x="316.3" y="397.7" class="i">h</text><text x="325.3" y="397.7">=</text><text x="331.6" y="397.7">0.50</text><text transform="translate(49.8 509.7) skewX(-14)" class="w">ϖ</text><text x="58.6" y="512" class="s">1</text><text x="60.7" y="509.7">=</text><text x="69.3" y="509.7">154.1744</text><text transform="translate(142 509.7) skewX(-14)" class="w">ϖ</text><text x="150.8" y="512" class="s">2</text><text x="152.9" y="509.7">=</text><text x="161.5" y="509.7">225.6322</text><text transform="translate(234.2 509.7) skewX(-14)" class="w">ϖ</text><text x="243" y="512" class="s">3</text><text x="245.1" y="509.7">=</text><text x="253.7" y="509.7">351.2926</text><text transform="translate(326.3 509.7) skewX(-14)" class="w">ϖ</text><text x="335.1" y="512" class="s">4</text><text x="337.2" y="509.7">=</text><text x="345.8" y="509.7">360.0445</text><text transform="translate(418.5 509.7) skewX(-14)" class="w">ϖ</text><text x="427.3" y="512" class="s">5</text><text x="429.4" y="509.7">=</text><text x="438" y="509.7">426.9272</text><text transform="translate(510.7 509.7) skewX(-14)" class="w">ϖ</text><text x="519.5" y="512" class="s">6</text><text x="521.6" y="509.7">=</text><text x="530.2" y="509.7">538.1343</text><text x="270.3" y="529.7" letter-spacing="-0.38">Case 4:</text><text x="307.3" y="529.7" class="i">l</text><text x="310.9" y="532.3" class="sl">/</text><text x="316.3" y="529.7" class="i">h</text><text x="325.3" y="529.7">=</text><text x="331.6" y="529.7">0.75</text><rect x="587.8" y="483" width="2.2" height="12.2" fill="#000"/><path d="M0 445.8H3L0 449z" fill="#b0b0b0"/>
</svg></body></html>
